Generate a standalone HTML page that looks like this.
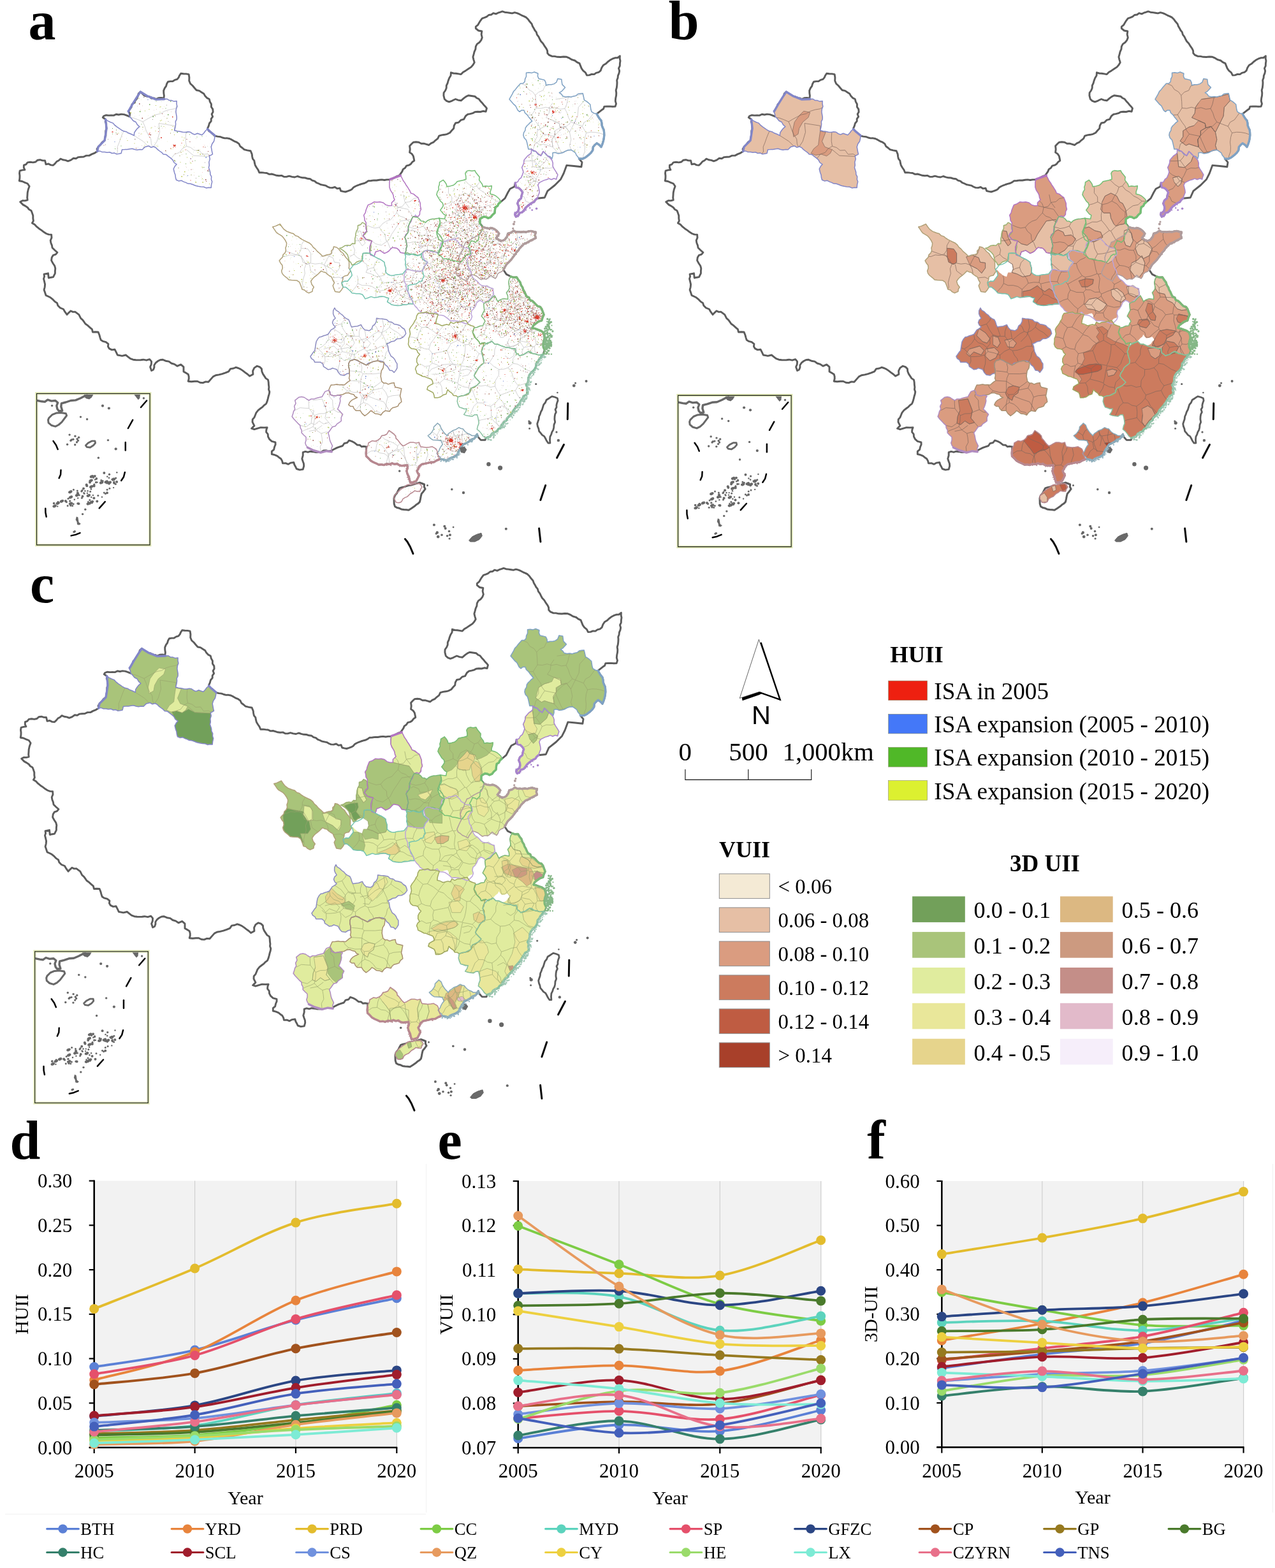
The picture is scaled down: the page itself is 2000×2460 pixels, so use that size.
<!DOCTYPE html>
<html lang="en"><head><meta charset="utf-8"><title>Figure</title>
<style>html,body{margin:0;padding:0;background:#fff}svg{display:block}</style></head>
<body>
<svg width="2000" height="2460" viewBox="0 0 2000 2460" role="img" aria-label="Urban intensity index maps and charts">
<rect width="2000" height="2460" fill="#fff"/>
<defs>
<g id="cn" fill="none" stroke="#5c5c5c" stroke-width="2.9" stroke-linejoin="round">
<path d="M500,288 L496.4,286.7 L493.5,284.2 L489.8,283.2 L486.8,280.8 L482.7,280.3 L478.7,279 L474.5,278.8 L470.5,277.8 L466.6,276.5 L462.3,278 L458,277.4 L453.6,276.1 L449.3,277.4 L445.3,277.3 L441.7,275.4 L437.7,275.8 L433.8,275.3 L430.1,274.1 L426.3,273 L422.3,273.4 L418.5,271.5 L414.6,271.1 L410.7,270.6 L406.7,270.7 L405,266.6 L402.5,263 L400.3,259.2 L399.4,255.7 L398.8,252.1 L396.4,249.1 L395.6,245.5 L395.2,241.9 L393.1,236.8 L388.1,235.9 L383.1,234.7 L380.1,232 L376.7,229.5 L374.9,225.6 L371.5,223.2 L367.5,221.6 L363.9,219.4 L360,217.5 L356.4,216.8 L352.6,216.9 L349.1,216 L345.6,214.6 L341.3,214.1 L337,213.1 L333.9,210.4 L331,207.6 L327.5,205.4 L325.5,201.6 L327.3,197.7 L328.4,193.5 L331.2,190.1 L331.2,186.3 L333.6,183.1 L332.1,179 L334.1,175.7 L333.8,171.4 L331.4,167.7 L331.4,163.3 L329.3,159.6 L328.3,155.5 L324.5,153.6 L321.7,150.6 L319.7,146.9 L316.1,144.7 L312.6,142.4 L308.2,141.5 L305.3,138.2 L302.2,134.5 L298.6,131.2 L296.7,126.7 L296.9,121.6 L296.1,116.6 L292,115.9 L287.8,115.7 L283.7,115.2 L281.7,118.2 L280.2,121.6 L277.9,124.4 L274.3,125.4 L271,127.5 L267.2,127.6 L263.5,128.2 L261.6,131.4 L260.6,135.1 L258.4,138.2 L256.7,142.1 L256.8,146.1 L257.4,150.1 L256.9,154.1 L252.7,153.5 L248.7,153.7 L244.8,155.5 L241.3,153.9 L237.3,154.2 L234.3,151.4 L230.4,151.2 L226.4,149.8 L223.3,147 L220.3,144 L217.3,146.8 L216.3,150.8 L214.8,154.6 L212.4,157.7 L210.6,161.3 L207,163.7 L206.2,167.8 L203.9,171.1 L201.6,174.3 L203.6,178.4 L203.1,182.9 L198.9,181.1 L194.7,179.6 L190.1,179.1 L186.2,180 L182.2,179.3 L178.4,181.1 L174.5,181 L170.5,181.1 L166.5,180.7 L162.7,182 L161.3,184.3 L165.6,187.2 L165.3,190.9 L166.7,194.4 L166.5,198 L167.1,201.6 L165.8,205.2 L165.8,209.1 L165.9,212.9 L164.4,216.5 L164.2,220.3 L160.4,223.2 L157.5,227.1 L154.1,230.4 L152.1,233.7 L152.6,237.6 L148.5,240.1 L144,241.9 L139.9,244.1 L135.3,244.1 L131.2,246 L126.7,246.3 L122.8,246.6 L119.2,248.8 L115.2,248.3 L111.2,251.1 L106.6,252.9 L102.8,251.4 L98.7,250.8 L95,249.1 L92.2,251.7 L88.8,253.6 L86.3,256.6 L83.5,259.2 L79.6,258.9 L76,257 L72,257.8 L70.6,252 L66.7,251.9 L62.9,250.7 L59,251.2 L55.9,254 L51.8,254.9 L47.5,254.3 L43.2,254.9 L40.9,257.8 L37.4,259.2 L37.3,263 L38.9,266.4 L34.9,266.9 L31.1,267.9 L30.5,271.8 L31,275.8 L30.9,279.8 L30.2,283.7 L34.8,284.5 L38.9,286.3 L43.2,288 L46.1,292.3 L44.3,297.2 L43.2,302.4 L43,306.2 L42.7,310.1 L43.2,313.9 L39.4,314.9 L35.3,314.8 L31.7,316.8 L36,321.1 L39.7,323.1 L43.2,325.5 L45.5,328.5 L49,330.4 L50.4,334.1 L51.8,338.3 L51.8,342.7 L52.4,346.5 L50.4,349.9 L54.4,352.3 L57.6,355.7 L61.3,358.7 L65.3,361.4 L69.1,364.3 L72.6,366.5 L76.4,367.9 L80.6,368.1 L81,372.9 L79.2,377.3 L79.9,381.2 L81.4,384.9 L82.1,388.8 L85.9,392.5 L89.9,396 L87.4,399.1 L83.5,400.3 L81.2,404.1 L80.6,408.6 L83,413 L85.8,417.3 L86.8,421.1 L86.4,425 L86.4,428.8 L83.5,434.6 L79.9,435.2 L76.3,436 L75.9,432.4 L75.5,428.8 L69.1,430.2 L69.6,433.9 L68.5,437.4 L69.6,441.7 L70.6,446.1 L70.2,450.5 L69.1,454.7 L70.6,459 L72,463.4 L75.6,465 L79.2,466.8 L83,469.9 L86.4,473.4 L89.6,475.5 L90.7,479.2 L94.4,483 L99.4,485 L102,489.4 L105.1,493.6 L107.9,490.6 L110.9,487.8 L114.3,489.4 L118.1,489.3 L123.8,493.6 L126.7,499.4 L129.6,501.8 L131.8,504.9 L133.9,508 L137.6,510.7 L141.1,513.8 L144.4,516.7 L145.4,521 L149.8,520.7 L154.1,521 L155.8,525.2 L157,529.6 L158.2,533.2 L161.3,535.4 L166.1,536.6 L169.9,539.7 L169.4,543.6 L171.4,546.9 L175.5,548.9 L180,548.3 L182.3,552.6 L184.3,557 L187.9,557.6 L191.5,558.4 L197.3,557 L200.9,559.8 L204.5,562.7 L208.7,564.2 L213.1,564.7 L217,564.9 L220.8,564.7 L224.7,564.2 L229.8,565.2 L234.7,563.6 L237.6,567.1 L237.3,571.6 L235.6,575.7 L237.6,581.5 L240.5,580 L241.9,576.5 L241.9,572.8 L244.3,569.2 L247.7,566.5 L251.1,564.7 L254.9,564.2 L259.8,566.2 L265,567.1 L268.9,570 L273.6,571.4 L277.9,574.3 L283.7,571.9 L288,575.7 L288,582.9 L291.6,585.1 L295.2,587.2 L296.2,590.9 L296.2,594.5 L295.2,598.2 L300.2,598.8 L305.3,598.2 L309.8,598.3 L313.9,600.2 L318.3,600.6 L322.5,598.9 L326.9,599.3 L331.2,594.4 L334.3,590.9 L338.4,588.7 L343.5,587.9 L348.5,586.6 L353.6,584.9 L358.6,582.9 L361.5,578.6 L366,578 L370.1,576.3 L373.8,577.5 L377.3,579.1 L381,581.6 L384.5,584.3 L388.2,587 L391.7,590.1 L396.9,587.2 L396.6,581.9 L398.9,577.1 L403.2,574.3 L407.3,575.6 L410.4,578.6 L410.8,582.8 L412.4,586.6 L414.7,590.1 L417,593.6 L420.5,595.9 L421.2,599.7 L421.4,603.6 L421.9,607.4 L421.5,611 L422.8,614.7 L422.2,618.3 L421.1,621.8 L420.2,625.7 L419.1,629.6 L417.6,633.3 L414.6,635.6 L412,638.3 L409,640.5 L405,643.7 L401.8,647.7 L400.4,651.3 L398.9,654.9 L396.2,658 L396,662.1 L398.9,667.9 L394.6,672.2 L398.9,673.6 L403.9,672.1 L409,670.7 L414.1,670.9 L419.1,670.7 L417.8,674.2 L417.6,677.9 L420.2,681.1 L420.5,685.1 L422.7,689.2 L426.3,692.3 L432,693.8 L432.1,697.5 L430.6,701 L429.6,705.3 L426.3,708.2 L426.3,712.5 L430.7,713.7 L434.9,715.4 L437.7,717.7 L440.7,719.7 L442.6,723.1 L443.5,726.9 L448,726.7 L452.2,728.3 L456.2,726.1 L460.8,725.5 L461.8,729 L463.6,732.2 L465.1,735.5 L470,737.1 L475.2,736.4 L476.7,731.2 L476.4,727.2 L475,723.5 L473.8,719.7 L475.2,714.7 L475.2,709.6 L479,708.4 L483,709.4 L486.8,708.2 L491.2,708.7 L495.6,709.6 L500,709.6 L503.9,709.2 L507.4,706.9 L511.4,706.7 L515.5,707.9 L519.4,707.3 L523,705.3 L528.8,702.4 L533.1,700.8 L537.4,699.5 L539.9,695.7 L544.8,694.5 L547.5,690.9 L551.8,692.3 L556.4,694.8 L560.5,698.1 L564.2,698.2 L567.4,700.8 L571.3,700.3 L574.9,701 L574.5,706.5 L574.2,711.1 L574.5,715.8 L578.1,719.1 L581.4,722.7 L585.9,725.2 L590.6,727.3 L594.2,729.1 L598.3,728.7 L602.1,729.6 L606.5,727.7 L611.3,728.4 L615.1,726.8 L619.1,728.3 L622.9,727.3 L626,729.6 L629.8,730.7 L634.4,730.2 L639,729.6 L639.4,734.3 L637.8,738.8 L639.1,743.6 L641.3,748 L642.4,752.6 L643.6,757.2 L648.3,756.4 L652.8,754.9 L655.2,750.3 L657.4,745.7 L655.5,742.4 L654,738.8 L656.2,735.6 L657.4,731.9 L661.5,728.5 L666.6,727.3 L671.2,726.4 L675.8,725.1 L680.5,725 L685,722.4 L689.7,720.4 L692,720.4 L696.7,721.1 L701.2,722.7 L704.2,719.8 L708.1,718.1 L712.9,716.3 L717.3,713.5 L719.4,708.7 L721.9,704.2 L724.4,700.9 L726.5,697.3 L731.3,695.3 L735.8,692.7 L739.4,689.6 L743.8,688.1 L746.4,684.8 L748.4,681.2 L749.6,685.3 L754.2,690.4 L761.1,690.4 L762.1,687.3 L765.5,685.9 L769,685 L771.5,680.6 L775.9,678.1 L779.5,676.5 L781.8,673 L785.2,671.2 L786.6,667.6 L788.9,664.7 L791.1,661.7 L794.4,659.6 L795.9,656 L798.4,653.4 L801,650.7 L803.6,648.1 L805.5,643.7 L808.5,640.1 L811.7,636.6 L814.7,633 L817,628.9 L819.7,625.1 L821.7,621.4 L825.7,619.5 L827.8,615.9 L826.5,612.1 L827.4,607.9 L825.5,604.3 L827.8,600.8 L828.8,596.9 L828.9,592.8 L830.5,588.2 L833.3,584.5 L837,581.3 L839.3,578.2 L840.9,574.6 L841.2,570.5 L843.9,567.5 L845.4,564.1 L847.8,561.3 L849.7,558.2 L852,555.9 L854.3,549 L852.3,544.6 L852,539.8 L852.8,535.1 L854.3,530.6 L853.7,525.9 L852,521.4 L847.7,518.5 L842.8,516.8 L838.8,515.4 L834.7,514.5 L836.9,510.4 L840.5,507.6 L844.6,504.4 L849.7,502.9 L851.1,498.2 L853.1,493.7 L851.4,489.1 L849.7,484.5 L847.3,481.3 L843.3,480.3 L840.5,477.6 L837.9,474.7 L835,472.1 L831.2,470.7 L829.9,466.9 L826.1,465 L824.3,461.5 L822.8,457.9 L820.8,454.6 L819.6,450.8 L817.4,447.6 L816,442.9 L813,439.1 L810.5,435 L805.8,435.3 L801.3,433.8 L794.4,430.4 L789.8,423.5 L789.8,422.9 L792.1,418.9 L794.4,414.9 L797.9,411.5 L801.3,408 L803.6,404.9 L805.9,401.9 L808.2,398.8 L810.4,395.6 L813.2,392.9 L815.1,389.5 L818.5,386 L822,382.6 L826.8,380.7 L831.2,378 L835.8,375.7 L840.5,373.4 L839.2,368.8 L840.5,364.2 L836.6,363.7 L832.9,362.4 L828.9,363 L825.2,364.2 L821.2,363.5 L817.4,364.2 L813.5,363.6 L809.5,363.9 L805.9,361.9 L801.7,365 L796.7,366.5 L795.3,371.5 L792.1,375.7 L788.8,377.4 L785.2,378 L781.7,375.7 L778.2,373.4 L780.8,370.1 L782.9,366.5 L779.8,362.7 L775.9,359.6 L771.5,357.7 L766.7,358.4 L762,357.6 L757.5,356.1 L752.9,350.4 L752.9,343.5 L758.7,340 L762.4,340.5 L765.6,342.3 L769.8,340.6 L772.6,337 L775.9,334.2 L776.4,329.6 L777.1,325 L780.5,323 L782.2,319.4 L785.2,317 L792.1,311.2 L796.7,302 L800.1,296.2 L807,292.8 L808.2,287 L809.4,293.9 L814,295.1 L817.3,298.2 L819.7,302 L818.2,306.5 L817.4,311.2 L813.5,314.5 L811.7,319.3 L813.4,323.1 L814,327.3 L813,331.1 L810,333.6 L807.7,336.5 L809.4,340 L812.9,337.8 L815.1,334.1 L819.4,332.9 L822,329.6 L824.5,325.9 L827.7,323 L831.2,320.4 L834.2,318.3 L837.8,316.8 L839.9,313.5 L842.8,311.2 L854.3,310 L858.9,299.7 L870.4,290.5 L879.6,281.2 L884.2,272 L888.8,259.4 L900.4,260.5 L911.9,261.7 L913,254.7 L908.4,249 L913.9,249.1 L918.8,246.7 L923,243.4 L926.9,239.8 L929.8,235.7 L930.3,230.6 L933,227.5 L936.1,224.8 L939.9,227.2 L943,230.6 L944.9,226 L946.4,221.3 L947.3,216.7 L947.8,212.1 L947.6,207.5 L947.1,203.7 L945.4,200.2 L944.1,196.7 L943.9,192.8 L943,189.1 L940.3,185.9 L938.1,182.4 L936.1,178.7 L943.5,172.8 L946.6,170.7 L947.9,167.1 L952.2,167 L956.5,166.9 L960.8,167.3 L965.1,167.1 L966.5,162.9 L965.3,158.4 L965.7,154.1 L966.6,149.8 L966.8,145.8 L966.2,141.7 L967.3,137.7 L967.8,133.6 L968,129.6 L967.7,125.8 L969.1,122.3 L969.4,118.6 L970.9,115.2 L971.7,111.3 L970.5,107.2 L972.3,103.4 L972.4,99.4 L973,95.5 L972.2,91.7 L972.4,87.8 L969,90.5 L964.7,90.8 L960.8,92.2 L956.9,94.3 L953.4,97 L950.2,100.1 L946.4,102.2 L943.8,106.3 L942.1,110.9 L939.1,113.4 L935.1,114.3 L932,116.6 L928.1,116.4 L924.4,117.9 L920.5,118.1 L918.4,113.8 L914.7,110.9 L912.2,107.4 L910.6,103.4 L909,99.4 L905.1,97.6 L901.8,95 L897.2,93.7 L893.1,91.2 L888.8,89.3 L884,89 L879.2,89.5 L874.4,89.3 L870.1,88.4 L865.6,88.2 L861.5,86.4 L858.8,83.6 L858.6,79.7 L857.1,76.3 L854.3,72.4 L851.8,68.3 L848.5,64.8 L846.6,61.2 L844.9,57.6 L842.4,54.3 L841.3,50.4 L838.9,47.5 L837.2,44.2 L835.3,41 L834.1,37.4 L831.1,34.1 L828.6,30.6 L825.5,27.4 L822,25.6 L818.3,24.1 L814.8,22.2 L811.1,20.7 L807.3,19.6 L803.3,20.9 L799.5,20.2 L795.6,19.6 L791.7,19.2 L788,17.9 L784.6,19.1 L781.2,20.2 L777.9,21.9 L773.8,20.7 L770.7,23 L766.7,23.5 L763.6,26.1 L760,27.7 L756.3,28.8 L753.9,32.1 L751.7,35.6 L749.6,39.2 L746.3,41.8 L746.3,44.6 L750.5,48 L755.8,49 L755.1,54 L756.3,59 L754.7,63.2 L752,66.5 L748.3,69.1 L746.3,72.9 L745.9,77.2 L744.1,81.1 L743.1,85.2 L741.9,89.3 L742.9,93.6 L744.2,97.9 L742,101.7 L739.1,105.1 L734.7,108 L730.4,110.9 L726.4,113.3 L723.2,116.6 L719.2,115.9 L715.3,115.2 L711.3,115 L707.4,113.8 L707.1,118.5 L704.7,122.4 L703.1,126.7 L702.1,130.5 L700.3,134.1 L700.2,138.2 L698.6,142 L696.1,145.5 L695.9,149.8 L697.3,155.5 L700.5,158.4 L704.5,159.9 L708,158.7 L711.2,157 L714.6,155.5 L718.8,157.1 L723.2,157.8 L727.5,154.1 L730.9,151.6 L734.7,149.8 L739.7,150.5 L744.8,151.2 L747.6,153.7 L751.1,155.3 L753.5,158.4 L756.1,161.2 L758.5,164.2 L761.1,166.9 L763.5,169.9 L762.1,175.1 L757.7,174.3 L753.5,175.5 L749.1,175.3 L744.8,175.7 L741.4,177.7 L737.5,178.6 L733.6,179.4 L730.4,182 L727.5,187.2 L722.9,188.4 L719.4,192.1 L714.6,193 L712.3,197 L711.7,201.6 L708.6,204.8 L705.7,208.2 L701.6,210.3 L697.3,211.3 L693,211.9 L688.7,213.1 L686.7,217.4 L682.9,220.3 L679.9,223.2 L676,224.8 L672.8,227.5 L668.9,226.3 L664.9,225.2 L660.7,225.2 L657,223.2 L652.6,222.8 L648.3,223.2 L645.4,226 L642.6,229 L643.2,234.1 L642.6,239.1 L646,241.4 L648.3,244.8 L649.1,248.4 L649.8,252 L646.8,254.1 L644.5,257.2 L641.4,259.2 L637.5,260.2 L635.4,263.5 L632.2,265.6 L630.8,269.1 L628.7,272.1 L626.7,275.1 L622.7,276.6 L618.9,278.6 L615.1,280.7 L610.9,281.7 L606.9,281.9 L603,282.5 L599,281.9 L595,282.3 L590.7,283 L586.4,282.9 L582.1,283.5 L577.8,283.7 L574.8,285.9 L571.5,287.5 L567.9,288.4 L564.4,289.5 L560.9,290.8 L557.6,292.3 L554.5,294.1 L551.9,296.9 L548.7,298.7 L545.3,299.9 L541.8,301 L538.2,300.3 L534.6,299.5 L533.1,295.2 L529.1,295.9 L525.3,293.5 L521.3,294.6 L517.3,294.4 L513.9,293 L510.7,291.1 L507,290.4 L503.3,289.7Z"/>
<path d="M619.5,777.3 L622.5,773.8 L624.5,769.7 L626.7,765.8 L630.3,764.6 L634,763.9 L637.6,762.7 L641.1,761.5 L645.5,760.9 L649.8,759.6 L654.1,758.4 L658.4,757.1 L662,758.5 L665.6,760 L665.3,763.8 L667.1,767.2 L664.3,770.9 L661.3,774.4 L660.2,778.7 L659.4,783.1 L658.4,787.4 L655.8,790.1 L652.6,792.1 L649.8,794.6 L645.5,797.5 L641.1,800.3 L637.3,799.7 L633.4,799.5 L629.6,798.9 L626.3,797.3 L622.7,796.5 L619.5,794.6 L618.2,790.4 L618.1,785.9 L618,781.5Z" stroke-width="3"/>
<path d="M865.8,621.8 L870.2,623 L874.4,624.7 L875.1,628.4 L873.8,631.9 L872.9,635.5 L873,639.1 L871,642.4 L872.4,646.5 L870.7,649.9 L870.1,653.5 L869.9,657.8 L870.7,662.2 L869,666.4 L868.7,670.7 L867.8,674.5 L865.8,677.9 L864.7,681.7 L862.9,685.1 L862.5,690.2 L862.9,695.2 L860,695.2 L857.6,691.8 L855.7,688 L853.8,684.6 L850.4,682.4 L848.1,679.4 L845.6,676.5 L844.9,672.6 L843.4,668.9 L842.7,665 L843.9,661.2 L845.2,657.5 L845.6,653.5 L847.2,650 L848.4,646.2 L850.3,642.8 L851.4,639.1 L852.7,634.9 L855.5,631.5 L857.1,627.5 L861.5,624.7Z" stroke-width="2.8"/>
<path d="M890.8,632.7 L890.3,657.8" stroke="#0a0a0a" stroke-width="3" stroke-linecap="round"/>
<path d="M884.5,697.5 L873.6,718.3" stroke="#0a0a0a" stroke-width="3" stroke-linecap="round"/>
<path d="M855.7,761.5 L847.9,784.5" stroke="#0a0a0a" stroke-width="3" stroke-linecap="round"/>
<path d="M845.6,829.1 L847.9,849.9" stroke="#0a0a0a" stroke-width="3" stroke-linecap="round"/>
<path d="M635.4,845.6 L639,850 L643.5,858 L648,868.7" stroke="#0a0a0a" stroke-width="3" stroke-linecap="round"/>
<circle cx="766.4" cy="728.3" r="3.2" fill="#666" stroke="none"/>
<circle cx="784.6" cy="734.1" r="3.6" fill="#666" stroke="none"/>
<circle cx="708.8" cy="767.8" r="1.8" fill="#666" stroke="none"/>
<circle cx="727.0" cy="773.0" r="2.2" fill="#666" stroke="none"/>
<circle cx="626.7" cy="739.0" r="1.8" fill="#666" stroke="none"/>
<circle cx="670.5" cy="761.5" r="1.5" fill="#666" stroke="none"/>
<circle cx="919.6" cy="597.9" r="2" fill="#666" stroke="none"/>
<circle cx="900.3" cy="605.1" r="2.4" fill="#666" stroke="none"/>
<circle cx="902.6" cy="601.0" r="1.6" fill="#666" stroke="none"/>
<circle cx="874.4" cy="616.0" r="1.3" fill="#666" stroke="none"/>
<circle cx="840.7" cy="602.5" r="1.6" fill="#666" stroke="none"/>
<circle cx="831.2" cy="663.5" r="2.6" fill="#666" stroke="none"/>
<circle cx="830.6" cy="672.2" r="1.5" fill="#666" stroke="none"/>
<circle cx="829.8" cy="660.7" r="1.5" fill="#666" stroke="none"/>
<circle cx="873.0" cy="677.9" r="1.6" fill="#666" stroke="none"/>
<circle cx="875.9" cy="690.9" r="2.2" fill="#666" stroke="none"/>
<circle cx="793.8" cy="829.7" r="2" fill="#666" stroke="none"/>
<circle cx="680.9" cy="823.4" r="2" fill="#666" stroke="none"/>
<circle cx="697.3" cy="825.7" r="2" fill="#666" stroke="none"/>
<circle cx="698.7" cy="829.1" r="2" fill="#666" stroke="none"/>
<circle cx="711.1" cy="827.1" r="1.4" fill="#666" stroke="none"/>
<circle cx="685.8" cy="835.5" r="2.2" fill="#666" stroke="none"/>
<circle cx="693.0" cy="839.2" r="1.8" fill="#666" stroke="none"/>
<circle cx="704.5" cy="833.5" r="1.8" fill="#666" stroke="none"/>
<circle cx="705.9" cy="839.2" r="2" fill="#666" stroke="none"/>
<circle cx="687.2" cy="842.1" r="2.4" fill="#666" stroke="none"/>
<circle cx="701.6" cy="840.7" r="1.8" fill="#666" stroke="none"/>
<circle cx="684.3" cy="837.2" r="1.6" fill="#666" stroke="none"/>
<circle cx="705.1" cy="845.0" r="1.6" fill="#666" stroke="none"/>
<path d="M735.6,847.9 L740.5,842.1 L747.7,838.4 L754.9,836.3 L756.3,840.7 L752,846.4 L744.8,849.9 L737.6,849.9Z" fill="#6a6a6a" stroke="#666" stroke-width="1"/>
</g>
<path id="vor" d="M182.2,241.1 L184.5,238 L184.2,230.4 L186.9,223.9 L189.2,217.2 L191.8,210.6 L193.9,206.1 M276.9,168.8 L273.2,170.8 L265.5,172.1 L258.2,174.4 L251.7,178.4 L244,180 L237.3,183.4 L230.6,187 L224,191 M224,191 L216.8,187.8 L209.3,185 L205.1,184.5 M292.5,229.4 L299.2,231.5 L304.9,236 L312.6,235.6 L317.4,242.2 L325.3,241.6 L329.2,244 M292.5,229.4 L286,233.2 L281.3,239.4 L273.9,241.9 L269,247.9 L268.4,248.3 M291.9,207.5 L291.3,213.8 L291.2,221.6 L292.5,229.4 M224,191 L227,197.9 L229.3,205 L232.6,211.7 L236.7,218.1 L237.4,225.8 L239.3,230.2 M886,170.4 L888.9,163.6 L890.5,156.3 L891.9,151.9 M886,170.4 L878.5,171.3 L871,168.8 L863.5,170.3 L856.1,168.2 L848.6,170.1 L841.1,169.5 M860.8,133 L854.9,134.9 L851.7,141.9 L844.7,144.6 L839.8,149.7 M841.1,169.5 L840.7,159.6 L839.8,149.7 M818.1,131.2 L818.2,131.4 L825.2,134.3 L829.1,140.4 L835.5,144 L839.8,149.7 M834.3,180 L827.4,180.4 M834.3,180 L841.1,169.5 M834.3,180 L837.6,186.2 L841.5,192.2 L845.8,197.8 L848.2,204.6 L852.5,210.3 M852.5,210.3 L848.4,216 L845,222.2 L838.5,226 L836.7,233.5 L835.3,235.4 M869.2,213.7 L872,220.6 L875.2,227.4 L878.1,234.3 L881.5,239.7 M869.2,213.7 L875.2,207.4 L881.6,201.5 L889.5,197.6 L895.8,191.5 M914.7,248.4 L914.5,245.3 L917.1,238.2 L917.4,230.7 L916.6,223.1 L917.5,215.7 L919.6,208.5 M895.8,191.5 L904.5,194.9 L913.3,198.2 M913.3,198.2 L919.6,208.5 M852.5,210.3 L860.8,212 L869.2,213.7 M886,170.4 L889.6,177.3 L891.9,184.8 L895.8,191.5 M947.5,211.3 L940.8,208.9 L933.7,207.6 L926.7,207.3 L919.6,208.5 M930.9,177.5 L927.5,182.3 L923.3,188 L916.5,191.8 L913.3,198.2 M832.5,319.1 L832.2,318.6 L825.2,316 L822,308.7 L818.4,307.2 M839,283.8 L844.3,275.3 L848.4,266.3 M839,283.8 L837.5,284.1 M837.5,284.1 L833.2,277.5 L825.8,274.4 L821,270.3 M848.4,266.3 L843.6,259 L838.4,252 M822.2,252.6 L830.1,252.6 L838.4,252 M845.9,286.4 L839,283.8 M867.8,262.8 L862.3,264 L855,263.6 L848.4,266.3 M818.7,299.9 L819.3,298.9 L827,295.7 L831.7,289.3 L837.5,284.1 M844.3,243.7 L843.2,246.6 L838.4,252 M476.9,377.6 L475.9,378.9 L472.4,385 L472,392.6 L468.2,398.6 M468.2,398.6 L461.3,400.6 L454,399.9 L447.3,402.6 L443.7,402.3 M508.7,415.6 L512,422.5 L513.3,429.7 M508.7,415.6 L501.6,413.3 L494.4,414.2 L487.3,412.8 L480.1,414.6 M480.1,414.6 L477.4,421.6 L478.3,429.2 L476.1,436.3 L474.4,443.4 L475.3,451 L473.8,452.9 M523.9,387.5 L522.8,391.4 L520.4,398.1 L515.1,403.1 L511.7,409.3 L508.7,415.6 M537.6,437.6 L532,434.9 L524.9,435.5 L521,436.1 M468.2,398.6 L474.9,406.1 L480.1,414.6 M554.2,382.5 L553.5,384.9 L556.6,392 L555.3,399 M555.3,399 L549.2,402.5 L546.9,404.8 M573.7,375.6 L569.6,375.9 L562.7,377.7 L557.2,377.8 M567.9,408.7 L566.7,407.5 L560.3,404.1 L555.3,399 M655.6,310.2 L648.7,311.6 L643.3,316.5 L635.8,317.5 L631.2,323.8 L624.1,325.7 M624.1,325.7 L621.5,319.1 L617.6,315.2 M612.8,390.2 L611.4,388 L608.8,381.4 L605,375.5 L604.3,367.6 L598.7,362.9 L595.3,356.7 M643.9,348.3 L639.6,346 L634.2,341.4 L627.3,339.1 L622.3,334 M595.3,356.7 L599.9,351.2 L605.7,347.2 L612.8,344.7 L617.4,339.2 L622.3,334 M575.3,353.3 L581.2,355.8 L588.1,357.9 L595.3,356.7 M624.1,325.7 L622.3,334 M638.8,380.1 L641.4,380.9 L649.4,379.5 L656.8,380.8 L663.2,386 L670.8,386.1 M669.9,392.9 L670.8,386.1 M667.2,349.3 L664.3,354.8 M690.4,370.1 L687.6,371.3 L681.3,374.6 L675.1,378.1 M664.3,354.8 L669,362.1 L670.7,370.7 L675.1,378.1 M642.1,356.3 L650,358.6 L657.2,357.3 L664.3,354.8 M670.8,386.1 L675.1,378.1 M662.5,425.3 L659.1,426.6 L651.9,426.4 M636.9,413.7 L640.8,417.4 L646.2,422 L651.9,426.4 M646.3,471.5 L644.5,470.3 L637.3,467.9 L631.1,463.7 L623.7,461.7 M648.4,445.9 L645.6,442 M645.6,442 L636.7,441.5 L628.1,443.2 L619.5,445.3 M623.7,461.7 L621.2,453.6 L619.5,445.3 M612.5,476.4 L614.1,472.4 L618.9,467.1 L623.7,461.7 M651.9,426.4 L647.9,433.9 L645.6,442 M618.3,432.1 L618.3,435 L617,443.2 M617,443.2 L619.5,445.3 M600.1,444.3 L590.3,453.9 M600.1,444.3 L597.7,437.6 L593.5,431.8 L588.9,426.3 L586.4,419.6 M590.3,453.9 L583.7,449.5 L576.3,447.7 L568.3,447.8 L561.3,444.7 M586.4,419.6 L579.4,421.5 L576,423.6 M560.2,432.3 L561.6,437.1 L561.3,444.7 M617,443.2 L608.5,442.9 L600.1,444.3 M589.9,466.4 L589.6,461.4 L590.3,453.9 M594.1,406.3 L588.5,412.2 L586.4,419.6 M551.1,458 L552.7,455.9 L557.8,450.8 L561.3,444.7 M751.9,332.8 L757.8,327.4 L764.2,322.8 L772.5,321.2 L778.2,315.5 M751.9,332.8 L744.9,327.1 L739.1,319.9 L731.1,315.5 M778.2,315.5 L772,310.8 L764.9,307.3 L759.4,301.8 L752.7,297.9 L747.6,291.8 M731.1,315.5 L734.9,308.2 L739.6,301.5 L742.2,293.6 M742.2,293.6 L747.6,291.8 M752,340.2 L754.6,342.1 M784.5,316 L778.2,315.5 M752,340.2 L751.9,332.8 M753.1,285 L752,286.3 L747.6,291.8 M728.1,282.5 L730.5,284.4 L735.9,289.6 L742.2,293.6 M702.7,292.8 L703.6,294.8 L703.4,302.7 L708.6,309 L708.8,316.8 M695.3,321.4 L695.4,321.4 L702.2,319.6 L708.8,316.8 M731.1,315.5 L724,319.1 L716.3,320.9 M716.3,320.9 L708.8,316.8 M752,340.2 L746.3,345.7 L740.8,351.3 L735.4,357.1 L729.6,362.4 M729.6,362.4 L733.2,369.4 L737.2,376.2 L741.2,378 M704.6,406.6 L705.2,404.8 L708.7,398.6 M736.8,393.3 L730.7,394.3 L723.4,396.6 L716.1,398 L708.7,398.6 M690.7,352.4 L693.8,351.2 L700.4,348.2 L707.9,348.3 L714.7,345.6 M695.2,375.6 L695.7,375.6 L702.3,379.9 M702.3,379.9 L708.1,374.8 L714.9,371 L720.9,366.1 L727.1,361.6 M714.7,345.6 L721.3,353.3 L727.1,361.6 M716.3,320.9 L715.9,329.1 L714.3,337.3 L714.7,345.6 M708.7,398.6 L704.1,389.7 L702.3,379.9 M729.6,362.4 L727.1,361.6 M773.1,383.6 L767.7,378.8 L762.8,373.6 L761.4,365.8 L756.7,363 M773.1,383.6 L781,382.1 M781,382.1 L781.8,376.1 M773.1,383.6 L765.3,392.8 M765.3,392.8 L758.2,392.4 L751.2,389.7 L743.8,392.4 L738.3,392.1 M793.5,390.2 L800.1,385.8 L805.8,380.3 L811.9,375.2 M793.5,390.2 L794.7,394 M794.7,394 L802,395.3 L806,401.2 M811.9,375.2 L815.4,382.4 L818.8,385.3 M781,382.1 L787.3,386 L793.5,390.2 M813.3,363.9 L811,367.7 L811.9,375.2 M768.8,411.6 L769,401.8 L765.3,392.8 M785,417 L790,410.1 L789.9,401 L794.7,394 M785,417 L776.7,414.7 L768.8,411.6 M785,417 L790,421.9 M743,416.3 L750.5,417.3 L757.6,419.7 M743,416.3 L737.5,421.1 L736,428.5 L731.8,434.1 L729.6,439.5 M757.6,419.7 L760.4,426.4 L761.6,433.3 L762.3,437.5 M768.8,411.6 L757.6,419.7 M735,400.2 L737.2,402.7 L739,410.1 L743,416.3 M708,429.4 L705.7,422.2 L704.4,414.7 L702.7,407.8 M708,429.4 L698.9,432.9 L689.4,434.9 M689.4,434.9 L684.5,432.6 M684.5,432.6 L680.4,426.6 L677.1,420.3 L675.4,413.3 M675.4,413.3 L681.2,407.8 L688.9,404.4 L690.5,402.6 M661.9,445.8 L669.5,441.4 L677.2,437.3 L684.5,432.6 M659.1,442.9 L661.9,445.8 M670.7,413.6 L675.4,413.3 M771.6,465.1 L770.7,464.6 L764.2,461.6 L757.3,459.9 M757.9,448.7 L757.2,450.5 L757.3,459.9 M757.3,459.9 L746.6,466.3 M744.9,480.9 L744.3,473.4 L746.6,466.3 M661.8,468.8 L666.9,474.3 L671.9,479.9 L677.8,484.6 M661.8,468.8 L655,470.8 L648.7,474.1 L648.5,474.1 M677.8,484.6 L676.7,491.6 M661.9,445.8 L665.9,455 M665.9,455 L662.6,461.5 L661.8,468.8 M727.2,506.4 L726.1,502.1 L719.4,497.9 L717.5,490.9 M744.9,480.9 L734.4,482.2 L724.2,479.5 M724.2,479.5 L717.5,490.9 M702.4,497.5 L702.5,497.4 L706.3,491.1 M706.3,491.1 L717.5,490.9 M746.3,439.8 L741.8,442.6 L735,446 M746.6,466.3 L741.3,458.8 L733.6,453.6 M735,446 L733.6,453.6 M735,446 L731.8,442.6 M708,429.4 L709.6,430.2 M709.6,430.2 L714.2,429.4 M714.4,464.7 L705.4,470.1 L699.1,478.4 M714.4,464.7 L714.7,461.2 M714.7,461.2 L712,458.1 M712,458.1 L704.5,458.4 L697.6,454.8 L690.2,454.7 M690.2,454.7 L686.4,458.7 M686.4,458.7 L688.8,467.8 L687.1,477 M687.1,477 L699.1,478.4 M724.2,479.5 L719,472.3 L714.4,464.7 M706.3,491.1 L704.1,484 L699.1,478.4 M733.6,453.6 L724,457.1 L714.7,461.2 M709.6,430.2 L712.2,437 L711.3,444.1 L710.5,451.2 L712,458.1 M689.4,434.9 L688.4,444.9 L690.2,454.7 M665.9,455 L675.9,458.6 L686.4,458.7 M677.8,484.6 L687.1,477 M661.5,513.8 L657.2,522.3 L654.8,531.5 M661.5,513.8 L656,509.3 L650.9,504.4 L650.7,503.9 M654.8,531.5 L648,529.1 L642.3,528.7 M668.5,513.1 L672.3,506.5 L676.1,499.9 L681.3,494.3 L683.3,492.6 M668.5,513.1 L661.5,513.8 M652.2,548 L652.3,547.9 L659.3,544.1 M659.3,544.1 L654.8,531.5 M656.2,572.4 L659.7,571.2 L666.6,575 L673.9,573.8 M659.3,544.1 L665.8,547 L672.8,548 M677.8,569.7 L673.9,573.8 M677.8,569.7 L676.8,562.2 L678.5,554.8 M678.5,554.8 L672.8,548 M673.9,573.8 L672.1,581.9 L671.5,590.1 L671.4,592.7 M757,555.1 L751.4,554.9 M744.7,529.3 L744.2,529.5 L738.9,534.1 L735.4,540.5 M735.4,540.5 L741,545 L746.6,549.5 L751.4,554.9 M730,509 L727.6,514.9 L723.8,520.9 L718,525.3 M718,525.3 L712.9,518.2 L707.4,511.5 L705.2,509.1 M668.5,513.1 L677.5,517.9 L685.5,524.1 M696.1,510.9 L695.9,511.1 L690.3,517.3 L685.5,524.1 M672.8,548 L675.2,539.2 L680.5,532 L685.7,524.8 M737.2,614.5 L735.1,608.1 M735.1,608.1 L737.3,599.6 L743.8,593 L744.4,590.8 M751.4,554.9 L747.8,562.5 L745,570.6 L739,576.8 M746.1,584.5 L739,576.8 M696.8,594.7 L703.9,596.6 L711,598.3 L717.9,600.9 M696.8,594.7 L689.8,600.7 M689.8,600.7 L692.9,607.1 L693.4,614.3 L694.8,619.6 M710.7,618.9 L712.6,616 L716.5,609.8 L719,602.8 M719,602.8 L717.9,600.9 M698.5,578.6 L699.6,586.9 L696.8,594.7 M677.8,569.7 L685,572 L691.3,576.3 L698.5,578.6 M679.3,601 L680.3,601.3 L689.8,600.7 M735.1,608.1 L726.6,606.8 L719,602.8 M723.6,573.9 L731.3,575.2 L739,576.8 M723.6,573.9 L721.4,582.8 L720.1,592 L717.9,600.9 M730,540.8 L729.7,549.2 L728.5,557.5 L726.6,565.6 L723,573.4 M730,540.8 L718.1,533.9 M718.1,533.9 L707.3,539.1 M707.3,539.1 L701.1,550.1 M701.1,550.1 L703.8,557.2 L705.9,564.6 L710.4,570.9 M710.4,570.9 L723,573.4 M735.4,540.5 L730,540.8 M718,525.3 L718.1,533.9 M685.7,524.8 L694.1,527.7 L700.3,534 L707.3,539.1 M678.5,554.8 L686.1,553.2 L693.6,551.8 L701.1,550.1 M698.5,578.6 L703.9,573.9 L710.4,570.9 M782.5,472.1 L777.9,479.3 L772,487.1 M760,486.1 L765.1,484.9 L772,487.1 M816.5,445.6 L811.6,448.3 L805.2,451.3 M829.9,467.7 L824.6,466.8 L815.9,466.3 L807.1,466 M805.2,451.3 L805.3,458.7 L807.1,466 M798.5,445.3 L800.7,445.6 L805.2,451.3 M815.5,493.8 L826.6,492 M826.6,492 L827.6,483.8 L830.3,476 L832.1,471.4 M798.3,480.7 L797.3,477.5 M798.3,480.7 L804.6,484.4 L811,487.9 L815.5,493.8 M797.3,477.5 L802.3,471.9 L807.1,466 M783.8,471.3 L790.7,473.3 L797.3,477.5 M759.4,524 L767.6,530.8 L770.3,535.4 M759.4,524 L752.3,525.9 L748.1,530.6 M762.5,511.2 L759.4,524 M759.2,507.4 L762.5,511.2 M826.6,492 L828.8,494.1 M851.8,496 L844.3,494.7 L836.6,494.1 L828.8,494.1 M798.3,480.7 L795.5,488.8 L788.4,494.2 L785,501.8 M815.5,493.8 L811.1,500 L807,506.4 L804.5,513.7 M804.5,513.7 L797.4,510.7 L792.3,504.4 L785,501.8 M762.5,511.2 L773.7,508.7 M784.8,529.2 L782.7,521.5 L775.5,516.6 L773.7,508.7 M772,487.1 L774.9,495.3 L778.8,503.1 M785,501.8 L778.8,503.1 M778.8,503.1 L773.7,508.7 M819.5,556.6 L818.7,551.9 L821.6,545.2 M841.9,555.8 L838.9,550.9 L838.5,543.6 M821.6,545.2 L830,543.5 L838.5,543.6 M847.9,519 L841.7,518.9 L834.9,521.2 M828.8,494.1 L828.1,503.1 L830.6,511.6 L832.4,520.3 M834.9,521.2 L832.4,520.3 M852,538.2 L848.2,540.3 L841,539.8 M834.9,521.2 L839.6,529.9 L841,539.8 M841,539.8 L838.5,543.6 M817.1,525.9 L816,537 M817.1,525.9 L810.5,521.9 L805,516.3 M816,537 L808.2,541.7 L799.4,544.1 M805,516.3 L797.1,522.6 L789.5,529.3 M799.4,544.1 L795.6,536 L795.4,535.7 M821.6,545.2 L816,537 M832.4,520.3 L824.5,522.3 L817.1,525.9 M804.5,513.7 L805,516.3 M799.2,545.3 L799.4,544.1 M784.8,529.2 L789.5,529.3 M760,569.9 L760.2,570.1 L767.7,568.6 M779.6,541 L778.4,542 L775.9,548.8 L775.7,556.6 L771.7,562.6 L767.7,568.6 M812.9,605.1 L820.5,602.8 L827.6,600.4 M812.9,605.1 L807.8,598.7 L804.6,591.2 L802.4,583.2 L797.1,576.9 M834.7,582.9 L831.3,582.3 L824.5,579.4 L818.3,575.3 L812,571.3 L804.6,570.2 M797.1,576.9 L804.6,570.2 M809.4,555.1 L809.4,556.4 L804.7,562.7 L804.6,570.2 M782.7,579.6 L774.6,574.9 L767.7,568.6 M782.7,579.6 L790.1,579.2 L797.1,576.9 M782.7,579.6 L782.3,588.8 L777.2,597 L776.5,606.1 M776.5,606.1 L769.1,607.5 L761.7,604.6 L754.3,605.7 L749.3,605.1 M808.5,612.7 L800.2,614 L792.5,617.1 L784.5,619.7 M812.9,605.1 L808.5,612.7 M776.5,606.1 L780,613.2 L784.5,619.7 M808.5,612.7 L811.6,619.3 L815.7,625.3 L817.9,627.1 M802.5,648.8 L801.2,647.5 L796.7,641.9 L791.6,636.9 L788.4,630.1 L783.4,624.9 M784.5,619.7 L783.4,624.9 M769.8,637.3 L762.7,636 L756.2,632.1 L748.8,632 M769.8,637.3 L770.8,646.3 L770.4,655.3 M770.4,655.3 L762.6,657.2 L754.7,658.8 L751,660.4 M748.8,632 L743.2,637.2 L740.2,644.2 L737.1,651.2 L735.9,652.3 M783.4,624.9 L777.3,631.9 L769.8,637.3 M740.5,609.9 L742.1,615.1 L745.2,623.6 L748.8,632 M784.5,671.3 L780.2,665.8 L774.9,661 L770.4,655.3 M711.9,682.3 L710.5,675.7 M711.9,682.3 L707.7,689.2 L700.9,693.6 M692.5,673.4 L689,675.9 L685.5,683.1 M700.9,693.6 L694.1,690.9 L686.9,690 M686.9,690 L685.5,683.1 M677.2,678.4 L679.8,678.8 L685.5,683.1 M702.8,703.5 L697,707.9 L693.8,714.5 L691,717.4 M702.8,703.5 L700.9,693.6 M715.5,684 L725.1,682.5 L733.1,680.1 M715.5,684 L717.9,690.9 L721.9,697 L724.6,700 M734.6,680.8 L736.1,687.1 L736.2,691.9 M711.9,682.3 L715.5,684 M702.8,703.5 L709.6,707.8 L717.9,708.5 L719,708.9 M656.7,733.1 L651.4,729.5 M661.2,701.3 L659.2,707.8 L655.1,714.7 L654.6,722.5 L651.4,729.5 M627.6,695.7 L623.9,699.6 M598.6,684.3 L603,688.8 L610.2,692 L617.5,695 L623.9,699.6 M643.1,730.2 L651.4,729.5 M643.1,730.2 L637.7,724 L633.8,716.5 L628.9,709.9 L622.8,704.1 M622.8,704.1 L623.9,699.6 M608.7,716 L602.9,711.7 L595.6,710.6 L589.5,707 M608.7,716 L606.8,723.1 L606.4,727.4 M589.5,707 L582.1,707.6 L576,711.4 L574.6,712.8 M593.8,690.1 L593.6,690.6 L590.6,698.5 L589.5,707 M622.8,704.1 L614.8,708.9 L608.7,716 M643.1,730.2 L639.7,734.2 M524.8,511.3 L525,511.3 L534.5,508.4 M541.1,498.7 L539.7,502.7 L534.5,508.4 M494.8,545.6 L499.4,547.5 M514.6,524.8 L515.8,531.6 M499.4,547.5 L506,543.3 L511.6,538.2 L515.8,531.6 M544.5,525.3 L538.9,517.2 L534.5,508.4 M544.5,525.3 L539.6,531.1 L540.1,539.5 L535.1,545.3 M515.8,531.6 L521.3,537.6 L529.1,540.2 L535.1,545.3 M509.6,559.6 L516.9,559.5 L524.2,558.8 L531.3,556.9 M509.6,559.6 L510,566.9 L507.2,572.6 M531.3,556.9 L533,564.1 L532.5,571.1 L530.4,578.1 L531.2,584.3 M499.4,547.5 L505.1,553 L509.6,559.6 M536.8,551.6 L535.1,545.3 M536.8,551.6 L531.3,556.9 M555.7,557.1 L546.4,553.7 L536.8,551.6 M555.7,557.1 L555.5,563.5 M566.7,510.8 L565.5,513.6 L563.4,520.4 L563.4,527.6 M586.7,510.1 L590.3,512.5 L593.5,520.2 M593.5,520.2 L587.1,523.5 L581.5,528 L576,532.6 L570.1,536.7 M563.4,527.6 L570.1,536.7 M544.5,525.3 L553.8,527.7 L563.4,527.6 M555.7,557.1 L562.5,551.3 L570.6,547.6 M570.6,547.6 L570.1,536.7 M570.6,547.6 L575.2,550.2 M584.1,567.6 L582.7,562.8 L578.1,557 L575.2,550.2 M631.7,529 L629.4,526.8 L623.7,521.7 L617,518 L611,513.3 M611,513.3 L605.3,518.4 L598.4,521.7 M598.4,521.7 L601.7,528.5 L605,535.4 L605.6,543.2 M608.4,545.3 L605.6,543.2 M600.3,567.2 L603.9,561.1 L605.6,553.2 L609,549.2 M613.9,505.7 L613.5,506.6 L611,513.3 M593.5,520.2 L598.4,521.7 M575.2,550.2 L583,549.4 L590.4,547 L597.6,543.3 L605.6,543.2 M597.3,585.9 L594.9,585.7 L586.4,586.6 L577.8,586.5 L569.2,586.5 M569.2,586.5 L566.8,583.9 M566.8,583.9 L567.8,576.8 L566.2,570.2 M549.4,581.9 L550.6,582 L558.7,582.7 L566.8,583.9 M627.5,619.7 L622.2,620.2 L615.2,620.8 L608.3,623.1 M604.1,644.2 L605.4,638.2 L606.2,630.5 L608.3,623.1 M602.4,601.2 L602.5,601.7 L599.6,608.9 M599.6,608.9 L605,615.3 L608.3,623.1 M570.3,631.5 L569,619.3 M570.3,631.5 L564.1,635.6 L559.6,641.4 L557.6,643.2 M544.8,613.2 L554.9,615.6 L565.2,615.3 M544.8,613.2 L541,616.9 M565.2,615.3 L569,619.3 M598.1,649.9 L595.8,647.1 L587.9,645.4 L583.2,639 L577.5,634.2 L570.3,631.5 M599.6,608.9 L591.6,610.6 L583.7,612.3 L577.3,618.6 L569,619.3 M537.1,603.9 L539.2,608.3 L544.8,613.2 M569.2,586.5 L566.4,593.4 L565.6,600.7 L565.7,608.1 L565.2,615.3 M514.7,678.3 L510.8,677.9 L503.8,680 M502.8,709.6 L503,708.1 L502.2,701 L505.8,694.1 L505.1,687 L503.8,680 M491.2,669.3 L484.9,672.4 L478.1,674.8 L473.4,677.2 M491.2,669.3 L496.9,675.4 L503.8,680 M523.2,642.7 L522,635.5 L521.7,628 L516.3,621.8 L516.4,618.5 M523.2,642.7 L515.8,645.4 L508.7,648.8 L500.5,649 L493.3,651.9 M484.3,628.4 L484.3,633.6 L484.8,640.7 M493.3,651.9 L489,646.4 L484.8,640.7 M534.1,646.8 L529.4,646.5 L523.2,642.7 M491.2,669.3 L493,660.7 L493.3,651.9 M462.2,643.3 L463.9,643.3 L470.7,639.7 L477.7,640.3 L484.8,640.7 M210.2,212.6 L224.6,221.8 L231.8,229 M249.1,193.5 L273.6,197.3 L273.6,205.9 M249.1,193.5 L250.5,207.4 L246.2,221.8 L240.5,230.4 M292.3,234.7 L303.8,244.2 L328.3,245.4 M871.6,155.7 L895.8,152.2 L914.2,147.6 L916.5,158 L907.3,168.3 L906.1,182.2 L898.1,198.3 L893.5,207.5 L886.5,198.3 L878.5,200.6 L877.3,193.7 L867,189.1 L856.6,184.5 L861.2,177.6 L862.3,168.3 L867,161.4 M867,189.1 L877.3,193.7 L878.5,200.6 L870.4,205.2 L870.4,212.1 L865.8,219 L867,230.6 L858.9,228.2 L852,225.9 L847.4,228.2 L838.2,221.3 L842.8,214.4 L842.8,205.2 L852,199.4 L860,197.1 M878.5,200.6 L886.5,198.3 L893.5,207.5 L895.8,219 L893.5,228.2 L895.8,235.2 L886.5,237.5 L875,239.8 L867,230.6 L865.8,219 L870.4,212.1 L870.4,205.2 M833.5,234 L840.5,237.5 L848.5,244.4 L852,237.5 L858.9,244.4 L855.4,253.6 L845.1,262.8 L835.8,261.7 L834.7,251.3 L833.5,239.8 M826.6,278.9 L835.8,276.6 L841.6,281.2 L839.3,288.2 L834.7,292.8 L828.9,285.9 M715.8,316.8 L720.4,307.6 L729.6,303 L738.8,307.6 L743.4,316.8 L748,319.1 L752.6,328.3 L754.9,339.9 L750.3,351.4 L743.4,352.5 L737.6,354.8 L734.2,351.4 L729.6,342.2 L728.4,334.1 L718.1,334.1 L713.5,328.3 M687,358.3 L695,356 L704.2,361.8 L713.5,364.1 L716.9,372.1 L711.1,375.6 L704.2,379 L695,379 L691.6,371 L684.6,364.1 M643.2,344.5 L628.2,346.8 L623.6,353.7 L614.4,367.5 L609.8,376.7 L598.2,384.8 L589,382.5 L583.3,377.9 L579.8,388.2 L581,399.8 L586.7,402.1 L589,395.2 L595.9,392.9 L602.9,397.5 L609.8,394 L615.5,388.2 L622.4,389.4 L628.2,396.3 L635.1,397.5 L638.6,385.9 L635.1,372.1 L639.7,365.2 L642,351.4 M614.4,322.6 L628.2,326 L639.7,328.3 L647.8,339.9 M632.8,305.3 L635.1,316.8 L642,326 M642,362.9 L646.6,360.6 L654.7,364.1 L657,369.8 L667.4,368.7 L674.3,374.4 L669.7,382.5 L662.8,385.9 L657,392.9 L646.6,398.6 L636.3,397.5 L638.6,385.9 L636.3,374.4 M559.1,361.8 L566,362.9 L568.3,372.1 L572.9,381.3 L568.3,385.9 L563.7,379 L559.1,372.1 M472.7,389.4 L483,390.6 L487.6,397.5 L487.6,411.3 L483,414.7 L475,411.3 L472.7,402.1 M502.6,403.2 L510.7,399.8 L522.2,404.4 L524.5,411.3 L532.6,412.4 L532.6,420.5 L526.8,428.6 L519.9,421.7 L508.4,415.9 M448.5,394 L464.6,399.8 L473.8,402.1 M485.3,414.7 L487.6,425.1 L496.9,432 M591.3,457.4 L602.9,455.1 L614.4,448.2 L619,452.8 L625.9,457.4 L632.8,452.8 L639.7,457.4 L646.6,471.2 L647.8,477 L637.4,478.1 L628.2,479.3 L614.4,478.1 L607.5,473.5 L609.8,467.7 L602.9,465.4 L591.3,466.6 M569.4,397.5 L579.8,397.5 L586.7,402.1 L595.9,406.7 L602.9,411.3 L605.2,420.5 L605.2,427.4 L602.9,432 L591.3,434.3 L582.1,429.7 L574.1,427.4 L576.4,421.7 L575.2,414.7 L568.3,410.1 M635.1,398.6 L646.6,398.6 L654.7,400.9 L661.6,397.5 L662.8,406.7 L670.8,411.3 L665.1,418.2 L662.8,425.1 L651.2,425.1 L637.4,422.8 L636.3,411.3 M688.4,477.6 L695.3,469.5 L706.8,467.2 L716,473 L722.9,477.6 L718.3,484.5 L711.4,489.1 L702.2,485.7 L693,484.5 M729.9,454.6 L739.1,452.3 L748.3,459.2 L752.9,468.4 L746,474.1 L736.8,470.7 L731,463.8 M754.1,450 L764.4,447.6 L773.6,454.6 L774.8,462.6 L766.7,466.1 L757.5,461.5 M679.2,440.7 L690.7,437.3 L702.2,438.4 L701.1,445.3 L693,450 L683.8,450 M750.6,361.9 L757.5,359.6 L762.1,366.5 L764.4,378 L759.8,387.2 L752.9,384.9 L749.4,375.7 M769,382.6 L778.2,375.7 L787.5,380.3 L794.4,389.5 L789.8,401.1 L780.5,405.7 L771.3,398.8 L767.9,389.5 M762.1,412.6 L771.3,408 L778.2,401.1 L782.9,412.6 L780.5,426.4 L773.6,435.6 L766.7,433.3 L759.8,424.1 M800.1,435 L810.5,435 L817.4,447.6 L824.3,461.5 L831.2,470.7 L840.5,477.6 L849.7,485.7 L840.5,486.8 L833.5,484.5 L826.6,475.3 L817.4,470.7 L814,461.5 L803.6,459.2 L799,452.3 L797.8,443 M835.8,492.6 L849.7,496 L850.8,502.9 L842.8,507.6 L834.7,505.3 L832.4,499.5 M787.5,475.3 L794.4,477.6 L795.5,489.1 L800.1,496 L799,502.9 L792.1,501.8 L787.5,493.7 L784,486.8 M773.6,501.8 L787.5,500.6 L790.9,507.6 L785.2,514.5 L775.9,512.2 L771.3,507.6 M805.9,519.1 L817.4,516.8 L831.2,519.1 L826.6,526 L817.4,530.6 L812.8,539.8 L803.6,544.4 L794.4,542.1 L799,530.6 M817.4,535.2 L828.9,537.5 L835.8,544.4 L831.2,553.6 L822,555.9 L815.1,558.2 L809.4,553.6 L810.5,544.4 M778.2,641.2 L787.5,636.6 L794.4,641.2 L799,650.4 L789.8,659.6 L782.9,668.8 L778.2,661.9 L779.4,650.4 M787.5,546.7 L799,545.6 L808.2,549 L805.9,558.2 L799,562.9 L792.1,558.2 M673.4,583.6 L676.9,579 L686.1,575.5 L695.3,572.1 L706.8,570.9 L714.9,573.2 L714.9,579 L709.1,582.4 L697.6,584.7 L686.1,587.1 L678,587.1 M722.9,581.3 L732.2,579 L739.1,581.3 L734.5,588.2 L725.2,590.5 M522.6,515.3 L533,522.2 L539.9,531.4 L535.3,538.3 L528.4,536 L519.2,526.8 M544.5,526.8 L552.6,529.1 L556,538.3 L551.4,545.3 L544.5,540.6 M562.9,533.7 L574.5,531.4 L581.4,538.3 L576.8,545.3 L567.6,544.1 M507.6,547.6 L523.8,542.9 L530.7,549.9 L526.1,556.8 L514.6,552.2 L507.6,559.1 L503,554.5 M533,547.6 L546.8,545.3 L553.7,552.2 L549.1,561.4 L539.9,566 L533,559.1 M599.8,500.3 L602.1,513 L597.5,526.8 L588.3,536 M551.4,513 L556,526.8 L549.1,529.1 M572.2,517.6 L574.5,531.4 M568.7,607.5 L576.8,605.2 L586,607.5 L583.7,616.7 L576.8,621.3 L574.5,628.2 L567.6,623.6 L564.1,616.7 M549.1,597.1 L565.2,598.2 L576.8,605.2 M586,607.5 L592.9,602.9 L598.7,598.2 M576.8,621.3 L588.3,625.9 L602.1,630.5 L611.3,645.5 M567.6,623.6 L565.2,635.1 L565.2,644.3 M490.4,628.2 L505.3,625.9 L508.8,635.1 L512.3,644.3 L509.9,655.9 L515.7,662.8 L507.6,665.1 L500.7,660.5 L493.8,666.2 L488.1,663.9 L489.2,653.5 L492.7,644.3 M470.8,667.4 L480,669.7 L488.1,663.9 M515.7,662.8 L521.5,669.7 M484.6,676.6 L496.1,674.3 L505.3,667.4 M592.9,691.6 L598.7,683.5 L606.7,681.2 L610.2,676.6 L618.2,682.4 L624,690.4 L633.2,701.9 L627.5,705.4 L618.2,707.7 L609,712.3 L603.3,704.2 L597.5,697.3 M633.2,701.9 L634.4,713.5 L639,729.6 M657.4,693.9 L652.8,708.8 L654,722.7 M668.9,701.9 L671.2,713.5 L666.6,727.3 M609,712.3 L611.3,728.4 M701.2,683.5 L703.5,697.3 L708.1,708.8 M710.4,675.4 L715,688.1 L712.7,699.6 M726.5,673.1 L724.2,685.8 L726.5,697.3"/>
<path id="cl-TNS" d="M220.3,144 L223.4,146.5 L226.7,148.8 L230.4,150.3 L233.9,151.9 L238,152.1 L241.2,154.6 L244.8,156.1 L249.1,155.1 L253.5,156 L257.8,155.5 L261.8,155.2 L265.4,157.4 L269.3,157.6 L273,159.1 L277.1,158.4 L277,162.8 L277.9,167.1 L276.3,171.3 L275.9,175.7 L276.5,179.5 L277.2,183.3 L277.1,187.2 L275.3,190.8 L275.6,194.8 L275.1,198.7 L273.6,204.5 L277.9,205.7 L282.2,206.2 L286.5,207.3 L290.9,207.4 L294.8,206.7 L298.5,207.3 L301.9,209.7 L305.5,211.1 L309.6,209.2 L313.2,210.5 L316.8,211.7 L319.8,208.8 L322.3,205.3 L325.5,202.5 L329.8,206.8 L333.5,209.5 L337,212.6 L336.6,217.2 L335.5,221.8 L332.7,225.8 L331.2,230.4 L331.9,234.2 L332.6,238.1 L333.5,241.9 L328.3,244.8 L329.3,249.6 L327.8,254.4 L328.3,259.2 L327.4,262.9 L328.6,266.4 L329.7,270 L329.8,273.6 L331.7,277.2 L331.4,281.4 L332.7,285.1 L331.6,289.7 L331.2,294.4 L327.3,294.2 L323.4,294.9 L319.7,293.2 L315.2,292.9 L310.9,292.3 L306.6,291.2 L302.4,289.5 L298.8,288.3 L294.9,288.1 L291.5,286.4 L288,285.1 L284.4,283.2 L280.2,283.9 L276.5,282.3 L275.4,278.5 L275,274.5 L273.6,270.7 L272.2,265 L274.2,261.1 L277.1,257.8 L273,255 L270.7,250.6 L267.2,247.6 L263.5,244.8 L260.5,242.4 L256.2,242.1 L253.5,239.1 L250.4,237 L247.4,234.7 L244.8,231.9 L241.2,230 L236.8,231.2 L233.3,229 L227.5,230.4 L223.2,234.7 L219.2,234.6 L215.2,235.2 L211.3,234.5 L207.4,233.3 L203.4,233.7 L199.5,234.4 L195.5,234.6 L191.5,234.7 L190.1,240.5 L186.5,241.2 L182.9,241.8 L179.3,239.9 L175.7,240.5 L172.1,238.8 L168,239.3 L164.2,238.5 L160.3,238.6 L156.5,236.9 L152.6,237.6 L153.7,234.1 L154.1,230.4 L157.6,227.1 L161.3,224.1 L164.2,220.3 L164,216.4 L164.6,212.7 L165.9,209.1 L165.6,205.2 L167.1,201.6 L166.7,198 L166.5,194.4 L166.3,190.8 L165.6,187.2 L169,189.6 L172.8,191.5 L177.1,193.1 L180.1,196.4 L183.5,199.2 L187.2,201.6 L190.5,204 L194.1,205.8 L198.1,206.7 L201.6,208.8 L206,210.5 L210.3,212.6 L210.7,208.2 L213.1,204.5 L215.7,201.3 L218.9,198.7 L215.4,195.6 L213.1,191.5 L209,189.5 L206.2,186 L203.1,182.9 L202.3,178.4 L200.2,174.3 L203.5,171.6 L205.1,167.7 L207.4,164.2 L209.7,160.2 L212.4,156.6 L214.6,152.6 L217.9,148.6Z"/>
<path id="cl-HC" d="M825.5,114.2 L829.7,113.8 L834.1,114.4 L838.2,113 L843.9,115.3 L843.4,119.5 L845.1,123.4 L849.7,124.4 L854.3,125.7 L856.1,129.6 L856.6,133.8 L860.6,132.7 L865,132.7 L869,131.6 L872.7,129.2 L875,123.4 L880.8,124.6 L881.3,128.6 L881.9,132.6 L886.5,137.2 L883.8,140.3 L881,143.3 L877.3,145.3 L880.7,147.7 L883.1,151.1 L887.3,152 L891.6,151.5 L895.8,152.2 L899.4,150.9 L903.3,150.3 L906.5,147.5 L910.3,146.8 L914.2,146.5 L915.4,151.6 L916.5,156.8 L919.8,158.8 L922.8,161.2 L925.7,163.7 L926.3,167.6 L926.8,171.5 L928,175.3 L931.8,177.7 L936.1,178.7 L938.1,182.4 L940.3,185.9 L943,189.1 L943.9,192.8 L944.1,196.7 L945.4,200.2 L947.1,203.7 L947.6,207.5 L947.8,212.1 L947.3,216.7 L946.4,221.3 L944.9,226 L943,230.6 L939.9,227.2 L936.1,224.8 L933,227.5 L930.3,230.6 L929.8,235.7 L926.9,239.8 L923,243.4 L918.8,246.7 L913.9,249.1 L908.4,249 L906.4,246 L904.1,243.2 L902.7,239.8 L899.3,237.4 L895.8,235.2 L890.9,235.4 L886.5,237.5 L883,239.6 L879.1,240.6 L875,240.9 L871.2,239.2 L867,239.8 L867.1,244.5 L865.8,249 L863,245.8 L858.9,244.4 L855.3,241.1 L852,237.5 L850.7,241.2 L848.5,244.4 L843.7,241.9 L840.5,237.5 L836.4,236.9 L833.5,234 L828.9,234 L827.8,228.8 L826.6,223.6 L825.3,219.5 L822.2,216.2 L820.9,212.1 L821.6,208.2 L823.8,204.6 L824.3,200.6 L826.4,197.5 L829.1,195 L831.6,192.3 L834.7,190.2 L832,186.8 L829.2,183.4 L826.6,179.9 L823.4,177 L822,172.9 L818.1,172.9 L815.1,175.3 L812.2,172.9 L810.5,169.5 L808.8,166.1 L805.9,163.7 L802.5,159.7 L799,155.7 L801.3,151.6 L803.6,147.6 L805.5,143.6 L808.5,140.4 L811.1,137 L814,133.8 L816.5,130.9 L820.7,130.8 L823.2,128 L823.6,123.8 L825.5,120Z"/>
<path id="cl-SCL" d="M833.5,234 L837,235.8 L840.5,237.5 L844.3,241.2 L848.5,244.4 L850,240.8 L852,237.5 L855.8,240.6 L858.9,244.4 L862.6,247.6 L865.8,251.3 L867.3,255.8 L867.1,260.8 L869.3,265.1 L871.3,268.1 L873.2,271.2 L875,274.3 L873.6,277.7 L872.7,281.2 L868.9,280 L864.9,281.8 L861.2,280.1 L857.4,281.8 L853.4,282.9 L849.7,284.7 L845.9,286.7 L843.9,290.5 L844.9,294.3 L845.8,298.1 L846.2,302 L844.4,306.6 L842.8,311.2 L839.9,313.5 L837.8,316.8 L834.2,318.3 L831.2,320.4 L827.7,323 L824.5,325.9 L822,329.6 L819.4,332.9 L815.1,334.1 L812.9,337.8 L809.4,340 L807.7,336.5 L810,333.6 L813,331.1 L814,327.3 L813.4,323.1 L811.7,319.3 L813.5,314.5 L817.4,311.2 L818.2,306.5 L819.7,302 L817.3,298.2 L814,295.1 L809.4,293.9 L808.2,287 L812.1,285.3 L814.2,281.4 L817.4,278.9 L819.4,274.4 L820.9,269.7 L819.9,266.2 L818.6,262.8 L820.4,259.2 L821.7,255.4 L822,251.3 L824.9,247.8 L827.8,244.4 L830.9,242.5 L833.5,239.8Z"/>
<path id="cl-LX" d="M427.7,356 L431.8,354.9 L435.5,353.2 L439.3,351.4 L442,355.5 L445,359.4 L449.6,362.9 L453,364.2 L456.4,365.5 L460,366.4 L463.5,369.8 L467.4,370.9 L470.5,373.5 L473.8,375.6 L477.6,377.6 L481.4,379.5 L485.3,381.3 L488.7,384.1 L491.2,387.8 L494.6,390.6 L497.7,394.4 L501.5,397.5 L506.1,402.1 L509.7,401.3 L513,399.8 L516.7,399.3 L519.9,397.5 L519.8,393.6 L522.6,390.7 L523.4,387.1 L527.8,388 L531.4,390.6 L534.4,394.5 L538.3,397.5 L540.3,400.8 L542.5,403.9 L545.2,406.7 L547.6,411 L547.6,415.9 L547.5,420.8 L549.9,425.1 L547.4,428.5 L545.2,432 L541.6,432.7 L538.3,434.3 L537.7,439 L536,443.5 L536.5,447.2 L538.3,450.5 L535.8,454.7 L532.6,458.5 L525.7,457.4 L523.8,452.9 L522.2,448.2 L524.5,443.5 L521.9,439 L519.9,434.3 L516.5,432.5 L513.4,430.2 L510.7,427.4 L507.1,426.7 L503.8,425.1 L499.2,429.7 L496.4,432.1 L493.4,434.3 L490.2,437.5 L487.6,441.2 L489.1,446.3 L492.3,450.5 L490.4,453.7 L489.9,457.4 L484.2,459.7 L480.6,457.9 L477.8,454.9 L473.8,453.9 L472.8,450.4 L471.5,447 L469.7,442.7 L465.8,440.1 L461.6,439.7 L457.3,439.5 L453.1,438.9 L449.2,435.3 L445,432 L442.6,428.9 L441.6,425.1 L443.3,420.6 L442.7,415.9 L440,412.7 L438.1,409 L440.4,406.2 L443.1,403.6 L443.9,399.8 L447,396.9 L448.5,392.9 L447.9,388.9 L449.3,385.2 L449.6,381.3 L447.3,376.7 L444.7,373.1 L441.6,369.8 L438.3,367.8 L434.9,365.9 L432.3,362.9 L430,359.4Z"/>
<path id="cl-CZYRN" d="M568.3,349.1 L571.8,350.6 L574.1,353.7 L575.2,358.2 L575.2,362.9 L573,366.9 L569.4,369.8 L571.7,372.7 L574.1,375.6 L578.9,376 L583.3,377.9 L581.5,382.3 L582.1,387.1 L581,392.3 L579.8,397.5 L574.6,397.2 L569.4,397.5 L568.6,401.3 L567.8,405.1 L568.3,409 L563.5,409.5 L559.1,411.3 L556,414.2 L552.2,415.9 L550.4,412.1 L547.6,409 L546.5,404.4 L545.2,399.8 L542.1,396 L538.3,392.9 L532.6,389.4 L536.9,388.2 L540.7,385.6 L545.2,384.8 L549.3,385.3 L552.7,382 L556.8,382.5 L556.9,378.4 L556.8,374.4 L557.7,370.6 L558,366.7 L559.1,362.9 L561.4,358.6 L561.4,353.7 L565.6,352.5Z"/>
<path id="cl-HE" d="M612.1,281.1 L616.3,280.1 L620.1,278 L624,276.4 L628.2,275.3 L630.5,279.2 L632.4,283.3 L635.1,286.9 L636.9,290.2 L639.1,293.2 L641,296.3 L643,299.5 L644.3,303 L648.7,304.4 L652.1,307.4 L655.8,309.9 L657.6,314.5 L659.3,319.1 L659.4,323.8 L660.5,328.3 L658.6,332 L658.4,336.5 L655.8,339.9 L651.8,338.7 L647.8,339.9 L646,343.8 L644.6,347.9 L642,351.4 L640.9,355.9 L639.8,360.5 L639.7,365.2 L636.4,368 L635.1,372.1 L637,376.5 L637.7,381.2 L638.6,385.9 L636.9,389.6 L636.9,393.8 L635.1,397.5 L628.2,396.3 L626,392.3 L622.4,389.4 L615.5,388.2 L612.5,390.9 L609.8,394 L606.5,396.1 L602.9,397.5 L599.4,395.2 L595.9,392.9 L592.5,394.1 L589,395.2 L588.1,398.7 L586.7,402.1 L581,399.8 L580.5,395.9 L579.7,392.1 L579.8,388.2 L580.7,384.7 L582.2,381.4 L583.3,377.9 L578.5,377.5 L574.1,375.6 L571.7,372.7 L569.4,369.8 L571.6,365.7 L575.2,362.9 L573.9,358.4 L574.1,353.7 L574.3,349.4 L572,345.7 L571.7,341.6 L570.6,337.6 L573.1,333.9 L574.1,329.5 L575.7,325.4 L577.5,321.4 L582.4,319.7 L586.7,316.8 L591.3,317.3 L595.9,316.8 L601.1,318 L605.2,321.4 L609.7,322.7 L614.4,322.6 L614.4,318 L619,313.4 L617.5,310 L617,306.4 L615.5,303 L612.6,298.7 L610.9,293.8 L610.9,289.5 L610.9,285.3Z"/>
<path id="cl-CS" d="M647.8,339.9 L654.7,341 L658,343.5 L660.5,346.8 L664.2,347.1 L667.4,349.1 L670.4,346.2 L674.3,344.5 L678.2,343.5 L682.3,343.3 L689.3,342.2 L690.4,349.1 L688.5,353.6 L687,358.3 L684.6,364.1 L688.3,367.3 L691.6,371 L693.5,374.9 L695,379 L692.9,383.4 L692.7,388.2 L690.4,392 L689.3,396.3 L682.3,395.2 L677.3,393.2 L672,392.9 L665.1,394 L661.6,397.5 L658.6,400 L654.7,400.9 L651,398.7 L646.6,398.6 L642.7,398.4 L639.1,396.6 L635.1,397.5 L636.8,393.8 L637.2,389.7 L638.6,385.9 L637.4,381.3 L636.5,376.7 L635.1,372.1 L637.3,368.6 L639.7,365.2 L641,360.7 L640,355.8 L642,351.4 L643.7,347.4 L645.6,343.6Z"/>
<path id="cl-GP" d="M536,443.5 L540.3,441.1 L545.2,441.2 L547.6,438.2 L549.9,435.1 L552.2,432 L551.1,427.1 L548.7,422.8 L551.7,419.4 L554.5,415.9 L559.3,414.6 L563.7,412.4 L568.3,409 L569,405.2 L568.8,401.3 L569.4,397.5 L574.6,396.8 L579.8,397.5 L583.4,399.6 L586.7,402.1 L591.2,404.7 L595.9,406.7 L599.5,408.9 L602.9,411.3 L603.5,416 L605.2,420.5 L605.2,427.4 L608.3,430.2 L612.1,432 L616.8,432.2 L621.3,430.9 L626.5,430.5 L631.7,429.7 L634.6,426.3 L637.4,422.8 L637,419 L635.7,415.2 L636.3,411.3 L635.4,407.1 L636.5,402.7 L635.1,398.6 L638.9,399.4 L642.8,399.9 L646.6,398.6 L650.5,400.2 L654.7,400.9 L658.6,400.1 L661.6,397.5 L661,402.3 L662.8,406.7 L666.6,409.4 L670.8,411.3 L668.2,415 L665.1,418.2 L663.7,421.6 L662.8,425.1 L663.9,429.7 L665.1,434.3 L662.7,437.4 L661.6,441.2 L657.7,441.8 L654.7,444.4 L651.2,445.9 L647.3,446.3 L643.4,447 L639.7,448.2 L640.6,452.8 L639.7,457.4 L641.2,460.9 L643,464.4 L644.8,467.8 L646.6,471.2 L647.8,477 L642.5,476.3 L637.4,478.1 L632.7,477.8 L628.2,479.3 L623.5,479.6 L619,479 L614.4,478.1 L611,475.7 L607.5,473.5 L609.8,467.7 L606.2,467.1 L602.9,465.4 L598.9,464.9 L595.1,465.3 L591.3,466.6 L586.6,466.9 L582.1,465.4 L577.5,467.3 L572.9,468.9 L570.8,465.3 L568.3,462 L563.8,460.7 L559.1,460.8 L552.2,459.7 L548.9,456 L545.2,452.8 L542.2,450.4 L538.3,450.5 L537.4,446.9Z"/>
<path id="cl-CP" d="M662.8,397.5 L667.4,392.9 L671.4,392.9 L675.1,394.2 L678.9,395.2 L683.7,395.6 L688.1,397.5 L688.5,393.4 L690.3,389.5 L690.4,385.3 L691.6,381.3 L694.9,379.4 L698.7,378.8 L701.9,376.7 L705.8,376.2 L709.7,375.5 L713.5,374.4 L716.2,377.5 L719.2,380.2 L721.3,383.8 L725,385.9 L728.3,388.7 L732.7,388.9 L736.5,390.6 L738.9,394.9 L738.8,399.8 L735.8,402.4 L733.9,405.7 L731.9,409 L733.5,413.5 L734.2,418.2 L736.9,422.6 L738.8,427.4 L739.5,431 L741.1,434.3 L743.4,437.7 L747,439.9 L750,442.8 L752.6,445.9 L755.7,448 L759.4,448.6 L763.2,448.7 L766.4,450.5 L769.9,451.7 L773.4,452.8 L773.4,457.5 L774.5,462 L771.9,465.2 L769.2,468.2 L766.4,471.2 L763,473.6 L759.5,475.8 L756.4,472.9 L752.6,471.2 L748,474.7 L745.7,480.4 L743.2,484.2 L739.9,487.3 L739,491.9 L740.5,496.7 L738.8,501.2 L735.4,504.7 L731.9,508.1 L728.4,507.2 L725,505.8 L720.4,504.5 L715.8,503.5 L711.1,503.2 L706.5,503.5 L703.2,500.4 L699.6,497.7 L696.1,495.3 L692.2,494.5 L688.1,494.2 L683.5,489.6 L679.9,491.6 L676,492 L672,491.9 L668.3,490.4 L664.1,491.6 L660.5,489.6 L656.9,487.1 L654.3,483.4 L651.2,480.4 L648.3,476.1 L646.6,471.2 L644.6,467.9 L642,464.9 L641.4,460.9 L639.7,457.4 L637.5,453.1 L637.4,448.2 L635.8,444.5 L634.1,440.8 L634,436.6 L633.9,431.7 L636,427.3 L637.4,422.8 L642.1,423 L646.6,424.4 L651.2,425.1 L655.1,425.2 L658.9,425.5 L662.8,425.1 L664.1,421.7 L665.1,418.2 L668.4,415.1 L670.8,411.3 L667.8,409.2 L665.1,406.7 L664,402.1Z"/>
<path id="cl-BTH" d="M735.6,267.4 L740.2,268.2 L744.8,267.4 L746.7,271.1 L749.4,274.3 L752.2,277.7 L751.6,282.4 L754.1,285.9 L756.4,289 L757.5,292.8 L762,291.8 L766.7,292.6 L771.3,291.6 L770.8,295.9 L769.3,300 L769,304.3 L773.8,305.4 L778.2,307.7 L781.2,310.3 L783.9,313.1 L785.2,317 L782.2,319.4 L780.5,323 L777.1,325 L776.4,329.6 L775.9,334.2 L772.6,337 L769.8,340.6 L765.6,342.3 L762.4,340.5 L758.7,340 L752.9,343.5 L752.9,350.4 L755.2,353.3 L757.5,356.1 L756.4,360.7 L754.7,364.1 L751.7,366.5 L751.1,371.1 L750.6,375.7 L746,380.3 L742.8,378.5 L739.1,378 L737.1,382.8 L734.5,387.2 L736.8,389.5 L737.2,394.2 L737.9,398.8 L733.6,399 L729.9,401.1 L727.9,404.8 L725.6,408.2 L722.9,411.4 L717.7,410.3 L712.6,409.1 L708.2,408.6 L704.1,406.7 L699.7,406.1 L695.3,405.7 L691.6,401.8 L687.2,398.8 L688.2,393.9 L690.7,389.5 L693.8,385.3 L695.3,380.3 L691.9,377.9 L688.4,375.7 L686.6,371.1 L684.9,366.5 L687,362.7 L687.2,358.4 L690,354.8 L690.7,350.4 L690.1,346.2 L688.4,342.3 L693,342.9 L697.6,343.5 L698.8,337.7 L695.5,335.6 L693.1,332.6 L690.7,329.6 L693.2,326.3 L695.3,322.7 L694.3,318.6 L691.1,315.8 L689,312.4 L686.8,308.9 L684.9,305.4 L686,301.1 L688.4,297.4 L687.8,293.5 L689.2,289.7 L689.5,285.9 L695.3,282.4 L697.9,285.5 L700.1,288.8 L701.1,292.8 L706.3,291.9 L711.4,290.5 L714.6,287.9 L717.2,284.7 L721.8,283.7 L726.5,282.8 L731,281.2 L730.8,276.6 L729.9,272 L731.9,268.7Z"/>
<path id="cl-SP" d="M757.5,356.1 L762,357.6 L766.7,358.4 L771.5,357.7 L775.9,359.6 L779.8,362.7 L782.9,366.5 L780.8,370.1 L778.2,373.4 L781.7,375.7 L785.2,378 L788.8,377.4 L792.1,375.7 L795.3,371.5 L796.7,366.5 L801.7,365 L805.9,361.9 L809.5,363.9 L813.5,363.6 L817.4,364.2 L821.2,363.5 L825.2,364.2 L828.9,363 L832.9,362.4 L836.6,363.7 L840.5,364.2 L839.2,368.8 L840.5,373.4 L835.8,375.7 L831.2,378 L826.8,380.7 L822,382.6 L818.5,386 L815.1,389.5 L813.2,392.9 L810.4,395.6 L808.2,398.8 L805.9,401.9 L803.6,404.9 L801.3,408 L797.9,411.5 L794.4,414.9 L792.1,418.9 L789.8,422.9 L787.2,426 L783.4,427.5 L780.4,430.1 L779.3,433.8 L777,437 L774.4,435.3 L770.1,431.8 L766.9,435.1 L763.2,437.9 L758.8,437.4 L754.5,438.7 L751.2,436.2 L748.1,433.5 L744.2,431.8 L739,430.1 L736.6,433.8 L733.9,437.2 L732.1,441.3 L727.9,438.9 L723.4,437 L720.1,434.2 L716.5,431.8 L714.8,427.5 L716.5,423.6 L718.2,419.7 L719.8,416.2 L721.7,412.8 L720.4,408.6 L720,404.2 L721.4,399.7 L723.4,395.5 L725.9,391.5 L726.9,386.9 L729,383.6 L730.3,380 L734,378.7 L737.2,376.5 L741.4,373.6 L745.9,371.3 L749.5,369.8 L752.8,367.9 L754.8,364.2 L755.6,359.9Z"/>
<path id="cl-MYD" d="M656.1,491.4 L660.7,490.9 L665.3,490.3 L669.3,489.4 L673,491.7 L676.9,491.4 L682.2,491.9 L687.2,493.7 L685.6,498.2 L684.3,502.8 L683.8,507.6 L688.6,508.8 L693,511 L696.8,510 L700.6,509.1 L704.5,509.9 L706.8,505.3 L711.4,507.6 L715.7,505.4 L720.6,505.3 L725.7,503.5 L731,502.9 L734.5,508.7 L739,510.8 L743.7,512.2 L743.3,517 L741.4,521.4 L742.9,526.4 L746,530.6 L749.1,533.1 L751.4,536.1 L752.9,539.8 L756.6,539.5 L759.8,537.5 L758.5,540.9 L757.5,544.4 L755.9,547.7 L755.2,551.3 L757.6,555.6 L757.5,560.6 L758.3,565.2 L758.7,569.8 L755.4,571.6 L752.9,574.4 L750.5,577.8 L748.3,581.3 L746.1,585.4 L743.7,589.4 L745.9,592.4 L748.3,595.1 L752.9,599.7 L748.3,604.3 L744.3,607.8 L739.1,608.9 L738.6,612.6 L736.8,615.9 L732.8,619.4 L727.6,620.5 L722.9,621.5 L718.3,622.8 L715.2,620.7 L711.4,620.5 L708.9,616.8 L705.2,614.4 L702.2,611.2 L701,614.7 L699.9,618.2 L695,619.8 L690.7,622.8 L686.2,624.1 L681.5,623.9 L680.8,619.8 L679.2,615.9 L674.6,613.5 L669.9,611.2 L671.1,606.6 L675,604.1 L679.2,602 L678.5,598.4 L676.9,595.1 L673.5,593.7 L670,592.6 L666.7,591.1 L663,590.5 L658.5,588 L653.8,585.9 L653,582.3 L651.5,579 L653,575 L656.1,572.1 L653.7,567.8 L653.8,562.9 L655.7,559.1 L658.4,555.9 L655.3,553 L653.8,549 L650,547.4 L645.7,547.1 L642.3,544.4 L640.4,540 L641.1,535.2 L641,531.2 L642.5,527.5 L643.5,523.7 L642.3,516.8 L644.3,513.1 L646.9,509.9 L649,506.9 L650.5,503.5 L652.7,500.6 L653.6,495.7Z"/>
<path id="cl-YRD" d="M801.3,433.8 L805.8,435.3 L810.5,435 L813,439.1 L816,442.9 L817.4,447.6 L819.6,450.8 L820.8,454.6 L822.8,457.9 L824.3,461.5 L826.1,465 L829.9,466.9 L831.2,470.7 L835,472.1 L837.9,474.7 L840.5,477.6 L843.3,480.3 L847.3,481.3 L849.7,484.5 L851.4,489.1 L853.1,493.7 L851.1,498.2 L849.7,502.9 L844.6,504.4 L840.5,507.6 L836.9,510.4 L834.7,514.5 L838.8,515.4 L842.8,516.8 L847.7,518.5 L852,521.4 L853.7,525.9 L854.3,530.6 L852.8,535.1 L852,539.8 L852.3,544.6 L854.3,549 L853.2,552.5 L852,555.9 L845.1,557.1 L840.5,555.7 L835.8,554.8 L832,553.7 L828.9,551.3 L825.5,553.6 L822,555.9 L818.6,557.3 L815.1,558.2 L812.6,555.4 L809.4,553.6 L808.2,546.7 L803.5,546.9 L799,545.6 L792.1,544.4 L788.7,543.1 L785.2,542.1 L780.8,539.8 L775.9,539.8 L771.3,535.2 L767.6,537.1 L764.4,539.8 L759.8,537.5 L756.1,538 L752.9,539.8 L751.4,536.1 L748.7,533.4 L746,530.6 L744.2,525.7 L741.4,521.4 L742.2,517.8 L743.7,514.5 L748.3,513.5 L752.7,511.5 L757.5,511 L758.9,507.4 L761,504.1 L758.6,499.7 L755.2,496 L757.5,491.4 L759.8,486.8 L759.1,481.7 L758.7,476.5 L762.4,474 L766.7,473 L769.6,469.8 L772.5,466.6 L775.9,463.8 L778.5,468.3 L780.5,473 L784.9,470.2 L789.8,468.4 L796.7,469.5 L796.5,464.1 L794.4,459.2 L797,456 L799,452.3 L798.5,447.6 L797.8,443 L798.8,438.1Z"/>
<path id="cl-GFZC" d="M852,555.9 L849.7,558.2 L847.8,561.3 L845.4,564.1 L843.9,567.5 L841.2,570.5 L840.9,574.6 L839.3,578.2 L837,581.3 L833.3,584.5 L830.5,588.2 L828.9,592.8 L828.8,596.9 L827.8,600.8 L825.5,604.3 L827.4,607.9 L826.5,612.1 L827.8,615.9 L825.7,619.5 L821.7,621.4 L819.7,625.1 L817,628.9 L814.7,633 L811.7,636.6 L808.5,640.1 L805.5,643.7 L803.6,648.1 L801,650.7 L798.4,653.4 L795.9,656 L794.4,659.6 L791.1,661.7 L788.9,664.7 L786.6,667.6 L785.2,671.2 L781.8,673 L779.5,676.5 L775.9,678.1 L771.5,680.6 L769,685 L765.5,685.9 L762.1,687.3 L758,684.5 L755.2,680.4 L752.1,676.6 L748.3,673.5 L749.3,668.9 L751.1,664.4 L750.6,659.6 L749.7,654.9 L748.3,650.4 L744.4,650.7 L740.9,653.2 L736.8,652.7 L732.1,652.1 L727.6,650.4 L730.6,646.1 L732.2,641.2 L728.1,641.5 L724.4,640 L720.6,638.9 L718.5,634.4 L717.2,629.7 L718.3,622.8 L722.8,621.1 L727.6,620.5 L732.2,618.1 L736.8,615.9 L736.9,612.1 L739.1,608.9 L743.7,606.6 L748.3,604.3 L752.9,599.7 L748.3,595.1 L745.7,592.5 L743.7,589.4 L745.3,584.9 L748.3,581.3 L749.8,577.3 L752.9,574.4 L756,572.3 L758.7,569.8 L759.2,565.1 L757.5,560.6 L756.1,556 L755.2,551.3 L757.1,548.1 L757.5,544.4 L762.1,539.8 L765.1,537.4 L769,537.5 L771.3,535.2 L775.9,539.8 L780.7,540.3 L785.2,542.1 L788.5,543.6 L792.1,544.4 L799,545.6 L803.5,547.4 L808.2,546.7 L809.4,553.6 L812.4,555.8 L815.1,558.2 L818.4,556.7 L822,555.9 L825.3,553.4 L828.9,551.3 L832.8,552.1 L835.8,554.8 L840.6,555.2 L845.1,557.1Z"/>
<path id="cl-PRD" d="M686.2,663.9 L690.2,667.2 L692,672 L694.2,675.5 L696.6,678.9 L701.2,683.5 L703.6,680.1 L707.1,677.9 L710.4,675.4 L715.3,673.7 L719.6,670.8 L723,672.2 L726.5,673.1 L729.5,677 L733.5,680 L737.1,681.5 L740.4,683.5 L744.8,683.6 L748.4,681.2 L746.4,684.8 L743.8,688.1 L739.4,689.6 L735.8,692.7 L731.3,695.3 L726.5,697.3 L724.4,700.9 L721.9,704.2 L719.4,708.7 L717.3,713.5 L712.9,716.3 L708.1,718.1 L704.2,719.8 L701.2,722.7 L696.7,721.1 L692,720.4 L690.4,716.8 L687,714.5 L685.1,711.2 L688.1,708.2 L689.7,704.2 L691.7,700.5 L694.3,697.3 L692,691.6 L687.4,690.8 L682.8,690.4 L679,690.2 L675.8,688.1 L671.2,683.5 L675.2,680.6 L678.2,676.6 L680.1,673.4 L680.5,669.7 L683.4,666.9Z"/>
<path id="cl-BG" d="M610.2,675.4 L614.3,678.1 L618.2,681.2 L620.7,683.9 L621.1,687.9 L624,690.4 L626.5,693.7 L629,696.9 L632.1,699.6 L635.7,698.2 L639,696.2 L643.3,694 L648.2,693.9 L652.8,695.2 L657.4,693.9 L658.3,697.4 L659.7,700.8 L664.3,701.4 L668.9,701.9 L673.6,701.5 L678.2,700.8 L683.9,704.2 L685.7,707.5 L686.2,711.2 L687.7,715.9 L689.7,720.4 L685,722.4 L680.5,725 L675.8,725.1 L671.2,726.4 L666.6,727.3 L661.5,728.5 L657.4,731.9 L656.2,735.6 L654,738.8 L655.5,742.4 L657.4,745.7 L655.2,750.3 L652.8,754.9 L648.3,756.4 L643.6,757.2 L642.4,752.6 L641.3,748 L639.1,743.6 L637.8,738.8 L639.4,734.3 L639,729.6 L634.4,730.2 L629.8,730.7 L626,729.6 L622.9,727.3 L619.1,728.3 L615.1,726.8 L611.3,728.4 L606.5,727.7 L602.1,729.6 L598.3,728.7 L594.2,729.1 L590.6,727.3 L585.9,725.2 L581.4,722.7 L578.1,719.1 L574.5,715.8 L574.2,711.1 L574.5,706.5 L575.2,702.5 L577.3,699 L577.9,695 L583.7,691.6 L588.5,692.3 L592.9,690.4 L596.6,687.6 L598.7,683.5 L602.9,683 L606.7,681.2Z M618.2,778 L621.3,774.9 L624,771.5 L627.5,768.8 L630.6,766.5 L634,764.6 L636.7,761.8 L640.4,760.3 L644.5,760.8 L648.2,759.5 L652.8,758.8 L657.4,758.4 L660.1,760.9 L662,764.1 L659.8,767.3 L658.6,771.1 L654.5,770.9 L650.5,769.9 L647.3,772.5 L643.6,774.5 L639,779.1 L635.4,780.6 L632.1,782.6 L629.8,787.2 L625.9,788.7 L621.7,788.3 L618.2,782.6Z"/>
<path id="cl-CC" d="M524.9,483 L527,486.7 L530.7,488.8 L533.9,492 L537.6,494.6 L540.1,497.7 L543.3,499.8 L546.8,501.5 L548.6,505.2 L549.8,509.2 L551.4,513 L556,512.2 L560.6,511.8 L566.4,509.5 L568.7,514 L572.2,517.6 L579.1,518.8 L583,516.1 L584.7,511.4 L588.3,508.4 L590.3,504 L590.6,499.2 L595.2,499.9 L599.8,500.3 L606.7,501.5 L610,504.7 L614.7,505.5 L618.2,508.4 L622.9,509.2 L627.5,510.7 L630.6,514 L634.4,516.5 L635.8,519.9 L636.7,523.4 L634.6,526.4 L632.1,529.1 L627.7,531.2 L622.9,531.4 L618.8,534.9 L613.6,536 L610.3,538 L606.7,539.5 L608.5,543.4 L609,547.6 L609.8,551.2 L611.3,554.5 L613.3,558.7 L617.1,561.4 L619.3,564.3 L620.8,567.6 L622.9,570.6 L622.9,577.5 L620.8,581.1 L618.2,584.4 L615.3,581.5 L611.3,581 L607.9,575.2 L604.4,572.3 L602.1,568.3 L597.7,566.4 L592.9,566 L586,567.1 L582.1,568.8 L577.7,569.8 L574.5,572.9 L569.9,570.5 L565.2,568.3 L560.7,565.8 L556,563.7 L552.5,564.7 L549.1,566 L546.7,570.3 L546.8,575.2 L548.1,580.3 L548,585.6 L543.7,586.6 L539.9,589 L534.1,587.9 L530.7,584.2 L528.4,579.8 L525,578.6 L521.5,577.5 L518.3,579.3 L514.6,579.8 L511.2,577.3 L507.6,575.2 L506.4,571 L503,568.3 L498.4,568.3 L493.8,568.3 L492.1,564.8 L488.6,562.6 L486.9,559.1 L489.2,556 L491.3,552.8 L493.8,549.9 L494.5,545.3 L495.2,540.6 L496.1,536 L498.1,532.3 L500.7,529.1 L504.3,528.2 L507.6,526.8 L511.2,525.8 L514.6,524.5 L516.9,521.1 L519.2,517.6 L522.8,515.6 L526.1,513 L523.1,510 L521.5,506.1 L522.9,502.1 L526.1,499.2 L524,495.9 L522.6,492.3 L522.7,487.4Z"/>
<path id="cl-QZ" d="M546.8,575.2 L546.9,570.3 L549.1,566 L552.7,565.3 L556,563.7 L561,565.2 L565.2,568.3 L569.9,570.4 L574.5,572.9 L578.4,571.2 L582,568.6 L586,567.1 L592.9,566 L597.3,568 L602.1,568.3 L601.7,572.9 L601,577.5 L598.3,581.7 L597.5,586.7 L597.2,590.6 L598,594.4 L598.7,598.2 L601.6,600.9 L605.7,601.1 L609,602.9 L613.5,601.3 L618.2,600.6 L618.7,604.3 L620.5,607.5 L625.2,608.5 L629.8,609.8 L629,613.6 L628.3,617.5 L627.5,621.3 L629,625.8 L629.8,630.5 L626.1,633.3 L624,637.4 L620,638.7 L615.9,639.7 L613.1,642.2 L611.3,645.5 L604.4,644.3 L600.4,647.2 L597.5,651.2 L593.1,649.4 L588.3,648.9 L585.1,646.3 L581.4,644.3 L578.7,647.4 L575.6,650 L572.2,652.4 L568.1,648.9 L565.2,644.3 L558.3,644.3 L555.4,641.3 L553.7,637.4 L549.8,637.5 L546.8,635.1 L548.5,631.3 L551.4,628.2 L555.9,625.7 L560.6,623.6 L557,622.2 L554.9,619 L550.7,618.1 L546.7,616.2 L542.2,616.7 L537.6,619 L530.7,620.1 L523.8,621.3 L518,619 L516.8,615.6 L515.7,612.1 L517.3,608 L519.2,604 L523.8,603.8 L528.4,602.9 L532.2,603.7 L536.1,603.5 L539.9,604 L542.9,601.6 L545.8,599.1 L549.1,597.1 L547.5,593.4 L548.4,589.4 L548,585.6 L548.1,580.3Z"/>
<path id="cl-CY" d="M515.7,612.1 L518.1,615.1 L518,619 L523.8,621.3 L530.7,620.1 L535.3,621.3 L533.3,624.9 L533.8,629 L533,632.8 L531.5,637.5 L529.5,642 L532.5,644.4 L535,647.3 L537.6,650.1 L535.2,655 L535.3,660.5 L532,662.9 L528.6,665.1 L526.1,668.5 L521.5,669.7 L519.3,672.8 L517.1,676 L514.6,678.9 L516.1,683.4 L516.9,688.1 L517.9,692.1 L519.7,695.9 L521.5,699.6 L519.7,704 L520.3,708.8 L516.4,707.7 L512.3,707.7 L507.5,708.4 L503,710 L499.4,708.2 L495.5,707.2 L491.5,706.5 L487,704.1 L482.3,701.9 L480.1,698.7 L478.8,695 L480.1,690.5 L480,685.8 L476.4,682.5 L473.1,678.9 L473.2,674.9 L471.2,671.3 L470.8,667.4 L467.2,664.1 L463.9,660.5 L460.8,657.2 L458.1,653.5 L459.5,649.6 L460.5,645.5 L462.7,642 L461.6,637.4 L464,632.8 L462.7,628.2 L465.9,625.7 L469,623.2 L473.1,622.4 L477.4,623.5 L480.9,626 L484.6,628.2 L488.1,626 L492.3,626.1 L496.1,624.7 L500.7,623.6 L505.3,622.4 L507.5,618.4 L509.9,614.4Z"/>
<path id="holes" d="M589,402.1 L592.2,399.4 L595.9,397.5 L602.9,398.6 L606.2,396 L609.8,394 L613.6,391.5 L616.7,388.2 L622.4,390.6 L625.3,393.5 L628.2,396.3 L631.6,397.7 L635.1,398.6 L636.1,402.8 L636.2,407 L636.3,411.3 L636.8,415.1 L637.5,418.9 L637.4,422.8 L634.4,426.1 L631.7,429.7 L626.5,430 L621.3,430.9 L616.7,431.1 L612.1,432 L609.2,428.9 L605.2,427.4 L605.9,423.6 L604.5,419.7 L605.2,415.9 L604,412.5 L602.9,409 L599.4,407.7 L595.9,406.7 L591.9,405.2Z M548.7,422.8 L550.9,418.8 L554.5,415.9 L559.3,414.7 L563.7,412.4 L568.3,410.1 L572.1,411.8 L575.2,414.7 L576.4,421.7 L574.1,427.4 L568.3,427.4 L567.1,430.8 L566,434.3 L560.2,432 L557.4,429.6 L554.5,427.4 L552.2,424.4Z M688.4,493.7 L692.4,493.6 L696,492 L699.9,491.4 L701.7,494.6 L702.2,498.3 L704.7,501.7 L706.8,505.3 L704.5,509.9 L700.7,510.2 L696.8,510.5 L693,511 L688.2,509.8 L683.8,507.6 L685.9,504.3 L687.2,500.6Z M748.3,475.3 L753.4,477.2 L758.7,476.5 L758.9,481.7 L759.8,486.8 L756.9,491.1 L755.2,496 L757,500.8 L761,504.1 L758.9,507.4 L757.5,511 L752.9,511.6 L748.4,512.4 L743.7,512.2 L739.1,510.5 L734.5,508.7 L731,502.9 L734.6,499.8 L739.1,498.3 L740.2,493.8 L740.2,489.1 L743.3,485.8 L746,482.2 L746.8,478.6Z M780.5,524.8 L782.5,528 L785.2,530.6 L789.9,529.9 L794.4,528.3 L797.8,532.9 L794.6,536.1 L792.1,539.8 L788.8,541.4 L785.2,542.1 L780.6,540.9 L775.9,539.8 L771.3,535.2 L775.9,530.6 L778.9,528.3Z"/>
<g id="clout" fill="none" stroke-linejoin="round"><use href="#cl-TNS" stroke="#8286C8"/><use href="#cl-HC" stroke="#7FA2C4"/><use href="#cl-SCL" stroke="#A884CC"/><use href="#cl-LX" stroke="#B0A078"/><use href="#cl-CZYRN" stroke="#9CB070"/><use href="#cl-HE" stroke="#B274C2"/><use href="#cl-CS" stroke="#78B878"/><use href="#cl-GP" stroke="#74C4B0"/><use href="#cl-CP" stroke="#BCA4D8"/><use href="#cl-BTH" stroke="#74BE74"/><use href="#cl-SP" stroke="#B09C9C"/><use href="#cl-MYD" stroke="#A0A860"/><use href="#cl-YRD" stroke="#7CB878"/><use href="#cl-GFZC" stroke="#88C0A0"/><use href="#cl-PRD" stroke="#88A8B8"/><use href="#cl-BG" stroke="#B88890"/><use href="#cl-CC" stroke="#8C8CC0"/><use href="#cl-QZ" stroke="#A89070"/><use href="#cl-CY" stroke="#B08CC0"/></g>
<g id="clcoast" fill="none" stroke-linejoin="round" stroke-linecap="round" stroke-width="3.4"><path d="M574.5,706.5 L574.2,711.1 L574.5,715.8 L578.1,719.1 L581.4,722.7 L585.9,725.2 L590.6,727.3 L594.2,729.1 L598.3,728.7 L602.1,729.6 L606.5,727.7 L611.3,728.4 L615.1,726.8 L619.1,728.3 L622.9,727.3 L626,729.6 L629.8,730.7 L634.4,730.2 L639,729.6 L639.4,734.3 L637.8,738.8 L639.1,743.6 L641.3,748 L642.4,752.6 L643.6,757.2 L648.3,756.4 L652.8,754.9 L655.2,750.3 L657.4,745.7 L655.5,742.4 L654,738.8 L656.2,735.6 L657.4,731.9 L661.5,728.5 L666.6,727.3 L671.2,726.4 L675.8,725.1 L680.5,725 L685,722.4 L689.7,720.4" stroke="#B88890"/><path d="M692,720.4 L696.7,721.1 L701.2,722.7 L704.2,719.8 L708.1,718.1 L712.9,716.3 L717.3,713.5 L719.4,708.7 L721.9,704.2 L724.4,700.9 L726.5,697.3 L731.3,695.3 L735.8,692.7 L739.4,689.6 L743.8,688.1 L746.4,684.8 L748.4,681.2" stroke="#88A8B8"/><path d="M762.1,687.3 L765.5,685.9 L769,685 L771.5,680.6 L775.9,678.1 L779.5,676.5 L781.8,673 L785.2,671.2 L786.6,667.6 L788.9,664.7 L791.1,661.7 L794.4,659.6 L795.9,656 L798.4,653.4 L801,650.7 L803.6,648.1 L805.5,643.7 L808.5,640.1 L811.7,636.6 L814.7,633 L817,628.9 L819.7,625.1 L821.7,621.4 L825.7,619.5 L827.8,615.9 L826.5,612.1 L827.4,607.9 L825.5,604.3 L827.8,600.8 L828.8,596.9 L828.9,592.8 L830.5,588.2 L833.3,584.5 L837,581.3 L839.3,578.2 L840.9,574.6 L841.2,570.5 L843.9,567.5 L845.4,564.1 L847.8,561.3 L849.7,558.2 L852,555.9" stroke="#88C0A0"/><path d="M854.3,549 L852.3,544.6 L852,539.8 L852.8,535.1 L854.3,530.6 L853.7,525.9 L852,521.4 L847.7,518.5 L842.8,516.8 L838.8,515.4 L834.7,514.5 L836.9,510.4 L840.5,507.6 L844.6,504.4 L849.7,502.9 L851.1,498.2 L853.1,493.7 L851.4,489.1 L849.7,484.5 L847.3,481.3 L843.3,480.3 L840.5,477.6 L837.9,474.7 L835,472.1 L831.2,470.7 L829.9,466.9 L826.1,465 L824.3,461.5 L822.8,457.9 L820.8,454.6 L819.6,450.8 L817.4,447.6 L816,442.9 L813,439.1 L810.5,435 L805.8,435.3 L801.3,433.8" stroke="#7CB878"/><path d="M789.8,422.9 L792.1,418.9 L794.4,414.9 L797.9,411.5 L801.3,408 L803.6,404.9 L805.9,401.9 L808.2,398.8 L810.4,395.6 L813.2,392.9 L815.1,389.5 L818.5,386 L822,382.6 L826.8,380.7 L831.2,378 L835.8,375.7 L840.5,373.4 L839.2,368.8 L840.5,364.2 L836.6,363.7 L832.9,362.4 L828.9,363 L825.2,364.2 L821.2,363.5 L817.4,364.2 L813.5,363.6 L809.5,363.9 L805.9,361.9 L801.7,365 L796.7,366.5 L795.3,371.5 L792.1,375.7 L788.8,377.4 L785.2,378 L781.7,375.7 L778.2,373.4 L780.8,370.1 L782.9,366.5 L779.8,362.7 L775.9,359.6 L771.5,357.7 L766.7,358.4 L762,357.6 L757.5,356.1" stroke="#B09C9C"/><path d="M752.9,350.4 L752.9,343.5 L758.7,340 L762.4,340.5 L765.6,342.3 L769.8,340.6 L772.6,337 L775.9,334.2 L776.4,329.6 L777.1,325 L780.5,323 L782.2,319.4 L785.2,317" stroke="#74BE74"/><path d="M808.2,287 L809.4,293.9 L814,295.1 L817.3,298.2 L819.7,302 L818.2,306.5 L817.4,311.2 L813.5,314.5 L811.7,319.3 L813.4,323.1 L814,327.3 L813,331.1 L810,333.6 L807.7,336.5 L809.4,340 L812.9,337.8 L815.1,334.1 L819.4,332.9 L822,329.6 L824.5,325.9 L827.7,323 L831.2,320.4 L834.2,318.3 L837.8,316.8 L839.9,313.5 L842.8,311.2" stroke="#A884CC"/><path d="M908.4,249 L913.9,249.1 L918.8,246.7 L923,243.4 L926.9,239.8 L929.8,235.7 L930.3,230.6 L933,227.5 L936.1,224.8 L939.9,227.2 L943,230.6 L944.9,226 L946.4,221.3 L947.3,216.7 L947.8,212.1 L947.6,207.5 L947.1,203.7 L945.4,200.2 L944.1,196.7 L943.9,192.8 L943,189.1 L940.3,185.9 L938.1,182.4 L936.1,178.7" stroke="#7FA2C4"/><path d="M152.6,237.6 L154.1,230.4 L164.2,220.3 L167.1,201.6 L165.6,187.2" stroke="#8286C8"/><path d="M201.6,174.3 L207.4,164.2 L214.6,152.6 L220.3,144 L230.4,150.3 L244.8,156.1 L257.8,155.5" stroke="#8286C8"/><path d="M325.5,202.5 L329.8,206.8 L337,212.6" stroke="#8286C8"/><path d="M612.1,281.1 L628.2,275.3" stroke="#B274C2"/><path d="M482.3,701.9 L491.5,706.5 L503,710 L512.3,707.7 L520.3,708.8" stroke="#B08CC0"/></g>
<g id="fringe"><circle cx="815.8" cy="635.9" r="1.3" fill="#A0C8B4"/><circle cx="817.1" cy="633.6" r="1.1" fill="#A0C8B4"/><circle cx="788.2" cy="670.2" r="1.1" fill="#A0C8B4"/><circle cx="833.1" cy="584.4" r="0.9" fill="#A0C8B4"/><circle cx="776.3" cy="682.8" r="1.2" fill="#A0C8B4"/><circle cx="770.2" cy="690.3" r="1.4" fill="#A0C8B4"/><circle cx="829.1" cy="604.5" r="0.8" fill="#A0C8B4"/><circle cx="765.4" cy="688.7" r="0.7" fill="#A0C8B4"/><circle cx="786.9" cy="668.7" r="0.7" fill="#A0C8B4"/><circle cx="816.6" cy="633.6" r="1.3" fill="#A0C8B4"/><circle cx="822.7" cy="626.3" r="1.0" fill="#A0C8B4"/><circle cx="827.5" cy="603.7" r="0.9" fill="#A0C8B4"/><circle cx="855.6" cy="560.1" r="1.3" fill="#A0C8B4"/><circle cx="829.7" cy="598.1" r="0.9" fill="#A0C8B4"/><circle cx="796.1" cy="655.3" r="1.2" fill="#A0C8B4"/><circle cx="811.4" cy="643.7" r="1.0" fill="#A0C8B4"/><circle cx="851.1" cy="564.4" r="0.7" fill="#A0C8B4"/><circle cx="791.9" cy="668.8" r="1.0" fill="#A0C8B4"/><circle cx="851.1" cy="559.2" r="0.8" fill="#A0C8B4"/><circle cx="831.0" cy="610.7" r="0.9" fill="#A0C8B4"/><circle cx="774.3" cy="680.5" r="1.4" fill="#A0C8B4"/><circle cx="830.0" cy="589.4" r="0.9" fill="#A0C8B4"/><circle cx="775.5" cy="677.8" r="1.3" fill="#A0C8B4"/><circle cx="788.0" cy="671.4" r="1.0" fill="#A0C8B4"/><circle cx="789.8" cy="669.8" r="0.8" fill="#A0C8B4"/><circle cx="827.1" cy="607.5" r="1.0" fill="#A0C8B4"/><circle cx="789.1" cy="665.9" r="1.4" fill="#A0C8B4"/><circle cx="835.3" cy="584.2" r="1.3" fill="#A0C8B4"/><circle cx="789.5" cy="666.6" r="1.3" fill="#A0C8B4"/><circle cx="827.2" cy="607.8" r="1.4" fill="#A0C8B4"/><circle cx="789.1" cy="665.8" r="1.2" fill="#A0C8B4"/><circle cx="801.8" cy="651.4" r="0.8" fill="#A0C8B4"/><circle cx="775.5" cy="681.6" r="0.9" fill="#A0C8B4"/><circle cx="828.7" cy="613.9" r="1.0" fill="#A0C8B4"/><circle cx="849.5" cy="562.8" r="1.1" fill="#A0C8B4"/><circle cx="841.1" cy="575.0" r="0.8" fill="#A0C8B4"/><circle cx="846.3" cy="571.4" r="0.9" fill="#A0C8B4"/><circle cx="789.8" cy="669.9" r="1.4" fill="#A0C8B4"/><circle cx="790.8" cy="670.7" r="1.3" fill="#A0C8B4"/><circle cx="828.9" cy="613.4" r="0.8" fill="#A0C8B4"/><circle cx="769.6" cy="690.3" r="0.9" fill="#A0C8B4"/><circle cx="829.2" cy="598.5" r="1.3" fill="#A0C8B4"/><circle cx="828.5" cy="614.8" r="0.8" fill="#A0C8B4"/><circle cx="828.4" cy="595.7" r="0.9" fill="#A0C8B4"/><circle cx="826.4" cy="624.2" r="1.1" fill="#A0C8B4"/><circle cx="800.2" cy="658.7" r="0.8" fill="#A0C8B4"/><circle cx="765.0" cy="687.0" r="1.0" fill="#A0C8B4"/><circle cx="770.7" cy="682.6" r="1.0" fill="#A0C8B4"/><circle cx="826.1" cy="618.8" r="1.0" fill="#A0C8B4"/><circle cx="846.5" cy="571.1" r="1.2" fill="#A0C8B4"/><circle cx="830.7" cy="601.2" r="0.8" fill="#A0C8B4"/><circle cx="767.5" cy="684.6" r="1.3" fill="#A0C8B4"/><circle cx="833.4" cy="600.2" r="0.7" fill="#A0C8B4"/><circle cx="829.4" cy="609.1" r="1.2" fill="#A0C8B4"/><circle cx="803.8" cy="655.7" r="0.8" fill="#A0C8B4"/><circle cx="824.1" cy="624.5" r="1.3" fill="#A0C8B4"/><circle cx="832.5" cy="592.9" r="1.3" fill="#A0C8B4"/><circle cx="844.8" cy="568.5" r="1.2" fill="#A0C8B4"/><circle cx="845.7" cy="572.5" r="1.0" fill="#A0C8B4"/><circle cx="836.7" cy="587.7" r="1.1" fill="#A0C8B4"/><circle cx="828.4" cy="610.9" r="1.1" fill="#A0C8B4"/><circle cx="826.6" cy="613.3" r="1.1" fill="#A0C8B4"/><circle cx="854.5" cy="560.1" r="1.2" fill="#A0C8B4"/><circle cx="809.5" cy="644.8" r="1.1" fill="#A0C8B4"/><circle cx="815.9" cy="638.6" r="0.8" fill="#A0C8B4"/><circle cx="829.0" cy="590.5" r="1.1" fill="#A0C8B4"/><circle cx="816.9" cy="630.4" r="1.2" fill="#A0C8B4"/><circle cx="820.3" cy="629.6" r="1.3" fill="#A0C8B4"/><circle cx="793.1" cy="659.6" r="0.9" fill="#A0C8B4"/><circle cx="827.1" cy="602.7" r="0.8" fill="#A0C8B4"/><circle cx="845.2" cy="571.0" r="1.0" fill="#A0C8B4"/><circle cx="842.4" cy="570.7" r="1.2" fill="#A0C8B4"/><circle cx="788.4" cy="668.4" r="1.3" fill="#A0C8B4"/><circle cx="847.2" cy="570.9" r="1.0" fill="#A0C8B4"/><circle cx="828.1" cy="617.8" r="0.8" fill="#A0C8B4"/><circle cx="821.4" cy="630.5" r="1.3" fill="#A0C8B4"/><circle cx="833.7" cy="598.5" r="0.9" fill="#A0C8B4"/><circle cx="785.6" cy="673.3" r="0.9" fill="#A0C8B4"/><circle cx="789.9" cy="666.3" r="1.1" fill="#A0C8B4"/><circle cx="818.4" cy="628.9" r="1.3" fill="#A0C8B4"/><circle cx="851.3" cy="559.5" r="0.8" fill="#A0C8B4"/><circle cx="768.3" cy="690.0" r="0.7" fill="#A0C8B4"/><circle cx="831.3" cy="598.3" r="0.9" fill="#A0C8B4"/><circle cx="832.6" cy="584.3" r="0.8" fill="#A0C8B4"/><circle cx="813.5" cy="633.4" r="1.3" fill="#A0C8B4"/><circle cx="791.0" cy="662.0" r="0.7" fill="#A0C8B4"/><circle cx="828.9" cy="610.3" r="1.1" fill="#A0C8B4"/><circle cx="830.1" cy="603.8" r="1.4" fill="#A0C8B4"/><circle cx="827.7" cy="601.7" r="1.0" fill="#A0C8B4"/><circle cx="784.8" cy="670.0" r="1.0" fill="#A0C8B4"/><circle cx="829.1" cy="596.7" r="0.9" fill="#A0C8B4"/><circle cx="805.6" cy="651.2" r="1.1" fill="#A0C8B4"/><circle cx="830.3" cy="611.0" r="1.0" fill="#A0C8B4"/><circle cx="837.1" cy="587.6" r="0.8" fill="#A0C8B4"/><circle cx="848.5" cy="566.4" r="0.8" fill="#A0C8B4"/><circle cx="816.2" cy="636.0" r="1.3" fill="#A0C8B4"/><circle cx="807.9" cy="645.1" r="1.3" fill="#A0C8B4"/><circle cx="837.1" cy="588.0" r="1.0" fill="#A0C8B4"/><circle cx="827.0" cy="606.1" r="1.2" fill="#A0C8B4"/><circle cx="838.6" cy="584.2" r="1.2" fill="#A0C8B4"/><circle cx="792.3" cy="668.3" r="1.4" fill="#A0C8B4"/><circle cx="851.6" cy="560.1" r="1.3" fill="#A0C8B4"/><circle cx="803.6" cy="655.1" r="1.3" fill="#A0C8B4"/><circle cx="803.2" cy="648.1" r="1.0" fill="#A0C8B4"/><circle cx="824.8" cy="624.4" r="1.0" fill="#A0C8B4"/><circle cx="767.7" cy="689.8" r="0.7" fill="#A0C8B4"/><circle cx="834.3" cy="584.0" r="0.9" fill="#A0C8B4"/><circle cx="832.8" cy="585.3" r="0.8" fill="#A0C8B4"/><circle cx="822.8" cy="627.3" r="1.3" fill="#A0C8B4"/><circle cx="832.1" cy="603.6" r="1.0" fill="#A0C8B4"/><circle cx="846.4" cy="562.4" r="0.9" fill="#A0C8B4"/><circle cx="821.4" cy="624.1" r="1.2" fill="#A0C8B4"/><circle cx="829.8" cy="608.8" r="1.3" fill="#A0C8B4"/><circle cx="825.0" cy="621.1" r="1.0" fill="#A0C8B4"/><circle cx="843.8" cy="580.1" r="0.8" fill="#A0C8B4"/><circle cx="844.6" cy="579.4" r="1.1" fill="#A0C8B4"/><circle cx="826.6" cy="618.9" r="1.1" fill="#A0C8B4"/><circle cx="820.8" cy="628.7" r="0.7" fill="#A0C8B4"/><circle cx="850.8" cy="561.1" r="1.0" fill="#A0C8B4"/><circle cx="836.1" cy="585.7" r="1.0" fill="#A0C8B4"/><circle cx="827.5" cy="600.4" r="1.1" fill="#A0C8B4"/><circle cx="813.2" cy="642.7" r="1.3" fill="#A0C8B4"/><circle cx="796.8" cy="659.4" r="0.8" fill="#A0C8B4"/><circle cx="814.9" cy="639.6" r="1.3" fill="#A0C8B4"/><circle cx="817.0" cy="631.4" r="0.8" fill="#A0C8B4"/><circle cx="831.5" cy="612.8" r="0.8" fill="#A0C8B4"/><circle cx="831.3" cy="586.0" r="0.8" fill="#A0C8B4"/><circle cx="792.7" cy="665.4" r="0.9" fill="#A0C8B4"/><circle cx="806.8" cy="648.5" r="0.8" fill="#A0C8B4"/><circle cx="828.8" cy="593.9" r="1.1" fill="#A0C8B4"/><circle cx="792.9" cy="661.0" r="1.1" fill="#A0C8B4"/><circle cx="813.2" cy="637.2" r="1.0" fill="#A0C8B4"/><circle cx="820.9" cy="623.3" r="0.8" fill="#A0C8B4"/><circle cx="830.2" cy="610.2" r="1.1" fill="#A0C8B4"/><circle cx="842.5" cy="578.4" r="1.3" fill="#A0C8B4"/><circle cx="793.5" cy="664.9" r="1.3" fill="#A0C8B4"/><circle cx="843.3" cy="570.0" r="0.9" fill="#A0C8B4"/><circle cx="844.9" cy="566.7" r="1.4" fill="#A0C8B4"/><circle cx="841.2" cy="571.3" r="0.9" fill="#A0C8B4"/><circle cx="829.7" cy="594.6" r="0.8" fill="#A0C8B4"/><circle cx="839.5" cy="581.0" r="1.3" fill="#A0C8B4"/><circle cx="781.0" cy="677.4" r="1.2" fill="#A0C8B4"/><circle cx="765.1" cy="686.6" r="1.2" fill="#A0C8B4"/><circle cx="847.3" cy="571.6" r="0.8" fill="#A0C8B4"/><circle cx="821.9" cy="628.9" r="1.1" fill="#A0C8B4"/><circle cx="827.8" cy="601.5" r="0.7" fill="#A0C8B4"/><circle cx="776.2" cy="677.3" r="1.1" fill="#A0C8B4"/><circle cx="821.8" cy="627.0" r="0.8" fill="#A0C8B4"/><circle cx="786.3" cy="669.5" r="1.3" fill="#A0C8B4"/><circle cx="854.4" cy="560.6" r="0.8" fill="#A0C8B4"/><circle cx="775.1" cy="684.8" r="1.0" fill="#A0C8B4"/><circle cx="831.6" cy="588.8" r="1.0" fill="#A0C8B4"/><circle cx="821.1" cy="626.4" r="1.1" fill="#A0C8B4"/><circle cx="765.6" cy="689.8" r="1.3" fill="#A0C8B4"/><circle cx="787.6" cy="670.6" r="1.2" fill="#A0C8B4"/><circle cx="808.7" cy="640.5" r="0.8" fill="#A0C8B4"/><circle cx="818.7" cy="625.2" r="1.3" fill="#A0C8B4"/><circle cx="836.8" cy="586.3" r="1.3" fill="#A0C8B4"/><circle cx="828.7" cy="610.2" r="1.1" fill="#A0C8B4"/><circle cx="822.9" cy="629.9" r="1.3" fill="#A0C8B4"/><circle cx="796.5" cy="664.1" r="1.2" fill="#A0C8B4"/><circle cx="835.2" cy="589.2" r="1.0" fill="#A0C8B4"/><circle cx="845.2" cy="573.1" r="1.2" fill="#A0C8B4"/><circle cx="833.8" cy="590.4" r="1.0" fill="#A0C8B4"/><circle cx="828.5" cy="595.3" r="0.9" fill="#A0C8B4"/><circle cx="814.6" cy="631.5" r="0.9" fill="#A0C8B4"/><circle cx="830.4" cy="608.9" r="0.9" fill="#A0C8B4"/><circle cx="848.7" cy="565.4" r="0.9" fill="#A0C8B4"/><circle cx="828.4" cy="603.8" r="1.1" fill="#A0C8B4"/><circle cx="810.9" cy="645.8" r="1.1" fill="#A0C8B4"/><circle cx="832.2" cy="599.9" r="1.4" fill="#A0C8B4"/><circle cx="766.5" cy="688.8" r="1.2" fill="#A0C8B4"/><circle cx="794.5" cy="661.6" r="0.7" fill="#A0C8B4"/><circle cx="788.0" cy="668.2" r="0.8" fill="#A0C8B4"/><circle cx="795.4" cy="664.8" r="1.1" fill="#A0C8B4"/><circle cx="823.1" cy="629.4" r="1.1" fill="#A0C8B4"/><circle cx="853.7" cy="558.8" r="1.3" fill="#A0C8B4"/><circle cx="773.5" cy="682.9" r="1.2" fill="#A0C8B4"/><circle cx="773.6" cy="687.2" r="0.8" fill="#A0C8B4"/><circle cx="815.8" cy="631.6" r="1.0" fill="#A0C8B4"/><circle cx="826.3" cy="613.0" r="1.4" fill="#A0C8B4"/><circle cx="812.0" cy="640.0" r="1.1" fill="#A0C8B4"/><circle cx="805.5" cy="646.1" r="1.2" fill="#A0C8B4"/><circle cx="825.1" cy="620.9" r="1.2" fill="#A0C8B4"/><circle cx="796.6" cy="654.2" r="0.9" fill="#A0C8B4"/><circle cx="769.0" cy="685.2" r="1.2" fill="#A0C8B4"/><circle cx="810.5" cy="645.3" r="1.2" fill="#A0C8B4"/><circle cx="774.3" cy="686.6" r="1.4" fill="#A0C8B4"/><circle cx="774.0" cy="684.8" r="1.0" fill="#A0C8B4"/><circle cx="820.7" cy="633.2" r="0.9" fill="#A0C8B4"/><circle cx="824.7" cy="626.5" r="1.2" fill="#A0C8B4"/><circle cx="819.9" cy="634.6" r="1.3" fill="#A0C8B4"/><circle cx="827.1" cy="614.1" r="1.1" fill="#A0C8B4"/><circle cx="814.4" cy="634.1" r="0.7" fill="#A0C8B4"/><circle cx="820.6" cy="623.4" r="1.0" fill="#A0C8B4"/><circle cx="827.5" cy="605.0" r="0.9" fill="#A0C8B4"/><circle cx="828.5" cy="618.2" r="1.2" fill="#A0C8B4"/><circle cx="825.7" cy="625.6" r="1.4" fill="#A0C8B4"/><circle cx="829.6" cy="593.3" r="0.8" fill="#A0C8B4"/><circle cx="844.3" cy="573.2" r="1.1" fill="#A0C8B4"/><circle cx="805.0" cy="647.1" r="1.2" fill="#A0C8B4"/><circle cx="826.6" cy="622.3" r="1.1" fill="#A0C8B4"/><circle cx="830.2" cy="590.3" r="0.9" fill="#A0C8B4"/><circle cx="853.8" cy="561.0" r="1.3" fill="#A0C8B4"/><circle cx="768.3" cy="684.7" r="0.9" fill="#A0C8B4"/><circle cx="813.0" cy="639.8" r="0.8" fill="#A0C8B4"/><circle cx="821.6" cy="621.0" r="0.8" fill="#A0C8B4"/><circle cx="828.8" cy="604.1" r="1.1" fill="#A0C8B4"/><circle cx="807.2" cy="645.4" r="0.8" fill="#A0C8B4"/><circle cx="805.6" cy="651.6" r="1.3" fill="#A0C8B4"/><circle cx="771.7" cy="680.4" r="1.3" fill="#A0C8B4"/><circle cx="830.7" cy="611.6" r="0.8" fill="#A0C8B4"/><circle cx="811.2" cy="638.3" r="1.3" fill="#A0C8B4"/><circle cx="807.9" cy="646.5" r="1.4" fill="#A0C8B4"/><circle cx="802.5" cy="652.9" r="1.2" fill="#A0C8B4"/><circle cx="846.0" cy="567.5" r="1.0" fill="#A0C8B4"/><circle cx="777.4" cy="682.7" r="0.8" fill="#A0C8B4"/><circle cx="774.4" cy="682.1" r="1.0" fill="#A0C8B4"/><circle cx="828.3" cy="602.0" r="1.2" fill="#A0C8B4"/><circle cx="772.3" cy="680.8" r="1.2" fill="#A0C8B4"/><circle cx="773.4" cy="680.8" r="1.2" fill="#A0C8B4"/><circle cx="828.9" cy="600.3" r="0.8" fill="#A0C8B4"/><circle cx="807.6" cy="648.4" r="1.0" fill="#A0C8B4"/><circle cx="779.7" cy="680.4" r="1.1" fill="#A0C8B4"/><circle cx="848.8" cy="569.2" r="1.3" fill="#A0C8B4"/><circle cx="815.4" cy="638.8" r="0.9" fill="#A0C8B4"/><circle cx="800.9" cy="653.2" r="1.4" fill="#A0C8B4"/><circle cx="842.0" cy="570.7" r="1.0" fill="#A0C8B4"/><circle cx="806.0" cy="646.3" r="1.0" fill="#A0C8B4"/><circle cx="806.8" cy="642.8" r="1.1" fill="#A0C8B4"/><circle cx="738.9" cy="692.5" r="1.2" fill="#94B4C0"/><circle cx="724.2" cy="701.5" r="1.2" fill="#94B4C0"/><circle cx="743.4" cy="689.0" r="0.7" fill="#94B4C0"/><circle cx="723.4" cy="705.3" r="1.0" fill="#94B4C0"/><circle cx="749.3" cy="684.6" r="1.2" fill="#94B4C0"/><circle cx="696.1" cy="722.9" r="1.2" fill="#94B4C0"/><circle cx="698.2" cy="721.4" r="1.1" fill="#94B4C0"/><circle cx="744.1" cy="687.4" r="1.1" fill="#94B4C0"/><circle cx="704.1" cy="723.8" r="1.1" fill="#94B4C0"/><circle cx="708.7" cy="718.3" r="1.2" fill="#94B4C0"/><circle cx="724.5" cy="705.6" r="0.9" fill="#94B4C0"/><circle cx="716.9" cy="718.3" r="1.1" fill="#94B4C0"/><circle cx="722.8" cy="706.5" r="1.1" fill="#94B4C0"/><circle cx="734.0" cy="697.9" r="0.9" fill="#94B4C0"/><circle cx="740.9" cy="691.5" r="1.2" fill="#94B4C0"/><circle cx="740.3" cy="693.1" r="1.2" fill="#94B4C0"/><circle cx="748.9" cy="685.1" r="1.0" fill="#94B4C0"/><circle cx="733.8" cy="697.4" r="1.0" fill="#94B4C0"/><circle cx="718.7" cy="710.5" r="1.1" fill="#94B4C0"/><circle cx="749.1" cy="682.3" r="0.8" fill="#94B4C0"/><circle cx="706.3" cy="720.4" r="0.9" fill="#94B4C0"/><circle cx="747.0" cy="683.0" r="0.9" fill="#94B4C0"/><circle cx="699.6" cy="724.6" r="1.2" fill="#94B4C0"/><circle cx="703.8" cy="719.7" r="1.0" fill="#94B4C0"/><circle cx="728.0" cy="701.8" r="0.7" fill="#94B4C0"/><circle cx="699.8" cy="722.5" r="0.8" fill="#94B4C0"/><circle cx="708.9" cy="720.7" r="1.1" fill="#94B4C0"/><circle cx="707.2" cy="718.8" r="0.9" fill="#94B4C0"/><circle cx="705.7" cy="722.4" r="0.9" fill="#94B4C0"/><circle cx="725.9" cy="704.1" r="1.0" fill="#94B4C0"/><circle cx="710.8" cy="720.8" r="1.2" fill="#94B4C0"/><circle cx="716.1" cy="716.5" r="1.3" fill="#94B4C0"/><circle cx="721.1" cy="706.5" r="0.7" fill="#94B4C0"/><circle cx="749.2" cy="686.1" r="0.9" fill="#94B4C0"/><circle cx="723.9" cy="704.5" r="0.9" fill="#94B4C0"/><circle cx="750.2" cy="683.0" r="0.8" fill="#94B4C0"/><circle cx="692.6" cy="722.1" r="0.9" fill="#94B4C0"/><circle cx="739.4" cy="693.1" r="1.1" fill="#94B4C0"/><circle cx="702.9" cy="721.2" r="0.9" fill="#94B4C0"/><circle cx="710.7" cy="720.7" r="1.0" fill="#94B4C0"/><circle cx="728.8" cy="700.6" r="0.9" fill="#94B4C0"/><circle cx="722.9" cy="703.1" r="1.2" fill="#94B4C0"/><circle cx="691.6" cy="723.6" r="1.2" fill="#94B4C0"/><circle cx="739.0" cy="689.7" r="0.9" fill="#94B4C0"/><circle cx="732.6" cy="694.4" r="1.0" fill="#94B4C0"/><circle cx="723.5" cy="709.1" r="1.1" fill="#94B4C0"/><circle cx="741.8" cy="689.6" r="1.2" fill="#94B4C0"/><circle cx="721.8" cy="712.2" r="0.8" fill="#94B4C0"/><circle cx="739.6" cy="689.9" r="1.0" fill="#94B4C0"/><circle cx="722.5" cy="703.6" r="1.2" fill="#94B4C0"/><circle cx="713.6" cy="716.8" r="0.7" fill="#94B4C0"/><circle cx="713.3" cy="717.8" r="1.1" fill="#94B4C0"/><circle cx="717.6" cy="716.3" r="0.8" fill="#94B4C0"/><circle cx="719.2" cy="712.9" r="1.3" fill="#94B4C0"/><circle cx="740.3" cy="691.8" r="0.7" fill="#94B4C0"/><circle cx="719.8" cy="714.5" r="0.8" fill="#94B4C0"/><circle cx="725.3" cy="702.2" r="0.7" fill="#94B4C0"/><circle cx="750.8" cy="683.2" r="0.8" fill="#94B4C0"/><circle cx="726.8" cy="698.3" r="0.9" fill="#94B4C0"/><circle cx="723.6" cy="703.2" r="0.9" fill="#94B4C0"/><circle cx="720.0" cy="713.4" r="0.9" fill="#94B4C0"/><circle cx="706.5" cy="721.8" r="0.9" fill="#94B4C0"/><circle cx="748.0" cy="686.0" r="1.1" fill="#94B4C0"/><circle cx="716.2" cy="718.0" r="0.8" fill="#94B4C0"/><circle cx="701.8" cy="721.9" r="1.1" fill="#94B4C0"/><circle cx="732.3" cy="695.0" r="0.9" fill="#94B4C0"/><circle cx="740.8" cy="691.4" r="0.8" fill="#94B4C0"/><circle cx="707.3" cy="718.6" r="0.8" fill="#94B4C0"/><circle cx="718.0" cy="711.3" r="1.3" fill="#94B4C0"/><circle cx="720.4" cy="710.7" r="1.1" fill="#94B4C0"/><circle cx="658.9" cy="733.7" r="0.8" fill="#B88890"/><circle cx="634.4" cy="731.0" r="0.6" fill="#B88890"/><circle cx="637.4" cy="735.0" r="1.1" fill="#B88890"/><circle cx="660.2" cy="731.6" r="0.9" fill="#B88890"/><circle cx="588.3" cy="726.9" r="0.8" fill="#B88890"/><circle cx="655.7" cy="749.1" r="0.8" fill="#B88890"/><circle cx="640.3" cy="751.9" r="1.0" fill="#B88890"/><circle cx="653.1" cy="754.6" r="1.0" fill="#B88890"/><circle cx="676.1" cy="726.3" r="0.8" fill="#B88890"/><circle cx="641.8" cy="750.1" r="1.0" fill="#B88890"/><circle cx="688.2" cy="722.2" r="1.0" fill="#B88890"/><circle cx="665.6" cy="727.7" r="1.1" fill="#B88890"/><circle cx="654.3" cy="752.5" r="0.6" fill="#B88890"/><circle cx="622.1" cy="728.8" r="0.9" fill="#B88890"/><circle cx="634.2" cy="732.5" r="0.8" fill="#B88890"/><circle cx="639.7" cy="744.7" r="1.1" fill="#B88890"/><circle cx="606.5" cy="730.1" r="0.9" fill="#B88890"/><circle cx="645.8" cy="758.1" r="0.7" fill="#B88890"/><circle cx="676.8" cy="727.6" r="1.0" fill="#B88890"/><circle cx="651.7" cy="755.2" r="1.0" fill="#B88890"/><circle cx="627.1" cy="732.2" r="0.7" fill="#B88890"/><circle cx="647.9" cy="758.5" r="0.7" fill="#B88890"/><circle cx="643.6" cy="757.0" r="0.6" fill="#B88890"/><circle cx="613.3" cy="730.2" r="1.1" fill="#B88890"/><circle cx="656.7" cy="748.2" r="0.9" fill="#B88890"/><circle cx="655.7" cy="737.5" r="0.9" fill="#B88890"/><circle cx="660.7" cy="728.7" r="0.7" fill="#B88890"/><circle cx="640.0" cy="745.4" r="0.8" fill="#B88890"/><circle cx="647.0" cy="756.8" r="0.9" fill="#B88890"/><circle cx="623.6" cy="729.4" r="0.8" fill="#B88890"/><circle cx="654.9" cy="750.2" r="0.9" fill="#B88890"/><circle cx="606.7" cy="730.1" r="0.9" fill="#B88890"/><circle cx="639.4" cy="746.0" r="0.9" fill="#B88890"/><circle cx="657.9" cy="742.9" r="1.0" fill="#B88890"/><circle cx="639.0" cy="749.0" r="1.0" fill="#B88890"/><circle cx="668.7" cy="727.7" r="0.8" fill="#B88890"/><circle cx="646.8" cy="758.9" r="0.9" fill="#B88890"/><circle cx="641.9" cy="754.0" r="1.1" fill="#B88890"/><circle cx="632.6" cy="730.2" r="1.0" fill="#B88890"/><circle cx="675.8" cy="726.9" r="0.9" fill="#B88890"/><circle cx="857.7" cy="533.0" r="1.3" fill="#86B888"/><circle cx="855.1" cy="546.8" r="1.2" fill="#86B888"/><circle cx="857.5" cy="538.3" r="0.8" fill="#86B888"/><circle cx="860.0" cy="535.2" r="1.0" fill="#86B888"/><circle cx="857.3" cy="541.8" r="1.0" fill="#86B888"/><circle cx="864.4" cy="542.6" r="1.7" fill="#86B888"/><circle cx="864.0" cy="537.2" r="1.2" fill="#86B888"/><circle cx="857.1" cy="530.2" r="1.5" fill="#86B888"/><circle cx="864.2" cy="537.9" r="0.9" fill="#86B888"/><circle cx="855.8" cy="531.3" r="1.3" fill="#86B888"/><circle cx="853.9" cy="527.1" r="1.0" fill="#86B888"/><circle cx="856.4" cy="542.0" r="0.9" fill="#86B888"/><circle cx="864.5" cy="527.0" r="1.2" fill="#86B888"/><circle cx="859.7" cy="540.4" r="0.8" fill="#86B888"/><circle cx="864.6" cy="543.5" r="1.1" fill="#86B888"/><circle cx="864.3" cy="539.6" r="1.7" fill="#86B888"/><circle cx="854.9" cy="538.6" r="1.1" fill="#86B888"/><circle cx="865.5" cy="526.3" r="1.0" fill="#86B888"/><circle cx="858.8" cy="529.2" r="1.2" fill="#86B888"/><circle cx="863.0" cy="540.5" r="1.7" fill="#86B888"/><circle cx="859.8" cy="541.2" r="1.0" fill="#86B888"/><circle cx="854.7" cy="528.7" r="0.9" fill="#86B888"/><circle cx="857.6" cy="533.6" r="1.6" fill="#86B888"/><circle cx="863.3" cy="527.8" r="0.9" fill="#86B888"/><circle cx="865.1" cy="536.9" r="1.2" fill="#86B888"/><circle cx="856.2" cy="546.1" r="1.1" fill="#86B888"/><circle cx="856.0" cy="533.5" r="1.0" fill="#86B888"/><circle cx="860.9" cy="543.3" r="1.5" fill="#86B888"/><circle cx="860.6" cy="540.0" r="1.6" fill="#86B888"/><circle cx="855.7" cy="535.9" r="1.1" fill="#86B888"/><circle cx="862.5" cy="526.5" r="1.0" fill="#86B888"/><circle cx="854.2" cy="534.6" r="1.7" fill="#86B888"/><circle cx="858.9" cy="540.1" r="1.3" fill="#86B888"/><circle cx="860.9" cy="544.8" r="1.1" fill="#86B888"/><circle cx="862.6" cy="542.8" r="0.9" fill="#86B888"/><circle cx="862.0" cy="542.0" r="1.0" fill="#86B888"/><circle cx="859.3" cy="542.3" r="1.0" fill="#86B888"/><circle cx="866.7" cy="526.7" r="0.8" fill="#86B888"/><circle cx="861.9" cy="540.1" r="1.1" fill="#86B888"/><circle cx="860.4" cy="526.8" r="1.0" fill="#86B888"/><circle cx="860.9" cy="537.6" r="1.1" fill="#86B888"/><circle cx="862.9" cy="537.1" r="1.3" fill="#86B888"/><circle cx="863.2" cy="539.2" r="1.4" fill="#86B888"/><circle cx="864.7" cy="539.1" r="1.0" fill="#86B888"/><circle cx="856.2" cy="531.8" r="1.3" fill="#86B888"/><circle cx="858.0" cy="543.5" r="1.5" fill="#86B888"/><circle cx="863.9" cy="534.2" r="1.0" fill="#86B888"/><circle cx="855.2" cy="538.3" r="1.3" fill="#86B888"/><circle cx="852.8" cy="537.6" r="1.3" fill="#86B888"/><circle cx="860.7" cy="534.9" r="1.6" fill="#86B888"/><circle cx="854.3" cy="544.3" r="0.8" fill="#86B888"/><circle cx="857.9" cy="538.6" r="1.2" fill="#86B888"/><circle cx="862.6" cy="542.5" r="0.9" fill="#86B888"/><circle cx="861.3" cy="527.2" r="1.3" fill="#86B888"/><circle cx="857.2" cy="531.8" r="0.9" fill="#86B888"/><circle cx="852.7" cy="542.0" r="1.1" fill="#86B888"/><circle cx="859.4" cy="536.9" r="1.0" fill="#86B888"/><circle cx="853.9" cy="535.6" r="1.5" fill="#86B888"/><circle cx="855.6" cy="543.9" r="0.9" fill="#86B888"/><circle cx="863.7" cy="536.5" r="1.5" fill="#86B888"/><circle cx="858.6" cy="545.5" r="1.1" fill="#86B888"/><circle cx="864.9" cy="543.5" r="0.8" fill="#86B888"/><circle cx="862.1" cy="539.4" r="1.7" fill="#86B888"/><circle cx="858.3" cy="543.4" r="1.5" fill="#86B888"/><circle cx="856.8" cy="546.9" r="1.6" fill="#86B888"/><circle cx="857.6" cy="543.8" r="1.1" fill="#86B888"/><circle cx="853.1" cy="539.5" r="0.8" fill="#86B888"/><circle cx="863.6" cy="524.7" r="1.5" fill="#86B888"/><circle cx="855.5" cy="543.7" r="1.3" fill="#86B888"/><circle cx="858.2" cy="543.3" r="1.6" fill="#86B888"/><circle cx="856.4" cy="540.5" r="1.7" fill="#86B888"/><circle cx="853.3" cy="535.1" r="1.2" fill="#86B888"/><circle cx="853.9" cy="534.3" r="1.1" fill="#86B888"/><circle cx="864.2" cy="536.6" r="1.3" fill="#86B888"/><circle cx="860.0" cy="527.8" r="1.2" fill="#86B888"/><circle cx="859.1" cy="529.0" r="1.5" fill="#86B888"/><circle cx="856.8" cy="544.0" r="1.0" fill="#86B888"/><circle cx="854.7" cy="536.7" r="1.0" fill="#86B888"/><circle cx="858.4" cy="543.9" r="1.1" fill="#86B888"/><circle cx="864.9" cy="540.9" r="1.4" fill="#86B888"/><circle cx="856.8" cy="528.8" r="1.1" fill="#86B888"/><circle cx="861.8" cy="543.7" r="1.1" fill="#86B888"/><circle cx="852.4" cy="542.9" r="1.0" fill="#86B888"/><circle cx="857.3" cy="542.8" r="1.6" fill="#86B888"/><circle cx="857.0" cy="533.7" r="1.1" fill="#86B888"/><circle cx="863.9" cy="540.6" r="1.1" fill="#86B888"/><circle cx="863.0" cy="534.4" r="1.6" fill="#86B888"/><circle cx="857.9" cy="546.8" r="1.1" fill="#86B888"/><circle cx="863.9" cy="542.4" r="1.1" fill="#86B888"/><circle cx="860.5" cy="533.4" r="0.8" fill="#86B888"/><circle cx="855.1" cy="539.8" r="0.8" fill="#86B888"/><circle cx="859.9" cy="542.5" r="0.8" fill="#86B888"/><circle cx="857.6" cy="541.6" r="1.3" fill="#86B888"/><circle cx="861.3" cy="542.2" r="1.0" fill="#86B888"/><circle cx="861.9" cy="535.1" r="0.9" fill="#86B888"/><circle cx="813.2" cy="325.0" r="1.1" fill="#A884CC"/><circle cx="807.9" cy="338.7" r="1.2" fill="#A884CC"/><circle cx="813.4" cy="326.7" r="0.9" fill="#A884CC"/><circle cx="814.0" cy="325.8" r="0.7" fill="#A884CC"/><circle cx="822.3" cy="331.2" r="1.2" fill="#A884CC"/><circle cx="841.6" cy="312.8" r="1.1" fill="#A884CC"/><circle cx="838.6" cy="315.9" r="1.1" fill="#A884CC"/><circle cx="825.0" cy="329.4" r="1.2" fill="#A884CC"/><circle cx="812.6" cy="326.9" r="0.8" fill="#A884CC"/><circle cx="808.7" cy="340.3" r="0.7" fill="#A884CC"/><circle cx="807.3" cy="337.0" r="1.0" fill="#A884CC"/><circle cx="813.0" cy="330.8" r="0.9" fill="#A884CC"/><circle cx="812.6" cy="338.1" r="1.1" fill="#A884CC"/><circle cx="814.0" cy="327.7" r="0.9" fill="#A884CC"/><circle cx="809.1" cy="339.6" r="1.0" fill="#A884CC"/><circle cx="825.4" cy="326.7" r="1.1" fill="#A884CC"/><circle cx="815.5" cy="311.8" r="0.9" fill="#A884CC"/><circle cx="813.1" cy="313.8" r="0.7" fill="#A884CC"/><circle cx="814.6" cy="337.4" r="1.0" fill="#A884CC"/><circle cx="810.2" cy="332.9" r="0.7" fill="#A884CC"/><circle cx="807.6" cy="333.1" r="1.0" fill="#A884CC"/><circle cx="812.0" cy="329.0" r="0.8" fill="#A884CC"/><circle cx="812.9" cy="339.5" r="1.3" fill="#A884CC"/><circle cx="807.5" cy="334.6" r="1.3" fill="#A884CC"/><circle cx="829.7" cy="323.3" r="1.1" fill="#A884CC"/><circle cx="808.1" cy="339.1" r="0.9" fill="#A884CC"/><circle cx="833.8" cy="321.2" r="0.9" fill="#A884CC"/><circle cx="837.8" cy="316.3" r="0.8" fill="#A884CC"/><circle cx="814.4" cy="336.3" r="0.9" fill="#A884CC"/><circle cx="841.4" cy="312.4" r="0.8" fill="#A884CC"/><circle cx="817.1" cy="389.1" r="0.8" fill="#B09C9C"/><circle cx="790.6" cy="423.2" r="0.9" fill="#B09C9C"/><circle cx="818.3" cy="387.3" r="1.0" fill="#B09C9C"/><circle cx="817.8" cy="363.1" r="1.0" fill="#B09C9C"/><circle cx="782.7" cy="370.3" r="0.9" fill="#B09C9C"/><circle cx="835.8" cy="377.5" r="0.9" fill="#B09C9C"/><circle cx="792.0" cy="373.9" r="1.0" fill="#B09C9C"/><circle cx="764.4" cy="356.6" r="0.8" fill="#B09C9C"/><circle cx="804.3" cy="362.1" r="1.0" fill="#B09C9C"/><circle cx="839.2" cy="374.4" r="1.1" fill="#B09C9C"/><circle cx="820.7" cy="363.4" r="0.8" fill="#B09C9C"/><circle cx="831.4" cy="378.0" r="1.0" fill="#B09C9C"/><circle cx="804.3" cy="403.7" r="0.7" fill="#B09C9C"/><circle cx="802.6" cy="408.2" r="0.8" fill="#B09C9C"/><circle cx="836.5" cy="362.2" r="0.9" fill="#B09C9C"/><circle cx="809.9" cy="399.1" r="1.1" fill="#B09C9C"/><circle cx="795.3" cy="414.4" r="1.0" fill="#B09C9C"/><circle cx="779.9" cy="373.9" r="1.1" fill="#B09C9C"/><circle cx="820.3" cy="385.9" r="0.9" fill="#B09C9C"/><circle cx="833.5" cy="378.3" r="1.1" fill="#B09C9C"/><circle cx="781.7" cy="370.3" r="0.9" fill="#B09C9C"/><circle cx="793.2" cy="372.6" r="1.1" fill="#B09C9C"/><circle cx="778.8" cy="373.8" r="0.9" fill="#B09C9C"/><circle cx="796.5" cy="366.6" r="0.8" fill="#B09C9C"/><circle cx="791.9" cy="421.1" r="1.2" fill="#B09C9C"/><circle cx="762.9" cy="357.8" r="1.0" fill="#B09C9C"/><circle cx="841.0" cy="366.1" r="0.9" fill="#B09C9C"/><circle cx="769.7" cy="356.2" r="0.7" fill="#B09C9C"/><circle cx="793.3" cy="374.2" r="0.7" fill="#B09C9C"/><circle cx="825.3" cy="382.6" r="1.2" fill="#B09C9C"/><circle cx="804.1" cy="405.0" r="0.7" fill="#B09C9C"/><circle cx="818.9" cy="363.2" r="0.9" fill="#B09C9C"/><circle cx="829.5" cy="380.7" r="1.1" fill="#B09C9C"/><circle cx="824.6" cy="382.2" r="1.0" fill="#B09C9C"/><circle cx="785.6" cy="376.1" r="0.9" fill="#B09C9C"/><circle cx="794.6" cy="371.0" r="1.1" fill="#B09C9C"/><circle cx="806.9" cy="400.7" r="0.8" fill="#B09C9C"/><circle cx="769.9" cy="357.7" r="0.9" fill="#B09C9C"/><circle cx="804.1" cy="404.9" r="0.7" fill="#B09C9C"/><circle cx="814.7" cy="363.7" r="1.0" fill="#B09C9C"/><circle cx="834.7" cy="329.6" r="1.4" fill="#A884CC"/><circle cx="841.6" cy="327.3" r="1.8" fill="#A884CC"/><circle cx="831.2" cy="326.2" r="1.2" fill="#A884CC"/><circle cx="805.9" cy="351.5" r="2.0" fill="#B09C9C"/><circle cx="807.0" cy="348.1" r="1.6" fill="#B09C9C"/><circle cx="804.7" cy="358.4" r="1.6" fill="#B09C9C"/><circle cx="854.5" cy="526.7" r="1.1" fill="#86B888"/><circle cx="858.1" cy="514.1" r="0.8" fill="#86B888"/><circle cx="865.5" cy="517.0" r="0.9" fill="#86B888"/><circle cx="858.8" cy="509.8" r="1.2" fill="#86B888"/><circle cx="857.8" cy="548.5" r="1.2" fill="#86B888"/><circle cx="853.9" cy="522.9" r="1.5" fill="#86B888"/><circle cx="855.5" cy="530.6" r="1.4" fill="#86B888"/><circle cx="855.1" cy="534.7" r="1.0" fill="#86B888"/><circle cx="864.9" cy="555.6" r="1.2" fill="#86B888"/><circle cx="858.3" cy="546.6" r="1.5" fill="#86B888"/><circle cx="860.2" cy="509.0" r="0.9" fill="#86B888"/><circle cx="860.8" cy="503.7" r="1.1" fill="#86B888"/><circle cx="853.9" cy="528.5" r="0.8" fill="#86B888"/><circle cx="859.0" cy="511.4" r="1.7" fill="#86B888"/><circle cx="861.1" cy="545.2" r="1.5" fill="#86B888"/><circle cx="854.3" cy="541.0" r="1.2" fill="#86B888"/><circle cx="857.5" cy="542.8" r="1.7" fill="#86B888"/><circle cx="864.4" cy="505.2" r="1.7" fill="#86B888"/><circle cx="861.5" cy="513.6" r="1.6" fill="#86B888"/><circle cx="859.2" cy="500.8" r="1.3" fill="#86B888"/><circle cx="854.7" cy="520.3" r="1.4" fill="#86B888"/><circle cx="859.7" cy="545.3" r="1.1" fill="#86B888"/><circle cx="857.4" cy="515.3" r="1.6" fill="#86B888"/><circle cx="858.1" cy="517.6" r="0.9" fill="#86B888"/><circle cx="858.8" cy="511.4" r="1.5" fill="#86B888"/><circle cx="862.3" cy="530.3" r="1.4" fill="#86B888"/><circle cx="860.8" cy="507.6" r="1.1" fill="#86B888"/><circle cx="856.4" cy="523.8" r="0.8" fill="#86B888"/><circle cx="859.9" cy="517.6" r="1.3" fill="#86B888"/><circle cx="853.9" cy="553.3" r="1.0" fill="#86B888"/><circle cx="857.7" cy="542.1" r="0.9" fill="#86B888"/><circle cx="857.4" cy="555.2" r="1.2" fill="#86B888"/><circle cx="857.9" cy="522.5" r="1.4" fill="#86B888"/><circle cx="860.6" cy="509.5" r="1.0" fill="#86B888"/><circle cx="860.2" cy="517.7" r="1.0" fill="#86B888"/><circle cx="866.9" cy="519.7" r="1.7" fill="#86B888"/><circle cx="858.9" cy="520.8" r="1.4" fill="#86B888"/><circle cx="860.6" cy="511.5" r="1.4" fill="#86B888"/><circle cx="862.8" cy="535.0" r="1.3" fill="#86B888"/><circle cx="861.5" cy="531.5" r="0.9" fill="#86B888"/><circle cx="858.6" cy="525.1" r="1.4" fill="#86B888"/><circle cx="861.6" cy="523.2" r="1.1" fill="#86B888"/><circle cx="854.8" cy="531.8" r="1.3" fill="#86B888"/><circle cx="861.9" cy="501.3" r="1.4" fill="#86B888"/><circle cx="861.4" cy="533.1" r="1.6" fill="#86B888"/><circle cx="862.2" cy="508.1" r="1.2" fill="#86B888"/><circle cx="863.6" cy="517.2" r="1.5" fill="#86B888"/><circle cx="854.3" cy="555.3" r="1.2" fill="#86B888"/><circle cx="855.9" cy="555.4" r="1.2" fill="#86B888"/><circle cx="856.1" cy="512.7" r="1.6" fill="#86B888"/><circle cx="862.2" cy="546.3" r="1.5" fill="#86B888"/><circle cx="865.2" cy="528.4" r="1.7" fill="#86B888"/><circle cx="864.9" cy="539.7" r="1.0" fill="#86B888"/><circle cx="858.6" cy="545.1" r="1.2" fill="#86B888"/><circle cx="865.5" cy="510.6" r="1.1" fill="#86B888"/><circle cx="856.5" cy="535.8" r="0.9" fill="#86B888"/><circle cx="863.7" cy="527.2" r="1.0" fill="#86B888"/><circle cx="857.4" cy="544.7" r="1.6" fill="#86B888"/><circle cx="854.8" cy="550.6" r="1.5" fill="#86B888"/><circle cx="861.3" cy="508.1" r="1.1" fill="#86B888"/><circle cx="855.1" cy="519.0" r="1.6" fill="#86B888"/><circle cx="854.8" cy="546.6" r="0.9" fill="#86B888"/><circle cx="856.3" cy="547.4" r="1.4" fill="#86B888"/><circle cx="859.2" cy="550.4" r="0.9" fill="#86B888"/><circle cx="857.9" cy="535.0" r="1.6" fill="#86B888"/><circle cx="854.1" cy="540.6" r="1.0" fill="#86B888"/><circle cx="862.7" cy="500.4" r="1.1" fill="#86B888"/><circle cx="859.4" cy="517.3" r="1.4" fill="#86B888"/><circle cx="855.3" cy="538.7" r="1.0" fill="#86B888"/><circle cx="861.8" cy="506.7" r="1.4" fill="#86B888"/><circle cx="862.7" cy="506.0" r="1.6" fill="#86B888"/><circle cx="854.5" cy="533.9" r="1.1" fill="#86B888"/><circle cx="860.3" cy="538.5" r="1.5" fill="#86B888"/><circle cx="861.8" cy="507.8" r="1.4" fill="#86B888"/><circle cx="859.5" cy="523.5" r="1.5" fill="#86B888"/><circle cx="859.4" cy="528.1" r="1.6" fill="#86B888"/><circle cx="857.4" cy="519.0" r="1.4" fill="#86B888"/><circle cx="854.6" cy="515.6" r="1.6" fill="#86B888"/><circle cx="861.7" cy="515.7" r="1.6" fill="#86B888"/><circle cx="856.8" cy="552.2" r="1.1" fill="#86B888"/><circle cx="859.7" cy="541.5" r="1.3" fill="#86B888"/><circle cx="855.9" cy="523.2" r="1.1" fill="#86B888"/><circle cx="854.5" cy="524.4" r="1.7" fill="#86B888"/><circle cx="856.3" cy="537.4" r="1.0" fill="#86B888"/><circle cx="862.7" cy="522.7" r="0.9" fill="#86B888"/><circle cx="857.4" cy="523.2" r="1.1" fill="#86B888"/><circle cx="856.6" cy="545.8" r="1.6" fill="#86B888"/><circle cx="860.2" cy="505.1" r="1.6" fill="#86B888"/><circle cx="857.9" cy="504.5" r="1.1" fill="#86B888"/><circle cx="860.6" cy="537.3" r="1.1" fill="#86B888"/><circle cx="860.6" cy="550.2" r="1.7" fill="#86B888"/><circle cx="862.2" cy="526.0" r="1.1" fill="#86B888"/><circle cx="855.1" cy="525.7" r="1.1" fill="#86B888"/><circle cx="857.7" cy="554.3" r="1.7" fill="#86B888"/><circle cx="861.0" cy="555.5" r="1.2" fill="#86B888"/><circle cx="857.9" cy="539.1" r="1.7" fill="#86B888"/><circle cx="861.5" cy="503.3" r="1.2" fill="#86B888"/><circle cx="860.9" cy="511.8" r="1.7" fill="#86B888"/><circle cx="858.9" cy="511.3" r="1.1" fill="#86B888"/><circle cx="857.6" cy="541.4" r="0.9" fill="#86B888"/><circle cx="858.5" cy="508.9" r="1.4" fill="#86B888"/><circle cx="860.9" cy="513.8" r="1.5" fill="#86B888"/><circle cx="860.7" cy="540.8" r="1.5" fill="#86B888"/><circle cx="858.7" cy="500.4" r="1.6" fill="#86B888"/><circle cx="858.4" cy="552.8" r="1.6" fill="#86B888"/><circle cx="859.3" cy="529.7" r="1.3" fill="#86B888"/><circle cx="860.4" cy="505.8" r="1.5" fill="#86B888"/><circle cx="861.8" cy="506.5" r="1.3" fill="#86B888"/><circle cx="860.6" cy="506.8" r="0.9" fill="#86B888"/></g>
<g id="inset"><rect x="0" y="0" width="182.2" height="242.1" fill="#fff"/><rect x="1.2" y="1.2" width="179.79999999999998" height="239.7" fill="none" stroke="#dfe7b4" stroke-width="2.4"/><rect x="2.5" y="2.5" width="177.2" height="237.1" fill="none" stroke="#1c2016" stroke-width="1.5"/><rect x="3.7" y="3.7" width="174.79999999999998" height="234.7" fill="none" stroke="#e6ecc4" stroke-width="1.4"/><g fill="none" stroke="#686868" stroke-linejoin="round" stroke-linecap="round"><path d="M3.8,13.3 L10.1,14.6 L15.2,15.2 L19.6,12 L25.3,13.9 L31.7,13.3 L35.5,16.5 L33.6,21.5 L34.8,26.6 L37.4,29.8 L42.5,29.1 L40.6,22.8 L41.2,17.7 L48.2,15.8 L55.8,13.3 L63.4,12.7 L71,9.5 L77.3,6.3 L81.1,5.1" stroke-width="3.4"/><path d="M21.5,40.6 L26.6,35.5 L32.9,32.9 L40.6,32.3 L48.2,33.6 L49.4,36.8 L45.6,41.8 L41.8,46.9 L36.8,51.3 L31.7,53.9 L25.3,52 L20.9,48.2 L20.3,43.7Z" stroke-width="3"/><path d="M79.2,83.6 L83,79.8 L88.7,76.7 L93.8,76.7 L94.4,79.8 L91.2,83.6 L86.2,86.8 L81.1,86.2Z" stroke-width="2.8"/></g><g fill="#686868"><path d="M76.7,3.8 L91.2,3.8 L88.7,8.2 L84.9,11.4 L79.8,10.1 L77.3,7.6Z"/><path d="M155.2,3.8 L164.7,3.8 L164.1,9.5 L161.6,12 L159,8.9Z"/><path d="M64.6,195.2 L67.2,196.4 L67.8,200.2 L68.4,204 L71.6,206.6 L69.1,208.5 L65.9,207.8 L65.3,203.4 L63.4,200.2Z"/><circle cx="105.8" cy="21.5" r="2.1"/><circle cx="115.7" cy="25.3" r="2.1"/><circle cx="126.5" cy="89.1" r="2.1"/><circle cx="71.3" cy="38.9" r="1.7"/><circle cx="81.4" cy="42.5" r="1.7"/><circle cx="26.4" cy="21.2" r="1.7"/><circle cx="170.2" cy="9.5" r="1.7"/><circle cx="114.3" cy="75.4" r="1.7"/><circle cx="99.2" cy="103.0" r="1.7"/><circle cx="53.9" cy="66.9" r="1.7"/><circle cx="62.7" cy="69.1" r="1.7"/><circle cx="57.0" cy="74.8" r="1.7"/><circle cx="65.9" cy="73.5" r="1.7"/><circle cx="68.4" cy="71.0" r="1.7"/><circle cx="65.3" cy="78.6" r="1.7"/><circle cx="50.4" cy="82.0" r="1.7"/><circle cx="62.5" cy="82.6" r="1.7"/><circle cx="55.8" cy="76.0" r="1.7"/><circle cx="59.6" cy="74.1" r="1.7"/><circle cx="67.2" cy="76.0" r="1.7"/><circle cx="78.6" cy="184.1" r="1.7"/><circle cx="74.4" cy="191.4" r="1.7"/><circle cx="62.1" cy="218.6" r="1.7"/><circle cx="60.8" cy="219.2" r="1.7"/><circle cx="92.2" cy="166.4" r="2.0"/><circle cx="96.0" cy="136.1" r="1.7"/><circle cx="113.1" cy="132.5" r="1.3"/><circle cx="29.5" cy="174.5" r="1.7"/><circle cx="87.0" cy="132.7" r="1.2"/><circle cx="112.8" cy="158.1" r="2.0"/><circle cx="115.8" cy="134.6" r="1.3"/><circle cx="126.5" cy="134.7" r="1.5"/><circle cx="73.7" cy="154.1" r="1.5"/><circle cx="60.2" cy="153.0" r="1.5"/><circle cx="35.7" cy="172.3" r="1.5"/><circle cx="58.4" cy="178.3" r="1.5"/><circle cx="108.1" cy="157.7" r="1.5"/><circle cx="69.3" cy="161.7" r="1.3"/><circle cx="93.9" cy="137.3" r="1.3"/><circle cx="123.3" cy="137.4" r="1.5"/><circle cx="114.5" cy="142.4" r="2.0"/><circle cx="104.8" cy="164.5" r="1.2"/><circle cx="75.8" cy="151.3" r="2.0"/><circle cx="92.4" cy="147.4" r="2.0"/><circle cx="40.7" cy="171.0" r="1.2"/><circle cx="92.5" cy="145.4" r="1.7"/><circle cx="81.1" cy="147.1" r="2.0"/><circle cx="61.6" cy="168.6" r="1.3"/><circle cx="80.5" cy="145.3" r="2.0"/><circle cx="122.9" cy="149.9" r="1.2"/><circle cx="68.2" cy="175.1" r="2.0"/><circle cx="116.1" cy="143.6" r="1.7"/><circle cx="95.4" cy="141.5" r="1.7"/><circle cx="66.6" cy="158.2" r="2.0"/><circle cx="123.8" cy="140.9" r="1.5"/><circle cx="47.7" cy="170.9" r="2.0"/><circle cx="112.9" cy="153.0" r="1.5"/><circle cx="98.6" cy="162.2" r="1.5"/><circle cx="85.6" cy="169.4" r="1.5"/><circle cx="106.0" cy="139.3" r="1.5"/><circle cx="93.6" cy="131.7" r="2.0"/><circle cx="103.6" cy="138.3" r="1.5"/><circle cx="110.2" cy="159.2" r="1.5"/><circle cx="55.6" cy="177.8" r="1.7"/><circle cx="66.7" cy="174.7" r="1.7"/><circle cx="127.9" cy="140.8" r="2.0"/><circle cx="122.5" cy="136.0" r="1.7"/><circle cx="54.5" cy="170.9" r="1.7"/><circle cx="49.1" cy="172.4" r="1.7"/><circle cx="60.0" cy="175.5" r="1.5"/><circle cx="96.2" cy="135.4" r="1.7"/><circle cx="88.1" cy="164.8" r="1.3"/><circle cx="87.7" cy="152.2" r="1.3"/><circle cx="123.5" cy="142.1" r="1.7"/><circle cx="74.3" cy="163.6" r="2.0"/><circle cx="51.8" cy="167.0" r="1.5"/><circle cx="67.8" cy="159.2" r="1.2"/><circle cx="97.1" cy="171.2" r="2.0"/><circle cx="86.4" cy="156.0" r="1.5"/><circle cx="120.4" cy="136.8" r="1.3"/><circle cx="73.2" cy="166.1" r="1.5"/><circle cx="72.8" cy="155.6" r="1.7"/><circle cx="126.2" cy="144.3" r="1.5"/><circle cx="110.7" cy="141.1" r="1.5"/><circle cx="85.8" cy="141.5" r="2.0"/><circle cx="66.1" cy="154.9" r="1.5"/><circle cx="78.2" cy="155.1" r="1.3"/><circle cx="86.0" cy="174.7" r="1.7"/><circle cx="50.9" cy="178.3" r="1.5"/><circle cx="76.2" cy="157.9" r="1.2"/><circle cx="97.5" cy="141.4" r="1.2"/><circle cx="108.2" cy="126.7" r="2.0"/><circle cx="82.4" cy="155.1" r="1.2"/><circle cx="124.1" cy="143.1" r="1.7"/><circle cx="83.1" cy="172.0" r="1.2"/><circle cx="29.1" cy="174.4" r="1.5"/><circle cx="91.3" cy="134.0" r="1.5"/><circle cx="67.0" cy="166.3" r="1.2"/><circle cx="31.1" cy="179.2" r="1.2"/><circle cx="116.3" cy="129.1" r="1.7"/><circle cx="89.1" cy="173.6" r="1.7"/><circle cx="115.7" cy="144.0" r="1.3"/><circle cx="116.7" cy="151.0" r="1.5"/><circle cx="112.4" cy="142.7" r="1.5"/><circle cx="92.7" cy="144.6" r="1.3"/><circle cx="76.9" cy="159.1" r="1.5"/><circle cx="81.7" cy="158.6" r="1.2"/><circle cx="35.0" cy="179.2" r="1.2"/><circle cx="90.7" cy="161.8" r="1.2"/><circle cx="128.1" cy="126.0" r="1.2"/><ellipse cx="88.7" cy="132.4" rx="3.4" ry="2.2" transform="rotate(-25 88.7 132.4)"/><ellipse cx="87.4" cy="138.8" rx="3.4" ry="2.2" transform="rotate(-25 87.4 138.8)"/><ellipse cx="88.1" cy="148.3" rx="3.4" ry="2.2" transform="rotate(-25 88.1 148.3)"/><ellipse cx="111.5" cy="140.7" rx="3.4" ry="2.2" transform="rotate(-25 111.5 140.7)"/><ellipse cx="122.9" cy="136.9" rx="3.4" ry="2.2" transform="rotate(-25 122.9 136.9)"/><ellipse cx="116.6" cy="141.9" rx="3.4" ry="2.2" transform="rotate(-25 116.6 141.9)"/><ellipse cx="83.6" cy="174.9" rx="3.4" ry="2.2" transform="rotate(-25 83.6 174.9)"/><ellipse cx="88.7" cy="172.3" rx="3.4" ry="2.2" transform="rotate(-25 88.7 172.3)"/><ellipse cx="103.9" cy="141.9" rx="3.4" ry="2.2" transform="rotate(-25 103.9 141.9)"/><ellipse cx="55.8" cy="174.9" rx="3.4" ry="2.2" transform="rotate(-25 55.8 174.9)"/><ellipse cx="35.5" cy="174.2" rx="3.4" ry="2.2" transform="rotate(-25 35.5 174.2)"/><ellipse cx="41.8" cy="171.1" rx="3.4" ry="2.2" transform="rotate(-25 41.8 171.1)"/><ellipse cx="30.4" cy="178.7" rx="3.4" ry="2.2" transform="rotate(-25 30.4 178.7)"/><ellipse cx="55.1" cy="156.5" rx="3.4" ry="2.2" transform="rotate(-25 55.1 156.5)"/><ellipse cx="55.8" cy="164.7" rx="3.4" ry="2.2" transform="rotate(-25 55.8 164.7)"/><ellipse cx="65.9" cy="161.6" rx="3.4" ry="2.2" transform="rotate(-25 65.9 161.6)"/><ellipse cx="83.6" cy="162.2" rx="3.4" ry="2.2" transform="rotate(-25 83.6 162.2)"/></g><g fill="none" stroke="#050505" stroke-width="2.5" stroke-linecap="round" stroke-linejoin="round"><path d="M174.9,13.3 L165.8,23.8"/><path d="M153,43.7 L145.7,56.8"/><path d="M141.6,78.8 L141.6,91.2"/><path d="M140.7,125.7 L138.8,133.1 L135,138.8"/><path d="M109.6,172 L100.5,182.2"/><path d="M56.4,225.2 L63.4,223.7 L70.3,220.9"/><path d="M16.1,182.5 L16.2,188.8 L17.5,195.5"/><path d="M40.3,122.3 L39.9,129.3 L37.4,135"/><path d="M28.3,76.7 L32.7,83 L35.5,89.7"/></g></g>
</defs>
<g id="panel-a"><use href="#cn"/>
<use href="#vor" fill="none" stroke="#b4b4b4" stroke-width="0.6" stroke-linejoin="round"/>
<path d="" fill="none" stroke="#b4b4b4" stroke-width="0.6" stroke-linejoin="round"/>
<g transform="scale(0.5)">
<path d="M0,0m1730,304h1m-109,15h1m137,33h1m-37,28h1m62,10h1m-31,26h1m3,7h1m-36,35h1m-1295,4h1m1050,132h1m151,0h1m34,11h1m-22,36h1m-444,5h1m265,1h1m41,8h1m-48,28h1m1,0h1m36,30h1m-110,11h1m75,1h1m-38,5h1m41,3h1m-52,10h1m53,3h1m47,6h1m-338,1h1m193,11h1m104,0h1m20,0h1m-239,3h1m51,0h1m-9,7h1m313,0h1m-172,9h1m-14,8h1m31,0h1m-38,6h1m-159,11h1m116,2h1m112,2h1m-29,6h1m24,4h1m-85,1h1m42,4h1m-293,3h1m344,2h1m-69,3h1m5,9h1m57,0h1m-97,7h1m83,1h1m-189,8h1m-34,6h1m179,7h1m7,7h1m-274,3h1m127,2h1m134,1h1m162,2h1m-212,1h1m33,2h1m150,2h1m-224,1h1m2,10h1m88,3h1m4,4h1m35,3h1m79,4h1m-49,3h1m-90,2h1m-188,5h1m145,1h1m3,0h1m-96,3h1m130,0h1m154,1h1m-270,6h1m121,3h1m11,10h1m125,1h1m-201,1h1m21,5h1m174,0h1m-142,1h1m99,2h1m103,0h1m3,0h1m-317,10h1m114,4h1m177,5h1m-294,20h1m182,11h1m113,4h1m-14,10h1m-514,7h1m493,6h1m-307,4h1m278,3h1m-562,16h1m452,0h1m43,2h1m-131,9h1m-320,8h1m64,4h1m510,2h1m-115,8h1m-61,5h1m-363,15h1m298,9h1m-263,11h1m507,7h1m-500,1h1m219,36h1m272,13h1m-423,15h1m-16,11h1m311,44h1m-494,18h1m471,24h1m-100,60h1m-8,25h1m-177,5h1m-18,2h1m-214,5h1m418,21h1m15,3h1" stroke="#5A74C8" stroke-width="1" fill="none"/>
<path d="M0,0m1668,260h1m20,17h1m-29,14h1m102,12h1m-1,1h1m-20,2h1m-31,5h1m-1210,8h1m1162,1h1m140,5h1m-14,4h1m-113,5h1m98,11h1m-76,9h1m132,4h1m-112,2h1m-1296,2h1m1440,21h1m-1346,1h1m1210,0h1m-1407,2h1m1492,0h1m-168,4h1m12,0h1m81,0h1m-65,3h1m123,0h1m4,4h1m-1383,1h1m52,1h1m1391,7h1m-112,3h1m77,2h1m-1310,4h1m1264,1h1m-1429,1h1m17,2h1m218,2h1m-23,9h1m1148,2h1m108,0h1m-1459,2h1m1279,1h1m15,5h1m70,0h1m121,3h1m-133,2h1m-61,1h1m188,3h1m-193,2h1m-1196,4h1m154,4h1m-291,1h1m-3,6h1m1499,2h1m-47,3h1m-54,5h1m-1153,1h1m1114,4h1m-53,3h1m-1103,1h1m1250,0h1m-125,4h1m-1056,2h1m12,10h1m1008,2h1m1,0h1m9,2h1m6,16h1m35,1h1m-1076,11h1m-52,1h1m1090,3h1m-1121,1h1m1134,0h1m-24,1h1m40,1h1m-68,1h1m32,3h1m-36,1h1m13,3h1m19,0h1m-1050,2h1m-46,4h1m1083,7h1m-1038,1h1m1040,3h1m-1063,3h1m614,3h1m449,9h1m-183,3h1m-34,3h1m-233,2h1m219,1h1m-54,1h1m22,10h1m233,6h1m31,4h1m-400,1h1m123,0h1m128,2h1m121,3h1m-191,3h1m57,6h1m-238,6h1m157,8h1m193,2h1m-339,2h1m-107,5h1m197,0h1m-188,1h1m418,1h1m-219,6h1m14,0h1m114,0h1m-85,2h1m-13,3h1m15,0h1m-28,4h1m-147,2h1m176,4h1m57,1h1m-371,6h1m12,0h1m311,0h1m4,0h1m-60,3h1m-220,7h1m209,8h1m-266,4h1m352,2h1m-61,1h1m-171,1h1m34,1h1m-12,4h1m48,3h1m134,1h1m-84,2h1m32,1h1m-569,6h1m452,1h1m12,0h1m22,1h1m-58,1h1m13,0h1m155,0h1m-343,5h1m352,0h1m-263,2h1m3,0h1m211,0h1m48,2h1m-131,1h1m102,0h1m164,0h1m-493,1h1m253,0h1m11,0h1m-44,2h1m-226,3h1m407,1h1m130,0h1m5,0h1m-485,1h1m357,0h1m-326,1h1m0,1h1m187,7h1m106,0h1m-306,2h1m124,0h1m152,1h1m-84,2h1m146,0h1m-359,1h1m121,1h1m327,0h1m-157,1h1m50,0h1m64,3h1m-77,1h1m-336,1h1m214,0h1m71,0h1m-564,1h1m593,3h1m75,0h1m-127,1h1m143,0h1m-252,3h1m255,0h1m-81,1h1m44,1h1m-158,2h1m-195,1h1m199,0h1m191,0h1m-72,1h1m72,2h1m-86,1h1m-63,2h1m-62,1h1m80,0h1m48,0h1m-39,2h1m-115,1h1m73,1h1m24,1h1m-43,2h1m23,2h1m-26,2h1m132,0h1m-86,1h1m-514,1h1m555,1h1m75,0h1m-147,2h1m-498,3h1m77,0h1m384,0h1m-519,3h1m561,1h1m34,0h1m-116,3h1m-485,1h1m455,0h1m129,0h1m96,1h1m-225,2h1m187,0h1m-103,2h1m-430,1h1m426,0h1m-315,2h1m390,0h1m-145,1h1m-15,1h1m85,1h1m83,1h1m-179,2h1m-405,1h1m483,1h1m-95,3h1m25,0h1m139,0h1m-2,3h1m17,0h1m-65,1h1m27,1h1m-108,1h1m111,1h1m-83,1h1m-39,1h1m38,0h1m77,0h1m-462,1h1m130,0h1m149,0h1m74,4h1m10,0h1m-2,1h1m97,1h1m10,0h1m-527,4h1m47,1h1m364,1h1m123,1h1m-481,1h1m507,0h1m-104,3h1m41,1h1m-111,2h1m-399,2h1m294,0h1m179,0h1m-76,1h1m33,2h1m38,1h1m-85,1h1m-85,1h1m263,0h1m-119,1h1m-144,2h1m113,0h1m-112,1h1m81,0h1m-406,1h1m345,0h1m111,1h1m-192,2h1m136,5h1m104,0h1m-368,1h1m60,0h1m87,0h1m81,2h1m-25,2h1m17,1h1m-250,1h1m352,0h1m-81,1h1m128,1h1m-534,1h1m292,1h1m-46,2h1m97,0h1m15,0h1m121,1h1m-282,2h1m180,6h1m143,2h1m21,1h1m-90,1h1m-82,3h1m44,1h1m4,0h1m-121,1h1m258,1h1m-294,1h1m-46,1h1m121,0h1m136,0h1m22,3h1m-258,1h1m239,3h1m8,4h1m-12,3h1m164,2h1m8,0h1m-30,2h1m34,1h1m-127,1h1m93,0h1m42,0h1m-393,1h1m365,0h1m-20,2h1m-212,1h1m210,0h1m-380,2h1m307,0h1m108,4h1m-243,3h1m24,1h1m141,1h1m9,0h1m-7,4h1m-196,2h1m193,0h1m46,0h1m-150,2h1m88,0h1m-88,1h1m-114,1h1m-15,1h1m238,0h1m54,0h1m-271,1h1m74,0h1m173,2h1m-55,1h1m82,1h1m-24,2h1m-243,2h1m284,3h1m13,0h1m-88,7h1m-205,1h1m243,0h1m-567,3h1m602,0h1m-37,2h1m9,1h1m37,3h1m-87,2h1m11,0h1m94,1h1m-88,1h1m-185,1h1m256,0h1m-138,1h1m-215,2h1m333,1h1m-1,2h1m-301,1h1m266,0h1m-107,3h1m107,0h1m-22,1h1m36,1h1m-3,1h1m-63,1h1m44,2h1m43,0h1m-218,1h1m122,0h1m-239,4h1m236,1h1m38,4h1m-57,1h1m-28,2h1m8,0h1m35,3h1m-176,1h1m69,3h1m134,1h1m-154,3h1m11,2h1m5,2h1m-15,1h1m202,0h1m-36,1h1m-112,1h1m109,1h1m-84,1h1m-109,3h1m157,1h1m-446,2h1m226,0h1m73,0h1m-368,1h1m308,1h1m248,1h1m-289,3h1m-143,6h1m0,1h1m164,0h1m69,0h1m197,2h1m4,1h1m-274,1h1m32,4h1m273,3h1m-557,1h1m-48,8h1m91,0h1m334,0h1m153,1h1m-304,1h1m327,4h1m-597,2h1m-5,5h1m484,2h1m-423,3h1m-130,4h1m368,0h1m191,2h1m25,2h1m-266,2h1m296,3h1m-559,1h1m119,3h1m181,0h1m-376,3h1m44,2h1m276,1h1m297,0h1m-19,2h1m-554,1h1m-11,1h1m-28,5h1m2,0h1m638,1h1m-214,4h1m-364,8h1m-35,3h1m461,0h1m36,2h1m-377,6h1m242,0h1m29,2h1m147,0h1m-527,1h1m94,1h1m230,0h1m206,2h1m-479,2h1m391,1h1m-155,4h1m-16,3h1m249,6h1m-420,4h1m458,11h1m-162,3h1m69,0h1m55,1h1m-433,1h1m430,3h1m-228,2h1m110,0h1m110,6h1m-423,1h1m459,8h1m-136,3h1m79,0h1m-15,1h1m-451,2h1m295,1h1m-374,3h1m118,0h1m429,2h1m-97,1h1m-49,2h1m-407,5h1m208,4h1m-69,8h1m337,7h1m-303,4h1m-189,2h1m21,1h1m483,3h1m-557,5h1m162,0h1m-104,6h1m536,0h1m10,1h1m-526,11h1m-1,1h1m399,0h1m3,3h1m1,0h1m-521,1h1m83,13h1m528,1h1m-586,3h1m576,1h1m-623,3h1m627,5h1m-521,3h1m-71,5h1m0,1h1m-27,3h1m583,5h1m24,3h1m-177,3h1m-377,1h1m529,2h1m-122,18h1m41,2h1m-72,9h1m35,1h1m-225,5h1m38,4h1m6,0h1m148,5h1m-409,4h1m409,5h1m-9,6h1m-127,16h1m-31,2h1m129,6h1m-112,13h1m21,8h1m4,0h1m-2,98h1" stroke="#6AA84E" stroke-width="1" fill="none"/>
<path d="M0,0m530,316h1m1168,0h1m-22,20h1m-1130,15h1m1270,8h1m-14,7h1m-70,4h1m1,1h1m82,19h1m-1323,10h1m1249,21h1m-18,11h1m115,13h1m-46,5h1m-88,1h1m93,11h1m-20,6h1m47,3h1m-152,7h1m-1041,2h1m-46,51h1m1108,10h1m-69,5h1m-1009,18h1m615,2h1m381,10h1m-161,7h1m203,3h1m-21,1h1m-386,3h1m395,1h1m-149,17h1m-2,3h1m152,0h1m-158,19h1m-51,3h1m-11,2h1m40,2h1m-100,12h1m-108,1h1m118,1h1m127,2h1m-85,2h1m48,4h1m-57,10h1m20,4h1m27,0h1m-63,1h1m-187,3h1m257,2h1m-72,3h1m11,3h1m21,0h1m-32,1h1m7,1h1m54,2h1m-135,1h1m85,0h1m45,0h1m-93,2h1m24,0h1m65,5h1m-52,3h1m12,0h1m39,2h1m-145,1h1m88,2h1m-54,1h1m35,1h1m-39,1h1m-59,7h1m86,0h1m-53,1h1m7,0h1m38,4h1m119,0h1m-82,3h1m8,0h1m152,9h1m-194,2h1m28,2h1m82,0h1m-138,1h1m20,0h1m-25,1h1m122,1h1m-168,2h1m11,1h1m-11,2h1m89,0h1m-212,1h1m172,3h1m81,0h1m-58,1h1m9,0h1m-511,1h1m569,4h1m13,1h1m82,0h1m56,0h1m-129,1h1m2,3h1m-76,5h1m128,0h1m-116,1h1m-32,4h1m107,0h1m-116,1h1m69,0h1m125,0h1m-270,3h1m233,3h1m-173,3h1m2,1h1m0,0h1m-45,1h1m-319,4h1m413,0h1m38,1h1m1,1h1m-195,1h1m161,1h1m-105,1h1m184,0h1m-120,2h1m-331,1h1m344,0h1m62,0h1m-126,2h1m138,0h1m-187,2h1m47,0h1m130,0h1m-124,1h1m-300,1h1m270,0h1m5,0h1m-292,2h1m367,0h1m50,1h1m-31,1h1m113,0h1m4,0h1m-149,1h1m-15,1h1m63,2h1m30,2h1m18,0h1m-157,1h1m160,5h1m-83,1h1m-106,1h1m57,0h1m-470,2h1m393,1h1m87,0h1m45,0h1m-59,1h1m103,1h1m-255,1h1m287,0h1m-229,1h1m148,2h1m-197,1h1m202,0h1m-58,1h1m62,0h1m-55,3h1m112,0h1m-278,2h1m32,0h1m41,0h1m98,0h1m-49,3h1m34,0h1m15,0h1m-60,1h1m-47,1h1m151,2h1m-234,1h1m183,0h1m53,2h1m-177,2h1m110,0h1m60,0h1m-218,1h1m145,0h1m-82,3h1m13,0h1m94,0h1m-89,2h1m122,4h1m-195,1h1m162,0h1m-139,2h1m195,1h1m-551,2h1m491,1h1m-1,2h1m-22,1h1m8,0h1m-23,1h1m31,0h1m-131,1h1m117,0h1m-125,3h1m3,1h1m-431,2h1m367,1h1m96,3h1m34,1h1m-17,5h1m34,1h1m-71,4h1m-1,1h1m-33,1h1m79,2h1m-114,2h1m177,3h1m-242,1h1m163,0h1m49,0h1m65,0h1m-127,1h1m-106,2h1m69,0h1m170,0h1m95,0h1m-426,1h1m258,0h1m1,1h1m56,0h1m120,0h1m-153,2h1m-150,1h1m-44,1h1m137,0h1m-85,1h1m68,0h1m129,3h1m-86,1h1m-106,1h1m19,0h1m6,0h1m-27,2h1m171,0h1m73,1h1m37,0h1m-210,1h1m95,3h1m-25,1h1m120,0h1m-300,2h1m224,0h1m-310,4h1m41,2h1m94,0h1m249,0h1m-255,1h1m80,0h1m48,1h1m132,0h1m-148,1h1m119,1h1m-201,3h1m36,0h1m42,0h1m11,1h1m-93,1h1m53,0h1m185,1h1m-394,1h1m156,0h1m111,2h1m24,2h1m59,3h1m-189,1h1m-113,1h1m3,0h1m64,0h1m34,0h1m-26,1h1m-80,1h1m38,0h1m89,2h1m105,0h1m-190,1h1m261,0h1m21,0h1m21,0h1m-328,1h1m113,1h1m24,1h1m-32,1h1m113,0h1m15,2h1m16,1h1m-161,2h1m2,0h1m181,0h1m4,2h1m-76,3h1m-104,1h1m246,0h1m-155,1h1m37,0h1m-112,2h1m-20,1h1m135,3h1m5,0h1m77,0h1m-306,2h1m183,0h1m112,1h1m-60,5h1m-253,1h1m198,0h1m35,0h1m-29,1h1m27,0h1m63,0h1m-18,6h1m40,0h1m-13,2h1m39,3h1m-31,1h1m-44,2h1m70,0h1m4,0h1m-16,1h1m-104,1h1m86,0h1m-64,1h1m-67,2h1m61,0h1m82,1h1m-97,2h1m-11,1h1m37,0h1m-29,1h1m48,7h1m-33,1h1m-169,3h1m163,1h1m-291,1h1m307,0h1m-49,5h1m96,0h1m-206,1h1m146,0h1m-44,2h1m-456,2h1m283,0h1m105,1h1m-64,2h1m-24,3h1m265,0h1m-282,7h1m17,0h1m90,0h1m157,2h1m-606,2h1m19,2h1m282,0h1m72,0h1m147,0h1m-329,1h1m108,1h1m-291,3h1m347,3h1m218,4h1m-541,8h1m241,4h1m-273,8h1m583,11h1m-552,10h1m391,5h1m-49,11h1m39,4h1m-460,2h1m389,0h1m258,12h1m-281,9h1m164,15h1m-22,12h1m-178,2h1m6,9h1m284,2h1m-288,18h1m204,3h1m-533,1h1m366,13h1m116,6h1m-58,6h1m-295,3h1m272,4h1m32,1h1m123,46h1m-6,6h1m-529,8h1m-63,8h1m494,13h1m-132,12h1m171,16h1m-98,14h1m-18,1h1m-18,1h1m-41,2h1m57,4h1m17,6h1m-234,2h1m-219,2h1m434,2h1m-219,1h1m187,4h1m25,8h1m-14,4h1m-47,19h1m62,1h1m-218,3h1" stroke="#8C8A3C" stroke-width="1" fill="none"/>
<path d="M0,0m1673,245h1m29,10h1m4,0h1m-68,21h1m39,27h1m51,1h1m-109,13h1m155,4h1m-20,2h1m-1317,9h1m-17,1h1m1322,2h1m-1243,6h1m-22,2h1m34,7h1m11,1h1m-24,14h1m1294,20h1m-103,1h1m-1221,11h1m21,5h1m-64,4h1m1377,0h1m-133,1h1m80,11h1m0,2h1m-1334,1h1m1209,3h1m-1269,5h1m1289,2h1m-1060,4h1m1066,4h1m43,4h1m136,9h1m-197,4h1m-1222,1h1m1385,0h1m-123,1h1m25,0h1m-1076,2h1m1189,0h1m-1483,5h1m1342,12h1m-19,26h1m-18,5h1m-2,1h1m11,7h1m-1103,9h1m1096,0h1m0,1h1m24,12h1m-1100,12h1m1070,2h1m3,1h1m-35,4h1m-3,8h1m13,8h1m-14,5h1m20,1h1m-182,12h1m146,4h1m-161,5h1m37,2h1m140,0h1m-377,2h1m218,2h1m158,0h1m-178,1h1m-24,5h1m82,1h1m-14,1h1m-119,3h1m22,1h1m-5,1h1m223,0h1m-211,4h1m56,4h1m-87,3h1m-128,1h1m126,2h1m40,2h1m57,0h1m-9,2h1m-22,2h1m32,1h1m12,0h1m-332,4h1m306,0h1m-111,3h1m53,2h1m-40,4h1m14,3h1m98,3h1m-88,2h1m-2,2h1m-284,2h1m298,0h1m44,0h1m7,0h1m-81,1h1m84,0h1m-73,4h1m56,1h1m39,0h1m-45,3h1m-83,1h1m-1,0h1m23,0h1m5,0h1m-29,1h1m3,1h1m3,0h1m-20,2h1m13,5h1m30,0h1m-5,2h1m-227,1h1m228,0h1m51,0h1m-19,5h1m-22,2h1m21,0h1m17,0h1m-89,1h1m49,0h1m-15,1h1m-9,4h1m0,1h1m26,3h1m-30,2h1m19,0h1m6,1h1m43,0h1m-114,1h1m-269,1h1m302,1h1m-42,1h1m-261,1h1m284,0h1m36,1h1m-69,1h1m129,0h1m-153,1h1m-29,1h1m114,0h1m52,0h1m8,1h1m11,0h1m-37,1h1m-96,1h1m54,0h1m-44,2h1m2,1h1m36,0h1m5,0h1m47,0h1m-100,1h1m118,0h1m-107,1h1m58,1h1m12,0h1m10,0h1m-181,1h1m110,0h1m60,1h1m13,0h1m-96,1h1m10,0h1m50,0h1m-72,1h1m43,0h1m23,0h1m-243,1h1m211,0h1m88,0h1m-165,2h1m81,0h1m1,0h1m5,0h1m-114,1h1m163,0h1m56,2h1m-350,1h1m176,1h1m19,0h1m108,0h1m-133,1h1m152,0h1m73,0h1m-136,1h1m43,0h1m39,1h1m-214,1h1m13,0h1m198,0h1m-168,1h1m66,1h1m63,0h1m-137,2h1m126,0h1m-53,1h1m24,1h1m-146,1h1m18,0h1m119,0h1m18,0h1m44,0h1m-197,1h1m154,0h1m24,0h1m-189,1h1m31,0h1m87,0h1m45,2h1m-34,1h1m-212,1h1m122,0h1m23,0h1m4,0h1m80,0h1m-28,1h1m26,0h1m43,0h1m42,0h1m-133,1h1m72,0h1m-69,1h1m29,1h1m-59,2h1m3,0h1m126,0h1m-114,1h1m-23,1h1m60,0h1m40,1h1m5,0h1m31,2h1m-58,1h1m49,0h1m35,0h1m14,0h1m-700,1h1m490,0h1m107,0h1m92,1h1m-246,1h1m47,0h1m68,1h1m-187,1h1m130,0h1m153,0h1m-190,1h1m94,0h1m5,0h1m12,0h1m13,0h1m-146,1h1m39,0h1m44,0h1m16,0h1m65,0h1m-138,2h1m112,0h1m-98,1h1m160,0h1m40,1h1m-235,1h1m0,0h1m36,0h1m-50,1h1m76,0h1m112,0h1m-3,1h1m-227,1h1m100,0h1m119,0h1m-191,1h1m40,0h1m222,1h1m-156,2h1m42,0h1m41,0h1m-81,1h1m0,0h1m24,0h1m42,0h1m-250,1h1m27,2h1m110,0h1m58,0h1m-170,1h1m23,1h1m29,0h1m169,1h1m-201,2h1m70,0h1m76,0h1m64,1h1m-76,1h1m-108,1h1m82,0h1m-13,1h1m0,0h1m82,0h1m-148,1h1m50,0h1m30,0h1m43,1h1m-413,1h1m445,0h1m27,1h1m-281,1h1m178,0h1m-79,1h1m156,0h1m-17,2h1m-29,1h1m69,0h1m-162,1h1m80,0h1m31,0h1m-102,1h1m75,0h1m-151,1h1m30,0h1m84,0h1m39,0h1m17,0h1m-46,1h1m1,0h1m-134,2h1m65,0h1m71,1h1m43,0h1m-93,1h1m36,0h1m-45,1h1m28,0h1m-2,1h1m9,0h1m75,0h1m-398,1h1m176,1h1m129,0h1m-108,1h1m121,0h1m-39,1h1m104,0h1m-623,1h1m546,1h1m17,0h1m-175,1h1m-21,1h1m166,1h1m8,1h1m14,0h1m8,0h1m17,0h1m41,0h1m-255,1h1m238,0h1m-198,1h1m208,0h1m-86,1h1m-158,1h1m72,0h1m22,0h1m21,0h1m1,0h1m18,0h1m-44,1h1m22,0h1m12,1h1m-23,1h1m6,0h1m-57,1h1m78,0h1m-292,1h1m318,0h1m-91,1h1m-14,1h1m97,0h1m55,0h1m-116,2h1m33,1h1m12,0h1m7,0h1m16,0h1m15,0h1m45,0h1m-184,1h1m33,0h1m2,0h1m27,0h1m63,1h1m46,0h1m-161,1h1m50,0h1m44,0h1m66,0h1m-178,1h1m34,1h1m63,0h1m-492,1h1m414,0h1m2,0h1m45,0h1m92,0h1m-222,1h1m59,0h1m-292,1h1m259,0h1m38,0h1m105,0h1m11,0h1m-79,2h1m90,0h1m-147,1h1m94,0h1m-365,1h1m390,0h1m-167,1h1m87,0h1m6,1h1m18,0h1m32,0h1m56,0h1m-97,1h1m-26,1h1m138,0h1m-70,1h1m41,0h1m6,0h1m24,0h1m-250,1h1m28,0h1m15,0h1m119,0h1m2,0h1m40,0h1m7,0h1m-149,1h1m66,0h1m-57,1h1m17,0h1m109,0h1m31,0h1m-32,1h1m-162,1h1m-275,1h1m147,0h1m44,0h1m93,0h1m12,1h1m32,0h1m-18,1h1m-158,1h1m155,0h1m-43,1h1m114,0h1m9,0h1m-566,1h1m403,0h1m46,0h1m29,0h1m87,0h1m-215,1h1m169,0h1m21,0h1m-45,2h1m109,0h1m12,0h1m82,1h1m-234,1h1m62,0h1m-83,1h1m122,1h1m-16,1h1m1,0h1m141,0h1m-348,1h1m179,0h1m-75,1h1m67,0h1m-391,2h1m272,0h1m18,0h1m50,0h1m-77,1h1m69,0h1m-329,1h1m353,1h1m78,0h1m-99,1h1m60,0h1m-202,1h1m38,0h1m38,0h1m90,0h1m4,0h1m-27,1h1m-37,1h1m-24,2h1m53,0h1m229,1h1m-126,1h1m-51,1h1m-136,1h1m141,0h1m-136,2h1m15,0h1m36,0h1m33,0h1m41,0h1m-241,1h1m49,0h1m162,0h1m3,0h1m-169,1h1m54,0h1m133,0h1m174,0h1m-305,1h1m44,0h1m-111,1h1m4,0h1m13,0h1m19,0h1m50,0h1m32,0h1m86,0h1m-397,1h1m245,0h1m126,0h1m19,0h1m31,0h1m125,0h1m-367,1h1m137,0h1m34,0h1m180,0h1m8,0h1m-282,1h1m95,0h1m39,0h1m14,0h1m21,0h1m-38,1h1m0,0h1m-116,1h1m259,0h1m-363,2h1m207,0h1m-104,1h1m31,1h1m75,0h1m-79,1h1m136,0h1m93,0h1m-307,1h1m194,0h1m2,0h1m-380,2h1m270,0h1m77,0h1m-63,1h1m89,0h1m-293,1h1m103,0h1m86,0h1m32,0h1m-177,1h1m359,0h1m-226,1h1m14,0h1m64,0h1m-154,1h1m43,0h1m-129,1h1m144,0h1m11,0h1m89,0h1m-166,1h1m28,0h1m99,0h1m41,0h1m20,0h1m102,0h1m-213,1h1m123,0h1m10,0h1m-209,1h1m70,1h1m100,0h1m96,0h1m-149,1h1m173,0h1m-311,1h1m11,0h1m24,0h1m50,0h1m-198,1h1m224,0h1m-69,1h1m43,0h1m6,0h1m-1,0h1m-146,2h1m137,0h1m193,0h1m-164,2h1m46,0h1m105,0h1m4,1h1m-217,1h1m26,0h1m90,0h1m-56,1h1m170,1h1m11,0h1m-408,1h1m56,0h1m207,0h1m-139,1h1m83,0h1m85,0h1m89,1h1m-345,1h1m113,0h1m35,0h1m88,0h1m-97,1h1m68,0h1m19,0h1m80,0h1m-261,1h1m91,0h1m90,0h1m11,0h1m-112,1h1m45,0h1m75,0h1m118,0h1m-313,1h1m24,0h1m86,0h1m29,0h1m140,0h1m-168,1h1m173,0h1m-276,1h1m53,1h1m10,0h1m-132,1h1m64,0h1m96,0h1m-120,1h1m24,0h1m135,0h1m60,0h1m-92,1h1m76,1h1m83,0h1m51,0h1m-344,1h1m157,1h1m-16,1h1m138,1h1m27,0h1m-26,1h1m-296,1h1m306,0h1m3,0h1m12,0h1m-261,1h1m145,2h1m4,0h1m104,0h1m1,0h1m6,0h1m-298,1h1m31,0h1m20,0h1m6,0h1m151,0h1m20,0h1m-145,1h1m113,0h1m119,0h1m-322,1h1m184,0h1m31,0h1m15,0h1m-110,1h1m-46,1h1m-116,1h1m316,0h1m12,0h1m-258,1h1m287,1h1m-104,2h1m117,0h1m-121,1h1m14,0h1m36,0h1m-105,2h1m-115,1h1m8,0h1m272,0h1m-257,1h1m182,0h1m2,0h1m11,0h1m-255,1h1m222,0h1m30,0h1m-311,1h1m348,0h1m-93,1h1m68,0h1m10,0h1m13,0h1m-236,1h1m103,0h1m58,0h1m-34,1h1m13,0h1m68,0h1m-251,1h1m207,0h1m-272,1h1m118,0h1m173,0h1m-178,1h1m174,0h1m22,0h1m-34,1h1m63,0h1m-57,1h1m-288,1h1m187,0h1m78,0h1m-193,1h1m117,0h1m28,0h1m34,0h1m39,0h1m-227,1h1m106,0h1m37,0h1m37,0h1m11,0h1m55,0h1m20,1h1m7,0h1m-170,1h1m108,0h1m15,0h1m-97,1h1m9,1h1m10,0h1m-248,1h1m315,0h1m-209,1h1m128,2h1m-43,1h1m78,0h1m-174,1h1m171,2h1m-39,1h1m20,0h1m105,0h1m12,0h1m-91,2h1m-30,1h1m23,0h1m30,0h1m-1,1h1m-306,1h1m306,0h1m-7,1h1m-325,2h1m319,3h1m-62,3h1m41,0h1m52,0h1m3,1h1m-69,2h1m-77,1h1m-162,1h1m204,0h1m42,1h1m-85,1h1m124,0h1m-18,1h1m29,0h1m-317,1h1m221,0h1m-94,1h1m156,0h1m15,0h1m14,2h1m4,0h1m-188,2h1m125,0h1m35,1h1m11,0h1m-403,1h1m409,0h1m-549,2h1m506,2h1m-33,1h1m6,0h1m-139,1h1m62,0h1m117,2h1m-456,1h1m383,0h1m14,0h1m62,1h1m-258,2h1m261,0h1m-58,3h1m49,0h1m43,1h1m-244,5h1m6,0h1m235,2h1m12,0h1m-62,3h1m-253,1h1m296,1h1m-47,2h1m33,0h1m-601,1h1m48,1h1m359,0h1m-64,1h1m103,1h1m-452,1h1m312,0h1m227,0h1m-228,1h1m82,3h1m157,0h1m-27,5h1m9,1h1m-518,1h1m340,0h1m-51,1h1m-101,1h1m305,0h1m68,0h1m-603,2h1m-29,4h1m147,3h1m492,3h1m-557,2h1m-15,7h1m562,1h1m-468,5h1m-143,3h1m34,3h1m59,0h1m7,5h1m-73,5h1m4,2h1m-63,5h1m332,8h1m-220,7h1m489,0h1m-246,1h1m-261,7h1m33,3h1m409,2h1m-376,1h1m-112,2h1m300,12h1m178,10h1m70,5h1m-225,2h1m197,1h1m-238,16h1m66,3h1m11,3h1m111,14h1m-379,4h1m-170,42h1m95,0h1m458,16h1m-90,3h1m-553,7h1m591,2h1m-546,11h1m13,18h1m534,4h1m9,12h1m-159,1h1m56,8h1m2,5h1m-3,1h1m-61,5h1m-10,2h1m15,5h1m36,0h1m32,2h1m-25,1h1m-62,4h1m92,0h1m-85,2h1m75,2h1m-58,1h1m22,1h1m8,1h1m-255,4h1m242,3h1m-2,1h1m8,2h1m-452,5h1m464,0h1m-8,1h1m-133,2h1m14,1h1m100,2h1m-31,6h1m49,0h1m-118,1h1m85,1h1m-254,2h1m110,14h1m27,2h1m-74,17h1m121,1h1" stroke="#93403C" stroke-width="1" fill="none"/>
<path d="M0,0m1665,310h1m-39,18h1m98,92h1m-1081,7h1m-55,17h1m1118,31h1m1,52h1m-251,66h1m18,0h1m-87,11h1m-331,400h1m-5,14h1m412,37h1m-308,7h1m212,0h1m-342,43h1m604,1h1m-164,35h1m-19,49h1m77,160h1m-517,6h1" stroke="#9A8298" stroke-width="1" fill="none"/>
<path d="M0,0m1705,269h1m101,48h1m-55,41h1m-1332,7h1m1243,7h1m55,12h1m-53,4h1m140,16h1m-25,11h1m-57,4h1m-1108,6h1m1078,5h1m-14,2h1m22,4h1m85,30h1m-93,4h1m-1113,36h1m54,31h1m1004,19h1m34,0h1m-197,8h1m157,1h1m6,14h1m-1012,8h1m1032,3h1m-188,8h1m175,0h1m-222,17h1m-74,2h1m92,3h1m-31,3h1m30,1h1m5,2h1m-37,5h1m91,14h1m-125,2h1m14,1h1m80,0h1m-65,3h1m75,0h1m-44,2h1m14,0h1m21,2h1m-2,1h1m-83,1h1m39,3h1m-25,5h1m62,0h1m-72,4h1m-18,1h1m79,1h1m-44,2h1m10,4h1m-9,1h1m33,0h1m7,0h1m-30,3h1m30,2h1m-133,8h1m35,3h1m39,1h1m-49,1h1m17,1h1m8,1h1m73,0h1m2,0h1m-160,1h1m75,2h1m8,1h1m-87,1h1m86,0h1m76,2h1m-10,2h1m8,1h1m-318,1h1m207,0h1m104,1h1m-152,1h1m45,0h1m-140,2h1m-395,3h1m561,1h1m-89,1h1m190,1h1m15,0h1m-163,2h1m94,0h1m-49,5h1m19,0h1m-74,1h1m-1,0h1m112,0h1m-620,2h1m597,0h1m-54,1h1m36,0h1m64,1h1m129,0h1m-307,2h1m287,2h1m-121,1h1m166,0h1m-369,2h1m11,0h1m73,0h1m53,0h1m84,0h1m64,1h1m-191,1h1m115,1h1m-322,1h1m138,1h1m26,1h1m134,0h1m-131,2h1m41,0h1m-48,3h1m71,0h1m-50,1h1m230,1h1m-211,2h1m93,0h1m37,0h1m-103,1h1m146,1h1m-185,1h1m183,0h1m-209,1h1m-79,1h1m97,0h1m78,0h1m98,0h1m-184,1h1m246,0h1m-116,2h1m-70,1h1m-160,5h1m125,0h1m180,1h1m-169,2h1m8,0h1m46,0h1m-51,1h1m59,1h1m64,2h1m58,0h1m-235,1h1m142,1h1m-17,1h1m46,1h1m-119,1h1m33,0h1m-17,1h1m115,3h1m14,1h1m-627,1h1m578,0h1m-267,1h1m116,0h1m165,0h1m-99,1h1m115,1h1m-295,1h1m148,0h1m164,2h1m-267,2h1m21,0h1m193,0h1m-15,1h1m25,0h1m-228,1h1m-366,1h1m596,0h1m-126,1h1m78,0h1m42,0h1m-126,1h1m-56,1h1m-1,2h1m195,0h1m-115,1h1m96,0h1m-217,1h1m221,0h1m-113,2h1m74,0h1m-170,1h1m100,2h1m-164,3h1m114,1h1m12,0h1m-43,5h1m41,0h1m15,0h1m-103,1h1m111,0h1m-118,1h1m118,0h1m-171,2h1m185,0h1m-85,1h1m83,0h1m-163,1h1m146,0h1m-81,2h1m2,4h1m67,0h1m30,0h1m30,0h1m-567,1h1m343,0h1m236,0h1m-258,1h1m85,1h1m-1,0h1m86,0h1m-30,2h1m13,0h1m132,0h1m-243,1h1m-49,1h1m222,0h1m-160,1h1m70,0h1m40,0h1m-68,1h1m-497,1h1m684,0h1m-186,1h1m96,0h1m-151,2h1m44,0h1m65,0h1m17,1h1m-75,2h1m61,0h1m-118,2h1m75,0h1m90,0h1m0,0h1m3,0h1m-149,2h1m106,0h1m-135,1h1m201,0h1m6,1h1m-193,1h1m150,1h1m-25,4h1m-11,1h1m-45,2h1m-96,1h1m191,0h1m-199,1h1m105,0h1m-55,3h1m60,0h1m-78,2h1m39,4h1m60,1h1m-143,3h1m87,0h1m-13,1h1m-465,2h1m543,1h1m-221,2h1m45,4h1m178,1h1m13,0h1m-19,1h1m17,0h1m-410,1h1m408,0h1m-342,1h1m332,1h1m130,0h1m-285,1h1m121,0h1m-208,1h1m71,1h1m-31,2h1m85,3h1m97,2h1m-343,1h1m260,0h1m228,0h1m-454,1h1m131,2h1m103,0h1m33,1h1m-236,1h1m251,0h1m77,1h1m-125,1h1m13,0h1m-91,1h1m16,0h1m6,0h1m129,0h1m24,0h1m-238,2h1m140,0h1m80,0h1m136,0h1m-401,2h1m368,0h1m-205,1h1m56,0h1m163,0h1m-141,2h1m-191,1h1m121,0h1m187,2h1m18,1h1m10,2h1m-343,2h1m186,0h1m-49,1h1m202,1h1m-130,1h1m-118,1h1m58,0h1m170,1h1m-328,2h1m228,3h1m-157,1h1m263,0h1m28,1h1m-389,1h1m382,2h1m-310,1h1m297,1h1m8,0h1m-52,1h1m-259,1h1m42,0h1m87,0h1m147,2h1m47,0h1m-8,4h1m-257,1h1m78,0h1m-103,2h1m83,0h1m-209,1h1m179,0h1m23,0h1m79,0h1m33,0h1m91,1h1m-349,1h1m171,3h1m132,0h1m-14,2h1m65,0h1m-230,1h1m158,0h1m-167,1h1m18,1h1m142,0h1m42,1h1m0,0h1m-21,3h1m4,3h1m40,0h1m-336,1h1m271,0h1m-8,1h1m-160,1h1m195,0h1m0,1h1m-287,1h1m52,0h1m30,0h1m81,0h1m-91,1h1m17,0h1m98,0h1m-145,2h1m155,0h1m71,1h1m28,0h1m-58,1h1m-157,1h1m246,0h1m-14,2h1m-134,1h1m88,1h1m-169,2h1m-153,1h1m22,0h1m315,3h1m1,0h1m-124,1h1m-78,1h1m189,0h1m-61,3h1m65,4h1m-29,1h1m-177,1h1m119,2h1m-212,2h1m244,0h1m-14,2h1m15,0h1m30,0h1m-287,1h1m311,2h1m-91,3h1m7,0h1m-149,7h1m185,4h1m-11,4h1m-198,3h1m-40,3h1m216,5h1m-219,2h1m14,2h1m203,2h1m-192,2h1m191,0h1m-145,3h1m-2,2h1m144,3h1m57,2h1m-303,1h1m304,2h1m-607,2h1m569,2h1m61,0h1m-639,1h1m577,5h1m-8,2h1m-555,2h1m-30,1h1m581,0h1m11,5h1m31,1h1m-233,1h1m-47,10h1m5,3h1m227,9h1m-123,19h1m-386,2h1m37,11h1m328,33h1m-130,4h1m19,16h1m-255,2h1m-19,12h1m277,11h1m204,2h1m20,7h1m-406,15h1m448,5h1m-181,29h1m-437,20h1m453,2h1m64,10h1m-19,38h1m-85,11h1m-32,17h1m53,3h1m-47,2h1m35,6h1m7,6h1m-57,1h1m-7,1h1m37,0h1m-36,2h1m2,0h1m7,0h1m8,2h1m0,2h1m-13,7h1m1,0h1m-24,6h1m22,2h1m20,5h1m-4,3h1m-32,18h1" stroke="#A79A9C" stroke-width="1" fill="none"/>
<path d="M0,0m1678,250h1m53,44h1m-1207,24h1m1275,0h1m-81,4h1m-61,8h1m113,4h1m-1294,12h1m1233,2h1m14,27h1m140,1h1m8,4h1m-1398,16h1m1238,13h1m23,3h1m-6,9h1m25,0h1m-1408,2h1m1394,2h1m-1322,1h1m-2,1h1m1294,6h1m-1165,23h1m42,6h1m-38,23h1m1112,16h1m-40,13h1m76,6h1m-5,26h1m-55,6h1m-4,1h1m-18,1h1m10,0h1m32,4h1m2,0h1m-451,27h1m256,8h1m145,4h1m-205,2h1m42,7h1m-106,4h1m63,1h1m72,10h1m-96,1h1m83,1h1m158,3h1m-19,5h1m-217,3h1m35,1h1m8,0h1m-40,5h1m59,0h1m-65,7h1m-131,1h1m90,0h1m106,4h1m-94,3h1m114,1h1m-78,2h1m94,0h1m-37,2h1m-86,3h1m13,0h1m-41,2h1m-159,4h1m161,4h1m-186,3h1m277,1h1m-3,4h1m-54,2h1m43,3h1m-42,2h1m-207,2h1m263,0h1m-5,6h1m-100,4h1m99,4h1m-266,1h1m204,0h1m20,2h1m44,1h1m-21,2h1m-199,4h1m170,0h1m-237,2h1m211,0h1m13,0h1m24,0h1m25,2h1m-126,1h1m37,0h1m-23,3h1m91,4h1m-99,1h1m91,2h1m-56,2h1m26,3h1m10,0h1m145,0h1m-110,2h1m18,1h1m-44,1h1m-119,2h1m190,0h1m-3,1h1m79,1h1m-262,2h1m69,1h1m61,1h1m12,0h1m134,2h1m-193,1h1m-296,1h1m225,1h1m67,0h1m-36,2h1m155,3h1m-77,3h1m4,0h1m25,0h1m-214,1h1m107,0h1m35,4h1m-2,1h1m95,2h1m75,0h1m-68,1h1m-645,5h1m626,1h1m-366,1h1m438,0h1m-83,1h1m-240,1h1m146,2h1m55,3h1m54,2h1m-220,2h1m126,0h1m-190,1h1m59,1h1m81,2h1m18,0h1m-77,5h1m115,0h1m8,0h1m-161,3h1m113,0h1m49,0h1m70,1h1m-110,1h1m34,0h1m31,2h1m25,0h1m-579,1h1m455,7h1m6,0h1m134,1h1m-3,4h1m-592,3h1m482,0h1m-62,1h1m85,0h1m42,2h1m40,2h1m-124,2h1m101,0h1m4,0h1m-11,1h1m-559,1h1m403,0h1m64,0h1m40,0h1m92,1h1m-154,1h1m73,0h1m13,0h1m20,0h1m-177,1h1m36,0h1m170,1h1m2,1h1m-153,2h1m4,0h1m-64,1h1m47,0h1m4,0h1m-8,1h1m-102,1h1m140,0h1m29,0h1m24,0h1m-94,1h1m-36,1h1m114,1h1m-2,2h1m-140,1h1m146,0h1m-71,1h1m-86,1h1m-158,1h1m381,0h1m-37,1h1m13,0h1m-166,2h1m9,0h1m66,1h1m35,0h1m-163,1h1m101,2h1m-70,2h1m137,2h1m0,0h1m-88,1h1m-33,1h1m112,1h1m-98,2h1m39,1h1m-464,1h1m452,0h1m-129,1h1m61,2h1m27,1h1m31,0h1m31,0h1m-1,1h1m-64,1h1m41,1h1m31,2h1m9,0h1m10,0h1m-287,1h1m281,1h1m-50,3h1m8,1h1m24,0h1m21,0h1m-116,2h1m-16,1h1m-62,3h1m306,0h1m-182,1h1m8,0h1m-29,1h1m24,2h1m25,1h1m-4,1h1m16,0h1m150,1h1m-282,2h1m70,3h1m29,0h1m-71,1h1m112,1h1m-31,2h1m-194,2h1m64,0h1m37,0h1m28,1h1m-127,2h1m113,0h1m-26,1h1m254,1h1m-262,1h1m151,0h1m-125,1h1m-118,1h1m269,1h1m-3,2h1m-226,2h1m93,0h1m61,0h1m-251,1h1m263,0h1m-68,1h1m-21,2h1m159,0h1m-65,2h1m13,0h1m-252,2h1m37,0h1m102,0h1m129,0h1m-20,1h1m42,0h1m-43,1h1m-136,1h1m281,0h1m-243,5h1m62,1h1m19,0h1m-98,1h1m131,0h1m-54,1h1m52,0h1m-90,2h1m-75,2h1m92,0h1m-27,1h1m54,0h1m-50,1h1m56,2h1m-93,1h1m51,0h1m-88,2h1m112,1h1m134,0h1m-183,1h1m153,1h1m-175,5h1m23,0h1m32,0h1m12,0h1m180,2h1m-22,2h1m-105,3h1m-223,2h1m180,0h1m89,3h1m10,1h1m-10,1h1m85,1h1m-68,1h1m-21,1h1m75,1h1m-204,2h1m-84,4h1m270,0h1m-81,1h1m-217,3h1m240,0h1m0,3h1m-274,1h1m11,2h1m210,1h1m146,0h1m-41,1h1m-4,1h1m42,5h1m-60,1h1m26,0h1m-64,2h1m-21,3h1m98,1h1m-56,2h1m-85,2h1m137,3h1m-96,2h1m-2,3h1m51,0h1m-272,6h1m197,1h1m71,2h1m26,0h1m-222,1h1m129,0h1m41,0h1m-198,1h1m121,4h1m28,1h1m54,1h1m28,0h1m-28,1h1m33,0h1m-320,1h1m339,0h1m-125,1h1m145,2h1m-171,1h1m30,0h1m17,0h1m37,0h1m-58,4h1m102,0h1m2,0h1m-25,1h1m65,1h1m-182,2h1m140,0h1m-300,4h1m49,0h1m179,0h1m-132,1h1m183,0h1m12,3h1m-202,4h1m-89,2h1m303,0h1m-530,3h1m244,0h1m305,12h1m-695,5h1m619,5h1m-6,3h1m-39,5h1m-135,12h1m199,4h1m50,17h1m-375,7h1m261,7h1m83,14h1m-494,2h1m-72,5h1m417,0h1m-93,3h1m-262,5h1m264,1h1m-60,5h1m215,6h1m5,16h1m-404,21h1m-97,4h1m104,14h1m418,20h1m-645,7h1m567,26h1m12,53h1m-589,3h1m455,12h1m-11,5h1m-189,1h1m204,7h1m-7,2h1m-14,16h1m37,10h1m-54,2h1m-8,3h1m17,19h1m-104,54h1m-21,56h1" stroke="#B07A66" stroke-width="1" fill="none"/>
<path d="M0,0m1658,251h1m35,4h1m-4,4h1m-19,5h1m65,2h1m-30,1h1m-7,1h1m-10,1h1m23,2h1m-94,5h1m100,3h1m-49,4h1m-20,1h1m44,0h1m0,3h1m11,5h1m41,6h1m-150,4h1m142,10h1m-1313,1h1m1254,14h1m13,1h1m26,5h1m57,1h1m-1283,1h1m1238,1h1m-45,7h1m-62,3h1m77,0h1m99,0h1m-42,1h1m1,0h1m-71,1h1m36,0h1m-1318,2h1m-18,5h1m1321,0h1m-1278,8h1m74,2h1m1319,1h1m-158,7h1m-1182,1h1m-19,6h1m1243,1h1m-1231,1h1m1331,1h1m10,0h1m-1362,2h1m1300,7h1m-1266,1h1m1251,4h1m-1343,2h1m2,0h1m1365,0h1m-1298,2h1m1181,0h1m77,4h1m114,3h1m-1439,3h1m-6,2h1m1287,0h1m-1247,5h1m1177,0h1m133,1h1m-63,1h1m26,2h1m-1390,2h1m1439,0h1m55,0h1m-170,3h1m114,1h1m-1474,2h1m1497,2h1m-1220,5h1m1068,0h1m152,2h1m-1276,1h1m1175,1h1m-72,1h1m64,0h1m143,1h1m-1435,1h1m68,0h1m-41,3h1m1182,10h1m-1029,4h1m-97,7h1m82,1h1m-262,3h1m1404,2h1m-1147,2h1m-103,1h1m1214,0h1m98,0h1m-1468,2h1m176,21h1m50,11h1m-15,2h1m1120,6h1m-1122,3h1m1149,10h1m-6,1h1m-86,2h1m-1036,6h1m1035,7h1m-174,3h1m-904,2h1m1096,0h1m30,1h1m-64,18h1m-367,3h1m196,0h1m-820,1h1m-22,2h1m865,2h1m-831,3h1m835,0h1m-58,2h1m79,3h1m-66,13h1m198,0h1m-228,5h1m68,1h1m1,1h1m184,0h1m-303,2h1m284,3h1m-167,7h1m167,4h1m3,0h1m-124,16h1m-317,2h1m55,1h1m186,4h1m38,3h1m-118,1h1m55,0h1m-2,9h1m-27,1h1m-197,4h1m-61,16h1m68,0h1m161,1h1m-142,5h1m95,2h1m117,0h1m-194,5h1m24,2h1m138,1h1m57,1h1m-161,2h1m-31,4h1m129,0h1m51,1h1m-20,1h1m-309,2h1m94,0h1m191,1h1m55,3h1m-116,11h1m52,4h1m-202,1h1m214,0h1m-293,1h1m325,1h1m119,1h1m-152,1h1m146,0h1m-253,1h1m115,0h1m-105,4h1m262,2h1m-502,2h1m156,0h1m-88,1h1m172,1h1m38,0h1m207,1h1m-692,2h1m577,3h1m-89,1h1m-117,2h1m-395,2h1m734,0h1m-263,2h1m71,1h1m-168,2h1m237,4h1m-38,3h1m31,0h1m-118,1h1m-478,1h1m479,2h1m-48,2h1m101,1h1m78,4h1m-620,3h1m9,0h1m540,1h1m-60,3h1m150,1h1m-96,2h1m-46,3h1m134,2h1m48,1h1m-564,1h1m417,0h1m76,1h1m-120,1h1m15,0h1m61,0h1m10,0h1m-150,3h1m109,0h1m-401,2h1m394,0h1m-135,1h1m86,1h1m-5,1h1m106,0h1m-117,3h1m-116,2h1m227,0h1m-502,2h1m422,0h1m114,2h1m-102,3h1m115,1h1m-98,1h1m48,0h1m-635,1h1m263,1h1m213,0h1m22,1h1m79,0h1m-3,1h1m-68,2h1m-54,1h1m143,0h1m-142,1h1m52,0h1m-481,2h1m638,0h1m-293,1h1m2,5h1m30,1h1m148,3h1m-70,3h1m-77,2h1m97,0h1m112,0h1m-606,1h1m262,0h1m102,0h1m144,0h1m64,0h1m-323,2h1m-143,1h1m-108,2h1m413,4h1m59,0h1m33,0h1m-148,1h1m222,0h1m-44,1h1m26,0h1m-60,2h1m10,1h1m61,0h1m-149,1h1m68,1h1m-516,1h1m500,1h1m6,0h1m19,0h1m-187,1h1m8,0h1m100,0h1m-257,1h1m239,4h1m200,1h1m-377,2h1m-62,1h1m349,1h1m-418,3h1m441,4h1m-96,2h1m23,0h1m-466,2h1m138,1h1m309,2h1m-136,1h1m358,0h1m-427,1h1m-78,1h1m160,0h1m-81,2h1m-56,1h1m168,4h1m98,2h1m189,0h1m19,1h1m-152,2h1m-363,1h1m-53,4h1m469,1h1m-98,2h1m80,1h1m-73,2h1m176,0h1m-447,1h1m-28,1h1m33,0h1m184,0h1m-90,1h1m78,0h1m137,1h1m115,0h1m-275,2h1m189,0h1m-95,1h1m61,1h1m-143,1h1m57,1h1m25,3h1m-56,1h1m-170,1h1m-64,3h1m86,0h1m210,1h1m88,1h1m-268,1h1m170,2h1m93,0h1m-169,3h1m-115,4h1m91,0h1m99,0h1m100,4h1m-243,1h1m329,1h1m-168,2h1m63,1h1m33,3h1m-123,2h1m1,0h1m42,0h1m142,1h1m-60,1h1m-18,1h1m82,0h1m-192,2h1m88,0h1m61,3h1m10,2h1m-37,3h1m20,2h1m-232,3h1m9,1h1m27,0h1m14,5h1m169,0h1m-230,1h1m312,1h1m-17,8h1m-228,1h1m239,7h1m-348,1h1m354,0h1m7,0h1m-31,3h1m-84,2h1m-382,1h1m462,0h1m-32,3h1m-283,3h1m214,1h1m21,6h1m-155,1h1m-106,3h1m-96,1h1m215,0h1m149,1h1m35,1h1m-364,3h1m262,0h1m-197,2h1m-106,1h1m74,0h1m48,0h1m29,0h1m246,0h1m-54,1h1m-167,4h1m62,0h1m-402,5h1m502,1h1m78,3h1m-461,1h1m339,4h1m-94,1h1m91,0h1m-16,1h1m-132,1h1m140,5h1m-406,2h1m121,1h1m78,1h1m-306,1h1m320,0h1m72,0h1m-191,1h1m444,1h1m-451,1h1m83,0h1m392,0h1m-566,1h1m-9,1h1m270,2h1m33,1h1m89,1h1m-452,2h1m13,0h1m557,0h1m50,4h1m-211,2h1m-87,1h1m-185,1h1m249,1h1m-304,1h1m321,0h1m-56,2h1m-400,1h1m62,0h1m47,2h1m197,3h1m62,1h1m303,0h1m-686,2h1m326,0h1m-335,1h1m525,0h1m68,2h1m59,0h1m-561,1h1m-100,2h1m28,2h1m572,4h1m-145,6h1m-433,2h1m173,0h1m18,0h1m340,0h1m-36,1h1m-345,4h1m-172,3h1m128,0h1m370,0h1m25,0h1m46,1h1m-438,1h1m390,2h1m66,3h1m-148,1h1m21,2h1m-249,3h1m-91,6h1m2,0h1m17,6h1m282,0h1m-218,1h1m240,1h1m-441,2h1m549,1h1m-148,5h1m164,1h1m-513,1h1m552,3h1m-489,8h1m278,2h1m-5,3h1m182,0h1m-452,1h1m-28,1h1m515,0h1m-312,1h1m270,0h1m-181,4h1m197,0h1m-447,2h1m7,0h1m358,1h1m-16,6h1m-419,1h1m291,2h1m-278,2h1m411,0h1m-129,2h1m90,0h1m128,3h1m-182,4h1m144,4h1m-228,1h1m170,0h1m112,7h1m-172,1h1m-40,3h1m196,2h1m-477,2h1m18,4h1m-8,1h1m22,0h1m387,1h1m-201,3h1m109,2h1m35,0h1m84,18h1m-108,12h1m-577,3h1m656,1h1m-98,2h1m104,1h1m-411,2h1m-206,6h1m521,9h1m-578,4h1m588,10h1m-478,14h1m-38,1h1m28,12h1m341,10h1m-364,2h1m541,2h1m-92,12h1m-452,2h1m407,9h1m-200,1h1m188,4h1m-1,9h1m-198,1h1m101,5h1m-98,7h1m222,0h1m-25,4h1m-6,1h1m-15,2h1m-90,3h1m23,5h1m96,1h1m-64,3h1m-68,2h1m78,3h1m38,12h1m-73,1h1m47,5h1m-165,11h1m-38,1h1m115,16h1m0,16h1m-23,12h1m14,3h1m-6,29h1m-2,2h1m-26,6h1m10,2h1m-2,5h1m-33,25h1" stroke="#B9C544" stroke-width="1" fill="none"/>
<path d="M0,0m1649,248h1m20,17h1m-27,24h1m19,6h1m91,0h1m-78,3h1m153,43h1m-1394,4h1m1259,25h1m159,4h1m-110,7h1m13,9h1m60,23h1m-1367,30h1m1217,9h1m-1038,4h1m1196,0h1m-151,21h1m-14,46h1m-1041,18h1m1021,3h1m-1025,12h1m1021,9h1m20,13h1m-403,17h1m376,4h1m-264,1h1m68,5h1m-11,4h1m74,9h1m18,19h1m-79,2h1m194,3h1m-175,7h1m10,1h1m-32,1h1m-17,2h1m46,3h1m-37,3h1m-225,6h1m211,0h1m-16,2h1m46,2h1m58,5h1m-126,9h1m35,0h1m14,6h1m-43,3h1m44,3h1m-2,1h1m-20,1h1m-83,1h1m62,1h1m62,3h1m2,0h1m-30,3h1m6,1h1m-55,6h1m35,0h1m-25,1h1m-82,3h1m100,2h1m-43,5h1m104,0h1m-203,6h1m-25,2h1m119,0h1m24,1h1m126,7h1m-212,1h1m247,2h1m-329,6h1m152,0h1m-73,1h1m167,0h1m-116,1h1m110,1h1m-171,3h1m231,6h1m-146,2h1m159,1h1m-315,1h1m19,0h1m227,0h1m-88,4h1m94,0h1m-96,1h1m164,0h1m-291,1h1m127,0h1m-173,1h1m168,0h1m-489,1h1m636,1h1m-101,4h1m-56,5h1m17,1h1m100,0h1m-162,1h1m52,1h1m162,0h1m-201,1h1m-225,1h1m283,0h1m72,5h1m-3,1h1m-136,2h1m114,0h1m-189,2h1m129,4h1m-62,2h1m150,0h1m-71,1h1m9,0h1m4,0h1m-89,3h1m-99,2h1m118,3h1m71,1h1m-32,2h1m-56,1h1m34,0h1m-44,1h1m19,1h1m99,0h1m-632,1h1m612,0h1m-120,1h1m114,0h1m-173,3h1m20,0h1m16,2h1m116,0h1m-93,1h1m-68,1h1m69,0h1m20,0h1m26,0h1m129,0h1m-46,2h1m-58,1h1m-111,5h1m80,2h1m34,0h1m47,0h1m37,4h1m-146,1h1m-53,2h1m50,0h1m61,0h1m46,0h1m-54,2h1m48,0h1m-169,1h1m105,0h1m-411,1h1m316,0h1m195,0h1m-53,1h1m37,0h1m-178,1h1m80,2h1m36,1h1m-46,3h1m-237,1h1m313,0h1m-228,1h1m154,0h1m-40,1h1m16,0h1m93,0h1m-117,1h1m63,2h1m-18,1h1m17,0h1m61,0h1m-279,4h1m274,0h1m-195,1h1m10,1h1m41,0h1m-178,2h1m260,4h1m-164,1h1m23,0h1m-62,1h1m49,5h1m126,0h1m16,0h1m-65,1h1m-194,3h1m-64,4h1m296,0h1m-16,2h1m11,0h1m54,1h1m-64,3h1m-199,2h1m135,1h1m148,0h1m-10,1h1m-154,1h1m129,0h1m1,1h1m-29,1h1m7,1h1m-113,1h1m21,0h1m49,0h1m31,1h1m-366,2h1m286,2h1m47,0h1m-70,3h1m233,2h1m-134,1h1m-207,1h1m218,0h1m7,0h1m27,1h1m-44,1h1m19,0h1m-254,1h1m30,1h1m335,0h1m-151,1h1m186,0h1m-194,1h1m53,0h1m31,1h1m-179,3h1m122,1h1m-107,2h1m80,0h1m184,0h1m9,4h1m-174,1h1m71,0h1m0,2h1m-238,2h1m235,0h1m-27,1h1m-174,2h1m137,0h1m137,0h1m-180,1h1m90,2h1m-265,2h1m10,2h1m122,1h1m231,2h1m-314,1h1m162,0h1m36,1h1m63,0h1m12,0h1m-72,1h1m13,0h1m12,3h1m-198,1h1m80,0h1m161,0h1m34,0h1m-274,1h1m291,1h1m-209,3h1m5,0h1m139,0h1m82,0h1m-10,1h1m-68,2h1m46,1h1m-269,1h1m-45,6h1m47,1h1m202,5h1m-14,3h1m-219,1h1m302,0h1m-214,3h1m179,2h1m-42,1h1m-128,1h1m128,0h1m44,0h1m-120,1h1m85,0h1m51,0h1m-200,8h1m196,0h1m-17,1h1m-117,3h1m82,6h1m27,0h1m-17,2h1m45,0h1m-127,1h1m-94,2h1m178,0h1m-290,7h1m219,1h1m-187,2h1m141,4h1m148,0h1m-185,2h1m111,2h1m32,1h1m-149,1h1m200,0h1m-187,1h1m173,1h1m-474,3h1m205,1h1m-131,2h1m410,1h1m-303,1h1m-52,3h1m-118,3h1m333,1h1m148,1h1m-50,2h1m-578,2h1m552,0h1m-200,4h1m17,4h1m-308,2h1m347,3h1m34,4h1m83,3h1m-3,21h1m77,2h1m-577,4h1m314,0h1m265,1h1m-675,3h1m636,0h1m-537,8h1m353,11h1m-316,1h1m189,23h1m110,7h1m70,10h1m-350,3h1m287,0h1m-84,15h1m-269,17h1m433,4h1m-65,2h1m15,17h1m-456,15h1m182,38h1m340,6h1m-42,56h1m-86,13h1m-36,8h1m-44,4h1m97,1h1m-76,3h1m72,4h1m-27,15h1m27,5h1m-259,1h1m19,4h1m179,6h1m36,0h1m-159,30h1m79,3h1m-40,100h1" stroke="#DC3A2C" stroke-width="1" fill="none"/>
<path d="M0,0m463,313h2m1267,50h2m27,8h2m41,9h2m-120,26h2m175,21h2m-1506,18h2m1458,17h2m-141,53h2m-30,14h2m39,4h2m-1107,18h2m902,77h2m25,20h2m-37,4h2m-8,13h2m-308,1h2m128,8h2m132,1h2m18,1h2m-11,3h2m28,2h2m23,29h2m-17,5h2m-136,8h2m97,0h2m91,0h2m-47,6h2m-19,1h2m-114,6h2m24,2h2m33,3h2m49,2h2m39,7h2m8,0h2m-207,2h2m94,1h2m118,1h2m-231,17h2m-230,2h2m350,3h2m-143,5h2m229,2h2m-161,12h2m178,1h2m-631,9h2m664,1h2m-198,12h2m178,3h2m-237,4h2m110,3h2m87,8h2m-70,4h2m-379,1h2m356,7h2m59,7h2m35,2h2m-171,1h2m58,0h2m80,1h2m-78,11h2m71,1h2m-141,6h2m-17,7h2m-139,2h2m197,2h2m-57,1h2m72,3h2m-24,6h2m-51,5h2m25,0h2m84,2h2m30,1h2m75,6h2m-161,4h2m-35,2h2m-11,7h2m60,2h2m-114,4h2m88,6h2m158,5h2m-112,3h2m127,8h2m-172,2h2m206,3h2m-205,5h2m153,2h2m51,2h2m-251,1h2m254,7h2m-196,15h2m144,15h2m35,5h2m-606,4h2m525,5h2m49,3h2m22,5h2m-257,6h2m264,0h2m-291,2h2m251,0h2m27,9h2m-194,21h2m-396,1h2m371,18h2m-288,24h2m196,2h2m-226,8h2m-67,49h2m78,20h2m430,9h2m-533,51h2m471,15h2m-344,11h2m-164,1h2m536,36h2m-597,20h2m404,80h2m-192,6h2m132,9h2m-80,2h2m132,7h2" stroke="#5A74C8" stroke-width="2" fill="none"/>
<path d="M0,0m1693,263h2m-24,5h2m-44,2h2m19,1h2m-10,16h2m77,3h2m-18,12h2m-35,10h2m58,1h2m-1245,5h2m1337,1h2m-134,9h2m-1145,6h2m-36,6h2m1155,3h2m16,5h2m107,5h2m-115,3h2m136,1h2m-87,19h2m-27,7h2m55,1h2m37,2h2m-1,0h2m-1374,4h2m1242,3h2m147,0h2m-1333,3h2m1159,1h2m4,3h2m-1322,3h2m1381,0h2m66,9h2m-1442,5h2m220,0h2m1071,1h2m-1308,2h2m240,2h2m1080,1h2m136,1h2m-96,3h2m-1089,1h2m-18,2h2m1155,5h2m-1278,1h2m1322,0h2m-1362,10h2m-85,12h2m1305,0h2m-3,3h2m-1326,6h2m1337,1h2m46,0h2m51,5h2m-93,1h2m-1129,9h2m1127,3h2m-43,3h2m36,6h2m-1100,9h2m-64,2h2m1140,1h2m6,1h2m-12,4h2m-1109,2h2m1107,8h2m-1054,3h2m1046,6h2m-1035,7h2m808,4h2m239,4h2m-1084,7h2m832,21h2m166,10h2m-143,12h2m-63,2h2m63,2h2m151,2h2m-170,7h2m-208,6h2m-29,2h2m270,1h2m-135,1h2m93,19h2m-26,6h2m179,0h2m4,4h2m-424,2h2m254,1h2m-18,3h2m41,5h2m-10,2h2m31,8h2m-339,2h2m249,1h2m16,1h2m16,1h2m-23,3h2m56,0h2m-56,6h2m-22,1h2m-255,2h2m302,0h2m-306,4h2m295,0h2m-237,8h2m192,2h2m-117,3h2m103,2h2m-290,5h2m344,8h2m-149,1h2m112,2h2m-334,7h2m124,1h2m58,1h2m147,0h2m69,2h2m-70,1h2m-146,2h2m-112,1h2m318,0h2m-44,1h2m-41,1h2m-117,1h2m92,0h2m75,0h2m-256,2h2m74,0h2m47,0h2m152,0h2m-157,1h2m150,0h2m-125,3h2m12,0h2m177,3h2m-105,1h2m43,0h2m-284,1h2m279,1h2m13,0h2m-210,1h2m302,1h2m-320,1h2m170,0h2m-174,2h2m216,1h2m38,0h2m-44,1h2m59,1h2m-305,1h2m156,1h2m5,0h2m134,0h2m-87,1h2m-83,1h2m77,0h2m27,0h2m44,0h2m-652,4h2m363,1h2m140,0h2m0,0h2m102,1h2m-651,5h2m273,0h2m49,0h2m158,0h2m92,0h2m-62,3h2m67,0h2m-343,1h2m226,1h2m165,1h2m-95,2h2m24,2h2m-110,2h2m38,0h2m-31,1h2m0,1h2m72,0h2m66,0h2m-111,2h2m7,1h2m106,1h2m-123,2h2m83,0h2m51,0h2m-77,1h2m21,0h2m26,0h2m-460,3h2m311,0h2m56,0h2m6,0h2m-514,3h2m105,1h2m428,0h2m11,0h2m-599,2h2m506,0h2m126,1h2m-381,7h2m309,0h2m-72,6h2m-28,1h2m33,0h2m68,1h2m-91,1h2m-192,2h2m306,0h2m-489,2h2m379,0h2m77,0h2m-155,1h2m195,0h2m39,0h2m25,2h2m-95,2h2m-214,1h2m114,0h2m29,0h2m30,0h2m-431,1h2m428,0h2m-96,1h2m145,2h2m-155,2h2m71,0h2m62,0h2m64,0h2m-191,2h2m7,0h2m195,0h2m3,0h2m-203,1h2m50,0h2m-79,1h2m53,0h2m-13,1h2m-99,5h2m171,0h2m-304,1h2m284,0h2m9,0h2m49,0h2m-43,1h2m-35,3h2m2,1h2m69,1h2m-33,2h2m63,1h2m-123,1h2m-267,6h2m77,4h2m92,0h2m36,1h2m-476,2h2m486,1h2m86,3h2m-113,1h2m35,0h2m-220,2h2m260,0h2m-160,1h2m132,0h2m-118,2h2m285,5h2m-199,2h2m-318,3h2m337,0h2m27,0h2m-202,2h2m226,1h2m-39,1h2m19,2h2m-50,3h2m-35,1h2m110,1h2m24,3h2m-319,3h2m150,2h2m152,1h2m-132,1h2m42,0h2m13,1h2m64,1h2m-176,1h2m13,1h2m40,1h2m11,0h2m-154,2h2m18,0h2m219,0h2m-53,1h2m70,0h2m14,0h2m-78,1h2m-47,3h2m18,0h2m53,0h2m-217,4h2m360,0h2m-319,1h2m284,0h2m24,1h2m6,1h2m-372,1h2m200,0h2m147,0h2m-92,1h2m22,0h2m-20,1h2m-275,5h2m187,0h2m2,0h2m40,0h2m60,1h2m54,2h2m-42,2h2m14,1h2m-217,1h2m250,0h2m-169,1h2m142,1h2m-160,1h2m225,1h2m-30,3h2m-71,3h2m-221,2h2m318,1h2m-211,1h2m112,1h2m82,1h2m-62,1h2m-265,3h2m318,0h2m-227,4h2m-17,4h2m-5,1h2m11,1h2m143,1h2m-58,2h2m76,0h2m22,3h2m74,0h2m-103,3h2m14,2h2m-72,2h2m105,1h2m-124,1h2m146,2h2m18,0h2m-362,1h2m215,2h2m136,2h2m-143,3h2m57,4h2m25,1h2m-580,1h2m392,0h2m-374,6h2m523,1h2m-17,1h2m81,0h2m-151,1h2m-453,1h2m134,1h2m376,4h2m-515,1h2m576,0h2m-351,4h2m33,0h2m86,0h2m232,2h2m-127,3h2m135,0h2m-505,1h2m496,1h2m-349,5h2m370,2h2m-482,1h2m373,0h2m-2,0h2m44,5h2m-397,1h2m-167,1h2m369,1h2m72,0h2m-348,4h2m481,0h2m28,0h2m-601,2h2m439,1h2m-291,1h2m258,1h2m-192,1h2m153,4h2m161,0h2m61,0h2m-147,2h2m-442,1h2m-77,1h2m573,0h2m5,4h2m-314,3h2m186,5h2m-482,1h2m657,3h2m-213,1h2m38,4h2m-501,3h2m640,4h2m-479,1h2m151,0h2m218,1h2m-46,1h2m-394,3h2m-47,4h2m362,0h2m14,1h2m-324,4h2m-78,1h2m646,1h2m-231,3h2m-83,4h2m-166,3h2m148,1h2m26,0h2m-319,1h2m27,1h2m-6,2h2m64,0h2m362,0h2m35,0h2m-481,2h2m138,1h2m143,0h2m55,0h2m250,1h2m-71,5h2m-458,5h2m333,2h2m-391,3h2m22,1h2m341,2h2m-371,4h2m240,0h2m53,4h2m-231,7h2m-23,2h2m279,2h2m-47,2h2m65,0h2m-323,6h2m390,7h2m118,1h2m-69,3h2m-127,4h2m-30,2h2m118,2h2m72,1h2m-150,3h2m57,0h2m124,5h2m-574,11h2m366,0h2m191,0h2m-200,5h2m147,2h2m-492,2h2m125,2h2m384,7h2m-142,4h2m-414,1h2m537,1h2m-30,1h2m60,6h2m-140,5h2m120,2h2m-103,1h2m102,1h2m-37,11h2m-34,9h2m-423,1h2m462,7h2m-448,1h2m347,2h2m-20,14h2m39,2h2m22,5h2m-521,2h2m-85,1h2m105,0h2m513,11h2m-612,11h2m75,9h2m-44,1h2m371,4h2m153,15h2m10,1h2m-97,1h2m6,12h2m-63,5h2m-172,10h2m92,4h2m116,2h2m0,2h2m-139,4h2m-10,1h2m129,2h2m22,5h2m-81,4h2m33,1h2m-156,11h2m-47,11h2m-30,5h2m136,9h2m22,2h2" stroke="#6AA84E" stroke-width="2" fill="none"/>
<path d="M0,0m1626,295h2m184,11h2m-145,11h2m-1247,6h2m1407,7h2m-53,6h2m-41,4h2m13,7h2m-54,4h2m-42,10h2m-1145,10h2m1202,4h2m-11,10h2m-1273,14h2m1279,3h2m-1233,1h2m-135,5h2m168,10h2m1113,7h2m184,27h2m-1387,10h2m1351,8h2m-1153,5h2m-19,8h2m-74,6h2m1103,35h2m24,0h2m-1061,2h2m-78,1h2m15,21h2m21,1h2m1049,5h2m-166,1h2m-233,14h2m420,0h2m-174,21h2m-83,3h2m107,9h2m-76,5h2m61,2h2m-267,3h2m241,8h2m-65,2h2m-167,2h2m267,0h2m-61,1h2m185,1h2m-212,2h2m77,2h2m-53,2h2m-177,1h2m180,5h2m8,7h2m-4,8h2m-187,2h2m196,4h2m11,2h2m-45,3h2m15,1h2m-41,1h2m43,8h2m-33,3h2m-62,4h2m26,1h2m6,2h2m-95,6h2m114,1h2m-2,2h2m-28,4h2m20,1h2m-89,1h2m48,0h2m8,2h2m54,4h2m-30,1h2m-90,1h2m11,0h2m27,2h2m46,0h2m20,0h2m-89,5h2m10,4h2m84,3h2m-55,1h2m-11,2h2m35,2h2m15,2h2m-66,2h2m40,3h2m129,0h2m-133,1h2m20,1h2m-383,4h2m355,2h2m2,0h2m-18,3h2m23,1h2m-187,1h2m60,0h2m75,2h2m-49,1h2m61,0h2m-116,2h2m147,2h2m-105,1h2m72,1h2m-139,1h2m30,0h2m63,0h2m-88,2h2m132,0h2m-145,1h2m18,0h2m245,0h2m-57,1h2m-104,2h2m97,1h2m-166,1h2m-75,1h2m166,1h2m-8,1h2m-70,1h2m90,0h2m66,0h2m-185,1h2m-28,1h2m0,1h2m22,1h2m102,0h2m-94,2h2m91,0h2m-11,1h2m-168,1h2m144,0h2m24,1h2m-81,3h2m22,1h2m194,0h2m-171,1h2m85,0h2m33,0h2m-33,2h2m40,0h2m-155,3h2m44,1h2m-73,1h2m-1,0h2m1,1h2m104,6h2m72,8h2m-54,1h2m-23,1h2m17,0h2m-181,1h2m193,1h2m2,2h2m-217,2h2m91,0h2m51,1h2m-179,2h2m223,0h2m-154,1h2m-48,4h2m69,2h2m-48,1h2m125,1h2m18,0h2m-179,1h2m233,1h2m-186,1h2m-12,1h2m35,2h2m18,0h2m-70,1h2m14,0h2m-429,1h2m526,0h2m27,0h2m-226,2h2m175,1h2m-20,4h2m-8,2h2m66,0h2m71,0h2m2,0h2m-243,2h2m147,2h2m-165,1h2m109,3h2m88,0h2m-109,2h2m119,0h2m-151,1h2m104,1h2m-83,1h2m117,0h2m-143,4h2m17,0h2m105,0h2m-18,2h2m47,0h2m-246,1h2m52,0h2m89,0h2m-43,1h2m25,4h2m26,0h2m-104,2h2m-320,1h2m135,0h2m271,0h2m-38,2h2m91,1h2m-172,1h2m50,0h2m81,1h2m-142,3h2m46,0h2m56,0h2m-12,2h2m40,1h2m138,2h2m-17,1h2m-118,1h2m0,0h2m-48,1h2m158,0h2m-359,1h2m194,1h2m188,0h2m-263,1h2m36,1h2m195,0h2m-192,3h2m0,2h2m50,0h2m-158,1h2m310,2h2m-673,3h2m387,1h2m40,0h2m35,1h2m79,1h2m-158,1h2m132,0h2m-357,1h2m380,1h2m-76,1h2m-205,1h2m134,0h2m140,1h2m-17,1h2m4,6h2m-20,5h2m-207,1h2m234,0h2m-107,2h2m86,0h2m10,0h2m-1,0h2m94,1h2m24,2h2m-268,1h2m81,0h2m17,1h2m-41,1h2m178,0h2m-182,1h2m21,0h2m60,0h2m104,1h2m-222,1h2m46,0h2m76,0h2m89,0h2m-211,1h2m17,2h2m33,1h2m-173,1h2m123,1h2m215,2h2m-227,2h2m62,0h2m-40,1h2m21,1h2m124,0h2m-110,1h2m-93,2h2m-19,2h2m44,0h2m-111,1h2m270,0h2m-318,2h2m284,1h2m57,3h2m23,1h2m-168,2h2m155,1h2m-93,1h2m132,0h2m-50,4h2m29,0h2m11,1h2m-60,1h2m-170,1h2m-65,2h2m-8,1h2m185,0h2m68,0h2m8,0h2m-49,2h2m-44,1h2m-114,2h2m-82,1h2m170,0h2m77,0h2m34,1h2m-2,5h2m-24,1h2m-184,2h2m2,0h2m88,2h2m151,1h2m-83,5h2m0,0h2m-168,4h2m139,0h2m-155,1h2m188,2h2m26,3h2m-41,1h2m-11,4h2m-64,5h2m0,3h2m96,1h2m-172,3h2m176,4h2m-28,1h2m-21,3h2m74,4h2m-192,4h2m133,1h2m-182,2h2m129,0h2m-343,2h2m282,1h2m144,1h2m-252,3h2m174,0h2m-9,3h2m-473,3h2m407,0h2m-52,1h2m-380,1h2m560,2h2m-415,5h2m219,7h2m230,2h2m-373,3h2m155,1h2m-301,3h2m452,4h2m66,1h2m-33,1h2m38,2h2m-386,5h2m99,6h2m241,10h2m-71,1h2m-500,5h2m-52,1h2m-19,2h2m156,0h2m340,8h2m-65,6h2m17,0h2m-113,26h2m-51,14h2m71,6h2m17,12h2m110,19h2m97,11h2m-493,4h2m401,0h2m-422,5h2m437,68h2m-520,3h2m550,0h2m-1,8h2m-52,42h2m-1,2h2m-567,6h2m409,3h2m35,17h2m26,0h2m5,1h2m-49,4h2m-7,2h2m-13,10h2m-244,4h2m257,8h2m-13,1h2m-222,9h2m245,0h2m-187,1h2m125,6h2m22,0h2m-142,16h2m100,2h2m-117,12h2" stroke="#8C8A3C" stroke-width="2" fill="none"/>
<path d="M0,0m1649,264h2m0,31h2m121,18h2m27,13h2m-143,4h2m28,1h2m-30,6h2m81,1h2m-34,7h2m36,7h2m-65,3h2m-1184,2h2m1197,0h2m11,16h2m-40,4h2m136,4h2m-69,1h2m-76,15h2m53,1h2m141,2h2m-74,11h2m-128,5h2m58,5h2m137,5h2m-103,3h2m-1194,8h2m1133,1h2m-1127,7h2m46,17h2m1107,2h2m-1328,1h2m224,10h2m1,12h2m1047,13h2m-1103,6h2m1100,4h2m-61,13h2m-1049,9h2m1122,3h2m-66,10h2m10,15h2m-444,7h2m431,0h2m-1018,2h2m1010,4h2m7,13h2m-288,8h2m51,1h2m46,0h2m-221,7h2m391,3h2m-179,5h2m-80,2h2m51,1h2m212,4h2m-151,2h2m-38,3h2m-40,2h2m-14,3h2m72,1h2m162,2h2m-146,1h2m-27,1h2m-109,8h2m38,2h2m110,0h2m-135,1h2m64,4h2m54,1h2m-73,1h2m22,0h2m14,1h2m3,0h2m25,0h2m9,1h2m-70,1h2m10,0h2m-42,1h2m69,0h2m-32,1h2m-55,2h2m-8,2h2m75,0h2m-68,1h2m40,1h2m-243,1h2m191,0h2m93,0h2m3,1h2m-86,1h2m44,0h2m-46,3h2m-13,1h2m-29,1h2m2,0h2m67,1h2m52,0h2m-121,1h2m59,0h2m54,1h2m-126,1h2m95,0h2m-47,1h2m10,1h2m-4,1h2m41,0h2m-23,1h2m-34,1h2m-36,1h2m60,0h2m-6,3h2m-27,2h2m4,0h2m-330,4h2m69,0h2m-48,2h2m221,0h2m14,0h2m62,0h2m-14,2h2m-68,2h2m43,0h2m29,0h2m9,0h2m-30,4h2m-49,1h2m-51,2h2m-43,1h2m48,1h2m-106,1h2m153,0h2m-189,1h2m132,0h2m-20,1h2m139,3h2m-127,1h2m-229,1h2m153,0h2m141,0h2m-77,1h2m87,0h2m-224,1h2m206,0h2m24,0h2m13,1h2m-61,3h2m23,1h2m-107,1h2m156,0h2m-15,1h2m-22,2h2m67,0h2m-192,1h2m52,0h2m4,0h2m28,0h2m43,0h2m-65,1h2m17,0h2m-43,1h2m62,0h2m13,0h2m-208,2h2m171,0h2m9,0h2m64,1h2m10,1h2m-64,1h2m-153,1h2m138,1h2m81,0h2m4,1h2m-32,1h2m-129,1h2m76,1h2m53,1h2m-102,1h2m8,0h2m232,0h2m-336,1h2m143,1h2m58,0h2m-183,3h2m162,0h2m12,0h2m-14,1h2m-256,1h2m147,2h2m42,0h2m71,0h2m-249,1h2m169,0h2m-23,1h2m62,0h2m140,0h2m-214,1h2m185,0h2m-297,1h2m139,0h2m166,0h2m20,0h2m-304,3h2m82,1h2m90,1h2m90,0h2m-150,1h2m-24,1h2m53,1h2m28,0h2m-115,1h2m-113,1h2m213,1h2m16,0h2m-223,3h2m32,0h2m82,0h2m44,0h2m121,0h2m-110,1h2m-36,2h2m115,1h2m-227,1h2m141,0h2m19,0h2m46,0h2m54,0h2m-357,1h2m105,0h2m-174,1h2m190,0h2m202,0h2m-285,1h2m167,0h2m32,0h2m7,1h2m32,0h2m-150,1h2m-95,1h2m32,0h2m79,0h2m21,0h2m12,0h2m103,0h2m-226,1h2m54,0h2m175,0h2m-221,1h2m61,0h2m48,0h2m118,0h2m-90,1h2m-562,1h2m544,0h2m-34,1h2m40,0h2m32,1h2m-376,1h2m247,0h2m47,0h2m26,0h2m16,0h2m-56,1h2m102,0h2m18,0h2m-206,1h2m126,0h2m4,1h2m-58,1h2m44,0h2m2,0h2m-176,1h2m110,0h2m84,0h2m-610,1h2m409,0h2m51,0h2m8,0h2m24,0h2m148,0h2m-597,1h2m485,0h2m-12,1h2m29,0h2m70,0h2m-131,1h2m40,0h2m80,0h2m-13,1h2m-74,1h2m21,0h2m20,0h2m-164,1h2m47,0h2m146,0h2m-109,1h2m24,1h2m3,0h2m77,0h2m-24,1h2m0,0h2m70,0h2m-198,1h2m32,0h2m17,0h2m-56,1h2m139,0h2m-207,1h2m106,0h2m5,0h2m-1,0h2m-392,1h2m270,0h2m109,0h2m22,0h2m51,0h2m-160,1h2m31,0h2m146,0h2m-209,1h2m25,0h2m35,0h2m18,0h2m49,0h2m2,0h2m-79,1h2m167,0h2m-163,2h2m99,0h2m17,0h2m-91,1h2m110,0h2m-134,1h2m20,0h2m0,0h2m60,0h2m-101,1h2m18,0h2m48,0h2m-32,1h2m20,1h2m71,0h2m-260,2h2m89,0h2m71,0h2m47,1h2m-32,2h2m83,0h2m-131,2h2m13,0h2m18,0h2m67,0h2m12,0h2m-170,1h2m-5,1h2m108,0h2m45,1h2m-155,1h2m22,0h2m41,0h2m-51,1h2m88,0h2m-1,0h2m13,0h2m-96,1h2m35,0h2m72,1h2m8,0h2m36,0h2m-260,1h2m95,0h2m19,0h2m0,0h2m46,0h2m15,0h2m-544,1h2m411,0h2m64,0h2m81,0h2m-114,2h2m51,0h2m40,0h2m-69,1h2m-39,1h2m92,0h2m-82,1h2m-46,1h2m38,0h2m63,0h2m13,0h2m-69,1h2m56,1h2m-541,2h2m424,0h2m27,0h2m6,0h2m17,0h2m-14,2h2m8,0h2m66,0h2m76,0h2m-140,1h2m128,0h2m-63,1h2m-1,0h2m54,0h2m-128,1h2m2,0h2m1,0h2m75,0h2m-178,1h2m152,0h2m-179,1h2m125,0h2m-53,1h2m37,1h2m48,0h2m-495,1h2m387,0h2m6,0h2m49,0h2m78,0h2m43,0h2m-177,1h2m-179,2h2m181,0h2m100,0h2m33,0h2m-623,1h2m542,0h2m97,0h2m-248,1h2m137,1h2m33,0h2m75,0h2m-283,1h2m123,0h2m9,0h2m-2,1h2m83,1h2m-110,1h2m36,0h2m24,0h2m39,0h2m45,0h2m-161,2h2m67,1h2m-65,1h2m65,0h2m-104,1h2m-78,2h2m171,0h2m98,1h2m-174,1h2m-1,0h2m16,0h2m78,1h2m-142,1h2m88,0h2m41,0h2m-93,1h2m39,0h2m-279,2h2m263,0h2m1,0h2m-16,2h2m121,0h2m-243,2h2m71,0h2m16,0h2m42,0h2m-28,1h2m27,0h2m190,0h2m-247,1h2m-28,1h2m7,0h2m128,0h2m136,0h2m-1,0h2m-196,1h2m-180,1h2m186,0h2m-127,1h2m66,0h2m63,0h2m47,0h2m-226,1h2m182,0h2m-59,2h2m57,0h2m-192,1h2m86,0h2m273,0h2m-365,1h2m139,1h2m-236,1h2m160,0h2m134,0h2m-160,2h2m137,0h2m-67,1h2m-106,1h2m43,0h2m111,0h2m44,0h2m-249,1h2m108,0h2m73,0h2m-87,1h2m21,0h2m96,0h2m38,0h2m-57,1h2m-78,1h2m-151,1h2m168,0h2m230,0h2m-284,1h2m101,0h2m160,0h2m19,1h2m-309,1h2m187,0h2m-24,1h2m40,0h2m-193,2h2m181,0h2m-453,1h2m354,0h2m34,0h2m-178,1h2m-43,1h2m191,0h2m51,0h2m35,0h2m-234,1h2m168,0h2m66,0h2m-237,1h2m177,0h2m-286,1h2m267,0h2m20,0h2m45,0h2m83,0h2m20,1h2m-409,1h2m111,0h2m53,0h2m27,0h2m18,0h2m193,0h2m-677,1h2m488,0h2m11,0h2m55,0h2m-290,1h2m15,0h2m130,1h2m122,0h2m-147,1h2m243,0h2m-245,1h2m9,0h2m24,0h2m20,0h2m216,0h2m-452,1h2m47,0h2m292,0h2m-322,2h2m91,0h2m83,0h2m11,0h2m43,0h2m10,0h2m38,1h2m103,0h2m7,0h2m24,0h2m-179,2h2m56,0h2m-303,1h2m118,0h2m30,0h2m67,0h2m19,0h2m16,0h2m-34,1h2m16,0h2m22,1h2m105,0h2m-345,1h2m117,0h2m256,0h2m-289,1h2m24,0h2m-1,2h2m42,2h2m1,1h2m30,0h2m96,1h2m-215,3h2m308,1h2m-20,1h2m-4,1h2m-243,1h2m232,0h2m-148,2h2m-232,1h2m175,1h2m-68,1h2m215,0h2m-53,1h2m58,0h2m-163,1h2m-105,1h2m168,0h2m-140,1h2m4,0h2m285,0h2m-269,1h2m263,0h2m13,0h2m-193,1h2m-11,1h2m186,0h2m-384,2h2m133,0h2m244,0h2m-236,1h2m4,0h2m55,1h2m200,0h2m-101,1h2m41,0h2m23,0h2m-241,1h2m-45,1h2m167,0h2m13,0h2m75,0h2m-188,1h2m-51,1h2m227,0h2m40,0h2m-11,2h2m10,0h2m24,0h2m-307,1h2m74,0h2m-76,1h2m67,0h2m30,0h2m175,0h2m8,0h2m-229,2h2m167,0h2m15,0h2m-215,1h2m6,0h2m188,0h2m41,0h2m-287,1h2m19,0h2m69,0h2m189,0h2m13,0h2m-1,0h2m-258,1h2m201,0h2m5,0h2m26,0h2m-306,1h2m124,0h2m97,0h2m4,0h2m17,0h2m-222,1h2m84,0h2m6,0h2m110,0h2m81,0h2m-349,1h2m373,0h2m-270,1h2m120,0h2m-15,1h2m4,1h2m124,0h2m-298,1h2m56,0h2m141,0h2m38,0h2m-207,1h2m23,0h2m91,0h2m45,4h2m-240,1h2m6,0h2m180,0h2m146,0h2m-335,1h2m75,0h2m28,1h2m194,2h2m-132,1h2m39,0h2m13,0h2m65,0h2m3,0h2m-220,1h2m131,1h2m-91,1h2m196,1h2m-92,1h2m11,0h2m-231,1h2m189,0h2m3,1h2m134,0h2m-146,1h2m39,0h2m-62,1h2m62,0h2m-9,1h2m15,0h2m-528,1h2m488,0h2m1,0h2m32,0h2m32,1h2m-92,1h2m60,0h2m50,0h2m-112,1h2m41,0h2m15,1h2m14,0h2m33,0h2m30,1h2m-616,1h2m483,0h2m17,0h2m12,0h2m-7,1h2m86,0h2m-105,1h2m36,2h2m3,0h2m5,3h2m33,0h2m-33,2h2m3,0h2m-585,1h2m540,0h2m3,0h2m-55,1h2m82,0h2m-297,2h2m269,0h2m54,1h2m-1,0h2m-132,1h2m118,0h2m-46,1h2m-47,3h2m64,0h2m-213,1h2m129,0h2m-215,2h2m-93,2h2m273,1h2m89,0h2m45,0h2m-46,1h2m9,0h2m-262,1h2m295,0h2m-24,1h2m-529,3h2m532,0h2m-97,2h2m88,0h2m-81,1h2m-17,2h2m35,0h2m16,2h2m-238,1h2m299,0h2m-332,2h2m269,0h2m17,0h2m-548,1h2m319,0h2m171,0h2m-21,1h2m24,3h2m-157,1h2m148,1h2m61,0h2m-32,1h2m-448,3h2m89,0h2m436,0h2m-163,2h2m-436,3h2m335,2h2m212,0h2m17,0h2m-560,2h2m321,2h2m-397,2h2m95,5h2m-56,5h2m-24,6h2m-35,9h2m27,1h2m512,2h2m-588,4h2m187,1h2m-118,2h2m402,7h2m-418,1h2m404,4h2m88,0h2m-360,1h2m274,3h2m201,5h2m-486,4h2m190,6h2m195,0h2m-562,2h2m507,1h2m-139,7h2m-312,1h2m335,0h2m226,1h2m7,0h2m-222,4h2m75,0h2m-355,2h2m338,3h2m111,0h2m-524,2h2m556,5h2m-568,1h2m361,0h2m213,3h2m-238,10h2m-80,1h2m51,1h2m220,7h2m-248,5h2m57,23h2m-340,1h2m147,0h2m257,0h2m-2,2h2m-405,2h2m399,10h2m56,3h2m-34,3h2m-381,13h2m476,14h2m4,2h2m-77,5h2m10,17h2m6,15h2m-542,8h2m539,0h2m-584,2h2m538,3h2m-576,10h2m586,11h2m-107,19h2m24,7h2m-28,3h2m79,4h2m-300,4h2m-198,1h2m381,0h2m-1,1h2m-42,1h2m25,0h2m2,0h2m12,0h2m-4,1h2m-450,1h2m474,1h2m28,0h2m-293,7h2m284,0h2m-30,3h2m-27,4h2m3,0h2m-26,1h2m18,1h2m-4,9h2m-114,1h2m104,3h2m-21,1h2m22,1h2m-183,3h2m187,2h2m7,1h2m-130,1h2m91,0h2m-165,17h2m172,0h2m-108,2h2m-42,2h2m47,30h2" stroke="#93403C" stroke-width="2" fill="none"/>
<path d="M0,0m1693,299h2m-34,55h2m-1184,10h2m-151,90h2m1385,49h2m-576,241h2m11,363h2m474,55h2m14,5h2m-515,58h2m235,8h2m255,15h2m-650,40h2m520,30h2m-254,225h2" stroke="#9A8298" stroke-width="2" fill="none"/>
<path d="M0,0m1622,296h2m-1102,34h2m1322,4h2m-127,4h2m33,16h2m82,5h2m-152,2h2m-1206,3h2m-10,11h2m47,6h2m1159,5h2m71,2h2m-95,4h2m148,16h2m-97,9h2m-1290,1h2m1245,6h2m25,0h2m34,8h2m-1409,5h2m1448,16h2m-1148,57h2m1032,37h2m-180,3h2m-886,9h2m1056,10h2m-10,4h2m-164,19h2m-54,10h2m18,12h2m25,1h2m170,11h2m-223,1h2m-11,5h2m-2,2h2m53,4h2m21,11h2m-55,2h2m22,1h2m-49,4h2m17,2h2m49,4h2m-14,2h2m-291,1h2m253,1h2m30,2h2m-101,1h2m127,0h2m-101,2h2m85,0h2m-61,12h2m3,3h2m32,1h2m-37,6h2m-26,3h2m-44,3h2m55,0h2m-240,1h2m62,0h2m200,0h2m-68,6h2m23,2h2m100,10h2m-67,6h2m1,2h2m-59,2h2m217,2h2m-199,5h2m66,1h2m-67,3h2m17,0h2m-173,2h2m120,1h2m89,3h2m27,1h2m4,0h2m77,1h2m-84,3h2m-94,1h2m41,0h2m26,1h2m-31,1h2m-73,1h2m-183,4h2m30,2h2m133,0h2m18,0h2m75,0h2m-72,1h2m16,0h2m47,1h2m122,0h2m-268,1h2m109,0h2m-133,1h2m146,0h2m-192,2h2m182,0h2m84,0h2m-199,2h2m-16,1h2m60,0h2m24,0h2m-89,2h2m82,0h2m-30,3h2m43,2h2m-136,2h2m110,0h2m-75,1h2m36,0h2m113,0h2m1,0h2m20,0h2m-276,1h2m236,1h2m-45,2h2m10,0h2m5,0h2m-62,3h2m-2,1h2m174,0h2m-11,1h2m-120,1h2m7,0h2m-58,5h2m182,0h2m-139,2h2m57,1h2m22,2h2m-58,1h2m-349,1h2m283,1h2m146,2h2m-150,4h2m40,0h2m61,0h2m-111,2h2m99,0h2m-198,1h2m22,1h2m123,0h2m62,0h2m-533,2h2m141,0h2m325,0h2m-422,2h2m272,0h2m83,1h2m100,3h2m33,1h2m-88,1h2m108,1h2m-201,1h2m151,0h2m-66,2h2m-90,1h2m118,0h2m-51,3h2m70,1h2m-75,1h2m-64,1h2m107,1h2m-134,1h2m-348,1h2m517,0h2m-143,1h2m-44,1h2m103,4h2m-11,2h2m15,0h2m-38,1h2m42,1h2m7,0h2m-150,1h2m96,0h2m-31,1h2m73,0h2m54,1h2m-384,2h2m247,3h2m42,1h2m63,0h2m-323,2h2m276,0h2m19,2h2m41,1h2m-7,1h2m-103,1h2m25,1h2m9,1h2m-187,1h2m42,0h2m68,3h2m-98,1h2m-62,1h2m232,1h2m-176,1h2m88,0h2m-96,2h2m14,0h2m105,0h2m23,0h2m-28,1h2m43,0h2m-30,1h2m-1,0h2m-50,1h2m210,2h2m-6,2h2m-316,1h2m32,1h2m119,0h2m-160,1h2m183,3h2m-155,1h2m35,0h2m263,0h2m-473,1h2m150,0h2m103,2h2m-16,2h2m55,1h2m12,1h2m10,0h2m-173,1h2m130,0h2m-116,1h2m190,1h2m-194,1h2m-1,0h2m101,0h2m-232,1h2m233,0h2m-107,1h2m-365,1h2m309,2h2m234,0h2m29,3h2m-208,1h2m104,0h2m-33,1h2m-139,1h2m-124,2h2m171,0h2m39,1h2m35,0h2m55,0h2m-25,1h2m-100,1h2m140,0h2m116,0h2m-132,3h2m-53,3h2m113,1h2m85,0h2m-109,1h2m-162,4h2m-5,2h2m110,0h2m159,0h2m-254,2h2m243,1h2m21,0h2m-118,1h2m-71,1h2m0,3h2m94,0h2m-5,1h2m108,1h2m-288,2h2m205,0h2m38,0h2m-316,4h2m88,0h2m75,0h2m47,0h2m79,0h2m43,0h2m-307,1h2m61,2h2m127,0h2m-74,2h2m16,0h2m76,2h2m-312,2h2m240,0h2m120,1h2m-47,1h2m55,0h2m1,0h2m-245,2h2m262,1h2m20,0h2m-30,1h2m10,1h2m-188,1h2m151,0h2m-256,3h2m105,1h2m68,0h2m-111,1h2m24,0h2m62,0h2m-139,1h2m72,0h2m173,1h2m-179,1h2m86,0h2m-88,1h2m212,0h2m-273,2h2m215,0h2m-277,2h2m237,0h2m51,0h2m-104,3h2m73,0h2m9,1h2m0,0h2m-288,1h2m323,2h2m-138,3h2m152,0h2m-46,1h2m-18,1h2m69,1h2m-354,2h2m271,0h2m84,0h2m-273,1h2m156,1h2m35,2h2m5,0h2m10,0h2m-119,1h2m149,0h2m-148,3h2m8,2h2m44,0h2m35,1h2m54,0h2m-3,8h2m-225,4h2m177,3h2m7,0h2m-327,1h2m215,3h2m13,1h2m89,4h2m-86,3h2m47,0h2m54,0h2m-76,1h2m13,0h2m13,2h2m-8,2h2m-162,3h2m-1,0h2m178,1h2m-14,1h2m19,2h2m-12,4h2m12,0h2m-16,1h2m-53,1h2m30,1h2m-42,1h2m46,2h2m-214,4h2m25,3h2m-28,4h2m-11,2h2m-56,1h2m-281,1h2m363,0h2m-265,1h2m481,5h2m-632,2h2m101,1h2m328,0h2m-53,2h2m-64,7h2m87,5h2m-42,13h2m-239,7h2m330,11h2m-12,22h2m-10,10h2m-95,7h2m66,21h2m78,0h2m-101,10h2m-9,10h2m-295,2h2m35,7h2m413,2h2m-210,4h2m-302,82h2m-50,32h2m-35,16h2m537,1h2m-170,19h2m74,8h2m-31,3h2m31,1h2m-20,2h2m12,0h2m-3,7h2m-217,2h2m208,8h2m-31,6h2m28,13h2m-31,6h2m-50,9h2m39,7h2m6,2h2m-117,105h2" stroke="#A79A9C" stroke-width="2" fill="none"/>
<path d="M0,0m1730,292h2m-8,9h2m-56,7h2m-36,19h2m126,0h2m-66,2h2m-23,25h2m7,8h2m103,6h2m-117,1h2m177,1h2m-104,38h2m88,19h2m-48,9h2m-72,9h2m-7,9h2m-1401,2h2m1349,0h2m-12,10h2m-1101,12h2m-20,4h2m1145,65h2m-29,1h2m41,0h2m-233,31h2m202,1h2m-302,2h2m298,17h2m-2,1h2m-32,11h2m-217,1h2m241,1h2m-175,1h2m-86,1h2m-46,10h2m105,0h2m-61,4h2m17,1h2m-27,3h2m28,4h2m-41,2h2m-8,7h2m82,4h2m6,0h2m-102,1h2m117,1h2m17,8h2m-36,3h2m-226,2h2m198,2h2m-85,2h2m-110,8h2m116,4h2m99,1h2m-2,0h2m-65,1h2m30,11h2m-62,1h2m-116,2h2m78,2h2m24,1h2m43,1h2m30,1h2m-170,3h2m163,1h2m-75,1h2m-139,1h2m25,0h2m167,10h2m-77,1h2m96,1h2m-204,4h2m-19,1h2m67,0h2m145,1h2m14,0h2m55,8h2m-40,2h2m-69,1h2m95,0h2m-187,1h2m47,0h2m134,0h2m-90,1h2m65,1h2m-221,1h2m92,1h2m38,1h2m2,0h2m56,2h2m-200,1h2m281,3h2m-285,1h2m175,0h2m-50,1h2m111,0h2m-208,2h2m169,1h2m-46,2h2m-158,1h2m141,1h2m72,0h2m-108,1h2m85,0h2m-68,1h2m167,2h2m-174,1h2m187,0h2m-147,1h2m-80,1h2m11,2h2m-117,1h2m60,0h2m97,0h2m114,0h2m-183,3h2m35,1h2m47,0h2m-12,4h2m-24,1h2m66,1h2m-117,2h2m50,0h2m151,5h2m-144,1h2m-119,1h2m87,0h2m-251,1h2m388,0h2m-205,1h2m28,0h2m-354,1h2m328,0h2m154,1h2m-266,2h2m55,0h2m-14,1h2m6,0h2m132,3h2m-113,1h2m102,0h2m-162,1h2m185,0h2m-42,3h2m52,5h2m30,0h2m-54,1h2m-69,1h2m-36,6h2m-34,1h2m4,1h2m90,0h2m-17,1h2m5,0h2m26,0h2m-73,1h2m6,0h2m120,0h2m-122,1h2m73,0h2m-104,1h2m32,0h2m129,3h2m28,2h2m-38,2h2m-158,2h2m119,0h2m8,0h2m-38,1h2m-6,2h2m43,0h2m-118,1h2m166,0h2m-147,1h2m28,0h2m1,0h2m78,0h2m-198,5h2m180,0h2m-185,2h2m43,1h2m115,0h2m-61,1h2m0,0h2m-120,1h2m100,0h2m90,4h2m27,1h2m-138,2h2m3,0h2m99,0h2m-143,2h2m-86,1h2m117,1h2m115,0h2m-73,2h2m-554,4h2m493,3h2m55,0h2m36,1h2m23,1h2m-143,3h2m-107,1h2m9,0h2m90,0h2m-51,1h2m121,0h2m-144,1h2m86,1h2m-28,1h2m45,1h2m5,1h2m-52,1h2m11,0h2m-3,3h2m-12,6h2m228,0h2m-197,1h2m179,1h2m8,0h2m-311,3h2m119,1h2m33,0h2m-16,3h2m-119,2h2m150,1h2m-76,2h2m34,0h2m78,0h2m-222,2h2m116,0h2m-93,1h2m278,0h2m-162,1h2m-9,2h2m15,0h2m9,0h2m157,0h2m-268,1h2m-82,1h2m195,0h2m2,0h2m48,1h2m-138,1h2m-18,1h2m218,0h2m-123,2h2m120,1h2m-248,2h2m-35,1h2m102,0h2m5,0h2m74,2h2m113,1h2m-325,4h2m52,0h2m237,0h2m19,3h2m-136,1h2m158,1h2m-420,1h2m57,0h2m47,1h2m9,1h2m-67,1h2m247,0h2m73,1h2m2,0h2m28,1h2m-166,2h2m-65,2h2m240,0h2m-372,1h2m191,0h2m166,1h2m-306,1h2m92,0h2m164,0h2m-289,1h2m111,2h2m14,0h2m97,0h2m-2,1h2m18,0h2m99,0h2m-16,1h2m-411,1h2m88,0h2m43,0h2m200,1h2m-243,1h2m125,0h2m130,0h2m16,0h2m13,0h2m-34,1h2m-227,1h2m150,0h2m105,0h2m-108,1h2m115,1h2m0,2h2m-236,2h2m-62,3h2m57,0h2m163,0h2m-152,2h2m260,3h2m-362,2h2m303,0h2m-292,5h2m268,1h2m41,1h2m-319,1h2m22,0h2m272,0h2m-53,1h2m6,0h2m-251,1h2m213,0h2m27,0h2m-240,1h2m31,0h2m211,0h2m-176,1h2m148,0h2m116,0h2m-284,1h2m207,0h2m2,0h2m-76,2h2m33,0h2m-110,1h2m153,1h2m16,1h2m37,0h2m-217,1h2m132,1h2m-77,2h2m134,0h2m4,0h2m-99,1h2m44,0h2m-183,1h2m165,0h2m72,0h2m-112,1h2m49,0h2m-267,1h2m286,0h2m44,2h2m-349,1h2m331,0h2m-117,1h2m-379,3h2m228,0h2m25,3h2m94,0h2m95,3h2m47,2h2m-57,1h2m-21,1h2m-78,1h2m46,0h2m-239,1h2m-293,7h2m499,1h2m92,0h2m-445,1h2m450,0h2m-145,3h2m34,0h2m46,0h2m-87,4h2m-118,1h2m158,1h2m-107,1h2m210,1h2m-617,4h2m393,1h2m221,3h2m-41,1h2m-95,2h2m41,1h2m-200,1h2m227,1h2m21,0h2m32,2h2m-618,1h2m605,1h2m-262,1h2m231,0h2m-214,6h2m-25,2h2m234,1h2m34,2h2m30,5h2m-116,13h2m-411,6h2m2,2h2m329,0h2m-334,4h2m300,1h2m173,1h2m-170,4h2m-449,4h2m78,0h2m-57,9h2m131,4h2m-191,2h2m169,0h2m-185,1h2m127,6h2m2,1h2m22,20h2m317,2h2m-92,34h2m-254,7h2m240,9h2m-319,9h2m592,15h2m-405,1h2m-80,8h2m467,10h2m-125,20h2m-372,9h2m433,3h2m-402,15h2m388,1h2m-585,63h2m425,8h2m20,9h2m27,2h2m-41,14h2m-265,18h2m11,28h2m193,1h2" stroke="#B07A66" stroke-width="2" fill="none"/>
<path d="M0,0m1670,266h2m-41,10h2m74,23h2m-1274,10h2m1268,4h2m78,6h2m-1299,12h2m1355,1h2m-156,1h2m-1190,2h2m-4,1h2m1324,0h2m-188,1h2m139,0h2m-49,1h2m-1270,5h2m1279,4h2m-1296,1h2m1288,3h2m-1245,1h2m1151,0h2m172,4h2m-3,1h2m-49,2h2m-1298,2h2m1358,3h2m-117,3h2m99,0h2m-28,7h2m47,0h2m-1349,3h2m-6,2h2m1344,0h2m-29,4h2m-1304,4h2m1358,1h2m-112,2h2m106,2h2m-1519,3h2m1342,0h2m-1193,2h2m26,0h2m1135,2h2m-1205,1h2m-4,2h2m1195,0h2m60,1h2m-70,1h2m130,0h2m-62,1h2m-1251,6h2m1207,1h2m139,1h2m-59,1h2m-82,1h2m-1331,3h2m1307,0h2m22,1h2m-1263,1h2m1250,2h2m-1151,1h2m120,3h2m1027,2h2m-1129,2h2m1258,1h2m-1255,2h2m1259,1h2m-175,1h2m42,0h2m-1335,2h2m196,3h2m-177,1h2m1274,5h2m72,0h2m15,1h2m-1347,3h2m1272,3h2m-1244,3h2m123,0h2m1219,1h2m-1312,1h2m3,1h2m79,2h2m1262,1h2m-97,4h2m-1209,1h2m1131,4h2m-1055,2h2m-46,1h2m1228,1h2m-1238,3h2m1245,0h2m-1196,1h2m1068,5h2m2,0h2m-1056,4h2m-39,4h2m-19,2h2m1126,6h2m-38,1h2m15,4h2m22,3h2m-1156,1h2m29,2h2m1,1h2m1123,4h2m-72,4h2m-13,3h2m-1012,1h2m1109,20h2m-93,11h2m-1021,6h2m20,16h2m579,3h2m407,1h2m-249,6h2m74,0h2m-25,6h2m209,1h2m-427,5h2m148,4h2m-115,1h2m100,0h2m-146,1h2m251,3h2m44,3h2m-95,1h2m27,1h2m-188,3h2m270,11h2m-97,2h2m-49,4h2m-115,5h2m95,0h2m236,3h2m-324,2h2m-156,4h2m77,3h2m2,5h2m169,0h2m-117,7h2m186,1h2m-99,2h2m-170,7h2m288,1h2m-61,3h2m-294,1h2m88,1h2m277,2h2m-56,1h2m-71,2h2m-202,3h2m225,2h2m47,0h2m-173,1h2m51,0h2m-111,1h2m57,1h2m-154,4h2m183,0h2m138,4h2m-222,1h2m46,2h2m-140,2h2m197,3h2m-205,2h2m129,0h2m18,1h2m-174,1h2m118,1h2m-20,6h2m162,2h2m-224,1h2m195,1h2m62,0h2m-253,1h2m200,0h2m95,0h2m9,0h2m-169,1h2m188,8h2m-320,1h2m291,1h2m7,4h2m-203,3h2m57,1h2m-465,1h2m629,1h2m-4,1h2m-11,1h2m-46,2h2m-17,1h2m-262,3h2m280,1h2m-357,1h2m350,3h2m91,1h2m-261,3h2m199,2h2m-24,6h2m-67,6h2m129,0h2m-70,7h2m-147,2h2m-265,1h2m92,0h2m292,0h2m82,0h2m-634,1h2m-10,8h2m669,2h2m-252,1h2m7,1h2m53,1h2m-375,3h2m361,0h2m23,1h2m-61,1h2m165,0h2m-241,2h2m114,0h2m144,2h2m-431,2h2m432,0h2m34,0h2m-77,4h2m41,6h2m-203,2h2m115,0h2m6,0h2m-36,1h2m75,1h2m-606,3h2m438,0h2m47,1h2m-261,2h2m302,0h2m-294,1h2m-25,2h2m342,0h2m-520,2h2m81,2h2m267,0h2m84,0h2m126,0h2m-518,1h2m-25,1h2m-2,0h2m34,0h2m248,0h2m110,1h2m-53,1h2m82,2h2m55,2h2m-218,2h2m139,0h2m146,0h2m-648,2h2m579,0h2m-451,1h2m336,1h2m-76,1h2m229,0h2m-183,1h2m81,0h2m40,0h2m-521,1h2m-31,1h2m502,2h2m-394,4h2m-139,1h2m625,1h2m-37,2h2m-607,3h2m416,0h2m196,1h2m-550,4h2m255,1h2m2,1h2m157,0h2m-275,3h2m131,2h2m31,0h2m99,0h2m57,0h2m-505,4h2m251,2h2m-241,1h2m235,1h2m14,0h2m284,1h2m-153,2h2m-8,3h2m-249,2h2m210,1h2m-52,1h2m54,0h2m-59,1h2m-120,5h2m207,1h2m260,0h2m-384,2h2m282,1h2m-412,1h2m317,1h2m-242,2h2m222,0h2m96,0h2m134,0h2m-534,1h2m70,0h2m185,1h2m30,0h2m198,0h2m-132,2h2m-65,4h2m-1,2h2m-194,1h2m293,1h2m-43,3h2m-75,1h2m54,0h2m-40,5h2m77,0h2m-238,3h2m191,0h2m187,0h2m-231,2h2m-28,1h2m273,1h2m-208,2h2m88,2h2m-245,1h2m146,0h2m-144,1h2m-43,1h2m39,0h2m183,0h2m-62,1h2m-46,3h2m232,0h2m-37,4h2m-15,3h2m-100,2h2m184,2h2m-55,1h2m-216,1h2m141,0h2m-160,1h2m226,1h2m-154,3h2m143,2h2m13,1h2m-243,1h2m44,1h2m151,2h2m3,4h2m50,1h2m-38,8h2m4,2h2m-150,5h2m177,0h2m-2,1h2m25,0h2m-6,1h2m-31,4h2m-49,2h2m-250,2h2m308,0h2m18,1h2m-30,4h2m-415,1h2m90,0h2m3,4h2m255,1h2m20,0h2m-378,1h2m220,0h2m86,0h2m131,0h2m-196,1h2m161,0h2m-317,3h2m134,1h2m192,2h2m-15,4h2m-500,2h2m222,2h2m250,0h2m-24,4h2m-2,1h2m-411,1h2m193,1h2m-213,3h2m-64,3h2m566,0h2m-633,2h2m473,0h2m-296,2h2m431,0h2m-547,3h2m344,1h2m-42,1h2m-167,3h2m417,0h2m-444,1h2m453,0h2m-260,1h2m-223,1h2m174,0h2m-306,1h2m17,1h2m-29,2h2m565,0h2m-408,2h2m84,2h2m340,1h2m-322,4h2m38,1h2m314,0h2m-564,1h2m527,3h2m-5,4h2m-521,3h2m530,0h2m-364,1h2m-106,1h2m490,0h2m-674,1h2m607,7h2m-46,1h2m-44,1h2m118,1h2m-469,2h2m-110,1h2m526,0h2m-226,1h2m-407,5h2m638,1h2m-504,3h2m330,0h2m-10,1h2m234,0h2m-702,1h2m73,1h2m361,1h2m-372,2h2m420,1h2m212,1h2m-647,1h2m69,0h2m21,0h2m43,0h2m246,0h2m-307,1h2m445,0h2m-243,4h2m-245,3h2m345,4h2m-28,3h2m24,4h2m126,1h2m-454,2h2m205,1h2m116,6h2m56,0h2m-310,2h2m155,10h2m38,0h2m27,3h2m102,0h2m81,0h2m8,0h2m13,3h2m-512,1h2m375,2h2m-104,2h2m0,0h2m-266,1h2m274,2h2m-83,1h2m127,10h2m60,1h2m106,1h2m-461,5h2m301,2h2m83,4h2m-6,3h2m79,4h2m-490,3h2m30,12h2m459,0h2m-561,1h2m413,0h2m-334,12h2m339,3h2m99,0h2m-42,5h2m6,4h2m-102,2h2m27,2h2m62,0h2m-61,2h2m-25,1h2m-462,3h2m553,0h2m43,0h2m-179,2h2m148,2h2m-109,1h2m68,2h2m-57,11h2m-3,4h2m-30,2h2m-423,1h2m146,0h2m-223,3h2m197,6h2m331,0h2m57,1h2m34,0h2m-579,2h2m44,6h2m-66,6h2m-24,1h2m-59,2h2m631,0h2m-23,8h2m-1,12h2m-15,5h2m-151,3h2m-425,1h2m418,10h2m-354,12h2m-4,1h2m439,10h2m-60,5h2m75,0h2m-512,2h2m486,7h2m-257,5h2m-17,5h2m112,10h2m121,5h2m-38,2h2m-132,2h2m173,4h2m-118,4h2m-2,9h2m35,1h2m-111,14h2m42,13h2m6,73h2" stroke="#B9C544" stroke-width="2" fill="none"/>
<path d="M0,0m1620,307h2m56,5h2m82,8h2m-110,29h2m80,3h2m-29,8h2m98,6h2m-114,22h2m-33,6h2m41,0h2m14,13h2m127,3h2m-1360,3h2m1229,17h2m-1260,1h2m1369,3h2m-99,11h2m82,3h2m-1260,1h2m66,12h2m-58,9h2m1062,43h2m-994,20h2m-5,3h2m999,3h2m29,8h2m-210,3h2m243,7h2m-1124,9h2m1052,23h2m-121,1h2m126,5h2m-185,9h2m-12,9h2m2,0h2m70,1h2m-10,1h2m-134,5h2m89,7h2m-27,6h2m-21,1h2m85,1h2m-142,5h2m30,1h2m92,1h2m-97,1h2m5,0h2m-136,12h2m168,0h2m-20,8h2m-62,2h2m103,1h2m2,0h2m-104,10h2m-166,1h2m203,8h2m3,0h2m15,1h2m12,3h2m-24,1h2m-84,6h2m34,5h2m8,0h2m51,5h2m-91,3h2m-15,2h2m126,3h2m-94,3h2m3,1h2m101,1h2m-180,1h2m179,0h2m-209,1h2m41,3h2m8,0h2m53,4h2m93,4h2m151,0h2m-73,3h2m-404,2h2m94,0h2m-75,2h2m226,0h2m23,4h2m32,2h2m-71,2h2m14,2h2m27,0h2m26,0h2m38,1h2m-37,1h2m-92,6h2m63,0h2m-18,5h2m-78,3h2m33,1h2m73,1h2m-165,2h2m60,2h2m66,0h2m124,0h2m-175,3h2m-12,1h2m-105,1h2m254,1h2m-142,4h2m51,2h2m48,0h2m-149,2h2m204,0h2m-227,2h2m227,0h2m-290,2h2m201,0h2m-105,1h2m105,0h2m85,1h2m-132,1h2m95,1h2m-181,2h2m22,2h2m-27,2h2m129,0h2m-54,2h2m-46,1h2m52,1h2m8,2h2m-34,2h2m95,0h2m-34,1h2m-92,1h2m31,1h2m9,0h2m-31,1h2m-87,3h2m84,0h2m80,0h2m-110,1h2m107,0h2m-206,1h2m81,2h2m-270,1h2m248,1h2m177,2h2m19,1h2m-192,2h2m10,0h2m-30,2h2m23,0h2m140,0h2m-105,1h2m91,1h2m-178,2h2m-69,3h2m168,3h2m-124,2h2m80,1h2m-83,3h2m43,0h2m-47,3h2m-15,1h2m51,1h2m32,0h2m-7,1h2m-46,1h2m129,0h2m19,0h2m6,0h2m-174,2h2m132,1h2m-52,1h2m-40,1h2m46,0h2m-133,1h2m100,0h2m81,0h2m-77,1h2m9,1h2m-31,1h2m-155,3h2m138,1h2m7,1h2m29,0h2m92,0h2m-92,1h2m-61,1h2m-223,2h2m182,1h2m-64,1h2m168,1h2m-177,4h2m129,1h2m44,6h2m-1,0h2m-20,2h2m21,0h2m-2,0h2m142,0h2m11,0h2m-126,4h2m-28,2h2m11,0h2m-139,4h2m123,0h2m-153,1h2m-8,2h2m30,1h2m102,0h2m163,0h2m-318,2h2m300,1h2m-449,4h2m336,1h2m131,0h2m-321,1h2m213,1h2m-381,1h2m275,2h2m36,0h2m-29,3h2m105,1h2m99,1h2m-114,1h2m106,0h2m-160,1h2m3,0h2m43,0h2m-92,2h2m24,0h2m151,2h2m-17,1h2m-204,2h2m8,0h2m81,2h2m-16,1h2m121,1h2m-345,1h2m218,0h2m148,2h2m-263,1h2m78,0h2m75,0h2m75,2h2m-151,2h2m39,0h2m130,0h2m-283,1h2m27,4h2m86,1h2m63,1h2m123,0h2m-130,2h2m-172,1h2m89,0h2m-181,1h2m160,0h2m134,0h2m3,1h2m-177,1h2m-15,1h2m208,1h2m16,0h2m-54,2h2m67,0h2m-252,1h2m-21,1h2m303,3h2m11,0h2m-308,1h2m233,1h2m-4,1h2m-199,1h2m218,0h2m44,0h2m-332,2h2m-1,0h2m228,0h2m30,0h2m-246,2h2m307,0h2m-126,2h2m2,1h2m80,0h2m-40,4h2m-246,2h2m45,0h2m210,1h2m-152,1h2m68,1h2m95,3h2m-565,3h2m496,0h2m-115,1h2m210,0h2m-15,2h2m-177,1h2m227,1h2m-345,1h2m89,0h2m224,0h2m-10,4h2m-124,2h2m-81,2h2m-43,2h2m230,1h2m-54,2h2m39,0h2m-118,3h2m149,0h2m-101,7h2m82,0h2m-338,5h2m7,1h2m-146,5h2m271,9h2m23,1h2m82,0h2m-391,2h2m328,0h2m142,1h2m-78,6h2m6,0h2m-226,1h2m329,3h2m-14,2h2m-124,1h2m-61,1h2m103,0h2m-234,1h2m306,0h2m-263,3h2m-394,2h2m282,5h2m197,1h2m178,1h2m-94,3h2m62,0h2m-13,4h2m-300,2h2m38,2h2m-302,10h2m384,2h2m-114,3h2m-382,3h2m522,1h2m-158,16h2m-232,7h2m496,3h2m-53,4h2m9,0h2m-197,1h2m-266,1h2m391,4h2m39,14h2m-346,3h2m316,12h2m-65,4h2m-401,10h2m503,1h2m-170,13h2m-15,1h2m72,2h2m-326,19h2m321,8h2m-12,50h2m55,4h2m16,15h2m-376,1h2m-167,21h2m435,64h2m-25,38h2m19,0h2m-26,1h2m-128,9h2m135,6h2" stroke="#DC3A2C" stroke-width="2" fill="none"/>
<path d="M0,0m1412,1376h2" stroke="#5A74C8" stroke-width="2" fill="none"/>
<path d="M0,0m549,456h2m789,294h2m157,37h2m-470,43h2m357,44h2m302,131h2m-59,36h2m-223,25h2m-206,338h2" stroke="#6AA84E" stroke-width="2" fill="none"/>
<path d="M0,0m1677,326h2m54,22h2m-3,8h2m-489,282h2m246,39h2m-6,1h2m58,88h2m-170,111h2m2,0h2m-5,8h2m-166,19h2m308,79h2m143,1h2m6,0h2m-3,1h2m9,3h2m-8,1h2m-10,7h2m-251,56h2m-10,4h2m8,2h2m-379,5h2m-5,10h2m325,85h2m162,179h2m5,3h2m-132,34h2m-2,8h2m29,9h2m-1,0h2m-9,10h2" stroke="#93403C" stroke-width="2" fill="none"/>
<path d="M0,0m1485,676h2m-81,72h2m-31,51h2m20,74h2" stroke="#9A8298" stroke-width="2" fill="none"/>
<path d="M0,0m1456,645h2m28,41h2m-56,371h2m-292,63h2" stroke="#B9C544" stroke-width="2" fill="none"/>
<path d="M0,0m1676,329h2m5,6h2m56,11h2m-9,1h2m4,4h2m-1273,66h2m1280,13h2m-1247,2h2m1248,0h2m-45,4h2m1,0h2m-1,0h2m-4,2h2m-10,3h2m12,0h2m-15,6h2m-1167,7h2m3,1h2m0,1h2m-4,1h2m-1,4h2m-8,2h2m-11,3h2m1130,70h2m-3,2h2m6,0h2m-2,0h2m-11,1h2m8,1h2m1,0h2m2,1h2m-5,1h2m-6,4h2m-1,0h2m-214,82h2m-161,1h2m-68,12h2m216,0h2m-216,3h2m208,0h2m1,0h2m0,0h2m-2,0h2m-219,1h2m220,0h2m-8,1h2m8,0h2m1,0h2m-19,1h2m182,0h2m-1,0h2m-186,1h2m181,0h2m-197,1h2m7,1h2m-1,0h2m11,0h2m3,0h2m-22,1h2m-6,1h2m28,0h2m-9,1h2m168,1h2m-175,1h2m-19,2h2m14,0h2m0,0h2m-17,1h2m0,0h2m15,0h2m-21,2h2m4,0h2m-24,1h2m25,0h2m-10,1h2m-5,1h2m8,1h2m27,9h2m-10,2h2m4,0h2m-3,1h2m-5,1h2m6,0h2m-8,1h2m-5,3h2m-1,0h2m-2,0h2m7,1h2m-2,0h2m-11,3h2m9,1h2m-9,1h2m3,0h2m-7,1h2m-7,2h2m7,1h2m-11,3h2m19,0h2m-100,41h2m-1,1h2m-11,1h2m9,4h2m-5,1h2m-271,7h2m-11,1h2m210,0h2m0,1h2m-210,1h2m199,0h2m-8,2h2m223,13h2m-3,2h2m-7,1h2m60,12h2m-7,1h2m8,0h2m-1,4h2m-128,1h2m-1,2h2m-1,1h2m0,6h2m-111,1h2m-3,2h2m-424,2h2m413,0h2m-414,3h2m478,15h2m-5,2h2m-4,1h2m-407,2h2m-3,7h2m483,6h2m1,1h2m-133,37h2m1,0h2m-18,1h2m7,0h2m1,0h2m2,2h2m2,2h2m-6,1h2m-11,1h2m6,0h2m-7,2h2m-8,1h2m4,0h2m-169,17h2m5,1h2m-19,2h2m15,0h2m-9,2h2m-4,1h2m14,0h2m-11,1h2m1,0h2m0,2h2m-18,1h2m9,3h2m-17,3h2m8,1h2m249,32h2m0,2h2m-8,5h2m-1,0h2m112,9h2m0,3h2m-2,1h2m1,2h2m-11,3h2m-4,3h2m6,2h2m10,0h2m91,0h2m-95,1h2m6,0h2m91,0h2m-97,1h2m72,0h2m0,0h2m6,0h2m-163,1h2m-2,0h2m-2,2h2m-2,0h2m75,1h2m66,0h2m0,0h2m8,0h2m9,0h2m-15,1h2m-62,1h2m68,0h2m-172,2h2m151,0h2m14,1h2m3,0h2m-177,1h2m177,0h2m-181,1h2m10,0h2m157,0h2m-166,1h2m98,0h2m46,0h2m14,0h2m-22,1h2m0,0h2m-52,1h2m53,0h2m13,0h2m-67,1h2m44,0h2m-2,0h2m19,0h2m-19,1h2m9,0h2m-59,1h2m51,0h2m6,0h2m-27,1h2m11,0h2m-19,1h2m22,0h2m-9,2h2m-29,1h2m-10,4h2m8,2h2m12,1h2m2,3h2m-35,18h2m0,0h2m0,1h2m3,0h2m-11,2h2m-10,4h2m13,1h2m-223,1h2m213,1h2m44,2h2m-264,1h2m267,0h2m-62,1h2m-210,1h2m261,0h2m-275,1h2m279,0h2m-275,1h2m5,1h2m255,0h2m13,1h2m-288,1h2m1,0h2m-379,1h2m375,1h2m-375,3h2m372,0h2m-377,1h2m378,0h2m5,0h2m-6,2h2m2,0h2m-384,1h2m373,0h2m-384,2h2m8,0h2m-1,1h2m-17,1h2m1,1h2m8,1h2m-1,2h2m-15,1h2m4,0h2m-2,1h2m1,0h2m-12,1h2m3,1h2m94,36h2m2,0h2m-2,1h2m1,3h2m-4,2h2m-2,1h2m-12,2h2m6,0h2m-2,1h2m351,7h2m-10,3h2m-101,25h2m0,1h2m-4,1h2m-11,1h2m9,2h2m-5,6h2m248,56h2m0,0h2m-4,1h2m-9,2h2m-483,8h2m-7,6h2m-4,3h2m-3,4h2m3,0h2m461,33h2m-619,26h2m-6,1h2m2,0h2m-6,1h2m8,2h2m-15,4h2m558,29h2m-13,3h2m-128,24h2m-15,1h2m16,1h2m-21,3h2m1,0h2m2,1h2m20,1h2m-29,1h2m4,1h2m-11,1h2m47,0h2m-43,1h2m14,1h2m-19,1h2m-1,0h2m35,1h2m-48,2h2m20,0h2m-19,1h2m14,0h2m9,0h2m13,0h2m-41,1h2m-1,0h2m4,0h2m7,0h2m17,0h2m6,0h2m-28,1h2m18,0h2m-43,1h2m48,2h2m-48,1h2m8,1h2m13,0h2m6,0h2m-34,1h2m18,0h2m22,0h2m-1,1h2m-29,1h2m22,0h2m-51,1h2m18,0h2m24,0h2m-227,1h2m225,0h2m-229,1h2m212,0h2m7,0h2m-23,1h2m7,0h2m-14,1h2m13,0h2m6,0h2m3,0h2m-226,1h2m223,0h2m-24,1h2m-215,1h2m0,1h2m208,0h2m-2,1h2" stroke="#DC3A2C" stroke-width="2" fill="none"/>
<path d="M0,0m1631,297h3m-989,197h3m759,233h3m218,18h3m-13,31h3m-219,3h3m99,40h3m-435,52h3m351,45h3m-41,24h3m142,26h3m-61,1h3m-75,9h3m206,73h3m-180,35h3m-333,17h3m69,4h3m351,35h3m-388,41h3m6,35h3m204,156h3" stroke="#5A74C8" stroke-width="3" fill="none"/>
<path d="M0,0m1687,253h3m-38,11h3m-1121,54h3m-69,10h3m-33,22h3m85,10h3m1311,1h3m-1364,5h3m1187,2h3m92,0h3m26,10h3m-80,19h3m-1164,18h3m1165,1h3m-58,20h3m14,63h3m-45,56h3m10,13h3m-486,81h3m288,6h3m-49,10h3m-22,9h3m-4,18h3m13,7h3m16,16h3m-286,12h3m260,0h3m14,1h3m-4,3h3m-534,8h3m331,8h3m44,1h3m176,0h3m-18,3h3m173,17h3m-251,9h3m-211,9h3m313,19h3m-66,8h3m18,2h3m-56,5h3m75,5h3m53,1h3m2,21h3m-2,1h3m-77,10h3m-128,1h3m185,5h3m-172,1h3m79,3h3m-158,1h3m152,0h3m-4,2h3m-62,1h3m58,1h3m-262,2h3m46,12h3m123,7h3m137,1h3m-305,6h3m453,3h3m-252,1h3m-102,5h3m245,1h3m-97,7h3m-80,2h3m10,1h3m3,0h3m96,1h3m-119,17h3m239,8h3m-79,9h3m12,11h3m72,3h3m-222,5h3m-226,36h3m-97,3h3m560,0h3m-347,20h3m-206,2h3m477,3h3m-15,6h3m100,0h3m-6,11h3m-188,2h3m-118,1h3m103,4h3m-75,5h3m51,2h3m-250,7h3m149,6h3m328,0h3m-601,8h3m13,10h3m69,1h3m-128,1h3m-79,3h3m179,3h3m448,4h3m31,6h3m-8,39h3m-110,1h3m-427,5h3m-3,27h3m22,11h3m281,0h3m-262,12h3m421,47h3m6,13h3m-567,19h3m552,5h3m-22,6h3m-40,24h3m-567,42h3m408,0h3m20,11h3m19,21h3m-91,8h3m76,15h3" stroke="#6AA84E" stroke-width="3" fill="none"/>
<path d="M0,0m1779,383h3m-105,18h3m-1008,26h3m1102,6h3m60,22h3m-1222,17h3m-78,32h3m1153,23h3m-41,36h3m-145,24h3m-73,23h3m25,39h3m-90,4h3m58,13h3m-17,12h3m-19,32h3m78,13h3m-113,11h3m111,4h3m-20,2h3m21,7h3m20,3h3m121,3h3m-536,1h3m240,7h3m126,4h3m20,2h3m-100,1h3m80,5h3m-216,7h3m110,3h3m67,11h3m43,4h3m51,2h3m-184,13h3m-32,3h3m101,9h3m4,9h3m-143,7h3m52,3h3m37,3h3m90,10h3m-148,5h3m27,8h3m-282,2h3m344,5h3m-110,6h3m-21,4h3m77,7h3m-53,2h3m32,5h3m-11,1h3m83,0h3m-110,1h3m-9,1h3m-72,6h3m-92,10h3m114,3h3m257,2h3m-348,8h3m234,0h3m150,1h3m-362,1h3m156,3h3m58,4h3m-121,2h3m173,2h3m80,16h3m-271,7h3m180,10h3m95,2h3m-17,1h3m41,2h3m-229,12h3m-60,2h3m-96,10h3m252,8h3m85,1h3m-98,2h3m-9,6h3m-134,1h3m0,2h3m192,0h3m-9,43h3m-175,3h3m-57,26h3m68,21h3m-288,6h3m494,8h3m-499,25h3m211,58h3m248,14h3m-322,189h3" stroke="#8C8A3C" stroke-width="3" fill="none"/>
<path d="M0,0m1650,274h3m-1217,52h3m1291,10h3m-19,24h3m-49,10h3m-1226,1h3m1270,12h3m18,4h3m25,4h3m-60,1h3m45,7h3m58,2h3m-119,17h3m-1235,5h3m1225,22h3m-40,9h3m47,7h3m-1071,103h3m1042,1h3m-44,29h3m12,1h3m-138,11h3m-43,6h3m181,3h3m-133,2h3m124,0h3m-173,3h3m-15,8h3m-48,2h3m184,0h3m-125,2h3m13,2h3m-31,2h3m-63,3h3m203,5h3m-205,1h3m43,4h3m32,1h3m-81,3h3m64,13h3m-32,7h3m-30,1h3m-48,1h3m96,8h3m-237,4h3m156,9h3m-70,10h3m55,3h3m68,2h3m-189,1h3m28,2h3m114,6h3m-46,8h3m-278,1h3m321,7h3m-153,3h3m27,0h3m289,3h3m-225,2h3m-114,1h3m19,3h3m9,1h3m258,4h3m-153,4h3m97,1h3m-85,4h3m1,0h3m96,4h3m-124,2h3m-59,4h3m127,2h3m-116,2h3m-47,2h3m148,5h3m-177,2h3m242,1h3m-93,1h3m-183,2h3m21,1h3m149,4h3m40,7h3m-187,2h3m0,0h3m80,0h3m36,0h3m-19,2h3m45,0h3m4,4h3m-147,3h3m31,2h3m100,1h3m-67,5h3m-23,1h3m-86,12h3m116,8h3m-184,3h3m147,1h3m9,0h3m23,0h3m-456,1h3m389,3h3m128,0h3m-21,1h3m-159,3h3m161,1h3m21,4h3m-117,1h3m68,3h3m-33,2h3m-46,1h3m-1,0h3m3,0h3m-7,1h3m26,1h3m-123,3h3m46,3h3m22,0h3m87,0h3m-92,1h3m-188,6h3m163,1h3m-73,3h3m-44,5h3m194,5h3m-19,1h3m-142,2h3m85,3h3m90,2h3m-35,1h3m-51,1h3m-65,8h3m34,1h3m208,0h3m-354,1h3m122,0h3m100,0h3m121,1h3m-29,1h3m23,1h3m-237,3h3m-78,2h3m90,1h3m78,1h3m-50,1h3m93,0h3m88,0h3m-220,5h3m44,1h3m92,1h3m-154,2h3m93,1h3m-163,1h3m271,3h3m-202,1h3m239,1h3m-425,4h3m379,0h3m-356,1h3m5,0h3m85,4h3m-80,1h3m189,1h3m116,4h3m-225,2h3m114,0h3m-104,3h3m244,0h3m-189,1h3m165,3h3m-234,6h3m72,0h3m161,1h3m-305,4h3m343,0h3m13,0h3m-269,1h3m237,1h3m-103,2h3m112,1h3m-149,3h3m130,2h3m-303,1h3m312,1h3m-323,1h3m0,5h3m269,0h3m46,1h3m-94,1h3m-174,2h3m233,2h3m-26,1h3m-1,0h3m-11,3h3m-293,2h3m279,5h3m58,1h3m-243,1h3m153,1h3m-230,1h3m162,0h3m-228,8h3m249,0h3m94,5h3m-148,6h3m-80,16h3m189,14h3m-318,2h3m191,19h3m-131,12h3m307,9h3m-170,7h3m-352,7h3m243,38h3m100,34h3m-376,29h3m44,31h3m421,22h3m-598,1h3m364,84h3m78,15h3m-490,8h3m419,0h3m-402,8h3m407,16h3m-185,23h3m111,14h3" stroke="#93403C" stroke-width="3" fill="none"/>
<path d="M0,0m1801,385h3m-1207,113h3m51,38h3m818,667h3" stroke="#9A8298" stroke-width="3" fill="none"/>
<path d="M0,0m450,305h3m-31,132h3m1236,118h3m-418,8h3m437,34h3m-192,43h3m-331,7h3m331,9h3m-252,4h3m221,9h3m-49,6h3m52,6h3m-11,9h3m-21,2h3m36,3h3m-40,3h3m5,20h3m-117,7h3m124,0h3m37,2h3m-180,1h3m262,0h3m-96,8h3m-140,9h3m53,1h3m-67,1h3m260,2h3m-84,2h3m-46,3h3m-199,6h3m75,3h3m218,2h3m-87,6h3m-220,5h3m288,11h3m8,1h3m-272,7h3m222,15h3m-185,5h3m93,0h3m-87,1h3m13,3h3m-31,6h3m136,0h3m-221,1h3m17,0h3m-57,1h3m48,2h3m169,3h3m-160,5h3m118,8h3m1,3h3m-107,2h3m182,3h3m-207,5h3m173,2h3m8,1h3m-25,1h3m-74,1h3m-70,3h3m39,11h3m-94,3h3m280,3h3m-279,4h3m-275,3h3m339,1h3m40,3h3m-177,4h3m47,1h3m-18,2h3m75,7h3m118,0h3m91,6h3m-173,3h3m75,0h3m-144,2h3m94,4h3m-199,1h3m173,0h3m202,1h3m-119,2h3m-205,1h3m50,0h3m52,1h3m93,4h3m-186,3h3m56,0h3m-1,3h3m95,0h3m93,2h3m-62,3h3m-64,1h3m43,6h3m-274,2h3m96,0h3m35,3h3m229,6h3m-87,4h3m116,2h3m-74,2h3m24,0h3m-149,1h3m170,4h3m13,2h3m-130,8h3m62,3h3m29,3h3m-21,4h3m34,3h3m23,6h3m-19,4h3m-300,2h3m259,5h3m33,14h3m-61,1h3m36,1h3m10,0h3m-36,3h3m40,3h3m-252,10h3m-42,12h3m302,22h3m-371,18h3m292,0h3m-46,179h3m-123,85h3m-13,7h3m-43,8h3m-12,8h3m-4,24h3m49,1h3" stroke="#A79A9C" stroke-width="3" fill="none"/>
<path d="M0,0m1767,403h3m-1404,18h3m1483,9h3m-37,2h3m-1303,41h3m1137,20h3m-140,94h3m-69,4h3m-71,12h3m81,13h3m-29,5h3m18,2h3m37,1h3m-5,27h3m-52,3h3m-58,3h3m40,5h3m49,1h3m-5,1h3m-40,4h3m-8,23h3m-36,6h3m0,3h3m-125,27h3m97,6h3m108,4h3m-164,2h3m158,1h3m-34,6h3m-118,10h3m-34,15h3m109,4h3m-47,2h3m26,1h3m46,7h3m18,3h3m-70,5h3m22,3h3m45,0h3m-151,2h3m161,4h3m-205,2h3m154,3h3m-73,4h3m40,0h3m21,2h3m-1,2h3m-95,2h3m-3,8h3m121,0h3m-446,8h3m444,3h3m-184,5h3m63,2h3m101,4h3m-62,16h3m57,1h3m2,7h3m-48,5h3m-75,3h3m34,2h3m-60,1h3m98,3h3m-22,4h3m-3,7h3m-146,3h3m-191,1h3m119,1h3m75,0h3m298,0h3m-264,1h3m62,4h3m-94,3h3m137,0h3m41,5h3m-104,1h3m3,2h3m-58,1h3m-23,1h3m59,0h3m29,4h3m-65,1h3m224,8h3m-301,1h3m119,2h3m12,5h3m143,6h3m-70,11h3m94,0h3m-27,6h3m75,3h3m-259,7h3m258,8h3m-7,1h3m-99,4h3m-54,23h3m111,0h3m-114,8h3m-2,1h3m100,4h3m-197,20h3m62,0h3m-413,12h3m326,0h3m46,25h3m216,0h3m-36,4h3m-270,25h3m225,18h3m-501,15h3m465,2h3m-64,93h3m-509,1h3m110,5h3m262,124h3m52,16h3m-15,11h3m-20,20h3m-229,2h3" stroke="#B07A66" stroke-width="3" fill="none"/>
<path d="M0,0m1697,303h3m-41,14h3m75,9h3m-112,9h3m-1222,19h3m1383,11h3m44,15h3m-1307,27h3m1335,3h3m-210,31h3m-12,15h3m-1036,28h3m1091,30h3m-44,6h3m-1105,19h3m1084,3h3m-1099,12h3m41,18h3m19,0h3m851,5h3m169,2h3m-225,1h3m231,3h3m-141,10h3m130,6h3m-247,10h3m-17,3h3m-140,7h3m-103,20h3m377,2h3m-75,3h3m-44,49h3m-116,5h3m110,1h3m-566,8h3m407,26h3m256,4h3m125,2h3m-287,1h3m129,10h3m-288,5h3m84,8h3m93,1h3m159,5h3m-224,3h3m148,0h3m-332,11h3m271,5h3m-564,11h3m235,5h3m181,4h3m25,1h3m237,4h3m-624,10h3m212,0h3m400,3h3m-33,15h3m-48,5h3m-145,10h3m150,2h3m-479,2h3m157,0h3m281,0h3m21,6h3m-569,11h3m459,16h3m-57,7h3m-150,9h3m319,0h3m-349,7h3m447,1h3m-217,6h3m-102,11h3m-11,1h3m40,4h3m255,4h3m39,8h3m-103,18h3m-83,8h3m95,2h3m-258,18h3m267,4h3m48,0h3m-95,15h3m-249,14h3m284,16h3m-267,4h3m126,7h3m69,2h3m-109,9h3m31,0h3m-155,1h3m-177,2h3m283,0h3m-323,2h3m224,7h3m-288,11h3m-19,19h3m159,6h3m-26,14h3m189,5h3m239,2h3m-152,6h3m-276,12h3m-77,56h3m64,11h3m440,4h3m-133,27h3m-11,36h3m130,5h3m-634,11h3m579,8h3m-526,28h3m515,12h3m-546,33h3m299,17h3m-120,9h3m148,1h3m46,13h3m-81,9h3m-16,7h3m-2,67h3" stroke="#B9C544" stroke-width="3" fill="none"/>
<path d="M0,0m540,367h3m1177,55h3m-69,115h3m-18,99h3m-152,2h3m-57,11h3m-20,3h3m55,2h3m-11,10h3m2,4h3m9,12h3m-65,2h3m-14,1h3m54,0h3m-39,4h3m-120,14h3m-72,1h3m184,5h3m72,6h3m42,15h3m59,3h3m-123,4h3m96,2h3m-338,13h3m353,1h3m-245,1h3m32,5h3m52,2h3m-47,10h3m154,0h3m12,0h3m-340,1h3m219,3h3m20,4h3m100,4h3m-123,4h3m88,1h3m-37,6h3m-236,1h3m-404,1h3m673,1h3m8,6h3m-204,4h3m75,3h3m86,0h3m-127,3h3m55,1h3m-64,4h3m3,3h3m59,2h3m44,3h3m19,3h3m-117,6h3m-148,5h3m72,7h3m164,12h3m-113,3h3m-50,1h3m52,1h3m56,1h3m4,2h3m-117,5h3m60,20h3m-3,1h3m-11,2h3m-202,7h3m281,11h3m-75,2h3m143,4h3m-330,13h3m156,8h3m-1,1h3m30,4h3m-139,6h3m249,2h3m-249,2h3m25,4h3m26,5h3m222,6h3m11,0h3m-281,8h3m279,1h3m-23,1h3m-166,4h3m135,3h3m-262,20h3m216,0h3m63,0h3m8,1h3m-287,8h3m263,3h3m-31,11h3m-57,10h3m51,17h3m54,0h3m-509,3h3m502,4h3m-258,3h3m-203,26h3m-61,1h3m424,6h3m-549,5h3m37,30h3m554,36h3m-496,63h3m-109,32h3m-51,41h3m559,63h3m-104,21h3m-9,14h3m7,2h3m-37,3h3" stroke="#DC3A2C" stroke-width="3" fill="none"/>
<path d="M0,0m1240,642h3m214,7h3m152,137h3m68,214h3m-274,382h3" stroke="#5A74C8" stroke-width="3" fill="none"/>
<path d="M0,0m1460,649h3m-6,4h3m34,134h3m-272,127h3m353,61h3m101,21h3m-35,14h3m-608,60h3m97,171h3" stroke="#6AA84E" stroke-width="3" fill="none"/>
<path d="M0,0m1735,351h3m-281,302h3m-2,3h3m23,26h3m-146,71h3m268,35h3m-581,39h3m482,11h3m-138,42h3m1,1h3m-5,1h3m-164,29h3m354,64h3m101,20h3m-35,15h3m-8,30h3m-225,12h3m206,171h3m-228,156h3m-2,3h3m-3,0h3m-1,2h3m-1,1h3m22,8h3m0,0h3m-3,0h3m0,1h3m-232,9h3" stroke="#93403C" stroke-width="3" fill="none"/>
<path d="M0,0m1710,442h3m-372,310h3m302,286h3m-221,19h3m-21,325h3m-3,0h3" stroke="#9A8298" stroke-width="3" fill="none"/>
<path d="M0,0m1710,441h3m-1169,17h3m910,195h3m-3,1h3m31,28h3m-7,4h3m-103,194h3m-169,34h3m203,141h3m-286,62h3m347,14h3m-503,179h3m416,73h3m7,15h3m-2,3h3" stroke="#B9C544" stroke-width="3" fill="none"/>
<path d="M0,0m1680,327h3m-3,1h3m-3,1h3m-4,1h3m50,19h3m-2,1h3m-2,0h3m-3,1h3m-3,0h3m-4,1h3m0,0h3m-4,2h3m-1387,60h3m-2,0h3m112,7h3m1278,10h3m-1,0h3m-1249,1h3m1242,0h3m-40,6h3m-5,2h3m-1,0h3m-4,1h3m-2,0h3m-1171,15h3m-3,2h3m-1,0h3m1119,82h3m-2,0h3m-5,1h3m-2,0h3m-2,2h3m-2,0h3m-2,0h3m-7,1h3m-369,85h3m-5,1h3m-1,0h3m-5,1h3m154,17h3m1,0h3m-7,1h3m-6,1h3m-3,0h3m180,0h3m-185,1h3m-1,0h3m-2,0h3m-2,0h3m-2,0h3m-7,1h3m-2,0h3m-3,0h3m-2,0h3m-2,0h3m1,0h3m-2,0h3m-13,1h3m-3,0h3m0,0h3m-2,0h3m-3,0h3m-3,0h3m-3,0h3m-3,0h3m-3,0h3m-2,0h3m-3,0h3m-3,0h3m-7,1h3m-1,0h3m-2,0h3m2,0h3m-2,0h3m-14,1h3m1,0h3m-2,0h3m-3,0h3m-2,0h3m-4,2h3m0,0h3m23,23h3m1,0h3m-2,0h3m-9,1h3m-2,0h3m2,0h3m-10,1h3m-1,0h3m-3,0h3m0,0h3m-3,0h3m-2,0h3m-2,0h3m-3,0h3m-6,1h3m-1,0h3m0,0h3m-8,1h3m1,0h3m-8,1h3m-88,53h3m-2,0h3m-3,0h3m-3,0h3m-1,0h3m-7,1h3m-273,8h3m-1,1h3m203,5h3m-2,0h3m-2,0h3m-5,1h3m-3,1h3m207,14h3m62,15h3m-3,0h3m-4,1h3m-3,0h3m-121,1h3m-2,0h3m114,0h3m-123,1h3m0,0h3m114,0h3m-123,1h3m-2,0h3m-117,12h3m-422,3h3m-3,0h3m-2,1h3m475,16h3m-3,0h3m-408,6h3m0,0h3m-5,1h3m-2,0h3m479,12h3m0,0h3m-137,40h3m0,0h3m-9,1h3m-2,0h3m-2,0h3m-3,0h3m-3,1h3m-3,0h3m-2,0h3m-3,0h3m-3,0h3m-3,0h3m-2,0h3m-3,0h3m-1,0h3m-8,1h3m-167,28h3m-2,0h3m-2,0h3m-9,1h3m1,0h3m0,0h3m-7,1h3m-2,0h3m-3,0h3m-3,0h3m-2,0h3m-2,0h3m-7,1h3m-1,0h3m-2,0h3m-7,1h3m0,0h3m-2,0h3m-1,0h3m-6,1h3m245,41h3m108,15h3m-5,1h3m0,0h3m-5,1h3m0,0h3m-5,1h3m-2,0h3m-5,2h3m17,8h3m-2,0h3m-4,1h3m-76,2h3m-4,2h3m-2,0h3m0,0h3m-8,1h3m0,0h3m-3,0h3m149,1h3m3,0h3m-9,1h3m0,0h3m1,1h3m-2,0h3m-12,1h3m1,0h3m-3,0h3m-3,0h3m-2,0h3m-2,0h3m-8,1h3m-3,0h3m-2,0h3m-2,0h3m-2,0h3m-3,0h3m-2,0h3m-3,0h3m-3,0h3m-3,0h3m-2,0h3m-58,1h3m-3,0h3m-3,0h3m-3,0h3m50,0h3m0,0h3m-59,1h3m50,0h3m-2,0h3m1,0h3m-12,1h3m-2,0h3m2,0h3m-1,0h3m-3,1h3m-7,1h3m0,0h3m-38,7h3m-3,0h3m-2,0h3m-3,1h3m-1,0h3m-2,0h3m-9,1h3m-1,1h3m0,0h3m-11,27h3m-3,1h3m-6,1h3m-2,0h3m-3,1h3m-1,0h3m-3,2h3m45,9h3m-3,0h3m-3,0h3m-3,1h3m-273,1h3m-2,0h3m0,0h3m262,0h3m-270,1h3m-3,0h3m-3,1h3m-3,0h3m-3,0h3m-2,0h3m-3,0h3m-2,0h3m-6,1h3m-2,0h3m-3,0h3m-3,0h3m0,0h3m-5,1h3m-4,1h3m-1,0h3m-382,7h3m-3,1h3m-3,0h3m-6,1h3m-1,0h3m-2,0h3m-4,1h3m-2,0h3m-3,0h3m-3,0h3m-3,0h3m-3,0h3m-3,0h3m-3,0h3m-2,0h3m-3,0h3m-6,1h3m-3,0h3m-3,0h3m-2,0h3m-2,0h3m0,0h3m86,45h3m-3,1h3m-2,0h3m-4,1h3m-2,0h3m-1,0h3m-8,2h3m1,0h3m346,12h3m-3,0h3m-2,0h3m-2,0h3m-3,1h3m-3,0h3m-2,0h3m-3,1h3m-112,29h3m-2,0h3m-2,1h3m-5,1h3m-2,0h3m-3,0h3m-1,1h3m245,59h3m-4,2h3m0,1h3m-493,16h3m-3,0h3m-160,67h3m-3,1h3m-2,0h3m-2,0h3m545,33h3m-4,1h3m-3,1h3m-1,1h3m-135,31h3m-1,1h3m0,0h3m-7,1h3m0,0h3m-10,1h3m2,0h3m0,0h3m-2,0h3m-12,1h3m-2,0h3m-1,0h3m-2,0h3m-2,0h3m-2,0h3m1,0h3m-12,1h3m-3,0h3m-2,0h3m-2,0h3m-3,0h3m-3,0h3m-2,0h3m-3,0h3m-3,0h3m-2,0h3m-2,0h3m-2,0h3m-10,1h3m-1,0h3m-2,0h3m-3,0h3m0,0h3m-8,1h3m0,0h3m-2,0h3m2,0h3m-12,1h3m2,0h3m-2,0h3m-6,1h3m-3,0h3m27,5h3m-4,1h3m-2,0h3m-3,0h3m-3,1h3m-2,0h3m-2,0h3m-1,0h3m-8,1h3m-1,0h3m-2,0h3m-3,0h3m-3,0h3m-2,0h3m-2,0h3m-3,0h3m-5,1h3m-1,0h3m-1,0h3m-9,1h3m1,0h3m-26,4h3m-1,1h3m-213,2h3" stroke="#DC3A2C" stroke-width="3" fill="none"/>
</g>
<use href="#clcoast"/>
<use href="#clout" stroke-width="1.5"/>
<use href="#fringe"/>
<path d="M720.8,701.9 L728.8,700.8 L732.3,705.4 L728.8,711.2 L723.1,710Z" fill="#6a6a6a"/></g>
<g id="panel-b" transform="translate(1013,0)"><use href="#cn"/>
<use href="#cl-TNS" fill="#E6BFA5"/>
<use href="#cl-HC" fill="#E6BFA5"/>
<use href="#cl-SCL" fill="#DA9C80"/>
<use href="#cl-LX" fill="#E6BFA5"/>
<use href="#cl-CZYRN" fill="#E6BFA5"/>
<use href="#cl-HE" fill="#DA9C80"/>
<use href="#cl-CS" fill="#E6BFA5"/>
<use href="#cl-GP" fill="#DA9C80"/>
<use href="#cl-CP" fill="#DA9C80"/>
<use href="#cl-BTH" fill="#E6BFA5"/>
<use href="#cl-SP" fill="#DA9C80"/>
<use href="#cl-MYD" fill="#DA9C80"/>
<use href="#cl-YRD" fill="#DA9C80"/>
<use href="#cl-GFZC" fill="#CC7B5E"/>
<use href="#cl-PRD" fill="#CC7B5E"/>
<use href="#cl-BG" fill="#CC7B5E"/>
<use href="#cl-CC" fill="#CC7B5E"/>
<use href="#cl-QZ" fill="#DA9C80"/>
<use href="#cl-CY" fill="#DA9C80"/>
<path d="M240.5,181.5 L233.3,191.5 L230.4,204.5 L231.8,214.6 L239,210.3 L240.5,201.6 L246.2,191.5 L254.9,184.3 L257.7,176.3 L247.7,174.3Z" fill="#DA9C80"/>
<path d="M272.1,216 L270.7,227.5 L263.5,233.3 L259.2,240.5 L266.4,243.4 L275,241.9 L283.7,244.8 L289.4,240.5 L292.3,234.7 L280.8,230.4 L276.5,221.8 L282.2,207.4 L273.6,205.9Z" fill="#DA9C80"/>
<path d="M867,161.4 L862.3,168.3 L861.2,177.6 L856.6,184.5 L867,189.1 L877.3,193.7 L878.5,200.6 L886.5,198.3 L893.5,207.5 L898.1,198.3 L906.1,182.2 L907.3,168.3 L916.5,158 L914.2,147.6 L895.8,152.2 L871.6,155.7Z" fill="#DA9C80"/>
<path d="M860,197.1 L852,199.4 L842.8,205.2 L842.8,214.4 L838.2,221.3 L847.4,228.2 L852,225.9 L858.9,228.2 L867,230.6 L865.8,219 L870.4,212.1 L870.4,205.2 L878.5,200.6 L877.3,193.7 L867,189.1Z" fill="#DA9C80"/>
<path d="M870.4,205.2 L870.4,212.1 L865.8,219 L867,230.6 L875,239.8 L886.5,237.5 L890.9,235.4 L895.8,235.2 L893.5,228.2 L895.8,219 L893.5,207.5 L886.5,198.3 L878.5,200.6Z" fill="#DA9C80"/>
<path d="M833.5,239.8 L834.7,251.3 L835.8,261.7 L845.1,262.8 L855.4,253.6 L858.9,244.4 L852,237.5 L848.5,244.4 L840.5,237.5 L833.5,234Z" fill="#E6BFA5"/>
<path d="M828.9,285.9 L834.7,292.8 L839.3,288.2 L841.6,281.2 L835.8,276.6 L826.6,278.9Z" fill="#E6BFA5"/>
<path d="M713.5,328.3 L718.1,334.1 L728.4,334.1 L729.6,342.2 L734.2,351.4 L737.6,354.8 L743.4,352.5 L750.3,351.4 L752.9,344.9 L752.9,343.5 L753.6,343.1 L754.9,339.9 L752.6,328.3 L748,319.1 L743.4,316.8 L738.8,307.6 L729.6,303 L720.4,307.6 L715.8,316.8Z" fill="#DA9C80"/>
<path d="M691.6,371 L695,379 L704.2,379 L711.1,375.6 L716.9,372.1 L713.5,364.1 L704.2,361.8 L695,356 L687.4,358.2 L687.2,358.4 L687,362.7 L685.7,365.1 L684.6,364.1Z" fill="#DA9C80"/>
<path d="M628.2,346.8 L623.6,353.7 L614.4,367.5 L609.8,376.7 L598.2,384.8 L589,382.5 L583.3,377.9 L582.2,381.4 L581.8,382.2 L579.8,388.2 L581,399.8 L586.7,402.1 L589,395.2 L595.9,392.9 L599.4,395.2 L602.9,397.5 L609.8,394 L612.5,390.9 L615.5,388.2 L622.4,389.4 L626,392.3 L628.2,396.3 L635.1,397.5 L636.9,391.5 L636.9,389.6 L638.6,385.9 L635.1,372.1 L636.4,368 L639.7,365.2 L639.8,360.5 L640.4,357.9 L640.7,359.2 L642,351.4 L643.2,344.5Z" fill="#E6BFA5"/>
<path d="M636.3,374.4 L638.6,385.9 L636.4,397.2 L639.1,396.6 L642.1,398.1 L646.6,398.6 L657,392.9 L662.8,385.9 L669.7,382.5 L674.3,374.4 L667.4,368.7 L657,369.8 L654.7,364.1 L646.6,360.6 L642,362.9Z" fill="#DA9C80"/>
<path d="M559.1,372.1 L563.7,379 L568.3,385.9 L572.9,381.3 L568.3,372.1 L566,362.9 L559.6,361.9 L559.1,362.9Z" fill="#DA9C80"/>
<path d="M472.7,402.1 L475,411.3 L483,414.7 L487.6,411.3 L487.6,397.5 L483,390.6 L472.7,389.4Z" fill="#CC7B5E"/>
<path d="M508.4,415.9 L519.9,421.7 L526.8,428.6 L532.6,420.5 L532.6,412.4 L524.5,411.3 L522.2,404.4 L511.9,400.3 L509.7,401.3 L506.1,402.1 L505.8,401.8 L502.6,403.2Z" fill="#DA9C80"/>
<path d="M591.3,466.6 L595.1,465.3 L598.9,464.9 L602.9,465.4 L609.8,467.7 L607.5,473.5 L611,475.7 L614.4,478.1 L628.2,479.3 L632.7,477.8 L637.4,478.1 L642.5,476.3 L647.8,477 L646.6,471.2 L639.7,457.4 L632.8,452.8 L625.9,457.4 L619,452.8 L614.4,448.2 L602.9,455.1 L591.3,457.4Z" fill="#CC7B5E"/>
<path d="M568.9,403.2 L569,405.2 L568.5,408 L568.3,410.1 L575.2,414.7 L576.4,421.7 L574.1,427.4 L582.1,429.7 L591.3,434.3 L602.9,432 L605.2,427.4 L605.2,420.5 L603.5,416 L602.9,411.3 L595.9,406.7 L591.2,404.7 L586.7,402.1 L579.8,397.5 L569.4,397.5Z" fill="#E6BFA5"/>
<path d="M636.3,411.3 L637.4,422.8 L651.2,425.1 L662.8,425.1 L663.7,421.6 L665.1,418.2 L670.8,411.3 L666.6,409.4 L662.8,406.7 L661,402.3 L661.6,397.5 L658.6,400.1 L654.7,400.9 L650.5,400.2 L646.6,398.6 L642.8,399.9 L638.9,399.4 L635.1,398.6 L636.5,402.7 L635.8,405.6Z M654.7,400.9 L658.6,400 L661.6,397.5Z" fill="#E6BFA5"/>
<path d="M693,484.5 L702.2,485.7 L711.4,489.1 L718.3,484.5 L722.9,477.6 L716,473 L706.8,467.2 L695.3,469.5 L688.4,477.6Z" fill="#E6BFA5"/>
<path d="M731,463.8 L736.8,470.7 L746,474.1 L752.9,468.4 L748.3,459.2 L739.1,452.3 L729.9,454.6Z" fill="#E6BFA5"/>
<path d="M757.5,461.5 L766.7,466.1 L773.6,463.1 L774.5,462 L773.4,457.5 L773.4,454.4 L769.7,451.6 L766.4,450.5 L763.2,448.7 L760,448.6 L754.1,450Z" fill="#E6BFA5"/>
<path d="M683.8,450 L693,450 L701.1,445.3 L702.2,438.4 L690.7,437.3 L679.2,440.7Z" fill="#CC7B5E"/>
<path d="M689.3,396.3 L692.7,404.4 L701.9,407.8 L715.8,409 L725,413.6 L731.9,409 L738.8,399.8 L736.5,390.6 L725,385.9 L713.5,374.4 L701.9,376.7 L691.6,381.3Z" fill="#E6BFA5"/>
<path d="M749.4,375.7 L752.9,384.9 L759.8,387.2 L764.4,378 L762.1,366.5 L757.5,359.6 L750.6,361.9Z" fill="#E6BFA5"/>
<path d="M767.9,389.5 L771.3,398.8 L780.5,405.7 L789.8,401.1 L794.4,389.5 L787.5,380.3 L778.2,375.7 L769,382.6Z" fill="#E6BFA5"/>
<path d="M759.8,424.1 L766.7,433.3 L768.2,433.8 L770.1,431.8 L774,435 L780.5,426.4 L782.9,412.6 L778.2,401.1 L771.3,408 L762.1,412.6Z" fill="#E6BFA5"/>
<path d="M797.8,443 L798.5,447.6 L799,452.3 L803.6,459.2 L814,461.5 L817.4,470.7 L826.6,475.3 L833.5,484.5 L840.5,486.8 L849.7,485.7 L843.7,480.4 L843.3,480.3 L840.5,477.6 L831.2,470.7 L827.4,465.7 L826.1,465 L824.3,461.5 L821.2,455.3 L820.8,454.6 L820.7,454.2 L817.4,447.6 L810.5,435 L805.8,435.3 L804.9,435 L800.6,435 L799.6,436.7Z" fill="#E6BFA5"/>
<path d="M832.4,499.5 L834.7,505.3 L841.1,507.1 L844.6,504.4 L849.7,502.9 L850.4,500.5 L849.7,496 L835.8,492.6Z" fill="#CC7B5E"/>
<path d="M784,486.8 L787.5,493.7 L792.1,501.8 L799,502.9 L800.1,496 L795.5,489.1 L794.4,477.6 L787.5,475.3Z" fill="#CC7B5E"/>
<path d="M771.3,507.6 L775.9,512.2 L785.2,514.5 L790.9,507.6 L787.5,500.6 L773.6,501.8Z" fill="#CC7B5E"/>
<path d="M799,530.6 L794.4,542.1 L803.6,544.4 L812.8,539.8 L817.4,530.6 L826.6,526 L831.2,519.1 L817.4,516.8 L805.9,519.1Z" fill="#CC7B5E"/>
<path d="M810.5,544.4 L809.4,553.6 L812.6,555.4 L815.1,558.2 L822,555.9 L831.2,553.6 L835.8,544.4 L828.9,537.5 L817.4,535.2Z" fill="#CC7B5E"/>
<path d="M779.4,650.4 L778.2,661.9 L782.9,668.8 L789.8,659.6 L799,650.4 L794.4,641.2 L787.5,636.6 L778.2,641.2Z" fill="#DA9C80"/>
<path d="M792.1,558.2 L799,562.9 L805.9,558.2 L808.2,549 L803.8,547.4 L803.5,547.4 L799,545.6 L787.5,546.7Z" fill="#DA9C80"/>
<path d="M837,523.7 L840.5,530.6 L835.8,539.8 L840.5,549 L845.1,557.1 L852,555.9 L854.3,549 L852.3,544.6 L852,539.8 L852.8,535.1 L854.3,530.6 L852,521.4 L838.2,516.8Z" fill="#DA9C80"/>
<path d="M711.4,521.4 L706.8,528.3 L711.4,535.2 L702.2,542.1 L697.6,549 L686.1,553.6 L688.4,562.9 L683.8,572.1 L674.6,581.3 L679.2,588.2 L683.8,595.1 L679.2,602 L671.1,606.6 L669.9,611.2 L674.6,613.5 L679.2,615.9 L680.8,619.8 L681.5,623.9 L690.7,622.8 L695,619.8 L699.9,618.2 L701,614.7 L702.2,611.2 L705.7,614.7 L708.9,616.8 L711.4,620.5 L715.2,620.7 L718.3,622.8 L727.6,620.5 L736.8,615.9 L739.1,608.9 L748.3,604.3 L752.9,599.7 L748.3,595.1 L743.7,589.4 L748.3,581.3 L752.9,574.4 L755.4,571.6 L758.7,569.8 L757.5,560.6 L755.2,551.3 L755.9,547.7 L757.5,544.4 L748.3,539.8 L734.5,535.2 L722.9,528.3 L725.2,519.1 L716,512.2 L706.8,514.5Z" fill="#CC7B5E"/>
<path d="M678,587.1 L686.1,587.1 L697.6,584.7 L709.1,582.4 L714.9,579 L714.9,573.2 L706.8,570.9 L695.3,572.1 L686.1,575.5 L676.9,579 L673.4,583.6Z" fill="#BF5C42"/>
<path d="M725.2,590.5 L734.5,588.2 L739.1,581.3 L732.2,579 L722.9,581.3Z" fill="#DA9C80"/>
<path d="M519.2,526.8 L528.4,536 L535.3,538.3 L539.9,531.4 L533,522.2 L522.9,515.5 L522.8,515.6 L522.5,515.8Z" fill="#DA9C80"/>
<path d="M544.5,540.6 L551.4,545.3 L556,538.3 L552.6,529.1 L544.5,526.8Z" fill="#DA9C80"/>
<path d="M567.6,544.1 L576.8,545.3 L581.4,538.3 L574.5,531.4 L562.9,533.7Z" fill="#DA9C80"/>
<path d="M503,554.5 L507.6,559.1 L514.6,552.2 L526.1,556.8 L530.7,549.9 L523.8,542.9 L507.6,547.6Z" fill="#DA9C80"/>
<path d="M533,559.1 L539.9,566 L549.1,561.4 L553.7,552.2 L546.8,545.3 L533,547.6Z" fill="#DA9C80"/>
<path d="M564.1,616.7 L567.6,623.6 L574.5,628.2 L576.8,621.3 L583.7,616.7 L586,607.5 L576.8,605.2 L568.7,607.5Z" fill="#CC7B5E"/>
<path d="M492.7,644.3 L489.2,653.5 L488.1,663.9 L493.8,666.2 L500.7,660.5 L507.6,665.1 L515.7,662.8 L509.9,655.9 L512.3,644.3 L508.8,635.1 L505.3,625.9 L490.4,628.2Z" fill="#CC7B5E"/>
<path d="M597.5,697.3 L603.3,704.2 L609,712.3 L618.2,707.7 L627.5,705.4 L633.2,701.9 L629.7,697.5 L629,696.9 L626.5,693.7 L624,690.4 L621.1,687.9 L620.9,686.2 L618.2,682.4 L610.2,676.6 L606.7,681.2 L602.9,683 L598.7,683.5 L596.6,687.6 L594.8,689 L592.9,691.6Z" fill="#BF5C42"/>
<path d="M618.2,782.6 L621.7,788.3 L629.8,787.2 L629.8,780.3 L625.2,773.4 L618.2,778Z" fill="#E6BFA5"/>
<path d="M639,771.1 L643.6,768.8 L642.4,761.8 L636.7,763Z" fill="#E6BFA5"/>
<path d="M654,769.9 L659.7,766.5 L657.4,759.5 L649.4,760.7Z" fill="#BF5C42"/>
<path d="M724.2,700.8 L724.5,700.7 L726.5,697.3 L729.8,695.9 L728.8,693.9 L719.6,695Z" fill="#A8402A"/>
<use href="#holes" fill="#fff"/>
<path d="M720.8,701.9 L728.8,700.8 L732.3,705.4 L728.8,711.2 L723.1,710Z" fill="#6a6a6a"/>
<use href="#vor" fill="none" stroke="#80655a" stroke-width="0.7" stroke-linejoin="round"/>
<path d="M240.5,181.5 L233.3,191.5 L230.4,204.5 L231.8,214.6 L239,210.3 L240.5,201.6 L246.2,191.5 L254.9,184.3 L257.7,176.3 L247.7,174.3Z M272.1,216 L270.7,227.5 L263.5,233.3 L259.2,240.5 L266.4,243.4 L275,241.9 L283.7,244.8 L289.4,240.5 L292.3,234.7 L280.8,230.4 L276.5,221.8 L282.2,207.4 L273.6,205.9Z M867,161.4 L862.3,168.3 L861.2,177.6 L856.6,184.5 L867,189.1 L877.3,193.7 L878.5,200.6 L886.5,198.3 L893.5,207.5 L898.1,198.3 L906.1,182.2 L907.3,168.3 L916.5,158 L914.2,147.6 L895.8,152.2 L871.6,155.7Z M860,197.1 L852,199.4 L842.8,205.2 L842.8,214.4 L838.2,221.3 L847.4,228.2 L852,225.9 L858.9,228.2 L867,230.6 L865.8,219 L870.4,212.1 L870.4,205.2 L878.5,200.6 L877.3,193.7 L867,189.1Z M870.4,205.2 L870.4,212.1 L865.8,219 L867,230.6 L875,239.8 L886.5,237.5 L890.9,235.4 L895.8,235.2 L893.5,228.2 L895.8,219 L893.5,207.5 L886.5,198.3 L878.5,200.6Z M833.5,239.8 L834.7,251.3 L835.8,261.7 L845.1,262.8 L855.4,253.6 L858.9,244.4 L852,237.5 L848.5,244.4 L840.5,237.5 L833.5,234Z M828.9,285.9 L834.7,292.8 L839.3,288.2 L841.6,281.2 L835.8,276.6 L826.6,278.9Z M713.5,328.3 L718.1,334.1 L728.4,334.1 L729.6,342.2 L734.2,351.4 L737.6,354.8 L743.4,352.5 L750.3,351.4 L752.9,344.9 L752.9,343.5 L753.6,343.1 L754.9,339.9 L752.6,328.3 L748,319.1 L743.4,316.8 L738.8,307.6 L729.6,303 L720.4,307.6 L715.8,316.8Z M691.6,371 L695,379 L704.2,379 L711.1,375.6 L716.9,372.1 L713.5,364.1 L704.2,361.8 L695,356 L687.4,358.2 L687.2,358.4 L687,362.7 L685.7,365.1 L684.6,364.1Z M628.2,346.8 L623.6,353.7 L614.4,367.5 L609.8,376.7 L598.2,384.8 L589,382.5 L583.3,377.9 L582.2,381.4 L581.8,382.2 L579.8,388.2 L581,399.8 L586.7,402.1 L589,395.2 L595.9,392.9 L599.4,395.2 L602.9,397.5 L609.8,394 L612.5,390.9 L615.5,388.2 L622.4,389.4 L626,392.3 L628.2,396.3 L635.1,397.5 L636.9,391.5 L636.9,389.6 L638.6,385.9 L635.1,372.1 L636.4,368 L639.7,365.2 L639.8,360.5 L640.4,357.9 L640.7,359.2 L642,351.4 L643.2,344.5Z M636.3,374.4 L638.6,385.9 L636.4,397.2 L639.1,396.6 L642.1,398.1 L646.6,398.6 L657,392.9 L662.8,385.9 L669.7,382.5 L674.3,374.4 L667.4,368.7 L657,369.8 L654.7,364.1 L646.6,360.6 L642,362.9Z M559.1,372.1 L563.7,379 L568.3,385.9 L572.9,381.3 L568.3,372.1 L566,362.9 L559.6,361.9 L559.1,362.9Z M472.7,402.1 L475,411.3 L483,414.7 L487.6,411.3 L487.6,397.5 L483,390.6 L472.7,389.4Z M508.4,415.9 L519.9,421.7 L526.8,428.6 L532.6,420.5 L532.6,412.4 L524.5,411.3 L522.2,404.4 L511.9,400.3 L509.7,401.3 L506.1,402.1 L505.8,401.8 L502.6,403.2Z M591.3,466.6 L595.1,465.3 L598.9,464.9 L602.9,465.4 L609.8,467.7 L607.5,473.5 L611,475.7 L614.4,478.1 L628.2,479.3 L632.7,477.8 L637.4,478.1 L642.5,476.3 L647.8,477 L646.6,471.2 L639.7,457.4 L632.8,452.8 L625.9,457.4 L619,452.8 L614.4,448.2 L602.9,455.1 L591.3,457.4Z M568.9,403.2 L569,405.2 L568.5,408 L568.3,410.1 L575.2,414.7 L576.4,421.7 L574.1,427.4 L582.1,429.7 L591.3,434.3 L602.9,432 L605.2,427.4 L605.2,420.5 L603.5,416 L602.9,411.3 L595.9,406.7 L591.2,404.7 L586.7,402.1 L579.8,397.5 L569.4,397.5Z M636.3,411.3 L637.4,422.8 L651.2,425.1 L662.8,425.1 L663.7,421.6 L665.1,418.2 L670.8,411.3 L666.6,409.4 L662.8,406.7 L661,402.3 L661.6,397.5 L658.6,400.1 L654.7,400.9 L650.5,400.2 L646.6,398.6 L642.8,399.9 L638.9,399.4 L635.1,398.6 L636.5,402.7 L635.8,405.6Z M654.7,400.9 L658.6,400 L661.6,397.5Z M693,484.5 L702.2,485.7 L711.4,489.1 L718.3,484.5 L722.9,477.6 L716,473 L706.8,467.2 L695.3,469.5 L688.4,477.6Z M731,463.8 L736.8,470.7 L746,474.1 L752.9,468.4 L748.3,459.2 L739.1,452.3 L729.9,454.6Z M757.5,461.5 L766.7,466.1 L773.6,463.1 L774.5,462 L773.4,457.5 L773.4,454.4 L769.7,451.6 L766.4,450.5 L763.2,448.7 L760,448.6 L754.1,450Z M683.8,450 L693,450 L701.1,445.3 L702.2,438.4 L690.7,437.3 L679.2,440.7Z M689.3,396.3 L692.7,404.4 L701.9,407.8 L715.8,409 L725,413.6 L731.9,409 L738.8,399.8 L736.5,390.6 L725,385.9 L713.5,374.4 L701.9,376.7 L691.6,381.3Z M749.4,375.7 L752.9,384.9 L759.8,387.2 L764.4,378 L762.1,366.5 L757.5,359.6 L750.6,361.9Z M767.9,389.5 L771.3,398.8 L780.5,405.7 L789.8,401.1 L794.4,389.5 L787.5,380.3 L778.2,375.7 L769,382.6Z M759.8,424.1 L766.7,433.3 L768.2,433.8 L770.1,431.8 L774,435 L780.5,426.4 L782.9,412.6 L778.2,401.1 L771.3,408 L762.1,412.6Z M797.8,443 L798.5,447.6 L799,452.3 L803.6,459.2 L814,461.5 L817.4,470.7 L826.6,475.3 L833.5,484.5 L840.5,486.8 L849.7,485.7 L843.7,480.4 L843.3,480.3 L840.5,477.6 L831.2,470.7 L827.4,465.7 L826.1,465 L824.3,461.5 L821.2,455.3 L820.8,454.6 L820.7,454.2 L817.4,447.6 L810.5,435 L805.8,435.3 L804.9,435 L800.6,435 L799.6,436.7Z M832.4,499.5 L834.7,505.3 L841.1,507.1 L844.6,504.4 L849.7,502.9 L850.4,500.5 L849.7,496 L835.8,492.6Z M784,486.8 L787.5,493.7 L792.1,501.8 L799,502.9 L800.1,496 L795.5,489.1 L794.4,477.6 L787.5,475.3Z M771.3,507.6 L775.9,512.2 L785.2,514.5 L790.9,507.6 L787.5,500.6 L773.6,501.8Z M799,530.6 L794.4,542.1 L803.6,544.4 L812.8,539.8 L817.4,530.6 L826.6,526 L831.2,519.1 L817.4,516.8 L805.9,519.1Z M810.5,544.4 L809.4,553.6 L812.6,555.4 L815.1,558.2 L822,555.9 L831.2,553.6 L835.8,544.4 L828.9,537.5 L817.4,535.2Z M779.4,650.4 L778.2,661.9 L782.9,668.8 L789.8,659.6 L799,650.4 L794.4,641.2 L787.5,636.6 L778.2,641.2Z M792.1,558.2 L799,562.9 L805.9,558.2 L808.2,549 L803.8,547.4 L803.5,547.4 L799,545.6 L787.5,546.7Z M837,523.7 L840.5,530.6 L835.8,539.8 L840.5,549 L845.1,557.1 L852,555.9 L854.3,549 L852.3,544.6 L852,539.8 L852.8,535.1 L854.3,530.6 L852,521.4 L838.2,516.8Z M711.4,521.4 L706.8,528.3 L711.4,535.2 L702.2,542.1 L697.6,549 L686.1,553.6 L688.4,562.9 L683.8,572.1 L674.6,581.3 L679.2,588.2 L683.8,595.1 L679.2,602 L671.1,606.6 L669.9,611.2 L674.6,613.5 L679.2,615.9 L680.8,619.8 L681.5,623.9 L690.7,622.8 L695,619.8 L699.9,618.2 L701,614.7 L702.2,611.2 L705.7,614.7 L708.9,616.8 L711.4,620.5 L715.2,620.7 L718.3,622.8 L727.6,620.5 L736.8,615.9 L739.1,608.9 L748.3,604.3 L752.9,599.7 L748.3,595.1 L743.7,589.4 L748.3,581.3 L752.9,574.4 L755.4,571.6 L758.7,569.8 L757.5,560.6 L755.2,551.3 L755.9,547.7 L757.5,544.4 L748.3,539.8 L734.5,535.2 L722.9,528.3 L725.2,519.1 L716,512.2 L706.8,514.5Z M678,587.1 L686.1,587.1 L697.6,584.7 L709.1,582.4 L714.9,579 L714.9,573.2 L706.8,570.9 L695.3,572.1 L686.1,575.5 L676.9,579 L673.4,583.6Z M725.2,590.5 L734.5,588.2 L739.1,581.3 L732.2,579 L722.9,581.3Z M519.2,526.8 L528.4,536 L535.3,538.3 L539.9,531.4 L533,522.2 L522.9,515.5 L522.8,515.6 L522.5,515.8Z M544.5,540.6 L551.4,545.3 L556,538.3 L552.6,529.1 L544.5,526.8Z M567.6,544.1 L576.8,545.3 L581.4,538.3 L574.5,531.4 L562.9,533.7Z M503,554.5 L507.6,559.1 L514.6,552.2 L526.1,556.8 L530.7,549.9 L523.8,542.9 L507.6,547.6Z M533,559.1 L539.9,566 L549.1,561.4 L553.7,552.2 L546.8,545.3 L533,547.6Z M564.1,616.7 L567.6,623.6 L574.5,628.2 L576.8,621.3 L583.7,616.7 L586,607.5 L576.8,605.2 L568.7,607.5Z M492.7,644.3 L489.2,653.5 L488.1,663.9 L493.8,666.2 L500.7,660.5 L507.6,665.1 L515.7,662.8 L509.9,655.9 L512.3,644.3 L508.8,635.1 L505.3,625.9 L490.4,628.2Z M597.5,697.3 L603.3,704.2 L609,712.3 L618.2,707.7 L627.5,705.4 L633.2,701.9 L629.7,697.5 L629,696.9 L626.5,693.7 L624,690.4 L621.1,687.9 L620.9,686.2 L618.2,682.4 L610.2,676.6 L606.7,681.2 L602.9,683 L598.7,683.5 L596.6,687.6 L594.8,689 L592.9,691.6Z M618.2,782.6 L621.7,788.3 L629.8,787.2 L629.8,780.3 L625.2,773.4 L618.2,778Z M639,771.1 L643.6,768.8 L642.4,761.8 L636.7,763Z M654,769.9 L659.7,766.5 L657.4,759.5 L649.4,760.7Z M724.2,700.8 L724.5,700.7 L726.5,697.3 L729.8,695.9 L728.8,693.9 L719.6,695Z" fill="none" stroke="#80655a" stroke-width="0.7" stroke-linejoin="round"/>
<use href="#clcoast"/>
<use href="#clout" stroke-width="1.5"/>
<use href="#fringe"/></g>
<g id="panel-c" transform="translate(2,873.5)"><use href="#cn"/>
<use href="#cl-TNS" fill="#A9C47A"/>
<use href="#cl-HC" fill="#A9C47A"/>
<use href="#cl-SCL" fill="#E0EC9E"/>
<use href="#cl-LX" fill="#A9C47A"/>
<use href="#cl-CZYRN" fill="#A9C47A"/>
<use href="#cl-HE" fill="#A9C47A"/>
<use href="#cl-CS" fill="#A9C47A"/>
<use href="#cl-GP" fill="#E0EC9E"/>
<use href="#cl-CP" fill="#E0EC9E"/>
<use href="#cl-BTH" fill="#E0EC9E"/>
<use href="#cl-SP" fill="#E0EC9E"/>
<use href="#cl-MYD" fill="#E0EC9E"/>
<use href="#cl-YRD" fill="#E9E79A"/>
<use href="#cl-GFZC" fill="#E0EC9E"/>
<use href="#cl-PRD" fill="#E9E79A"/>
<use href="#cl-BG" fill="#E9E79A"/>
<use href="#cl-CC" fill="#E0EC9E"/>
<use href="#cl-QZ" fill="#E0EC9E"/>
<use href="#cl-CY" fill="#E0EC9E"/>
<path d="M240.5,181.5 L233.3,191.5 L230.4,204.5 L231.8,214.6 L239,210.3 L240.5,201.6 L246.2,191.5 L254.9,184.3 L257.7,176.3 L247.7,174.3Z" fill="#E0EC9E"/>
<path d="M272.1,216 L270.7,227.5 L263.5,233.3 L259.2,240.5 L266.4,243.4 L275,241.9 L283.7,244.8 L289.4,240.5 L292.3,234.7 L280.8,230.4 L276.5,221.8 L282.2,207.4 L273.6,205.9Z" fill="#E0EC9E"/>
<path d="M270.7,250.6 L275.8,256.9 L277.1,257.8 L275.1,260 L272.7,264 L272.2,265 L273.6,270.7 L275,274.5 L275.2,276.9 L276.5,281.7 L282.6,283.5 L284.4,283.2 L288,285.1 L298.4,288.3 L298.8,288.3 L302.4,289.5 L317.6,293.1 L319.7,293.2 L320.1,293.4 L331.2,294.4 L331.6,289.7 L332.4,286.2 L332.6,285.1 L332.3,284.1 L331.4,281.4 L331.5,280.6 L329.7,273.6 L329.2,268.3 L328.6,266.4 L327.4,262.9 L328.3,259.2 L327.8,254.4 L328.3,252.8 L328.3,245.4 L303.8,244.2 L293.7,239.1 L283.7,244.8 L275,241.9 L267.8,243.4Z" fill="#72A05A"/>
<path d="M442.7,415.9 L443.3,420.6 L441.6,425.1 L445,432 L449.2,435.3 L453.1,438.9 L457.3,439.5 L461.6,439.7 L465.8,440.1 L469.7,442.7 L471.5,447 L471.8,447.7 L473.8,448.2 L469.2,434.3 L480.7,434.3 L485.3,427.4 L483,415.9 L473.8,399.8 L448.5,395.2 L447.3,396 L447,396.9 L443.9,399.8 L443.1,403.6 L441.9,404.7Z" fill="#72A05A"/>
<path d="M473.8,404.4 L480.7,414.7 L488.8,413.6 L488.8,399.8 L485.3,392.9 L475,390.6Z" fill="#E0EC9E"/>
<path d="M508.4,415.9 L519.9,421.7 L529.1,429.7 L532.6,422.8 L533.7,413.6 L522.2,409 L510.7,402.1 L503.8,403.2Z" fill="#E0EC9E"/>
<path d="M541.7,395.6 L542.1,396 L544.1,398.5 L548.7,402.1 L552.2,411.3 L555.4,414.5 L556,414.2 L559.1,411.3 L563,409.7 L563.7,409 L556.8,399.8 L560.2,392.9 L559.1,385.9 L547.6,387.1 L538.3,390.6Z" fill="#72A05A"/>
<path d="M559.1,372.1 L563.7,379 L568.3,385.9 L572.9,381.3 L568.3,372.1 L566,362.9 L559.6,361.9 L559.1,362.9Z" fill="#E0EC9E"/>
<path d="M610.9,293.8 L615.5,303 L617,306.4 L617.2,308.2 L619,313.4 L614.4,318 L614.4,322.6 L628.2,326 L639.7,328.3 L647.8,339.9 L651.8,338.7 L655.8,339.9 L658.6,333.1 L658.6,332 L660.5,328.3 L659.4,323.8 L659.3,319.1 L655.8,309.9 L644.3,303 L637.3,290.7 L636.9,290.2 L635.1,286.9 L632.4,283.3 L630.5,279.2 L628.2,275.3 L619,278.6 L616.3,280.1 L612.1,281.1Z" fill="#E0EC9E"/>
<path d="M658.2,379 L665.1,381.3 L672,374.4 L676.6,365.2 L665.1,369.8 L653.5,373.3Z" fill="#E9E79A"/>
<path d="M568.9,403.2 L569,405.2 L568.5,408 L568.3,410.1 L575.2,414.7 L576.4,421.7 L574.1,427.4 L582.1,429.7 L591.3,434.3 L602.9,432 L605.2,427.4 L605.2,420.5 L603.5,416 L602.9,411.3 L595.9,406.7 L591.2,404.7 L586.7,402.1 L579.8,397.5 L569.4,397.5Z" fill="#A9C47A"/>
<path d="M636.3,411.3 L637.4,422.8 L651.2,425.1 L662.8,425.1 L663.7,421.6 L665.1,418.2 L670.8,411.3 L666.6,409.4 L662.8,406.7 L661,402.3 L661.6,397.5 L658.6,400.1 L654.7,400.9 L650.5,400.2 L646.6,398.6 L642.8,399.9 L638.9,399.4 L635.1,398.6 L636.5,402.7 L635.8,405.6Z M654.7,400.9 L658.6,400 L661.6,397.5Z" fill="#A9C47A"/>
<path d="M670.8,411.3 L672,417.1 L691.6,418.2 L691.6,397.5 L687.6,396.8 L687.5,397.2 L685.6,396.4 L678.9,395.2 L667.4,392.9 L662.8,397.5 L664,402.1 L665.1,406.7Z" fill="#A9C47A"/>
<path d="M559.1,460.8 L563.8,460.7 L568.3,462 L570.6,452.8 L568.3,443.5 L566,434.3 L560.2,432 L552.2,432 L549.9,435.1 L547.6,438.2 L545.2,441.2 L536,443.5 L537.4,446.9 L538.3,450.5 L542.2,450.4 L545.2,452.8 L548.9,456 L552.2,459.7Z" fill="#A9C47A"/>
<path d="M566,434.3 L570.6,443.5 L582.1,441.2 L591.3,443.5 L591.3,434.3 L582.1,429.7 L574.1,427.4 L568.3,427.4Z" fill="#A9C47A"/>
<path d="M593.4,465.9 L595.1,465.3 L598.9,464.9 L602.9,465.4 L606.2,467.1 L609,467.6 L619,466.6 L625.9,462 L623.6,455.1 L619,448.2 L612.1,455.1 L602.9,459.7 L591.3,464.3Z" fill="#E6D48C"/>
<path d="M729.9,272 L730.8,276.6 L731,281.2 L726.5,282.8 L721.8,283.7 L717.2,284.7 L714.6,287.9 L711.4,290.5 L706.3,291.9 L701.1,292.8 L695.3,282.4 L689.5,285.9 L689.2,289.7 L689.1,289.9 L688.4,297.4 L684.9,305.4 L691.2,315.9 L694.3,318.6 L695.3,322.7 L693.2,326.3 L690.7,329.6 L698.8,337.7 L706.8,334.2 L713.7,327.3 L718.3,318.1 L725.2,311.2 L731,304.3 L734.5,308.9 L743.7,311.2 L746,318.1 L752.9,315.8 L762.1,311.2 L769,304.3 L769.3,300 L770.2,297.4 L771.3,291.6 L766.7,292.6 L764.4,292.2 L757.5,292.8 L754.1,285.9 L751.6,282.4 L751.9,280.4 L749.4,274.3 L746.7,271.1 L744.8,267.4 L740.2,268.2 L735.6,267.4Z" fill="#A9C47A"/>
<path d="M716,331.9 L725.2,335.4 L734.5,334.2 L736.8,327.3 L741.4,320.4 L743.7,311.2 L734.5,308.9 L731,304.3 L725.2,311.2 L716,320.4Z" fill="#E6D48C"/>
<path d="M739.1,343.5 L743.7,352.7 L750.6,352.7 L752.9,346.7 L752.9,343.5 L754,342.8 L752.9,331.9 L748.3,322.7 L743.7,320.4 L736.8,327.3Z" fill="#E6D48C"/>
<path d="M690.7,371.1 L697.6,378 L706.8,380.3 L717.2,375.7 L716,366.5 L706.8,361.9 L695.3,357.3 L687.2,358.4Z" fill="#E9E79A"/>
<path d="M838.2,221.3 L847.4,228.2 L852,225.9 L858.9,228.2 L868.1,230.6 L865.8,221.3 L870.4,214.4 L871.6,205.2 L878.5,200.6 L877.3,191.4 L867,189.1 L863.5,196 L852,199.4 L842.8,205.2Z" fill="#E0EC9E"/>
<path d="M833.5,239.8 L834.7,251.3 L835.8,261.7 L845.1,262.8 L855.4,253.6 L858.9,244.4 L852,237.5 L848.5,244.4 L840.5,237.5 L833.5,234Z" fill="#A9C47A"/>
<path d="M828.9,285.9 L834.7,292.8 L839.3,288.2 L841.6,281.2 L835.8,276.6 L826.6,278.9Z" fill="#A9C47A"/>
<path d="M826.6,278.9 L838.2,276.6 L840.5,269.7 L835.8,261.7 L834.7,251.3 L833.5,242.1 L827.8,244.4 L822,251.3 L821.7,255.4 L820.4,259.2 L818.6,262.8 L819.9,266.2 L820.9,269.7Z" fill="#E9E79A"/>
<path d="M744.8,391.8 L748.3,403.4 L757.5,408 L764.4,398.8 L762.1,387.2 L755.2,378 L746,380.3Z" fill="#E9E79A"/>
<path d="M792.1,398.8 L801.3,403.4 L810.5,394.1 L812.8,382.6 L801.3,378 L789.8,380.3Z" fill="#E9E79A"/>
<path d="M822,375.7 L831.2,378 L835.8,375.7 L840.5,373.4 L839.2,368.8 L840.2,365.3 L828.9,364.2 L817.4,365.3Z" fill="#E9E79A"/>
<path d="M719.5,403.4 L725.2,412.6 L734.5,410.3 L739.1,398.8 L732.2,390.7 L720.6,394.1Z" fill="#E9E79A"/>
<path d="M683.8,450 L693,450 L701.1,445.3 L702.2,438.4 L690.7,437.3 L679.2,440.7Z" fill="#DCB882"/>
<path d="M665.3,447.6 L674.6,450 L681.5,440.7 L679.2,431.5 L663,433.8Z" fill="#E9E79A"/>
<path d="M718.3,459.2 L729.9,461.5 L736.8,452.3 L729.9,443 L716,447.6Z" fill="#E9E79A"/>
<path d="M509.5,542.6 L517.6,546.1 L531.4,544.9 L539.5,542.6 L538.3,535.7 L526.8,528.8 L517.8,519.8 L516.9,521.1 L514.6,524.5 L514.2,524.6 L508.4,533.4Z" fill="#E6D48C"/>
<path d="M540.6,551.8 L552.2,554.1 L554.5,547.2 L545.2,540.3 L532.6,544.9Z" fill="#A9C47A"/>
<path d="M575.2,535.7 L582.1,540.3 L589,533.4 L598.2,521.9 L606.3,510.4 L602.9,502.3 L589,510.4 L575.2,526.5Z" fill="#E9E79A"/>
<path d="M711.4,539.8 L719.5,539.8 L720.6,530.6 L726.4,521.4 L720.6,516.8 L711.4,514.5 L705.7,528.3Z" fill="#E6D48C"/>
<path d="M706.8,558.2 L720.6,558.2 L725.2,549 L716,539.8 L702.2,542.1Z" fill="#E9E79A"/>
<path d="M683.8,588.2 L697.6,585.9 L711.4,581.3 L717.2,576.7 L711.4,572.1 L697.6,573.2 L686.1,576.7 L674.6,583.6Z" fill="#E6D48C"/>
<path d="M741.4,569.8 L748.3,574.4 L754,573.1 L755.4,571.6 L758.4,570 L757.5,562.9 L748.3,557.1 L740.2,560.6Z M758.7,572.1 L758.4,570 L756,572.3 L755.1,572.9Z" fill="#E6D48C"/>
<path d="M690.7,622.8 L695,619.8 L699.9,618.2 L701,614.7 L702.2,611.2 L705.7,614.7 L708.9,616.8 L711.4,620.5 L711.4,608.9 L706.8,595.1 L697.6,588.2 L683.8,590.5 L679.2,602 L671.1,606.6 L669.9,611.2 L674.6,613.5 L679.2,615.9 L680.8,619.8 L681.5,623.9Z" fill="#E9E79A"/>
<path d="M755.2,496 L758.6,499.7 L761,504.1 L762.1,507.6 L771.3,512.2 L782.9,512.2 L789.8,519.1 L794.4,528.3 L797.8,532.9 L794.4,539.8 L799,545.6 L808.2,546.7 L809.4,553.6 L812.6,555.4 L815.1,558.2 L822,555.9 L828.9,551.3 L835.8,554.8 L845.1,557.1 L852,555.9 L854.3,549 L852.3,544.6 L852,539.8 L852.8,535.1 L854.3,530.6 L852,521.4 L842.8,516.8 L834.7,514.5 L836.9,510.4 L840.5,507.6 L844.6,504.4 L849.7,502.9 L851.1,498.2 L853.1,493.7 L849.7,485.7 L840.5,486.8 L833.5,484.5 L826.6,475.3 L817.4,470.7 L814,461.5 L803.6,459.2 L799,452.3 L797,456 L794.4,459.2 L796.5,464.1 L796.7,469.5 L789.8,468.4 L780.5,473 L775.9,463.8 L766.7,473 L762.2,474.1 L758.7,476.5 L759.1,481.7 L759.8,486.8Z" fill="#E9E79A"/>
<path d="M797.8,443 L798.5,447.6 L799,452.3 L803.6,459.2 L814,461.5 L817.4,470.7 L826.6,475.3 L833.5,484.5 L840.5,486.8 L849.7,485.7 L843.7,480.4 L843.3,480.3 L840.5,477.6 L831.2,470.7 L827.4,465.7 L826.1,465 L824.3,461.5 L821.2,455.3 L820.8,454.6 L820.7,454.2 L817.4,447.6 L810.5,435 L805.8,435.3 L804.9,435 L800.6,435 L799.6,436.7Z" fill="#E0EC9E"/>
<path d="M812.8,477.6 L817.4,484.5 L835.8,489.1 L849.7,486.8 L845.1,482.2 L831.2,473 L815.1,470.7Z" fill="#E6D48C"/>
<path d="M787.5,496 L794.4,500.6 L799,486.8 L794.4,475.3 L785.2,477.6Z" fill="#E6D48C"/>
<path d="M789.8,496 L799,500.6 L808.2,502.9 L817.4,509.9 L824.3,516.8 L831.2,512.2 L835.8,498.3 L831.2,489.1 L817.4,486.8 L808.2,484.5 L794.4,482.2 L785.2,486.8Z" fill="#DCB882"/>
<path d="M805.9,502.9 L815.1,502.9 L824.3,498.3 L824.3,489.1 L810.5,486.8 L801.3,491.4Z" fill="#CC9A80"/>
<path d="M837,507.6 L840.5,507.6 L844.6,504.4 L848.1,503.4 L850.6,499.7 L850.7,499.5 L840.5,492.6 L834.7,498.3Z" fill="#C48E88"/>
<path d="M840.5,530.6 L845.1,539.8 L852,539.8 L852.8,535.1 L854.3,530.6 L852,522.5 L837,517.9Z" fill="#E6D48C"/>
<path d="M717.2,629.7 L720.6,638.9 L732.2,641.2 L730.6,646.1 L727.6,650.4 L736.8,652.7 L743.1,651.7 L744.4,650.7 L748.3,650.4 L748.4,650.8 L750.6,650.4 L755.2,641.2 L759.8,627.4 L764.4,620.5 L762.1,611.2 L755.2,602 L748.3,604.3 L736.8,615.9 L727.6,620.5 L718.3,622.8Z" fill="#E9E79A"/>
<path d="M805.9,604.3 L801.3,622.8 L794.4,636.6 L789.8,650.4 L794.4,659.6 L795.9,656 L798.4,653.4 L801,650.7 L803.6,648.1 L805.5,643.7 L808.5,640.1 L811.7,636.6 L816.8,629.3 L817,628.9 L819.7,625.1 L821.7,621.4 L823.9,620.4 L827.8,615.9 L826.5,612.1 L826.8,610.8 L825.5,604.3 L828.9,592.8 L817.4,581.3 L803.6,590.5Z" fill="#E9E79A"/>
<path d="M750.6,659.6 L751.1,664.4 L749.3,668.9 L748.3,673.5 L752.1,676.6 L755.2,680.4 L762.1,687.3 L765.5,685.9 L769,685 L771.5,680.6 L775.9,678.1 L780.9,674.4 L781.8,673 L785.2,671.2 L782.9,659.6 L775.9,650.4 L762.1,645.8 L750.6,650.4Z" fill="#E9E79A"/>
<path d="M819.7,569.8 L826.6,579 L837,581.3 L841,573.3 L841.2,570.5 L843.9,567.5 L845.4,564.1 L847.7,561.4 L849.7,558.2 L852,555.9 L845.1,557.1 L835.8,554.8 L817.4,558.2Z" fill="#E9E79A"/>
<path d="M797.8,649.3 L804,647.2 L804.4,646.2 L802.4,641.2 L795.5,642.4Z" fill="#CC9A80"/>
<path d="M693.9,696.2 L694.3,697.3 L693.2,698.6 L698.8,694.2 L704.5,701.1 L709.1,710.3 L714.9,708 L711.4,698.8 L716,691.9 L719.5,682.7 L722.9,672.3 L716,673.5 L706.8,680.4 L701.5,683 L701.2,683.5 L701,683.3 L697.6,685Z" fill="#DCB882"/>
<path d="M702.2,698.8 L709.1,710.3 L713.7,708 L709.1,696.5 L699.9,687.3Z" fill="#CC9A80"/>
<path d="M716,696.5 L720.6,697.6 L728.7,695.3 L722.9,689.6 L714.9,691.9Z" fill="#E2BACA"/>
<path d="M574.5,715.8 L578.1,719.1 L581.4,722.7 L590.6,727.3 L597.8,728.7 L598.3,728.7 L602.1,729.6 L606.5,727.7 L611.3,728.4 L609,712.3 L603.3,704.2 L597.5,697.3 L592.9,690.4 L588.5,692.3 L583.7,691.6 L577.9,695 L577.3,699 L576.2,700.9 L574.5,706.5Z" fill="#E0EC9E"/>
<path d="M652.8,708.8 L654,722.7 L657.4,731.9 L661.5,728.5 L666.6,727.3 L671.2,713.5 L668.9,701.9 L664.3,701.4 L659.7,700.8 L658.3,697.4 L657.4,693.9Z" fill="#E0EC9E"/>
<path d="M639,771.1 L643.6,768.8 L642.4,761.8 L636.7,763Z" fill="#A9C47A"/>
<path d="M492.7,644.3 L489.2,653.5 L488.1,663.9 L493.8,666.2 L500.7,660.5 L507.6,665.1 L515.7,662.8 L509.9,655.9 L512.3,644.3 L508.8,635.1 L505.3,625.9 L490.4,628.2Z" fill="#E9E79A"/>
<path d="M508.8,632.8 L512.3,642 L512.3,653.5 L519.2,662.8 L526.1,668.5 L528.6,665.1 L532,662.9 L535.3,660.5 L535.2,655 L537.6,650.1 L529.5,642 L533,632.8 L533,621.3 L523.8,621.3 L515.7,613.2 L506.5,621.3Z" fill="#A9C47A"/>
<path d="M564.1,616.7 L567.6,623.6 L574.5,628.2 L576.8,621.3 L583.7,616.7 L586,607.5 L576.8,605.2 L568.7,607.5Z" fill="#E9E79A"/>
<path d="M611.3,728.4 L615.1,726.8 L617.7,727.8 L622.9,727.3 L629.8,730.7 L639,729.6 L639,711.2 L625.2,706.5 L609,708.8Z" fill="#E0EC9E"/>
<path d="M618.2,782.6 L621.7,788.3 L629.8,787.2 L632.1,782.6 L635.4,780.6 L639,779.1 L643.6,774.5 L650.5,769.9 L658.6,771.1 L659.8,767.3 L662,764.1 L657.4,758.4 L648.2,759.5 L644.5,760.8 L642.8,760.6 L636.7,761.8 L634,764.6 L630.6,766.5 L627.5,768.8 L618.2,778Z" fill="#E0EC9E"/>
<path d="M618.2,782.6 L621.7,788.3 L629.8,787.2 L629.8,780.3 L625.2,773.4 L618.2,778Z" fill="#A9C47A"/>
<path d="M639,771.1 L643.6,768.8 L642.4,761.8 L636.7,763Z" fill="#A9C47A"/>
<path d="M654,769.9 L659.7,766.5 L657.4,759.5 L649.4,760.7Z" fill="#E9E79A"/>
<path d="M668.9,592.1 L670,592.6 L673.5,593.7 L676.9,595.1 L678.5,598.4 L679.2,602 L675,604.1 L671.1,606.6 L670,610.9 L670.7,611.6 L674.6,613.5 L679.2,615.9 L680.8,619.8 L681.1,621.4 L688.8,623.4 L690.7,622.8 L695,619.8 L699.9,618.2 L701,614.7 L702.2,611.2 L705.2,614.4 L708.9,616.8 L710,618.5 L712.7,616.7 L715,598.2 L703.5,589 L685.1,584.4 L668.9,589Z" fill="#E9E79A"/>
<use href="#holes" fill="#fff"/>
<path d="M720.8,701.9 L728.8,700.8 L732.3,705.4 L728.8,711.2 L723.1,710Z" fill="#6a6a6a"/>
<use href="#vor" fill="none" stroke="#98a26c" stroke-width="0.65" stroke-linejoin="round"/>
<path d="M240.5,181.5 L233.3,191.5 L230.4,204.5 L231.8,214.6 L239,210.3 L240.5,201.6 L246.2,191.5 L254.9,184.3 L257.7,176.3 L247.7,174.3Z M272.1,216 L270.7,227.5 L263.5,233.3 L259.2,240.5 L266.4,243.4 L275,241.9 L283.7,244.8 L289.4,240.5 L292.3,234.7 L280.8,230.4 L276.5,221.8 L282.2,207.4 L273.6,205.9Z M270.7,250.6 L275.8,256.9 L277.1,257.8 L275.1,260 L272.7,264 L272.2,265 L273.6,270.7 L275,274.5 L275.2,276.9 L276.5,281.7 L282.6,283.5 L284.4,283.2 L288,285.1 L298.4,288.3 L298.8,288.3 L302.4,289.5 L317.6,293.1 L319.7,293.2 L320.1,293.4 L331.2,294.4 L331.6,289.7 L332.4,286.2 L332.6,285.1 L332.3,284.1 L331.4,281.4 L331.5,280.6 L329.7,273.6 L329.2,268.3 L328.6,266.4 L327.4,262.9 L328.3,259.2 L327.8,254.4 L328.3,252.8 L328.3,245.4 L303.8,244.2 L293.7,239.1 L283.7,244.8 L275,241.9 L267.8,243.4Z M442.7,415.9 L443.3,420.6 L441.6,425.1 L445,432 L449.2,435.3 L453.1,438.9 L457.3,439.5 L461.6,439.7 L465.8,440.1 L469.7,442.7 L471.5,447 L471.8,447.7 L473.8,448.2 L469.2,434.3 L480.7,434.3 L485.3,427.4 L483,415.9 L473.8,399.8 L448.5,395.2 L447.3,396 L447,396.9 L443.9,399.8 L443.1,403.6 L441.9,404.7Z M473.8,404.4 L480.7,414.7 L488.8,413.6 L488.8,399.8 L485.3,392.9 L475,390.6Z M508.4,415.9 L519.9,421.7 L529.1,429.7 L532.6,422.8 L533.7,413.6 L522.2,409 L510.7,402.1 L503.8,403.2Z M541.7,395.6 L542.1,396 L544.1,398.5 L548.7,402.1 L552.2,411.3 L555.4,414.5 L556,414.2 L559.1,411.3 L563,409.7 L563.7,409 L556.8,399.8 L560.2,392.9 L559.1,385.9 L547.6,387.1 L538.3,390.6Z M559.1,372.1 L563.7,379 L568.3,385.9 L572.9,381.3 L568.3,372.1 L566,362.9 L559.6,361.9 L559.1,362.9Z M610.9,293.8 L615.5,303 L617,306.4 L617.2,308.2 L619,313.4 L614.4,318 L614.4,322.6 L628.2,326 L639.7,328.3 L647.8,339.9 L651.8,338.7 L655.8,339.9 L658.6,333.1 L658.6,332 L660.5,328.3 L659.4,323.8 L659.3,319.1 L655.8,309.9 L644.3,303 L637.3,290.7 L636.9,290.2 L635.1,286.9 L632.4,283.3 L630.5,279.2 L628.2,275.3 L619,278.6 L616.3,280.1 L612.1,281.1Z M658.2,379 L665.1,381.3 L672,374.4 L676.6,365.2 L665.1,369.8 L653.5,373.3Z M568.9,403.2 L569,405.2 L568.5,408 L568.3,410.1 L575.2,414.7 L576.4,421.7 L574.1,427.4 L582.1,429.7 L591.3,434.3 L602.9,432 L605.2,427.4 L605.2,420.5 L603.5,416 L602.9,411.3 L595.9,406.7 L591.2,404.7 L586.7,402.1 L579.8,397.5 L569.4,397.5Z M636.3,411.3 L637.4,422.8 L651.2,425.1 L662.8,425.1 L663.7,421.6 L665.1,418.2 L670.8,411.3 L666.6,409.4 L662.8,406.7 L661,402.3 L661.6,397.5 L658.6,400.1 L654.7,400.9 L650.5,400.2 L646.6,398.6 L642.8,399.9 L638.9,399.4 L635.1,398.6 L636.5,402.7 L635.8,405.6Z M654.7,400.9 L658.6,400 L661.6,397.5Z M670.8,411.3 L672,417.1 L691.6,418.2 L691.6,397.5 L687.6,396.8 L687.5,397.2 L685.6,396.4 L678.9,395.2 L667.4,392.9 L662.8,397.5 L664,402.1 L665.1,406.7Z M559.1,460.8 L563.8,460.7 L568.3,462 L570.6,452.8 L568.3,443.5 L566,434.3 L560.2,432 L552.2,432 L549.9,435.1 L547.6,438.2 L545.2,441.2 L536,443.5 L537.4,446.9 L538.3,450.5 L542.2,450.4 L545.2,452.8 L548.9,456 L552.2,459.7Z M566,434.3 L570.6,443.5 L582.1,441.2 L591.3,443.5 L591.3,434.3 L582.1,429.7 L574.1,427.4 L568.3,427.4Z M593.4,465.9 L595.1,465.3 L598.9,464.9 L602.9,465.4 L606.2,467.1 L609,467.6 L619,466.6 L625.9,462 L623.6,455.1 L619,448.2 L612.1,455.1 L602.9,459.7 L591.3,464.3Z M729.9,272 L730.8,276.6 L731,281.2 L726.5,282.8 L721.8,283.7 L717.2,284.7 L714.6,287.9 L711.4,290.5 L706.3,291.9 L701.1,292.8 L695.3,282.4 L689.5,285.9 L689.2,289.7 L689.1,289.9 L688.4,297.4 L684.9,305.4 L691.2,315.9 L694.3,318.6 L695.3,322.7 L693.2,326.3 L690.7,329.6 L698.8,337.7 L706.8,334.2 L713.7,327.3 L718.3,318.1 L725.2,311.2 L731,304.3 L734.5,308.9 L743.7,311.2 L746,318.1 L752.9,315.8 L762.1,311.2 L769,304.3 L769.3,300 L770.2,297.4 L771.3,291.6 L766.7,292.6 L764.4,292.2 L757.5,292.8 L754.1,285.9 L751.6,282.4 L751.9,280.4 L749.4,274.3 L746.7,271.1 L744.8,267.4 L740.2,268.2 L735.6,267.4Z M716,331.9 L725.2,335.4 L734.5,334.2 L736.8,327.3 L741.4,320.4 L743.7,311.2 L734.5,308.9 L731,304.3 L725.2,311.2 L716,320.4Z M739.1,343.5 L743.7,352.7 L750.6,352.7 L752.9,346.7 L752.9,343.5 L754,342.8 L752.9,331.9 L748.3,322.7 L743.7,320.4 L736.8,327.3Z M690.7,371.1 L697.6,378 L706.8,380.3 L717.2,375.7 L716,366.5 L706.8,361.9 L695.3,357.3 L687.2,358.4Z M838.2,221.3 L847.4,228.2 L852,225.9 L858.9,228.2 L868.1,230.6 L865.8,221.3 L870.4,214.4 L871.6,205.2 L878.5,200.6 L877.3,191.4 L867,189.1 L863.5,196 L852,199.4 L842.8,205.2Z M833.5,239.8 L834.7,251.3 L835.8,261.7 L845.1,262.8 L855.4,253.6 L858.9,244.4 L852,237.5 L848.5,244.4 L840.5,237.5 L833.5,234Z M828.9,285.9 L834.7,292.8 L839.3,288.2 L841.6,281.2 L835.8,276.6 L826.6,278.9Z M826.6,278.9 L838.2,276.6 L840.5,269.7 L835.8,261.7 L834.7,251.3 L833.5,242.1 L827.8,244.4 L822,251.3 L821.7,255.4 L820.4,259.2 L818.6,262.8 L819.9,266.2 L820.9,269.7Z M744.8,391.8 L748.3,403.4 L757.5,408 L764.4,398.8 L762.1,387.2 L755.2,378 L746,380.3Z M792.1,398.8 L801.3,403.4 L810.5,394.1 L812.8,382.6 L801.3,378 L789.8,380.3Z M822,375.7 L831.2,378 L835.8,375.7 L840.5,373.4 L839.2,368.8 L840.2,365.3 L828.9,364.2 L817.4,365.3Z M719.5,403.4 L725.2,412.6 L734.5,410.3 L739.1,398.8 L732.2,390.7 L720.6,394.1Z M683.8,450 L693,450 L701.1,445.3 L702.2,438.4 L690.7,437.3 L679.2,440.7Z M665.3,447.6 L674.6,450 L681.5,440.7 L679.2,431.5 L663,433.8Z M718.3,459.2 L729.9,461.5 L736.8,452.3 L729.9,443 L716,447.6Z M509.5,542.6 L517.6,546.1 L531.4,544.9 L539.5,542.6 L538.3,535.7 L526.8,528.8 L517.8,519.8 L516.9,521.1 L514.6,524.5 L514.2,524.6 L508.4,533.4Z M540.6,551.8 L552.2,554.1 L554.5,547.2 L545.2,540.3 L532.6,544.9Z M575.2,535.7 L582.1,540.3 L589,533.4 L598.2,521.9 L606.3,510.4 L602.9,502.3 L589,510.4 L575.2,526.5Z M711.4,539.8 L719.5,539.8 L720.6,530.6 L726.4,521.4 L720.6,516.8 L711.4,514.5 L705.7,528.3Z M706.8,558.2 L720.6,558.2 L725.2,549 L716,539.8 L702.2,542.1Z M683.8,588.2 L697.6,585.9 L711.4,581.3 L717.2,576.7 L711.4,572.1 L697.6,573.2 L686.1,576.7 L674.6,583.6Z M741.4,569.8 L748.3,574.4 L754,573.1 L755.4,571.6 L758.4,570 L757.5,562.9 L748.3,557.1 L740.2,560.6Z M758.7,572.1 L758.4,570 L756,572.3 L755.1,572.9Z M690.7,622.8 L695,619.8 L699.9,618.2 L701,614.7 L702.2,611.2 L705.7,614.7 L708.9,616.8 L711.4,620.5 L711.4,608.9 L706.8,595.1 L697.6,588.2 L683.8,590.5 L679.2,602 L671.1,606.6 L669.9,611.2 L674.6,613.5 L679.2,615.9 L680.8,619.8 L681.5,623.9Z M755.2,496 L758.6,499.7 L761,504.1 L762.1,507.6 L771.3,512.2 L782.9,512.2 L789.8,519.1 L794.4,528.3 L797.8,532.9 L794.4,539.8 L799,545.6 L808.2,546.7 L809.4,553.6 L812.6,555.4 L815.1,558.2 L822,555.9 L828.9,551.3 L835.8,554.8 L845.1,557.1 L852,555.9 L854.3,549 L852.3,544.6 L852,539.8 L852.8,535.1 L854.3,530.6 L852,521.4 L842.8,516.8 L834.7,514.5 L836.9,510.4 L840.5,507.6 L844.6,504.4 L849.7,502.9 L851.1,498.2 L853.1,493.7 L849.7,485.7 L840.5,486.8 L833.5,484.5 L826.6,475.3 L817.4,470.7 L814,461.5 L803.6,459.2 L799,452.3 L797,456 L794.4,459.2 L796.5,464.1 L796.7,469.5 L789.8,468.4 L780.5,473 L775.9,463.8 L766.7,473 L762.2,474.1 L758.7,476.5 L759.1,481.7 L759.8,486.8Z M797.8,443 L798.5,447.6 L799,452.3 L803.6,459.2 L814,461.5 L817.4,470.7 L826.6,475.3 L833.5,484.5 L840.5,486.8 L849.7,485.7 L843.7,480.4 L843.3,480.3 L840.5,477.6 L831.2,470.7 L827.4,465.7 L826.1,465 L824.3,461.5 L821.2,455.3 L820.8,454.6 L820.7,454.2 L817.4,447.6 L810.5,435 L805.8,435.3 L804.9,435 L800.6,435 L799.6,436.7Z M812.8,477.6 L817.4,484.5 L835.8,489.1 L849.7,486.8 L845.1,482.2 L831.2,473 L815.1,470.7Z M787.5,496 L794.4,500.6 L799,486.8 L794.4,475.3 L785.2,477.6Z M789.8,496 L799,500.6 L808.2,502.9 L817.4,509.9 L824.3,516.8 L831.2,512.2 L835.8,498.3 L831.2,489.1 L817.4,486.8 L808.2,484.5 L794.4,482.2 L785.2,486.8Z M805.9,502.9 L815.1,502.9 L824.3,498.3 L824.3,489.1 L810.5,486.8 L801.3,491.4Z M837,507.6 L840.5,507.6 L844.6,504.4 L848.1,503.4 L850.6,499.7 L850.7,499.5 L840.5,492.6 L834.7,498.3Z M840.5,530.6 L845.1,539.8 L852,539.8 L852.8,535.1 L854.3,530.6 L852,522.5 L837,517.9Z M717.2,629.7 L720.6,638.9 L732.2,641.2 L730.6,646.1 L727.6,650.4 L736.8,652.7 L743.1,651.7 L744.4,650.7 L748.3,650.4 L748.4,650.8 L750.6,650.4 L755.2,641.2 L759.8,627.4 L764.4,620.5 L762.1,611.2 L755.2,602 L748.3,604.3 L736.8,615.9 L727.6,620.5 L718.3,622.8Z M805.9,604.3 L801.3,622.8 L794.4,636.6 L789.8,650.4 L794.4,659.6 L795.9,656 L798.4,653.4 L801,650.7 L803.6,648.1 L805.5,643.7 L808.5,640.1 L811.7,636.6 L816.8,629.3 L817,628.9 L819.7,625.1 L821.7,621.4 L823.9,620.4 L827.8,615.9 L826.5,612.1 L826.8,610.8 L825.5,604.3 L828.9,592.8 L817.4,581.3 L803.6,590.5Z M750.6,659.6 L751.1,664.4 L749.3,668.9 L748.3,673.5 L752.1,676.6 L755.2,680.4 L762.1,687.3 L765.5,685.9 L769,685 L771.5,680.6 L775.9,678.1 L780.9,674.4 L781.8,673 L785.2,671.2 L782.9,659.6 L775.9,650.4 L762.1,645.8 L750.6,650.4Z M819.7,569.8 L826.6,579 L837,581.3 L841,573.3 L841.2,570.5 L843.9,567.5 L845.4,564.1 L847.7,561.4 L849.7,558.2 L852,555.9 L845.1,557.1 L835.8,554.8 L817.4,558.2Z M797.8,649.3 L804,647.2 L804.4,646.2 L802.4,641.2 L795.5,642.4Z M693.9,696.2 L694.3,697.3 L693.2,698.6 L698.8,694.2 L704.5,701.1 L709.1,710.3 L714.9,708 L711.4,698.8 L716,691.9 L719.5,682.7 L722.9,672.3 L716,673.5 L706.8,680.4 L701.5,683 L701.2,683.5 L701,683.3 L697.6,685Z M702.2,698.8 L709.1,710.3 L713.7,708 L709.1,696.5 L699.9,687.3Z M716,696.5 L720.6,697.6 L728.7,695.3 L722.9,689.6 L714.9,691.9Z M574.5,715.8 L578.1,719.1 L581.4,722.7 L590.6,727.3 L597.8,728.7 L598.3,728.7 L602.1,729.6 L606.5,727.7 L611.3,728.4 L609,712.3 L603.3,704.2 L597.5,697.3 L592.9,690.4 L588.5,692.3 L583.7,691.6 L577.9,695 L577.3,699 L576.2,700.9 L574.5,706.5Z M652.8,708.8 L654,722.7 L657.4,731.9 L661.5,728.5 L666.6,727.3 L671.2,713.5 L668.9,701.9 L664.3,701.4 L659.7,700.8 L658.3,697.4 L657.4,693.9Z M639,771.1 L643.6,768.8 L642.4,761.8 L636.7,763Z M492.7,644.3 L489.2,653.5 L488.1,663.9 L493.8,666.2 L500.7,660.5 L507.6,665.1 L515.7,662.8 L509.9,655.9 L512.3,644.3 L508.8,635.1 L505.3,625.9 L490.4,628.2Z M508.8,632.8 L512.3,642 L512.3,653.5 L519.2,662.8 L526.1,668.5 L528.6,665.1 L532,662.9 L535.3,660.5 L535.2,655 L537.6,650.1 L529.5,642 L533,632.8 L533,621.3 L523.8,621.3 L515.7,613.2 L506.5,621.3Z M564.1,616.7 L567.6,623.6 L574.5,628.2 L576.8,621.3 L583.7,616.7 L586,607.5 L576.8,605.2 L568.7,607.5Z M611.3,728.4 L615.1,726.8 L617.7,727.8 L622.9,727.3 L629.8,730.7 L639,729.6 L639,711.2 L625.2,706.5 L609,708.8Z M618.2,782.6 L621.7,788.3 L629.8,787.2 L632.1,782.6 L635.4,780.6 L639,779.1 L643.6,774.5 L650.5,769.9 L658.6,771.1 L659.8,767.3 L662,764.1 L657.4,758.4 L648.2,759.5 L644.5,760.8 L642.8,760.6 L636.7,761.8 L634,764.6 L630.6,766.5 L627.5,768.8 L618.2,778Z M618.2,782.6 L621.7,788.3 L629.8,787.2 L629.8,780.3 L625.2,773.4 L618.2,778Z M639,771.1 L643.6,768.8 L642.4,761.8 L636.7,763Z M654,769.9 L659.7,766.5 L657.4,759.5 L649.4,760.7Z M668.9,592.1 L670,592.6 L673.5,593.7 L676.9,595.1 L678.5,598.4 L679.2,602 L675,604.1 L671.1,606.6 L670,610.9 L670.7,611.6 L674.6,613.5 L679.2,615.9 L680.8,619.8 L681.1,621.4 L688.8,623.4 L690.7,622.8 L695,619.8 L699.9,618.2 L701,614.7 L702.2,611.2 L705.2,614.4 L708.9,616.8 L710,618.5 L712.7,616.7 L715,598.2 L703.5,589 L685.1,584.4 L668.9,589Z" fill="none" stroke="#98a26c" stroke-width="0.65" stroke-linejoin="round"/>
<use href="#clcoast"/>
<use href="#clout" stroke-width="1.5"/>
<use href="#fringe"/></g>
<use href="#inset" x="55.2" y="615.2"/>
<use href="#inset" x="1061.3" y="618"/>
<use href="#inset" x="52.4" y="1490.5"/>
<text x="44.5" y="61.5" font-family="'Liberation Serif',serif" font-weight="bold" font-size="86" fill="#000">a</text>
<text x="1048.8" y="61" font-family="'Liberation Serif',serif" font-weight="bold" font-size="86" fill="#000">b</text>
<text x="47" y="945" font-family="'Liberation Serif',serif" font-weight="bold" font-size="86" fill="#000">c</text>
<text x="15.5" y="1818" font-family="'Liberation Serif',serif" font-weight="bold" font-size="86" fill="#000">d</text>
<text x="686.5" y="1818" font-family="'Liberation Serif',serif" font-weight="bold" font-size="86" fill="#000">e</text>
<text x="1360.2" y="1818" font-family="'Liberation Serif',serif" font-weight="bold" font-size="86" fill="#000">f</text>
<g id="legends"><path d="M1190.4,1003.3 L1160.3,1095.4 L1191,1085.4 L1224.3,1098.7 Z" fill="#fff" stroke="#222" stroke-width="0.7" stroke-linejoin="miter"/>
<path d="M1193.5,1008 L1223.6,1097.6 L1191.6,1086.3" fill="none" stroke="#000" stroke-width="2.4" stroke-linejoin="miter"/>
<path d="M1164.6,1099.3 L1191.3,1090 L1195,1088 L1191,1085.4 L1163.8,1094.6 Z" fill="#000"/>
<text x="1194" y="1135.8" text-anchor="middle" font-family="'Liberation Sans',sans-serif" font-size="41.5">N</text>
<path d="M1074.9,1207 V1223.4 H1272.7 V1207 M1173.8,1207 V1223.4" fill="none" stroke="#111" stroke-width="1.1"/>
<text x="1074.7" y="1192.7" text-anchor="middle" font-family="'Liberation Serif',serif" font-size="41">0</text>
<text x="1173.9" y="1192.7" text-anchor="middle" font-family="'Liberation Serif',serif" font-size="41">500</text>
<text x="1227.6" y="1192.7" font-family="'Liberation Serif',serif" font-size="40.6">1,000km</text>
<text x="1396.3" y="1038.6" font-family="'Liberation Serif',serif" font-weight="bold" font-size="36.6">HUII</text>
<rect x="1393.6" y="1068.1" width="61" height="30.6" fill="#EE2010" stroke="#8a8a6a" stroke-width="0.6"/>
<text x="1465.3" y="1097.0" font-family="'Liberation Serif',serif" font-size="37.2">ISA in 2005</text>
<rect x="1393.6" y="1120.3" width="61" height="30.6" fill="#4478F8" stroke="#8a8a6a" stroke-width="0.6"/>
<text x="1465.3" y="1149.2" font-family="'Liberation Serif',serif" font-size="37.2">ISA expansion (2005 - 2010)</text>
<rect x="1393.6" y="1172.5" width="61" height="30.6" fill="#50B828" stroke="#8a8a6a" stroke-width="0.6"/>
<text x="1465.3" y="1201.4" font-family="'Liberation Serif',serif" font-size="37.2">ISA expansion (2010 - 2015)</text>
<rect x="1393.6" y="1224.7" width="61" height="30.6" fill="#DCF030" stroke="#8a8a6a" stroke-width="0.6"/>
<text x="1465.3" y="1253.6" font-family="'Liberation Serif',serif" font-size="37.2">ISA expansion (2015 - 2020)</text>
<text x="1128" y="1345" font-family="'Liberation Serif',serif" font-weight="bold" font-size="36">VUII</text>
<rect x="1128.3" y="1370.9" width="79" height="38.7" fill="#F4EAD5" stroke="#8e8e8e" stroke-width="1"/>
<text x="1220.6" y="1401.6" font-family="'Liberation Serif',serif" font-size="32.9">&lt; 0.06</text>
<rect x="1128.3" y="1423.9" width="79" height="38.7" fill="#E6BFA5" stroke="#8e8e8e" stroke-width="1"/>
<text x="1220.6" y="1454.6" font-family="'Liberation Serif',serif" font-size="32.9">0.06 - 0.08</text>
<rect x="1128.3" y="1476.9" width="79" height="38.7" fill="#DA9C80" stroke="#8e8e8e" stroke-width="1"/>
<text x="1220.6" y="1507.6" font-family="'Liberation Serif',serif" font-size="32.9">0.08 - 0.10</text>
<rect x="1128.3" y="1529.9" width="79" height="38.7" fill="#CC7B5E" stroke="#8e8e8e" stroke-width="1"/>
<text x="1220.6" y="1560.6" font-family="'Liberation Serif',serif" font-size="32.9">0.10 - 0.12</text>
<rect x="1128.3" y="1582.9" width="79" height="38.7" fill="#BF5C42" stroke="#8e8e8e" stroke-width="1"/>
<text x="1220.6" y="1613.6" font-family="'Liberation Serif',serif" font-size="32.9">0.12 - 0.14</text>
<rect x="1128.3" y="1635.9" width="79" height="38.7" fill="#A8402A" stroke="#8e8e8e" stroke-width="1"/>
<text x="1220.6" y="1666.6" font-family="'Liberation Serif',serif" font-size="32.9">&gt; 0.14</text>
<text x="1639" y="1367" text-anchor="middle" font-family="'Liberation Serif',serif" font-weight="bold" font-size="37">3D UII</text>
<rect x="1431.1" y="1406.3" width="82.7" height="40.6" fill="#72A05A"/>
<text x="1527.6" y="1440.3" font-family="'Liberation Serif',serif" font-size="36.2">0.0 - 0.1</text>
<rect x="1663" y="1406.3" width="82.7" height="40.6" fill="#DCB882"/>
<text x="1759.6" y="1440.3" font-family="'Liberation Serif',serif" font-size="36.2">0.5 - 0.6</text>
<rect x="1431.1" y="1462.1" width="82.7" height="40.6" fill="#A9C47A"/>
<text x="1527.6" y="1496.1" font-family="'Liberation Serif',serif" font-size="36.2">0.1 - 0.2</text>
<rect x="1663" y="1462.1" width="82.7" height="40.6" fill="#CC9A80"/>
<text x="1759.6" y="1496.1" font-family="'Liberation Serif',serif" font-size="36.2">0.6 - 0.7</text>
<rect x="1431.1" y="1518.0" width="82.7" height="40.6" fill="#E0EC9E"/>
<text x="1527.6" y="1552.0" font-family="'Liberation Serif',serif" font-size="36.2">0.2 - 0.3</text>
<rect x="1663" y="1518.0" width="82.7" height="40.6" fill="#C48E88"/>
<text x="1759.6" y="1552.0" font-family="'Liberation Serif',serif" font-size="36.2">0.7 - 0.8</text>
<rect x="1431.1" y="1573.8" width="82.7" height="40.6" fill="#E9E79A"/>
<text x="1527.6" y="1607.8" font-family="'Liberation Serif',serif" font-size="36.2">0.3 - 0.4</text>
<rect x="1663" y="1573.8" width="82.7" height="40.6" fill="#E2BACA"/>
<text x="1759.6" y="1607.8" font-family="'Liberation Serif',serif" font-size="36.2">0.8 - 0.9</text>
<rect x="1431.1" y="1629.7" width="82.7" height="40.6" fill="#E6D48C"/>
<text x="1527.6" y="1663.7" font-family="'Liberation Serif',serif" font-size="36.2">0.4 - 0.5</text>
<rect x="1663" y="1629.7" width="82.7" height="40.6" fill="#F6EEFA"/>
<text x="1759.6" y="1663.7" font-family="'Liberation Serif',serif" font-size="36.2">0.9 - 1.0</text></g>
<path d="M668.5,1826 V2373 M8,2375.5 H668 M1996.5,1826 V2373" stroke="#f1f1f1" stroke-width="1" fill="none"/>
<g id="chart-d"><rect x="147.7" y="1852.6" width="475.4" height="418.4000000000001" fill="#F2F2F2"/>
<path d="M305.6,1852.6 V2271" stroke="#D0D0D0" stroke-width="1.2" fill="none"/>
<path d="M463.9,1852.6 V2271" stroke="#D0D0D0" stroke-width="1.2" fill="none"/>
<path d="M622.3,1852.6 V2271" stroke="#D0D0D0" stroke-width="1.2" fill="none"/>
<path d="M147.7,1851.6 V2271" stroke="#000" stroke-width="2.6" fill="none"/>
<path d="M139.7,2271 H623.3" stroke="#000" stroke-width="2.6" fill="none"/>
<path d="M139.7,2271.0 H147.7" stroke="#000" stroke-width="2.2" fill="none"/>
<text x="113.19999999999999" y="2281.5" text-anchor="end" font-family="'Liberation Serif',serif" font-size="31">0.00</text>
<path d="M139.7,2201.3 H147.7" stroke="#000" stroke-width="2.2" fill="none"/>
<text x="113.19999999999999" y="2211.8" text-anchor="end" font-family="'Liberation Serif',serif" font-size="31">0.05</text>
<path d="M139.7,2131.5 H147.7" stroke="#000" stroke-width="2.2" fill="none"/>
<text x="113.19999999999999" y="2142.0" text-anchor="end" font-family="'Liberation Serif',serif" font-size="31">0.10</text>
<path d="M139.7,2061.8 H147.7" stroke="#000" stroke-width="2.2" fill="none"/>
<text x="113.19999999999999" y="2072.3" text-anchor="end" font-family="'Liberation Serif',serif" font-size="31">0.15</text>
<path d="M139.7,1992.1 H147.7" stroke="#000" stroke-width="2.2" fill="none"/>
<text x="113.19999999999999" y="2002.6" text-anchor="end" font-family="'Liberation Serif',serif" font-size="31">0.20</text>
<path d="M139.7,1922.3 H147.7" stroke="#000" stroke-width="2.2" fill="none"/>
<text x="113.19999999999999" y="1932.8" text-anchor="end" font-family="'Liberation Serif',serif" font-size="31">0.25</text>
<path d="M139.7,1852.6 H147.7" stroke="#000" stroke-width="2.2" fill="none"/>
<text x="113.19999999999999" y="1863.1" text-anchor="end" font-family="'Liberation Serif',serif" font-size="31">0.30</text>
<path d="M147.7,2271 V2280" stroke="#000" stroke-width="2.2" fill="none"/>
<text x="147.7" y="2318.0" text-anchor="middle" font-family="'Liberation Serif',serif" font-size="31">2005</text>
<path d="M305.6,2271 V2280" stroke="#000" stroke-width="2.2" fill="none"/>
<text x="305.6" y="2318.0" text-anchor="middle" font-family="'Liberation Serif',serif" font-size="31">2010</text>
<path d="M463.9,2271 V2280" stroke="#000" stroke-width="2.2" fill="none"/>
<text x="463.9" y="2318.0" text-anchor="middle" font-family="'Liberation Serif',serif" font-size="31">2015</text>
<path d="M622.3,2271 V2280" stroke="#000" stroke-width="2.2" fill="none"/>
<text x="622.3" y="2318.0" text-anchor="middle" font-family="'Liberation Serif',serif" font-size="31">2020</text>
<text x="385" y="2359.5" text-anchor="middle" font-family="'Liberation Serif',serif" font-size="30">Year</text>
<text transform="translate(44,2061.8) rotate(-90)" text-anchor="middle" font-family="'Liberation Serif',serif" font-size="30">HUII</text>
<path d="M147.7,2144.6 C174.0,2140.2 252.9,2130.4 305.6,2118.1 C358.3,2105.8 411.1,2084.4 463.9,2070.9 C516.7,2057.3 595.9,2042.4 622.3,2036.7" fill="none" stroke="#5B80D6" stroke-width="3.8" stroke-linecap="round"/>
<circle cx="147.7" cy="2144.6" r="7.5" fill="#5B80D6"/>
<circle cx="305.6" cy="2118.1" r="7.5" fill="#5B80D6"/>
<circle cx="463.9" cy="2070.9" r="7.5" fill="#5B80D6"/>
<circle cx="622.3" cy="2036.7" r="7.5" fill="#5B80D6"/>
<path d="M147.7,2165.1 C174.0,2157.8 252.9,2141.9 305.6,2121.1 C358.3,2100.2 411.1,2061.2 463.9,2040.2 C516.7,2019.1 595.9,2002.4 622.3,1994.9" fill="none" stroke="#E8843C" stroke-width="3.8" stroke-linecap="round"/>
<circle cx="147.7" cy="2165.1" r="7.5" fill="#E8843C"/>
<circle cx="305.6" cy="2121.1" r="7.5" fill="#E8843C"/>
<circle cx="463.9" cy="2040.2" r="7.5" fill="#E8843C"/>
<circle cx="622.3" cy="1994.9" r="7.5" fill="#E8843C"/>
<path d="M147.7,2053.4 C174.0,2042.9 252.9,2012.5 305.6,1990.0 C358.3,1967.4 411.1,1935.1 463.9,1918.1 C516.7,1901.2 595.9,1893.2 622.3,1888.2" fill="none" stroke="#E3BC2D" stroke-width="3.8" stroke-linecap="round"/>
<circle cx="147.7" cy="2053.4" r="7.5" fill="#E3BC2D"/>
<circle cx="305.6" cy="1990.0" r="7.5" fill="#E3BC2D"/>
<circle cx="463.9" cy="1918.1" r="7.5" fill="#E3BC2D"/>
<circle cx="622.3" cy="1888.2" r="7.5" fill="#E3BC2D"/>
<path d="M147.7,2255.7 C174.0,2254.9 252.9,2255.0 305.6,2251.3 C358.3,2247.7 411.1,2241.5 463.9,2233.6 C516.7,2225.8 595.9,2209.2 622.3,2204.3" fill="none" stroke="#7DCC45" stroke-width="3.8" stroke-linecap="round"/>
<circle cx="147.7" cy="2255.7" r="7.5" fill="#7DCC45"/>
<circle cx="305.6" cy="2251.3" r="7.5" fill="#7DCC45"/>
<circle cx="463.9" cy="2233.6" r="7.5" fill="#7DCC45"/>
<circle cx="622.3" cy="2204.3" r="7.5" fill="#7DCC45"/>
<path d="M147.7,2245.5 C174.0,2244.0 252.9,2243.4 305.6,2236.6 C358.3,2229.7 411.1,2212.8 463.9,2204.3 C516.7,2195.9 595.9,2188.9 622.3,2185.8" fill="none" stroke="#5CD3BD" stroke-width="3.8" stroke-linecap="round"/>
<circle cx="147.7" cy="2245.5" r="7.5" fill="#5CD3BD"/>
<circle cx="305.6" cy="2236.6" r="7.5" fill="#5CD3BD"/>
<circle cx="463.9" cy="2204.3" r="7.5" fill="#5CD3BD"/>
<circle cx="622.3" cy="2185.8" r="7.5" fill="#5CD3BD"/>
<path d="M147.7,2155.8 C174.0,2150.9 252.9,2140.8 305.6,2126.4 C358.3,2112.0 411.1,2085.2 463.9,2069.5 C516.7,2053.7 595.9,2038.1 622.3,2031.8" fill="none" stroke="#E5506B" stroke-width="3.8" stroke-linecap="round"/>
<circle cx="147.7" cy="2155.8" r="7.5" fill="#E5506B"/>
<circle cx="305.6" cy="2126.4" r="7.5" fill="#E5506B"/>
<circle cx="463.9" cy="2069.5" r="7.5" fill="#E5506B"/>
<circle cx="622.3" cy="2031.8" r="7.5" fill="#E5506B"/>
<path d="M147.7,2221.9 C174.0,2219.1 252.9,2214.2 305.6,2204.9 C358.3,2195.6 411.1,2175.3 463.9,2166.1 C516.7,2157.0 595.9,2152.6 622.3,2149.9" fill="none" stroke="#2B4684" stroke-width="3.8" stroke-linecap="round"/>
<circle cx="147.7" cy="2221.9" r="7.5" fill="#2B4684"/>
<circle cx="305.6" cy="2204.9" r="7.5" fill="#2B4684"/>
<circle cx="463.9" cy="2166.1" r="7.5" fill="#2B4684"/>
<circle cx="622.3" cy="2149.9" r="7.5" fill="#2B4684"/>
<path d="M147.7,2172.0 C174.0,2169.0 252.9,2163.8 305.6,2154.4 C358.3,2145.0 411.1,2126.4 463.9,2115.8 C516.7,2105.1 595.9,2094.7 622.3,2090.5" fill="none" stroke="#A1521D" stroke-width="3.8" stroke-linecap="round"/>
<circle cx="147.7" cy="2172.0" r="7.5" fill="#A1521D"/>
<circle cx="305.6" cy="2154.4" r="7.5" fill="#A1521D"/>
<circle cx="463.9" cy="2115.8" r="7.5" fill="#A1521D"/>
<circle cx="622.3" cy="2090.5" r="7.5" fill="#A1521D"/>
<path d="M147.7,2249.2 C174.0,2248.4 252.9,2247.5 305.6,2243.9 C358.3,2240.4 411.1,2232.9 463.9,2227.8 C516.7,2222.6 595.9,2215.6 622.3,2213.1" fill="none" stroke="#96791F" stroke-width="3.8" stroke-linecap="round"/>
<circle cx="147.7" cy="2249.2" r="7.5" fill="#96791F"/>
<circle cx="305.6" cy="2243.9" r="7.5" fill="#96791F"/>
<circle cx="463.9" cy="2227.8" r="7.5" fill="#96791F"/>
<circle cx="622.3" cy="2213.1" r="7.5" fill="#96791F"/>
<path d="M147.7,2251.3 C174.0,2250.6 252.9,2250.1 305.6,2246.9 C358.3,2243.7 411.1,2237.7 463.9,2232.2 C516.7,2226.7 595.9,2217.0 622.3,2214.0" fill="none" stroke="#4A7A2C" stroke-width="3.8" stroke-linecap="round"/>
<circle cx="147.7" cy="2251.3" r="7.5" fill="#4A7A2C"/>
<circle cx="305.6" cy="2246.9" r="7.5" fill="#4A7A2C"/>
<circle cx="463.9" cy="2232.2" r="7.5" fill="#4A7A2C"/>
<circle cx="622.3" cy="2214.0" r="7.5" fill="#4A7A2C"/>
<path d="M147.7,2243.9 C174.0,2243.0 252.9,2241.9 305.6,2238.1 C358.3,2234.3 411.1,2226.3 463.9,2221.3 C516.7,2216.4 595.9,2210.8 622.3,2208.7" fill="none" stroke="#35806B" stroke-width="3.8" stroke-linecap="round"/>
<circle cx="147.7" cy="2243.9" r="7.5" fill="#35806B"/>
<circle cx="305.6" cy="2238.1" r="7.5" fill="#35806B"/>
<circle cx="463.9" cy="2221.3" r="7.5" fill="#35806B"/>
<circle cx="622.3" cy="2208.7" r="7.5" fill="#35806B"/>
<path d="M147.7,2221.1 C174.0,2218.8 252.9,2214.6 305.6,2207.3 C358.3,2200.0 411.1,2185.7 463.9,2177.3 C516.7,2168.8 595.9,2160.1 622.3,2156.6" fill="none" stroke="#A01D2C" stroke-width="3.8" stroke-linecap="round"/>
<circle cx="147.7" cy="2221.1" r="7.5" fill="#A01D2C"/>
<circle cx="305.6" cy="2207.3" r="7.5" fill="#A01D2C"/>
<circle cx="463.9" cy="2177.3" r="7.5" fill="#A01D2C"/>
<circle cx="622.3" cy="2156.6" r="7.5" fill="#A01D2C"/>
<path d="M147.7,2231.7 C174.0,2230.6 252.9,2229.5 305.6,2225.0 C358.3,2220.4 411.1,2210.6 463.9,2204.3 C516.7,2198.1 595.9,2190.2 622.3,2187.3" fill="none" stroke="#7091DE" stroke-width="3.8" stroke-linecap="round"/>
<circle cx="147.7" cy="2231.7" r="7.5" fill="#7091DE"/>
<circle cx="305.6" cy="2225.0" r="7.5" fill="#7091DE"/>
<circle cx="463.9" cy="2204.3" r="7.5" fill="#7091DE"/>
<circle cx="622.3" cy="2187.3" r="7.5" fill="#7091DE"/>
<path d="M147.7,2266.0 C174.0,2265.1 252.9,2266.1 305.6,2261.0 C358.3,2255.8 411.1,2242.5 463.9,2235.2 C516.7,2227.8 595.9,2219.9 622.3,2216.9" fill="none" stroke="#E79A5E" stroke-width="3.8" stroke-linecap="round"/>
<circle cx="147.7" cy="2266.0" r="7.5" fill="#E79A5E"/>
<circle cx="305.6" cy="2261.0" r="7.5" fill="#E79A5E"/>
<circle cx="463.9" cy="2235.2" r="7.5" fill="#E79A5E"/>
<circle cx="622.3" cy="2216.9" r="7.5" fill="#E79A5E"/>
<path d="M147.7,2260.1 C174.0,2259.4 252.9,2258.8 305.6,2255.7 C358.3,2252.5 411.1,2244.9 463.9,2241.0 C516.7,2237.1 595.9,2233.7 622.3,2232.2" fill="none" stroke="#EDD040" stroke-width="3.8" stroke-linecap="round"/>
<circle cx="147.7" cy="2260.1" r="7.5" fill="#EDD040"/>
<circle cx="305.6" cy="2255.7" r="7.5" fill="#EDD040"/>
<circle cx="463.9" cy="2241.0" r="7.5" fill="#EDD040"/>
<circle cx="622.3" cy="2232.2" r="7.5" fill="#EDD040"/>
<path d="M147.7,2258.7 C174.0,2257.7 252.9,2255.3 305.6,2252.7 C358.3,2250.1 411.1,2245.6 463.9,2243.1 C516.7,2240.6 595.9,2238.5 622.3,2237.5" fill="none" stroke="#9ADB6A" stroke-width="3.8" stroke-linecap="round"/>
<circle cx="147.7" cy="2258.7" r="7.5" fill="#9ADB6A"/>
<circle cx="305.6" cy="2252.7" r="7.5" fill="#9ADB6A"/>
<circle cx="463.9" cy="2243.1" r="7.5" fill="#9ADB6A"/>
<circle cx="622.3" cy="2237.5" r="7.5" fill="#9ADB6A"/>
<path d="M147.7,2264.0 C174.0,2263.1 252.9,2260.9 305.6,2258.7 C358.3,2256.5 411.1,2253.8 463.9,2250.8 C516.7,2247.7 595.9,2242.1 622.3,2240.3" fill="none" stroke="#7DEBD5" stroke-width="3.8" stroke-linecap="round"/>
<circle cx="147.7" cy="2264.0" r="7.5" fill="#7DEBD5"/>
<circle cx="305.6" cy="2258.7" r="7.5" fill="#7DEBD5"/>
<circle cx="463.9" cy="2250.8" r="7.5" fill="#7DEBD5"/>
<circle cx="622.3" cy="2240.3" r="7.5" fill="#7DEBD5"/>
<path d="M147.7,2246.3 C174.0,2243.7 252.9,2237.6 305.6,2230.7 C358.3,2223.7 411.1,2211.7 463.9,2204.6 C516.7,2197.5 595.9,2190.9 622.3,2188.2" fill="none" stroke="#E8708A" stroke-width="3.8" stroke-linecap="round"/>
<circle cx="147.7" cy="2246.3" r="7.5" fill="#E8708A"/>
<circle cx="305.6" cy="2230.7" r="7.5" fill="#E8708A"/>
<circle cx="463.9" cy="2204.6" r="7.5" fill="#E8708A"/>
<circle cx="622.3" cy="2188.2" r="7.5" fill="#E8708A"/>
<path d="M147.7,2238.1 C174.0,2235.0 252.9,2228.4 305.6,2219.8 C358.3,2211.2 411.1,2194.7 463.9,2186.6 C516.7,2178.5 595.9,2173.7 622.3,2171.1" fill="none" stroke="#4460BB" stroke-width="3.8" stroke-linecap="round"/>
<circle cx="147.7" cy="2238.1" r="7.5" fill="#4460BB"/>
<circle cx="305.6" cy="2219.8" r="7.5" fill="#4460BB"/>
<circle cx="463.9" cy="2186.6" r="7.5" fill="#4460BB"/>
<circle cx="622.3" cy="2171.1" r="7.5" fill="#4460BB"/></g>
<g id="chart-e"><rect x="812.7" y="1853" width="475.8" height="418.3000000000002" fill="#F2F2F2"/>
<path d="M971,1853 V2271.3" stroke="#D0D0D0" stroke-width="1.2" fill="none"/>
<path d="M1129.3,1853 V2271.3" stroke="#D0D0D0" stroke-width="1.2" fill="none"/>
<path d="M1287.7,1853 V2271.3" stroke="#D0D0D0" stroke-width="1.2" fill="none"/>
<path d="M812.7,1852 V2271.3" stroke="#000" stroke-width="2.6" fill="none"/>
<path d="M804.7,2271.3 H1288.7" stroke="#000" stroke-width="2.6" fill="none"/>
<path d="M804.7,2271.3 H812.7" stroke="#000" stroke-width="2.2" fill="none"/>
<text x="778.2" y="2281.8" text-anchor="end" font-family="'Liberation Serif',serif" font-size="31">0.07</text>
<path d="M804.7,2201.6 H812.7" stroke="#000" stroke-width="2.2" fill="none"/>
<text x="778.2" y="2212.1" text-anchor="end" font-family="'Liberation Serif',serif" font-size="31">0.08</text>
<path d="M804.7,2131.9 H812.7" stroke="#000" stroke-width="2.2" fill="none"/>
<text x="778.2" y="2142.4" text-anchor="end" font-family="'Liberation Serif',serif" font-size="31">0.09</text>
<path d="M804.7,2062.2 H812.7" stroke="#000" stroke-width="2.2" fill="none"/>
<text x="778.2" y="2072.7" text-anchor="end" font-family="'Liberation Serif',serif" font-size="31">0.10</text>
<path d="M804.7,1992.4 H812.7" stroke="#000" stroke-width="2.2" fill="none"/>
<text x="778.2" y="2002.9" text-anchor="end" font-family="'Liberation Serif',serif" font-size="31">0.11</text>
<path d="M804.7,1922.7 H812.7" stroke="#000" stroke-width="2.2" fill="none"/>
<text x="778.2" y="1933.2" text-anchor="end" font-family="'Liberation Serif',serif" font-size="31">0.12</text>
<path d="M804.7,1853.0 H812.7" stroke="#000" stroke-width="2.2" fill="none"/>
<text x="778.2" y="1863.5" text-anchor="end" font-family="'Liberation Serif',serif" font-size="31">0.13</text>
<path d="M812.7,2271.3 V2280.3" stroke="#000" stroke-width="2.2" fill="none"/>
<text x="812.7" y="2318.3" text-anchor="middle" font-family="'Liberation Serif',serif" font-size="31">2005</text>
<path d="M971,2271.3 V2280.3" stroke="#000" stroke-width="2.2" fill="none"/>
<text x="971" y="2318.3" text-anchor="middle" font-family="'Liberation Serif',serif" font-size="31">2010</text>
<path d="M1129.3,2271.3 V2280.3" stroke="#000" stroke-width="2.2" fill="none"/>
<text x="1129.3" y="2318.3" text-anchor="middle" font-family="'Liberation Serif',serif" font-size="31">2015</text>
<path d="M1287.7,2271.3 V2280.3" stroke="#000" stroke-width="2.2" fill="none"/>
<text x="1287.7" y="2318.3" text-anchor="middle" font-family="'Liberation Serif',serif" font-size="31">2020</text>
<text x="1051" y="2359.8" text-anchor="middle" font-family="'Liberation Serif',serif" font-size="30">Year</text>
<text transform="translate(710,2062.2) rotate(-90)" text-anchor="middle" font-family="'Liberation Serif',serif" font-size="30">VUII</text>
<path d="M812.7,2256.7 C839.1,2253.2 918.2,2237.5 971.0,2235.5 C1023.8,2233.6 1076.5,2249.0 1129.3,2245.2 C1182.1,2241.3 1261.3,2218.0 1287.7,2212.5" fill="none" stroke="#5B80D6" stroke-width="3.8" stroke-linecap="round"/>
<circle cx="812.7" cy="2256.7" r="7.5" fill="#5B80D6"/>
<circle cx="971.0" cy="2235.5" r="7.5" fill="#5B80D6"/>
<circle cx="1129.3" cy="2245.2" r="7.5" fill="#5B80D6"/>
<circle cx="1287.7" cy="2212.5" r="7.5" fill="#5B80D6"/>
<path d="M812.7,2150.0 C839.1,2148.7 918.2,2142.1 971.0,2142.3 C1023.8,2142.4 1076.5,2157.5 1129.3,2151.0 C1182.1,2144.4 1261.3,2110.8 1287.7,2102.8" fill="none" stroke="#E8843C" stroke-width="3.8" stroke-linecap="round"/>
<circle cx="812.7" cy="2150.0" r="7.5" fill="#E8843C"/>
<circle cx="971.0" cy="2142.3" r="7.5" fill="#E8843C"/>
<circle cx="1129.3" cy="2151.0" r="7.5" fill="#E8843C"/>
<circle cx="1287.7" cy="2102.8" r="7.5" fill="#E8843C"/>
<path d="M812.7,1991.4 C839.1,1992.5 918.2,1996.1 971.0,1997.7 C1023.8,1999.3 1076.5,2009.7 1129.3,2001.1 C1182.1,1992.4 1261.3,1955.0 1287.7,1945.7" fill="none" stroke="#E3BC2D" stroke-width="3.8" stroke-linecap="round"/>
<circle cx="812.7" cy="1991.4" r="7.5" fill="#E3BC2D"/>
<circle cx="971.0" cy="1997.7" r="7.5" fill="#E3BC2D"/>
<circle cx="1129.3" cy="2001.1" r="7.5" fill="#E3BC2D"/>
<circle cx="1287.7" cy="1945.7" r="7.5" fill="#E3BC2D"/>
<path d="M812.7,1923.3 C839.1,1933.4 918.2,1963.2 971.0,1983.7 C1023.8,2004.1 1076.5,2031.1 1129.3,2045.9 C1182.1,2060.6 1261.3,2067.9 1287.7,2072.3" fill="none" stroke="#7DCC45" stroke-width="3.8" stroke-linecap="round"/>
<circle cx="812.7" cy="1923.3" r="7.5" fill="#7DCC45"/>
<circle cx="971.0" cy="1983.7" r="7.5" fill="#7DCC45"/>
<circle cx="1129.3" cy="2045.9" r="7.5" fill="#7DCC45"/>
<circle cx="1287.7" cy="2072.3" r="7.5" fill="#7DCC45"/>
<path d="M812.7,2029.1 C839.1,2029.9 918.2,2024.7 971.0,2034.4 C1023.8,2044.0 1076.5,2082.1 1129.3,2087.2 C1182.1,2092.3 1261.3,2068.6 1287.7,2064.8" fill="none" stroke="#5CD3BD" stroke-width="3.8" stroke-linecap="round"/>
<circle cx="812.7" cy="2029.1" r="7.5" fill="#5CD3BD"/>
<circle cx="971.0" cy="2034.4" r="7.5" fill="#5CD3BD"/>
<circle cx="1129.3" cy="2087.2" r="7.5" fill="#5CD3BD"/>
<circle cx="1287.7" cy="2064.8" r="7.5" fill="#5CD3BD"/>
<path d="M812.7,2225.6 C839.1,2223.6 918.2,2213.6 971.0,2213.8 C1023.8,2213.9 1076.5,2230.8 1129.3,2226.5 C1182.1,2222.3 1261.3,2194.6 1287.7,2188.3" fill="none" stroke="#E5506B" stroke-width="3.8" stroke-linecap="round"/>
<circle cx="812.7" cy="2225.6" r="7.5" fill="#E5506B"/>
<circle cx="971.0" cy="2213.8" r="7.5" fill="#E5506B"/>
<circle cx="1129.3" cy="2226.5" r="7.5" fill="#E5506B"/>
<circle cx="1287.7" cy="2188.3" r="7.5" fill="#E5506B"/>
<path d="M812.7,2029.1 C839.1,2028.4 918.2,2022.2 971.0,2025.3 C1023.8,2028.4 1076.5,2047.7 1129.3,2047.7 C1182.1,2047.7 1261.3,2029.1 1287.7,2025.3" fill="none" stroke="#2B4684" stroke-width="3.8" stroke-linecap="round"/>
<circle cx="812.7" cy="2029.1" r="7.5" fill="#2B4684"/>
<circle cx="971.0" cy="2025.3" r="7.5" fill="#2B4684"/>
<circle cx="1129.3" cy="2047.7" r="7.5" fill="#2B4684"/>
<circle cx="1287.7" cy="2025.3" r="7.5" fill="#2B4684"/>
<path d="M812.7,2206.3 C839.1,2205.1 918.2,2199.8 971.0,2199.2 C1023.8,2198.5 1076.5,2208.0 1129.3,2202.3 C1182.1,2196.6 1261.3,2171.2 1287.7,2165.0" fill="none" stroke="#A1521D" stroke-width="3.8" stroke-linecap="round"/>
<circle cx="812.7" cy="2206.3" r="7.5" fill="#A1521D"/>
<circle cx="971.0" cy="2199.2" r="7.5" fill="#A1521D"/>
<circle cx="1129.3" cy="2202.3" r="7.5" fill="#A1521D"/>
<circle cx="1287.7" cy="2165.0" r="7.5" fill="#A1521D"/>
<path d="M812.7,2115.8 C839.1,2115.9 918.2,2114.4 971.0,2116.1 C1023.8,2117.8 1076.5,2123.2 1129.3,2126.1 C1182.1,2129.0 1261.3,2132.3 1287.7,2133.5" fill="none" stroke="#96791F" stroke-width="3.8" stroke-linecap="round"/>
<circle cx="812.7" cy="2115.8" r="7.5" fill="#96791F"/>
<circle cx="971.0" cy="2116.1" r="7.5" fill="#96791F"/>
<circle cx="1129.3" cy="2126.1" r="7.5" fill="#96791F"/>
<circle cx="1287.7" cy="2133.5" r="7.5" fill="#96791F"/>
<path d="M812.7,2048.3 C839.1,2047.8 918.2,2048.5 971.0,2045.2 C1023.8,2042.0 1076.5,2029.5 1129.3,2028.8 C1182.1,2028.0 1261.3,2038.9 1287.7,2040.9" fill="none" stroke="#4A7A2C" stroke-width="3.8" stroke-linecap="round"/>
<circle cx="812.7" cy="2048.3" r="7.5" fill="#4A7A2C"/>
<circle cx="971.0" cy="2045.2" r="7.5" fill="#4A7A2C"/>
<circle cx="1129.3" cy="2028.8" r="7.5" fill="#4A7A2C"/>
<circle cx="1287.7" cy="2040.9" r="7.5" fill="#4A7A2C"/>
<path d="M812.7,2252.0 C839.1,2248.2 918.2,2228.4 971.0,2229.3 C1023.8,2230.3 1076.5,2258.0 1129.3,2257.6 C1182.1,2257.3 1261.3,2232.2 1287.7,2227.1" fill="none" stroke="#35806B" stroke-width="3.8" stroke-linecap="round"/>
<circle cx="812.7" cy="2252.0" r="7.5" fill="#35806B"/>
<circle cx="971.0" cy="2229.3" r="7.5" fill="#35806B"/>
<circle cx="1129.3" cy="2257.6" r="7.5" fill="#35806B"/>
<circle cx="1287.7" cy="2227.1" r="7.5" fill="#35806B"/>
<path d="M812.7,2184.5 C839.1,2181.4 918.2,2163.8 971.0,2165.6 C1023.8,2167.3 1076.5,2195.1 1129.3,2195.1 C1182.1,2195.1 1261.3,2170.5 1287.7,2165.6" fill="none" stroke="#A01D2C" stroke-width="3.8" stroke-linecap="round"/>
<circle cx="812.7" cy="2184.5" r="7.5" fill="#A01D2C"/>
<circle cx="971.0" cy="2165.6" r="7.5" fill="#A01D2C"/>
<circle cx="1129.3" cy="2195.1" r="7.5" fill="#A01D2C"/>
<circle cx="1287.7" cy="2165.6" r="7.5" fill="#A01D2C"/>
<path d="M812.7,2218.7 C839.1,2215.9 918.2,2203.1 971.0,2201.6 C1023.8,2200.2 1076.5,2212.4 1129.3,2210.0 C1182.1,2207.7 1261.3,2191.1 1287.7,2187.3" fill="none" stroke="#7091DE" stroke-width="3.8" stroke-linecap="round"/>
<circle cx="812.7" cy="2218.7" r="7.5" fill="#7091DE"/>
<circle cx="971.0" cy="2201.6" r="7.5" fill="#7091DE"/>
<circle cx="1129.3" cy="2210.0" r="7.5" fill="#7091DE"/>
<circle cx="1287.7" cy="2187.3" r="7.5" fill="#7091DE"/>
<path d="M812.7,1907.5 C839.1,1925.9 918.2,1987.0 971.0,2018.2 C1023.8,2049.3 1076.5,2082.1 1129.3,2094.4 C1182.1,2106.6 1261.3,2092.3 1287.7,2091.9" fill="none" stroke="#E79A5E" stroke-width="3.8" stroke-linecap="round"/>
<circle cx="812.7" cy="1907.5" r="7.5" fill="#E79A5E"/>
<circle cx="971.0" cy="2018.2" r="7.5" fill="#E79A5E"/>
<circle cx="1129.3" cy="2094.4" r="7.5" fill="#E79A5E"/>
<circle cx="1287.7" cy="2091.9" r="7.5" fill="#E79A5E"/>
<path d="M812.7,2056.7 C839.1,2060.9 918.2,2073.0 971.0,2081.6 C1023.8,2090.2 1076.5,2103.4 1129.3,2108.4 C1182.1,2113.3 1261.3,2110.7 1287.7,2111.2" fill="none" stroke="#EDD040" stroke-width="3.8" stroke-linecap="round"/>
<circle cx="812.7" cy="2056.7" r="7.5" fill="#EDD040"/>
<circle cx="971.0" cy="2081.6" r="7.5" fill="#EDD040"/>
<circle cx="1129.3" cy="2108.4" r="7.5" fill="#EDD040"/>
<circle cx="1287.7" cy="2111.2" r="7.5" fill="#EDD040"/>
<path d="M812.7,2226.2 C839.1,2218.9 918.2,2188.9 971.0,2182.1 C1023.8,2175.2 1076.5,2191.0 1129.3,2185.2 C1182.1,2179.3 1261.3,2153.3 1287.7,2146.9" fill="none" stroke="#9ADB6A" stroke-width="3.8" stroke-linecap="round"/>
<circle cx="812.7" cy="2226.2" r="7.5" fill="#9ADB6A"/>
<circle cx="971.0" cy="2182.1" r="7.5" fill="#9ADB6A"/>
<circle cx="1129.3" cy="2185.2" r="7.5" fill="#9ADB6A"/>
<circle cx="1287.7" cy="2146.9" r="7.5" fill="#9ADB6A"/>
<path d="M812.7,2165.6 C839.1,2167.8 918.2,2173.0 971.0,2178.9 C1023.8,2184.9 1076.5,2197.3 1129.3,2201.3 C1182.1,2205.4 1261.3,2202.9 1287.7,2203.2" fill="none" stroke="#7DEBD5" stroke-width="3.8" stroke-linecap="round"/>
<circle cx="812.7" cy="2165.6" r="7.5" fill="#7DEBD5"/>
<circle cx="971.0" cy="2178.9" r="7.5" fill="#7DEBD5"/>
<circle cx="1129.3" cy="2201.3" r="7.5" fill="#7DEBD5"/>
<circle cx="1287.7" cy="2203.2" r="7.5" fill="#7DEBD5"/>
<path d="M812.7,2206.0 C839.1,2203.1 918.2,2183.6 971.0,2188.9 C1023.8,2194.2 1076.5,2231.9 1129.3,2238.0 C1182.1,2244.1 1261.3,2227.7 1287.7,2225.6" fill="none" stroke="#E8708A" stroke-width="3.8" stroke-linecap="round"/>
<circle cx="812.7" cy="2206.0" r="7.5" fill="#E8708A"/>
<circle cx="971.0" cy="2188.9" r="7.5" fill="#E8708A"/>
<circle cx="1129.3" cy="2238.0" r="7.5" fill="#E8708A"/>
<circle cx="1287.7" cy="2225.6" r="7.5" fill="#E8708A"/>
<path d="M812.7,2225.0 C839.1,2228.8 918.2,2246.2 971.0,2248.0 C1023.8,2249.8 1076.5,2243.6 1129.3,2235.9 C1182.1,2228.1 1261.3,2207.1 1287.7,2201.3" fill="none" stroke="#4460BB" stroke-width="3.8" stroke-linecap="round"/>
<circle cx="812.7" cy="2225.0" r="7.5" fill="#4460BB"/>
<circle cx="971.0" cy="2248.0" r="7.5" fill="#4460BB"/>
<circle cx="1129.3" cy="2235.9" r="7.5" fill="#4460BB"/>
<circle cx="1287.7" cy="2201.3" r="7.5" fill="#4460BB"/></g>
<g id="chart-f"><rect x="1477.3" y="1853" width="474.09999999999997" height="417.5999999999999" fill="#F2F2F2"/>
<path d="M1634.8,1853 V2270.6" stroke="#D0D0D0" stroke-width="1.2" fill="none"/>
<path d="M1792.5,1853 V2270.6" stroke="#D0D0D0" stroke-width="1.2" fill="none"/>
<path d="M1950.6,1853 V2270.6" stroke="#D0D0D0" stroke-width="1.2" fill="none"/>
<path d="M1477.3,1852 V2270.6" stroke="#000" stroke-width="2.6" fill="none"/>
<path d="M1469.3,2270.6 H1951.6" stroke="#000" stroke-width="2.6" fill="none"/>
<path d="M1469.3,2270.6 H1477.3" stroke="#000" stroke-width="2.2" fill="none"/>
<text x="1442.8" y="2281.1" text-anchor="end" font-family="'Liberation Serif',serif" font-size="31">0.00</text>
<path d="M1469.3,2201.0 H1477.3" stroke="#000" stroke-width="2.2" fill="none"/>
<text x="1442.8" y="2211.5" text-anchor="end" font-family="'Liberation Serif',serif" font-size="31">0.10</text>
<path d="M1469.3,2131.4 H1477.3" stroke="#000" stroke-width="2.2" fill="none"/>
<text x="1442.8" y="2141.9" text-anchor="end" font-family="'Liberation Serif',serif" font-size="31">0.20</text>
<path d="M1469.3,2061.8 H1477.3" stroke="#000" stroke-width="2.2" fill="none"/>
<text x="1442.8" y="2072.3" text-anchor="end" font-family="'Liberation Serif',serif" font-size="31">0.30</text>
<path d="M1469.3,1992.2 H1477.3" stroke="#000" stroke-width="2.2" fill="none"/>
<text x="1442.8" y="2002.7" text-anchor="end" font-family="'Liberation Serif',serif" font-size="31">0.40</text>
<path d="M1469.3,1922.6 H1477.3" stroke="#000" stroke-width="2.2" fill="none"/>
<text x="1442.8" y="1933.1" text-anchor="end" font-family="'Liberation Serif',serif" font-size="31">0.50</text>
<path d="M1469.3,1853.0 H1477.3" stroke="#000" stroke-width="2.2" fill="none"/>
<text x="1442.8" y="1863.5" text-anchor="end" font-family="'Liberation Serif',serif" font-size="31">0.60</text>
<path d="M1477.3,2270.6 V2279.6" stroke="#000" stroke-width="2.2" fill="none"/>
<text x="1477.3" y="2317.6" text-anchor="middle" font-family="'Liberation Serif',serif" font-size="31">2005</text>
<path d="M1634.8,2270.6 V2279.6" stroke="#000" stroke-width="2.2" fill="none"/>
<text x="1634.8" y="2317.6" text-anchor="middle" font-family="'Liberation Serif',serif" font-size="31">2010</text>
<path d="M1792.5,2270.6 V2279.6" stroke="#000" stroke-width="2.2" fill="none"/>
<text x="1792.5" y="2317.6" text-anchor="middle" font-family="'Liberation Serif',serif" font-size="31">2015</text>
<path d="M1950.6,2270.6 V2279.6" stroke="#000" stroke-width="2.2" fill="none"/>
<text x="1950.6" y="2317.6" text-anchor="middle" font-family="'Liberation Serif',serif" font-size="31">2020</text>
<text x="1714" y="2359.1" text-anchor="middle" font-family="'Liberation Serif',serif" font-size="30">Year</text>
<text transform="translate(1376,2061.8) rotate(-90)" text-anchor="middle" font-family="'Liberation Serif',serif" font-size="30">3D-UII</text>
<path d="M1477.3,2146.5 C1503.5,2142.8 1582.3,2131.2 1634.8,2124.7 C1687.3,2118.2 1739.9,2116.4 1792.5,2107.6 C1845.1,2098.8 1924.2,2077.8 1950.6,2071.8" fill="none" stroke="#5B80D6" stroke-width="3.8" stroke-linecap="round"/>
<circle cx="1477.3" cy="2146.5" r="7.5" fill="#5B80D6"/>
<circle cx="1634.8" cy="2124.7" r="7.5" fill="#5B80D6"/>
<circle cx="1792.5" cy="2107.6" r="7.5" fill="#5B80D6"/>
<circle cx="1950.6" cy="2071.8" r="7.5" fill="#5B80D6"/>
<path d="M1477.3,2102.9 C1503.5,2098.5 1582.3,2086.3 1634.8,2076.5 C1687.3,2066.6 1739.9,2056.6 1792.5,2043.8 C1845.1,2030.9 1924.2,2006.7 1950.6,1999.3" fill="none" stroke="#E8843C" stroke-width="3.8" stroke-linecap="round"/>
<circle cx="1477.3" cy="2102.9" r="7.5" fill="#E8843C"/>
<circle cx="1634.8" cy="2076.5" r="7.5" fill="#E8843C"/>
<circle cx="1792.5" cy="2043.8" r="7.5" fill="#E8843C"/>
<circle cx="1950.6" cy="1999.3" r="7.5" fill="#E8843C"/>
<path d="M1477.3,1967.6 C1503.5,1963.3 1582.3,1951.4 1634.8,1942.0 C1687.3,1932.7 1739.9,1923.6 1792.5,1911.6 C1845.1,1899.5 1924.2,1876.6 1950.6,1869.6" fill="none" stroke="#E3BC2D" stroke-width="3.8" stroke-linecap="round"/>
<circle cx="1477.3" cy="1967.6" r="7.5" fill="#E3BC2D"/>
<circle cx="1634.8" cy="1942.0" r="7.5" fill="#E3BC2D"/>
<circle cx="1792.5" cy="1911.6" r="7.5" fill="#E3BC2D"/>
<circle cx="1950.6" cy="1869.6" r="7.5" fill="#E3BC2D"/>
<path d="M1477.3,2027.3 C1503.5,2032.0 1582.3,2046.7 1634.8,2055.3 C1687.3,2063.9 1739.9,2074.9 1792.5,2078.9 C1845.1,2083.0 1924.2,2079.5 1950.6,2079.6" fill="none" stroke="#7DCC45" stroke-width="3.8" stroke-linecap="round"/>
<circle cx="1477.3" cy="2027.3" r="7.5" fill="#7DCC45"/>
<circle cx="1634.8" cy="2055.3" r="7.5" fill="#7DCC45"/>
<circle cx="1792.5" cy="2078.9" r="7.5" fill="#7DCC45"/>
<circle cx="1950.6" cy="2079.6" r="7.5" fill="#7DCC45"/>
<path d="M1477.3,2074.9 C1503.5,2074.5 1582.3,2070.6 1634.8,2072.7 C1687.3,2074.8 1739.9,2088.0 1792.5,2087.3 C1845.1,2086.7 1924.2,2071.8 1950.6,2068.7" fill="none" stroke="#5CD3BD" stroke-width="3.8" stroke-linecap="round"/>
<circle cx="1477.3" cy="2074.9" r="7.5" fill="#5CD3BD"/>
<circle cx="1634.8" cy="2072.7" r="7.5" fill="#5CD3BD"/>
<circle cx="1792.5" cy="2087.3" r="7.5" fill="#5CD3BD"/>
<circle cx="1950.6" cy="2068.7" r="7.5" fill="#5CD3BD"/>
<path d="M1477.3,2134.0 C1503.5,2130.9 1582.3,2121.6 1634.8,2115.3 C1687.3,2109.1 1739.9,2106.0 1792.5,2096.7 C1845.1,2087.3 1924.2,2065.6 1950.6,2059.3" fill="none" stroke="#E5506B" stroke-width="3.8" stroke-linecap="round"/>
<circle cx="1477.3" cy="2134.0" r="7.5" fill="#E5506B"/>
<circle cx="1634.8" cy="2115.3" r="7.5" fill="#E5506B"/>
<circle cx="1792.5" cy="2096.7" r="7.5" fill="#E5506B"/>
<circle cx="1950.6" cy="2059.3" r="7.5" fill="#E5506B"/>
<path d="M1477.3,2065.6 C1503.5,2063.9 1582.3,2058.0 1634.8,2055.3 C1687.3,2052.5 1739.9,2053.3 1792.5,2049.1 C1845.1,2044.8 1924.2,2033.0 1950.6,2029.8" fill="none" stroke="#2B4684" stroke-width="3.8" stroke-linecap="round"/>
<circle cx="1477.3" cy="2065.6" r="7.5" fill="#2B4684"/>
<circle cx="1634.8" cy="2055.3" r="7.5" fill="#2B4684"/>
<circle cx="1792.5" cy="2049.1" r="7.5" fill="#2B4684"/>
<circle cx="1950.6" cy="2029.8" r="7.5" fill="#2B4684"/>
<path d="M1477.3,2132.5 C1503.5,2130.4 1582.3,2124.7 1634.8,2120.0 C1687.3,2115.3 1739.9,2112.0 1792.5,2104.5 C1845.1,2096.9 1924.2,2079.8 1950.6,2074.9" fill="none" stroke="#A1521D" stroke-width="3.8" stroke-linecap="round"/>
<circle cx="1477.3" cy="2132.5" r="7.5" fill="#A1521D"/>
<circle cx="1634.8" cy="2120.0" r="7.5" fill="#A1521D"/>
<circle cx="1792.5" cy="2104.5" r="7.5" fill="#A1521D"/>
<circle cx="1950.6" cy="2074.9" r="7.5" fill="#A1521D"/>
<path d="M1477.3,2121.6 C1503.5,2121.3 1582.3,2121.0 1634.8,2120.0 C1687.3,2119.0 1739.9,2116.4 1792.5,2115.3 C1845.1,2114.3 1924.2,2114.0 1950.6,2113.8" fill="none" stroke="#96791F" stroke-width="3.8" stroke-linecap="round"/>
<circle cx="1477.3" cy="2121.6" r="7.5" fill="#96791F"/>
<circle cx="1634.8" cy="2120.0" r="7.5" fill="#96791F"/>
<circle cx="1792.5" cy="2115.3" r="7.5" fill="#96791F"/>
<circle cx="1950.6" cy="2113.8" r="7.5" fill="#96791F"/>
<path d="M1477.3,2088.3 C1503.5,2087.9 1582.3,2088.8 1634.8,2085.8 C1687.3,2082.8 1739.9,2073.1 1792.5,2070.2 C1845.1,2067.4 1924.2,2068.9 1950.6,2068.7" fill="none" stroke="#4A7A2C" stroke-width="3.8" stroke-linecap="round"/>
<circle cx="1477.3" cy="2088.3" r="7.5" fill="#4A7A2C"/>
<circle cx="1634.8" cy="2085.8" r="7.5" fill="#4A7A2C"/>
<circle cx="1792.5" cy="2070.2" r="7.5" fill="#4A7A2C"/>
<circle cx="1950.6" cy="2068.7" r="7.5" fill="#4A7A2C"/>
<path d="M1477.3,2190.0 C1503.5,2187.6 1582.3,2176.6 1634.8,2175.4 C1687.3,2174.2 1739.9,2185.1 1792.5,2182.9 C1845.1,2180.6 1924.2,2165.5 1950.6,2162.0" fill="none" stroke="#35806B" stroke-width="3.8" stroke-linecap="round"/>
<circle cx="1477.3" cy="2190.0" r="7.5" fill="#35806B"/>
<circle cx="1634.8" cy="2175.4" r="7.5" fill="#35806B"/>
<circle cx="1792.5" cy="2182.9" r="7.5" fill="#35806B"/>
<circle cx="1950.6" cy="2162.0" r="7.5" fill="#35806B"/>
<path d="M1477.3,2144.3 C1503.5,2141.7 1582.3,2131.1 1634.8,2128.7 C1687.3,2126.4 1739.9,2134.1 1792.5,2130.3 C1845.1,2126.5 1924.2,2110.1 1950.6,2106.0" fill="none" stroke="#A01D2C" stroke-width="3.8" stroke-linecap="round"/>
<circle cx="1477.3" cy="2144.3" r="7.5" fill="#A01D2C"/>
<circle cx="1634.8" cy="2128.7" r="7.5" fill="#A01D2C"/>
<circle cx="1792.5" cy="2130.3" r="7.5" fill="#A01D2C"/>
<circle cx="1950.6" cy="2106.0" r="7.5" fill="#A01D2C"/>
<path d="M1477.3,2166.7 C1503.5,2164.9 1582.3,2158.5 1634.8,2155.8 C1687.3,2153.1 1739.9,2154.7 1792.5,2150.5 C1845.1,2146.4 1924.2,2134.2 1950.6,2130.9" fill="none" stroke="#7091DE" stroke-width="3.8" stroke-linecap="round"/>
<circle cx="1477.3" cy="2166.7" r="7.5" fill="#7091DE"/>
<circle cx="1634.8" cy="2155.8" r="7.5" fill="#7091DE"/>
<circle cx="1792.5" cy="2150.5" r="7.5" fill="#7091DE"/>
<circle cx="1950.6" cy="2130.9" r="7.5" fill="#7091DE"/>
<path d="M1477.3,2022.9 C1503.5,2032.1 1582.3,2064.4 1634.8,2078.0 C1687.3,2091.6 1739.9,2101.5 1792.5,2104.5 C1845.1,2107.4 1924.2,2097.2 1950.6,2095.7" fill="none" stroke="#E79A5E" stroke-width="3.8" stroke-linecap="round"/>
<circle cx="1477.3" cy="2022.9" r="7.5" fill="#E79A5E"/>
<circle cx="1634.8" cy="2078.0" r="7.5" fill="#E79A5E"/>
<circle cx="1792.5" cy="2104.5" r="7.5" fill="#E79A5E"/>
<circle cx="1950.6" cy="2095.7" r="7.5" fill="#E79A5E"/>
<path d="M1477.3,2097.6 C1503.5,2099.1 1582.3,2103.7 1634.8,2106.6 C1687.3,2109.6 1739.9,2114.3 1792.5,2115.3 C1845.1,2116.4 1924.2,2113.3 1950.6,2112.9" fill="none" stroke="#EDD040" stroke-width="3.8" stroke-linecap="round"/>
<circle cx="1477.3" cy="2097.6" r="7.5" fill="#EDD040"/>
<circle cx="1634.8" cy="2106.6" r="7.5" fill="#EDD040"/>
<circle cx="1792.5" cy="2115.3" r="7.5" fill="#EDD040"/>
<circle cx="1950.6" cy="2112.9" r="7.5" fill="#EDD040"/>
<path d="M1477.3,2182.2 C1503.5,2178.3 1582.3,2163.1 1634.8,2158.9 C1687.3,2154.8 1739.9,2161.7 1792.5,2157.3 C1845.1,2153.0 1924.2,2137.1 1950.6,2133.1" fill="none" stroke="#9ADB6A" stroke-width="3.8" stroke-linecap="round"/>
<circle cx="1477.3" cy="2182.2" r="7.5" fill="#9ADB6A"/>
<circle cx="1634.8" cy="2158.9" r="7.5" fill="#9ADB6A"/>
<circle cx="1792.5" cy="2157.3" r="7.5" fill="#9ADB6A"/>
<circle cx="1950.6" cy="2133.1" r="7.5" fill="#9ADB6A"/>
<path d="M1477.3,2153.6 C1503.5,2154.6 1582.3,2157.3 1634.8,2159.5 C1687.3,2161.7 1739.9,2166.1 1792.5,2166.7 C1845.1,2167.3 1924.2,2163.6 1950.6,2162.9" fill="none" stroke="#7DEBD5" stroke-width="3.8" stroke-linecap="round"/>
<circle cx="1477.3" cy="2153.6" r="7.5" fill="#7DEBD5"/>
<circle cx="1634.8" cy="2159.5" r="7.5" fill="#7DEBD5"/>
<circle cx="1792.5" cy="2166.7" r="7.5" fill="#7DEBD5"/>
<circle cx="1950.6" cy="2162.9" r="7.5" fill="#7DEBD5"/>
<path d="M1477.3,2166.1 C1503.5,2163.6 1582.3,2151.4 1634.8,2151.1 C1687.3,2150.9 1739.9,2164.6 1792.5,2164.5 C1845.1,2164.4 1924.2,2152.8 1950.6,2150.5" fill="none" stroke="#E8708A" stroke-width="3.8" stroke-linecap="round"/>
<circle cx="1477.3" cy="2166.1" r="7.5" fill="#E8708A"/>
<circle cx="1634.8" cy="2151.1" r="7.5" fill="#E8708A"/>
<circle cx="1792.5" cy="2164.5" r="7.5" fill="#E8708A"/>
<circle cx="1950.6" cy="2150.5" r="7.5" fill="#E8708A"/>
<path d="M1477.3,2172.9 C1503.5,2173.5 1582.3,2179.6 1634.8,2176.6 C1687.3,2173.7 1739.9,2162.9 1792.5,2155.2 C1845.1,2147.4 1924.2,2134.4 1950.6,2130.3" fill="none" stroke="#4460BB" stroke-width="3.8" stroke-linecap="round"/>
<circle cx="1477.3" cy="2172.9" r="7.5" fill="#4460BB"/>
<circle cx="1634.8" cy="2176.6" r="7.5" fill="#4460BB"/>
<circle cx="1792.5" cy="2155.2" r="7.5" fill="#4460BB"/>
<circle cx="1950.6" cy="2130.3" r="7.5" fill="#4460BB"/></g>
<g id="chart-legend"><path d="M73.7,2398.6 h49.6" stroke="#5B80D6" stroke-width="3.2" stroke-linecap="round"/>
<circle cx="98.5" cy="2398.6" r="7.2" fill="#5B80D6"/>
<text x="126.3" y="2407.8" font-family="'Liberation Serif',serif" font-size="26.6">BTH</text>
<path d="M269.2,2398.6 h49.6" stroke="#E8843C" stroke-width="3.2" stroke-linecap="round"/>
<circle cx="294.0" cy="2398.6" r="7.2" fill="#E8843C"/>
<text x="321.8" y="2407.8" font-family="'Liberation Serif',serif" font-size="26.6">YRD</text>
<path d="M464.7,2398.6 h49.6" stroke="#E3BC2D" stroke-width="3.2" stroke-linecap="round"/>
<circle cx="489.5" cy="2398.6" r="7.2" fill="#E3BC2D"/>
<text x="517.3" y="2407.8" font-family="'Liberation Serif',serif" font-size="26.6">PRD</text>
<path d="M660.2,2398.6 h49.6" stroke="#7DCC45" stroke-width="3.2" stroke-linecap="round"/>
<circle cx="685.0" cy="2398.6" r="7.2" fill="#7DCC45"/>
<text x="712.8" y="2407.8" font-family="'Liberation Serif',serif" font-size="26.6">CC</text>
<path d="M855.7,2398.6 h49.6" stroke="#5CD3BD" stroke-width="3.2" stroke-linecap="round"/>
<circle cx="880.5" cy="2398.6" r="7.2" fill="#5CD3BD"/>
<text x="908.3" y="2407.8" font-family="'Liberation Serif',serif" font-size="26.6">MYD</text>
<path d="M1051.2,2398.6 h49.6" stroke="#E5506B" stroke-width="3.2" stroke-linecap="round"/>
<circle cx="1076.0" cy="2398.6" r="7.2" fill="#E5506B"/>
<text x="1103.8" y="2407.8" font-family="'Liberation Serif',serif" font-size="26.6">SP</text>
<path d="M1246.7,2398.6 h49.6" stroke="#2B4684" stroke-width="3.2" stroke-linecap="round"/>
<circle cx="1271.5" cy="2398.6" r="7.2" fill="#2B4684"/>
<text x="1299.3" y="2407.8" font-family="'Liberation Serif',serif" font-size="26.6">GFZC</text>
<path d="M1442.2,2398.6 h49.6" stroke="#A1521D" stroke-width="3.2" stroke-linecap="round"/>
<circle cx="1467.0" cy="2398.6" r="7.2" fill="#A1521D"/>
<text x="1494.8" y="2407.8" font-family="'Liberation Serif',serif" font-size="26.6">CP</text>
<path d="M1637.7,2398.6 h49.6" stroke="#96791F" stroke-width="3.2" stroke-linecap="round"/>
<circle cx="1662.5" cy="2398.6" r="7.2" fill="#96791F"/>
<text x="1690.3" y="2407.8" font-family="'Liberation Serif',serif" font-size="26.6">GP</text>
<path d="M1833.2,2398.6 h49.6" stroke="#4A7A2C" stroke-width="3.2" stroke-linecap="round"/>
<circle cx="1858.0" cy="2398.6" r="7.2" fill="#4A7A2C"/>
<text x="1885.8" y="2407.8" font-family="'Liberation Serif',serif" font-size="26.6">BG</text>
<path d="M73.7,2435.5 h49.6" stroke="#35806B" stroke-width="3.2" stroke-linecap="round"/>
<circle cx="98.5" cy="2435.5" r="7.2" fill="#35806B"/>
<text x="126.3" y="2444.7" font-family="'Liberation Serif',serif" font-size="26.6">HC</text>
<path d="M269.2,2435.5 h49.6" stroke="#A01D2C" stroke-width="3.2" stroke-linecap="round"/>
<circle cx="294.0" cy="2435.5" r="7.2" fill="#A01D2C"/>
<text x="321.8" y="2444.7" font-family="'Liberation Serif',serif" font-size="26.6">SCL</text>
<path d="M464.7,2435.5 h49.6" stroke="#7091DE" stroke-width="3.2" stroke-linecap="round"/>
<circle cx="489.5" cy="2435.5" r="7.2" fill="#7091DE"/>
<text x="517.3" y="2444.7" font-family="'Liberation Serif',serif" font-size="26.6">CS</text>
<path d="M660.2,2435.5 h49.6" stroke="#E79A5E" stroke-width="3.2" stroke-linecap="round"/>
<circle cx="685.0" cy="2435.5" r="7.2" fill="#E79A5E"/>
<text x="712.8" y="2444.7" font-family="'Liberation Serif',serif" font-size="26.6">QZ</text>
<path d="M855.7,2435.5 h49.6" stroke="#EDD040" stroke-width="3.2" stroke-linecap="round"/>
<circle cx="880.5" cy="2435.5" r="7.2" fill="#EDD040"/>
<text x="908.3" y="2444.7" font-family="'Liberation Serif',serif" font-size="26.6">CY</text>
<path d="M1051.2,2435.5 h49.6" stroke="#9ADB6A" stroke-width="3.2" stroke-linecap="round"/>
<circle cx="1076.0" cy="2435.5" r="7.2" fill="#9ADB6A"/>
<text x="1103.8" y="2444.7" font-family="'Liberation Serif',serif" font-size="26.6">HE</text>
<path d="M1246.7,2435.5 h49.6" stroke="#7DEBD5" stroke-width="3.2" stroke-linecap="round"/>
<circle cx="1271.5" cy="2435.5" r="7.2" fill="#7DEBD5"/>
<text x="1299.3" y="2444.7" font-family="'Liberation Serif',serif" font-size="26.6">LX</text>
<path d="M1442.2,2435.5 h49.6" stroke="#E8708A" stroke-width="3.2" stroke-linecap="round"/>
<circle cx="1467.0" cy="2435.5" r="7.2" fill="#E8708A"/>
<text x="1494.8" y="2444.7" font-family="'Liberation Serif',serif" font-size="26.6">CZYRN</text>
<path d="M1637.7,2435.5 h49.6" stroke="#4460BB" stroke-width="3.2" stroke-linecap="round"/>
<circle cx="1662.5" cy="2435.5" r="7.2" fill="#4460BB"/>
<text x="1690.3" y="2444.7" font-family="'Liberation Serif',serif" font-size="26.6">TNS</text></g>
</svg>
</body></html>
